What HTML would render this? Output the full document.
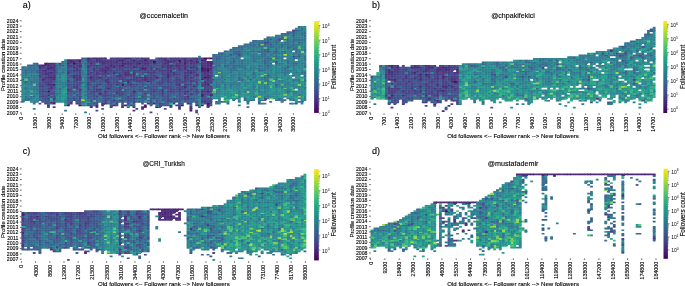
<!DOCTYPE html>
<html><head><meta charset="utf-8"><style>
html,body{margin:0;padding:0;background:#fff;}
svg{display:block;}
text{font-family:"Liberation Sans", sans-serif;fill:#000;stroke:#000;stroke-width:0.12px;filter:grayscale(1);}
</style></head><body>
<svg width="685" height="286" viewBox="0 0 685 286">
<rect width="685" height="286" fill="#fff"/><g>
<path fill="#450457" d="M206.6 69.7h3.42v2.32h-3.42z"/>
<path fill="#30698e" d="M286.4 31.3h3.62v2.72h-3.62zM280.7 33.1h3.32v1.92h-3.32zM280.7 34.8h3.32v2.22h-3.32zM283.5 38.3h3.52v2.72h-3.52zM294.9 40.0h3.12v2.02h-3.12zM237.9 45.3h3.12v2.72h-3.12zM240.8 47.0h3.22v2.02h-3.22zM260.7 48.8h3.32v2.22h-3.32zM252.2 50.5h3.82v2.52h-3.82zM280.7 50.5h3.32v2.52h-3.32zM218.0 54.0h3.02v2.02h-3.02zM235.1 54.0h2.92v2.02h-2.92zM252.2 54.0h3.82v2.02h-3.82zM212.3 55.7h3.72v2.32h-3.72zM215.1 55.7h2.92v2.32h-2.92zM237.9 55.7h3.12v2.32h-3.12zM272.1 55.7h2.92v2.32h-2.92zM229.4 57.5h3.62v2.52h-3.62zM252.2 57.5h3.82v2.52h-3.82zM257.9 57.5h3.12v2.52h-3.12zM215.1 59.2h2.92v1.82h-2.92zM303.5 59.2h2.80v1.82h-2.80zM212.3 61.0h3.72v2.02h-3.72zM55.6 64.4h3.42v2.62h-3.42zM27.1 67.9h2.92v2.12h-2.92zM215.1 67.9h2.92v2.12h-2.92zM292.1 67.9h2.92v2.12h-2.92zM55.6 69.7h3.42v2.32h-3.42zM229.4 69.7h3.62v2.32h-3.62zM235.1 69.7h2.92v2.32h-2.92zM269.3 69.7h3.72v2.32h-3.72zM27.1 71.4h2.92v2.62h-2.92zM280.7 71.4h3.32v2.62h-3.32zM294.9 71.4h3.12v2.62h-3.12zM237.9 73.2h3.12v1.82h-3.12zM257.9 73.2h3.12v1.82h-3.12zM283.5 74.9h3.52v2.12h-3.52zM275.0 78.4h3.02v2.62h-3.02zM55.6 80.1h3.42v1.92h-3.42zM29.9 81.9h3.12v2.12h-3.12zM32.8 81.9h3.22v2.12h-3.22zM215.1 83.6h2.92v2.42h-2.92zM266.4 83.6h3.62v2.42h-3.62zM135.4 85.4h3.62v2.62h-3.62zM158.2 85.4h3.82v2.62h-3.82zM292.1 87.1h2.92v1.92h-2.92zM35.6 88.8h3.42v2.22h-3.42zM126.8 90.6h3.22v2.42h-3.22zM180.9 92.3h3.12v2.72h-3.12zM215.1 92.3h2.92v2.72h-2.92zM69.8 95.8h3.22v2.22h-3.22zM98.3 97.6h3.72v2.42h-3.72zM169.5 97.6h3.52v2.42h-3.52zM175.2 97.6h3.82v2.42h-3.82zM189.5 99.3h3.52v2.72h-3.52zM29.9 101.0h3.12v1.79h-3.12zM67.0 101.0h3.02v2.02h-3.02zM89.8 101.0h3.22v2.02h-3.22zM118.3 101.0h3.72v1.79h-3.72zM297.8 101.0h3.22v1.79h-3.22zM89.8 102.8h3.22v2.22h-3.22zM195.2 102.8h3.82v2.22h-3.82zM64.1 104.5h2.92v1.78h-2.92z"/>
<path fill="#20a386" d="M289.2 54.0h3.82v2.02h-3.82zM243.6 76.6h3.42v2.42h-3.42zM209.4 83.6h3.62v2.42h-3.62zM272.1 83.6h2.92v2.42h-2.92zM300.6 87.1h3.42v1.92h-3.42zM277.8 90.6h3.22v2.42h-3.22zM240.8 92.3h3.22v2.72h-3.22z"/>
<path fill="#443a83" d="M292.1 55.7h2.92v2.32h-2.92zM115.4 57.5h3.62v2.52h-3.62zM121.1 57.5h2.92v2.52h-2.92zM129.7 57.5h3.32v2.52h-3.32zM135.4 57.5h3.62v2.52h-3.62zM143.9 57.5h3.12v2.52h-3.12zM172.4 57.5h3.62v2.52h-3.62zM86.9 59.2h3.12v1.82h-3.12zM115.4 59.2h3.62v1.82h-3.62zM175.2 59.2h3.82v1.82h-3.82zM186.6 59.2h3.42v1.82h-3.42zM89.8 61.0h3.22v2.02h-3.22zM112.6 61.0h3.42v2.02h-3.42zM104.0 62.7h3.02v2.32h-3.02zM109.7 62.7h3.32v2.32h-3.32zM112.6 62.7h3.42v2.32h-3.42zM115.4 62.7h3.62v2.32h-3.62zM161.0 62.7h3.02v2.32h-3.02zM195.2 62.7h3.82v2.32h-3.82zM203.7 62.7h3.32v2.32h-3.32zM44.2 64.4h3.82v2.62h-3.82zM112.6 64.4h3.42v2.62h-3.42zM135.4 64.4h3.62v2.62h-3.62zM146.8 64.4h3.22v2.62h-3.22zM183.8 64.4h3.22v2.62h-3.22zM186.6 64.4h3.42v2.62h-3.42zM192.3 64.4h3.72v2.62h-3.72zM135.4 66.2h3.62v1.82h-3.62zM175.2 66.2h3.82v1.82h-3.82zM195.2 66.2h3.82v1.82h-3.82zM121.1 67.9h2.92v2.12h-2.92zM67.0 69.7h3.02v2.32h-3.02zM189.5 69.7h3.52v2.32h-3.52zM78.4 71.4h3.62v2.62h-3.62zM143.9 71.4h3.12v2.62h-3.12zM149.6 71.4h3.42v2.62h-3.42zM169.5 71.4h3.52v2.62h-3.52zM200.9 71.4h3.12v2.62h-3.12zM41.3 73.2h3.72v1.82h-3.72zM92.6 73.2h3.42v1.82h-3.42zM175.2 73.2h3.82v1.82h-3.82zM200.9 73.2h3.12v1.82h-3.12zM47.0 74.9h3.02v2.12h-3.02zM192.3 74.9h3.72v2.12h-3.72zM203.7 74.9h3.32v2.12h-3.32zM86.9 76.6h3.12v2.42h-3.12zM118.3 76.6h3.72v2.42h-3.72zM121.1 76.6h2.92v2.42h-2.92zM132.5 76.6h3.52v2.42h-3.52zM146.8 76.6h3.22v2.42h-3.22zM200.9 76.6h3.12v2.42h-3.12zM209.4 76.6h3.62v2.42h-3.62zM104.0 78.4h3.02v2.62h-3.02zM126.8 78.4h3.22v2.62h-3.22zM161.0 80.1h3.02v1.92h-3.02zM209.4 80.1h3.62v1.92h-3.62zM44.2 81.9h3.82v2.12h-3.82zM178.1 81.9h2.92v2.12h-2.92zM67.0 83.6h3.02v2.42h-3.02zM86.9 83.6h3.12v2.42h-3.12zM141.1 83.6h2.92v2.42h-2.92zM186.6 83.6h3.42v2.42h-3.42zM189.5 83.6h3.52v2.42h-3.52zM200.9 83.6h3.12v2.42h-3.12zM38.5 85.4h3.52v2.62h-3.52zM49.9 85.4h3.12v2.62h-3.12zM72.7 85.4h3.32v2.62h-3.32zM75.5 85.4h3.52v2.62h-3.52zM95.5 85.4h3.52v2.62h-3.52zM200.9 85.4h3.12v2.62h-3.12zM203.7 85.4h3.32v2.62h-3.32zM72.7 87.1h3.32v1.92h-3.32zM104.0 87.1h3.02v1.92h-3.02zM180.9 87.1h3.12v1.92h-3.12zM203.7 87.1h3.32v1.92h-3.32zM86.9 88.8h3.12v2.22h-3.12zM152.5 88.8h3.52v2.22h-3.52zM195.2 88.8h3.82v2.22h-3.82zM41.3 90.6h3.72v2.42h-3.72zM115.4 90.6h3.62v2.42h-3.62zM166.7 90.6h3.32v2.42h-3.32zM183.8 90.6h3.22v2.42h-3.22zM203.7 90.6h3.32v2.42h-3.32zM209.4 90.6h3.62v2.42h-3.62zM72.7 92.3h3.32v2.72h-3.32zM121.1 92.3h2.92v2.72h-2.92zM98.3 94.1h3.72v1.92h-3.72zM129.7 94.1h3.32v1.92h-3.32zM132.5 94.1h3.52v1.92h-3.52zM41.3 95.8h3.72v2.22h-3.72zM95.5 95.8h3.52v2.22h-3.52zM126.8 95.8h3.22v2.22h-3.22zM78.4 97.6h3.62v2.42h-3.62zM72.7 99.3h3.32v1.75h-3.32zM203.7 99.3h3.32v2.72h-3.32zM149.6 101.0h3.42v2.02h-3.42zM38.5 102.8h2.84v1.74h-2.84zM158.2 102.8h3.82v2.22h-3.82zM95.5 106.3h2.82v1.72h-2.82z"/>
<path fill="#3c4f8a" d="M294.9 29.6h3.12v2.42h-3.12zM237.9 50.5h3.12v2.52h-3.12zM135.4 59.2h3.62v1.82h-3.62zM75.5 61.0h3.52v2.02h-3.52zM266.4 64.4h3.62v2.62h-3.62zM69.8 66.2h3.22v1.82h-3.22zM89.8 67.9h3.22v2.12h-3.22zM112.6 69.7h3.42v2.32h-3.42zM175.2 69.7h3.82v2.32h-3.82zM69.8 71.4h3.22v2.62h-3.22zM72.7 71.4h3.32v2.62h-3.32zM135.4 71.4h3.62v2.62h-3.62zM155.3 71.4h3.72v2.62h-3.72zM158.2 71.4h3.82v2.62h-3.82zM67.0 73.2h3.02v1.82h-3.02zM72.7 73.2h3.32v1.82h-3.32zM89.8 73.2h3.22v1.82h-3.22zM109.7 73.2h3.32v1.82h-3.32zM189.5 73.2h3.52v1.82h-3.52zM44.2 74.9h3.82v2.12h-3.82zM138.2 74.9h3.82v2.12h-3.82zM161.0 74.9h3.02v2.12h-3.02zM175.2 74.9h3.82v2.12h-3.82zM124.0 76.6h3.02v2.42h-3.02zM192.3 76.6h3.72v2.42h-3.72zM86.9 78.4h3.12v2.62h-3.12zM109.7 78.4h3.32v2.62h-3.32zM86.9 80.1h3.12v1.92h-3.12zM132.5 80.1h3.52v1.92h-3.52zM143.9 80.1h3.12v1.92h-3.12zM152.5 80.1h3.52v1.92h-3.52zM141.1 81.9h2.92v2.12h-2.92zM143.9 83.6h3.12v2.42h-3.12zM149.6 83.6h3.42v2.42h-3.42zM52.7 85.4h3.32v2.62h-3.32zM67.0 85.4h3.02v2.62h-3.02zM118.3 85.4h3.72v2.62h-3.72zM155.3 85.4h3.72v2.62h-3.72zM69.8 87.1h3.22v1.92h-3.22zM146.8 87.1h3.22v1.92h-3.22zM155.3 87.1h3.72v1.92h-3.72zM38.5 88.8h3.52v2.22h-3.52zM112.6 88.8h3.42v2.22h-3.42zM124.0 88.8h3.02v2.22h-3.02zM141.1 88.8h2.92v2.22h-2.92zM158.2 88.8h3.82v2.22h-3.82zM52.7 90.6h3.32v2.42h-3.32zM106.9 90.6h3.12v2.42h-3.12zM146.8 90.6h3.22v2.42h-3.22zM155.3 90.6h3.72v2.42h-3.72zM192.3 90.6h3.72v2.42h-3.72zM86.9 92.3h3.12v2.72h-3.12zM89.8 92.3h3.22v2.72h-3.22zM92.6 92.3h3.42v2.72h-3.42zM158.2 92.3h3.82v2.72h-3.82zM143.9 94.1h3.12v1.92h-3.12zM172.4 94.1h3.62v1.92h-3.62zM86.9 95.8h3.12v2.22h-3.12zM101.2 95.8h3.82v2.22h-3.82zM178.1 95.8h2.92v2.22h-2.92zM180.9 95.8h3.12v2.22h-3.12zM104.0 97.6h3.02v2.42h-3.02zM178.1 97.6h2.92v2.42h-2.92zM38.5 99.3h3.52v1.75h-3.52zM75.5 99.3h3.52v2.72h-3.52zM132.5 99.3h3.52v2.72h-3.52zM92.6 101.0h3.42v2.02h-3.42zM95.5 101.0h3.52v2.02h-3.52zM109.7 101.0h3.32v2.02h-3.32zM143.9 101.0h3.12v1.79h-3.12zM178.1 102.8h2.92v2.22h-2.92zM209.4 102.8h2.88v2.22h-2.88zM109.7 104.5h3.32v2.52h-3.32z"/>
<path fill="#38598c" d="M303.5 34.8h2.80v2.22h-2.80zM280.7 38.3h3.32v1.74h-3.32zM266.4 40.0h3.62v2.02h-3.62zM275.0 40.0h3.02v2.02h-3.02zM292.1 40.0h2.92v2.02h-2.92zM252.2 45.3h3.82v2.72h-3.82zM218.0 52.2h3.02v1.82h-3.02zM220.8 52.2h3.22v1.82h-3.22zM272.1 52.2h2.92v1.82h-2.92zM192.3 59.2h3.72v1.82h-3.72zM155.3 61.0h3.72v2.02h-3.72zM155.3 66.2h3.72v1.82h-3.72zM163.9 67.9h3.12v2.12h-3.12zM35.6 69.7h3.42v2.32h-3.42zM260.7 69.7h3.32v2.32h-3.32zM98.3 71.4h3.72v2.62h-3.72zM24.2 73.2h3.82v1.82h-3.82zM152.5 73.2h3.52v1.82h-3.52zM41.3 74.9h3.72v2.12h-3.72zM27.1 76.6h2.92v2.42h-2.92zM169.5 76.6h3.52v2.42h-3.52zM189.5 78.4h3.52v2.62h-3.52zM192.3 78.4h3.72v2.62h-3.72zM169.5 80.1h3.52v1.92h-3.52zM69.8 81.9h3.22v2.12h-3.22zM126.8 85.4h3.22v2.62h-3.22zM195.2 85.4h3.82v2.62h-3.82zM78.4 87.1h3.62v1.92h-3.62zM186.6 87.1h3.42v1.92h-3.42zM146.8 88.8h3.22v2.22h-3.22zM192.3 88.8h3.72v2.22h-3.72zM98.3 90.6h3.72v2.42h-3.72zM138.2 90.6h3.82v2.42h-3.82zM126.8 92.3h3.22v2.72h-3.22zM146.8 92.3h3.22v2.72h-3.22zM163.9 92.3h3.12v2.72h-3.12zM209.4 92.3h3.62v2.72h-3.62zM95.5 94.1h3.52v1.92h-3.52zM135.4 94.1h3.62v1.92h-3.62zM149.6 94.1h3.42v1.92h-3.42zM169.5 94.1h3.52v1.92h-3.52zM175.2 94.1h3.82v1.92h-3.82zM72.7 95.8h3.32v2.22h-3.32zM115.4 95.8h3.62v2.22h-3.62zM132.5 95.8h3.52v2.22h-3.52zM209.4 95.8h3.62v2.22h-3.62zM41.3 97.6h3.72v2.42h-3.72zM69.8 97.6h3.22v2.42h-3.22zM86.9 97.6h3.12v2.42h-3.12zM101.2 97.6h3.82v2.42h-3.82zM135.4 97.6h3.62v2.42h-3.62zM161.0 97.6h3.02v2.42h-3.02zM95.5 99.3h3.52v2.72h-3.52zM106.9 99.3h3.12v2.72h-3.12zM109.7 99.3h3.32v2.72h-3.32zM146.8 99.3h3.22v2.72h-3.22zM163.9 99.3h3.12v2.72h-3.12zM186.6 99.3h3.42v2.72h-3.42zM47.0 101.0h3.02v2.02h-3.02zM126.8 101.0h3.22v2.02h-3.22zM49.9 102.8h3.12v1.74h-3.12zM67.0 102.8h3.02v2.22h-3.02zM166.7 102.8h3.32v2.22h-3.32zM189.5 102.8h2.84v2.22h-2.84zM89.8 104.5h3.22v2.52h-3.22zM149.6 104.5h2.85v1.78h-2.85zM169.5 106.3h2.90v1.72h-2.90z"/>
<path fill="#355e8d" d="M292.1 38.3h2.92v2.72h-2.92zM257.9 43.5h3.12v2.52h-3.12zM280.7 43.5h3.32v2.52h-3.32zM257.9 45.3h3.12v2.72h-3.12zM232.2 47.0h3.82v2.02h-3.82zM294.9 48.8h3.12v2.22h-3.12zM232.2 50.5h3.82v2.52h-3.82zM249.3 50.5h3.72v2.52h-3.72zM232.2 52.2h3.82v1.82h-3.82zM292.1 52.2h2.92v1.82h-2.92zM218.0 55.7h3.02v2.32h-3.02zM81.2 57.5h3.82v2.52h-3.82zM84.1 57.5h2.92v2.52h-2.92zM269.3 57.5h3.72v2.52h-3.72zM292.1 57.5h2.92v2.52h-2.92zM155.3 59.2h3.72v1.82h-3.72zM263.6 59.2h3.42v1.82h-3.42zM98.3 62.7h3.72v2.32h-3.72zM158.2 62.7h3.82v2.32h-3.82zM124.0 64.4h3.02v2.62h-3.02zM235.1 64.4h2.92v2.62h-2.92zM158.2 66.2h3.82v1.82h-3.82zM69.8 67.9h3.22v2.12h-3.22zM112.6 67.9h3.42v2.12h-3.42zM161.0 67.9h3.02v2.12h-3.02zM35.6 71.4h3.42v2.62h-3.42zM55.6 71.4h3.42v2.62h-3.42zM158.2 76.6h3.82v2.42h-3.82zM172.4 76.6h3.62v2.42h-3.62zM237.9 76.6h3.12v2.42h-3.12zM21.4 78.4h3.62v2.62h-3.62zM72.7 78.4h3.32v2.62h-3.32zM29.9 80.1h3.12v1.92h-3.12zM143.9 81.9h3.12v2.12h-3.12zM146.8 83.6h3.22v2.42h-3.22zM155.3 83.6h3.72v2.42h-3.72zM149.6 85.4h3.42v2.62h-3.42zM58.4 87.1h3.62v1.92h-3.62zM95.5 87.1h3.52v1.92h-3.52zM98.3 87.1h3.72v1.92h-3.72zM112.6 87.1h3.42v1.92h-3.42zM129.7 87.1h3.32v1.92h-3.32zM195.2 87.1h3.82v1.92h-3.82zM52.7 88.8h3.32v2.22h-3.32zM89.8 88.8h3.22v2.22h-3.22zM101.2 88.8h3.82v2.22h-3.82zM135.4 88.8h3.62v2.22h-3.62zM129.7 90.6h3.32v2.42h-3.32zM135.4 90.6h3.62v2.42h-3.62zM192.3 92.3h3.72v2.72h-3.72zM38.5 94.1h3.52v1.92h-3.52zM67.0 94.1h3.02v1.92h-3.02zM78.4 94.1h3.62v1.92h-3.62zM192.3 94.1h3.72v1.92h-3.72zM67.0 95.8h3.02v2.22h-3.02zM75.5 95.8h3.52v2.22h-3.52zM106.9 95.8h3.12v2.22h-3.12zM124.0 95.8h3.02v2.22h-3.02zM75.5 97.6h3.52v2.42h-3.52zM109.7 97.6h3.32v2.42h-3.32zM141.1 97.6h2.92v2.42h-2.92zM235.1 97.6h2.92v1.71h-2.92zM115.4 99.3h3.62v2.72h-3.62zM172.4 99.3h3.62v2.72h-3.62zM180.9 99.3h3.12v2.72h-3.12zM163.9 101.0h3.12v2.02h-3.12zM220.8 101.0h3.22v1.79h-3.22zM141.1 102.8h2.81v1.74h-2.81zM161.0 104.5h3.02v1.78h-3.02z"/>
<path fill="#34618d" d="M249.3 43.5h3.72v2.52h-3.72zM240.8 45.3h3.22v2.72h-3.22zM237.9 47.0h3.12v2.02h-3.12zM275.0 47.0h3.02v2.02h-3.02zM283.5 50.5h3.52v2.52h-3.52zM263.6 54.0h3.42v2.02h-3.42zM297.8 54.0h3.22v2.02h-3.22zM84.1 59.2h2.92v1.82h-2.92zM252.2 61.0h3.82v2.02h-3.82zM286.4 61.0h3.62v2.02h-3.62zM263.6 62.7h3.42v2.32h-3.42zM275.0 62.7h3.02v2.32h-3.02zM286.4 62.7h3.62v2.32h-3.62zM294.9 62.7h3.12v2.32h-3.12zM58.4 64.4h3.62v2.62h-3.62zM89.8 66.2h3.22v1.82h-3.22zM132.5 67.9h3.52v2.12h-3.52zM186.6 67.9h3.42v2.12h-3.42zM257.9 67.9h3.12v2.12h-3.12zM29.9 69.7h3.12v2.32h-3.12zM252.2 71.4h3.82v2.62h-3.82zM180.9 73.2h3.12v1.82h-3.12zM178.1 74.9h2.92v2.12h-2.92zM69.8 76.6h3.22v2.42h-3.22zM263.6 76.6h3.42v2.42h-3.42zM67.0 78.4h3.02v2.62h-3.02zM172.4 78.4h3.62v2.62h-3.62zM223.7 78.4h3.32v2.62h-3.32zM155.3 80.1h3.72v1.92h-3.72zM92.6 81.9h3.42v2.12h-3.42zM220.8 81.9h3.22v2.12h-3.22zM161.0 83.6h3.02v2.42h-3.02zM172.4 83.6h3.62v2.42h-3.62zM192.3 83.6h3.72v2.42h-3.72zM175.2 85.4h3.82v2.62h-3.82zM161.0 87.1h3.02v1.92h-3.02zM49.9 90.6h3.12v2.42h-3.12zM101.2 90.6h3.82v2.42h-3.82zM163.9 90.6h3.12v2.42h-3.12zM101.2 92.3h3.82v2.72h-3.82zM141.1 92.3h2.92v2.72h-2.92zM186.6 94.1h3.42v1.92h-3.42zM24.2 95.8h3.82v2.22h-3.82zM32.8 95.8h3.22v2.22h-3.22zM47.0 95.8h3.02v2.22h-3.02zM95.5 97.6h3.52v2.42h-3.52zM209.4 97.6h3.62v2.42h-3.62zM98.3 99.3h3.72v2.72h-3.72zM292.1 99.3h2.92v1.75h-2.92zM257.9 101.0h2.82v2.02h-2.82zM121.1 102.8h2.86v2.22h-2.86zM163.9 102.8h3.12v2.22h-3.12zM226.5 102.8h2.88v1.74h-2.88zM289.2 102.8h3.82v1.74h-3.82zM189.5 104.5h2.84v2.52h-2.84zM101.2 108.0h2.82v1.76h-2.82z"/>
<path fill="#414487" d="M266.4 41.8h3.62v2.22h-3.62zM292.1 47.0h2.92v2.02h-2.92zM169.5 59.2h3.52v1.82h-3.52zM124.0 61.0h3.02v2.02h-3.02zM58.4 62.7h3.62v2.32h-3.62zM132.5 62.7h3.52v2.32h-3.52zM155.3 62.7h3.72v2.32h-3.72zM192.3 62.7h3.72v2.32h-3.72zM104.0 64.4h3.02v2.62h-3.02zM126.8 64.4h3.22v2.62h-3.22zM132.5 64.4h3.52v2.62h-3.52zM152.5 66.2h3.52v1.82h-3.52zM44.2 67.9h3.82v2.12h-3.82zM115.4 67.9h3.62v2.12h-3.62zM138.2 67.9h3.82v2.12h-3.82zM115.4 69.7h3.62v2.32h-3.62zM135.4 69.7h3.62v2.32h-3.62zM146.8 69.7h3.22v2.32h-3.22zM149.6 69.7h3.42v2.32h-3.42zM195.2 69.7h3.82v2.32h-3.82zM106.9 71.4h3.12v2.62h-3.12zM118.3 71.4h3.72v2.62h-3.72zM49.9 73.2h3.12v1.82h-3.12zM121.1 73.2h2.92v1.82h-2.92zM141.1 73.2h2.92v1.82h-2.92zM186.6 73.2h3.42v1.82h-3.42zM69.8 74.9h3.22v2.12h-3.22zM89.8 74.9h3.22v2.12h-3.22zM121.1 74.9h2.92v2.12h-2.92zM38.5 76.6h3.52v2.42h-3.52zM141.1 76.6h2.92v2.42h-2.92zM152.5 76.6h3.52v2.42h-3.52zM163.9 76.6h3.12v2.42h-3.12zM95.5 78.4h3.52v2.62h-3.52zM135.4 78.4h3.62v2.62h-3.62zM41.3 80.1h3.72v1.92h-3.72zM72.7 80.1h3.32v1.92h-3.32zM98.3 80.1h3.72v1.92h-3.72zM172.4 80.1h3.62v1.92h-3.62zM195.2 80.1h3.82v1.92h-3.82zM41.3 81.9h3.72v2.12h-3.72zM166.7 81.9h3.32v2.12h-3.32zM206.6 81.9h3.42v2.12h-3.42zM38.5 83.6h3.52v2.42h-3.52zM44.2 83.6h3.82v2.42h-3.82zM72.7 83.6h3.32v2.42h-3.32zM135.4 83.6h3.62v2.42h-3.62zM158.2 83.6h3.82v2.42h-3.82zM146.8 85.4h3.22v2.62h-3.22zM178.1 85.4h2.92v2.62h-2.92zM183.8 87.1h3.22v1.92h-3.22zM41.3 88.8h3.72v2.22h-3.72zM49.9 88.8h3.12v2.22h-3.12zM69.8 88.8h3.22v2.22h-3.22zM109.7 88.8h3.32v2.22h-3.32zM138.2 88.8h3.82v2.22h-3.82zM183.8 88.8h3.22v2.22h-3.22zM200.9 88.8h3.12v2.22h-3.12zM121.1 90.6h2.92v2.42h-2.92zM149.6 90.6h3.42v2.42h-3.42zM52.7 92.3h3.32v2.72h-3.32zM178.1 92.3h2.92v2.72h-2.92zM200.9 92.3h3.12v2.72h-3.12zM92.6 94.1h3.42v1.92h-3.42zM109.7 94.1h3.32v1.92h-3.32zM121.1 94.1h2.92v1.92h-2.92zM138.2 94.1h3.82v1.92h-3.82zM178.1 94.1h2.92v1.92h-2.92zM206.6 94.1h3.42v1.92h-3.42zM38.5 95.8h3.52v2.22h-3.52zM112.6 95.8h3.42v2.22h-3.42zM166.7 95.8h3.32v2.22h-3.32zM183.8 95.8h3.22v2.22h-3.22zM67.0 97.6h3.02v2.42h-3.02zM78.4 99.3h3.62v2.72h-3.62zM121.1 99.3h2.92v2.72h-2.92zM178.1 99.3h2.92v2.72h-2.92zM206.6 99.3h3.42v2.72h-3.42zM209.4 99.3h2.88v2.72h-2.88zM52.7 101.0h3.32v2.02h-3.32zM280.7 101.0h2.81v1.79h-2.81zM126.8 106.3h2.86v1.72h-2.86z"/>
<path fill="#5cc863" d="M257.9 52.2h3.12v1.82h-3.12zM280.7 83.6h3.32v2.42h-3.32zM223.7 99.3h3.32v2.72h-3.32z"/>
<path fill="#1f948c" d="M300.6 47.0h3.42v2.02h-3.42zM303.5 52.2h2.80v1.82h-2.80zM252.2 62.7h3.82v2.32h-3.82zM272.1 64.4h2.92v2.62h-2.92zM237.9 67.9h3.12v2.12h-3.12zM294.9 67.9h3.12v2.12h-3.12zM98.3 74.9h3.72v2.12h-3.72zM277.8 74.9h3.22v2.12h-3.22zM198.0 76.6h3.02v2.42h-3.02zM220.8 83.6h3.22v2.42h-3.22zM246.5 83.6h3.52v2.42h-3.52zM226.5 85.4h3.52v2.62h-3.52zM226.5 87.1h3.52v1.92h-3.52zM275.0 87.1h3.02v1.92h-3.02zM240.8 88.8h3.22v2.22h-3.22zM249.3 88.8h3.72v2.22h-3.72zM283.5 90.6h3.52v2.42h-3.52zM297.8 90.6h3.22v2.42h-3.22zM81.2 92.3h3.82v2.72h-3.82zM84.1 92.3h2.92v2.72h-2.92zM229.4 92.3h3.62v2.72h-3.62zM257.9 92.3h3.12v2.72h-3.12zM21.4 94.1h3.62v1.92h-3.62zM49.9 94.1h3.12v1.92h-3.12zM183.8 94.1h3.22v1.92h-3.22zM263.6 94.1h3.42v1.92h-3.42zM55.6 97.6h3.42v2.42h-3.42zM246.5 97.6h3.52v2.42h-3.52zM300.6 97.6h3.42v2.42h-3.42zM29.9 99.3h3.12v2.72h-3.12zM61.3 99.3h3.72v2.72h-3.72zM246.5 99.3h3.52v2.72h-3.52zM146.8 101.0h3.22v2.02h-3.22zM175.2 101.0h3.82v1.79h-3.82zM112.6 102.8h3.42v2.22h-3.42z"/>
<path fill="#471063" d="M44.2 62.7h3.82v2.32h-3.82zM200.9 66.2h3.12v1.82h-3.12zM141.1 67.9h2.92v2.12h-2.92zM206.6 67.9h3.42v2.12h-3.42zM146.8 80.1h3.22v1.92h-3.22zM180.9 104.5h2.89v1.78h-2.89zM200.9 104.5h2.84v1.78h-2.84z"/>
<path fill="#297b8e" d="M297.8 33.1h3.22v1.92h-3.22zM286.4 34.8h3.62v2.22h-3.62zM303.5 36.6h2.80v2.42h-2.80zM257.9 40.0h3.12v2.02h-3.12zM249.3 41.8h3.72v2.22h-3.72zM255.0 47.0h3.02v2.02h-3.02zM277.8 47.0h3.22v2.02h-3.22zM246.5 50.5h3.52v2.52h-3.52zM286.4 50.5h3.62v2.52h-3.62zM303.5 50.5h2.80v2.52h-2.80zM252.2 52.2h3.82v1.82h-3.82zM226.5 54.0h3.52v2.02h-3.52zM280.7 54.0h3.32v2.02h-3.32zM292.1 54.0h2.92v2.02h-2.92zM240.8 55.7h3.22v1.77h-3.22zM249.3 55.7h3.72v2.32h-3.72zM289.2 55.7h3.82v2.32h-3.82zM249.3 59.2h3.72v1.82h-3.72zM84.1 61.0h2.92v2.02h-2.92zM257.9 61.0h3.12v2.02h-3.12zM249.3 64.4h3.72v2.62h-3.72zM260.7 64.4h3.32v2.62h-3.32zM277.8 64.4h3.22v2.62h-3.22zM294.9 64.4h3.12v2.62h-3.12zM263.6 66.2h3.42v1.82h-3.42zM283.5 66.2h3.52v1.82h-3.52zM58.4 67.9h3.62v2.12h-3.62zM64.1 67.9h2.92v2.12h-2.92zM260.7 67.9h3.32v2.12h-3.32zM280.7 67.9h3.32v2.12h-3.32zM212.3 69.7h3.72v2.32h-3.72zM263.6 69.7h3.42v2.32h-3.42zM294.9 69.7h3.12v2.32h-3.12zM58.4 71.4h3.62v2.62h-3.62zM243.6 71.4h3.42v2.62h-3.42zM198.0 73.2h3.02v1.82h-3.02zM235.1 73.2h2.92v1.82h-2.92zM58.4 74.9h3.62v2.12h-3.62zM198.0 74.9h3.02v2.12h-3.02zM237.9 74.9h3.12v2.12h-3.12zM269.3 74.9h3.72v2.12h-3.72zM232.2 76.6h3.82v2.42h-3.82zM294.9 78.4h3.12v2.62h-3.12zM283.5 80.1h3.52v1.92h-3.52zM266.4 81.9h3.62v2.12h-3.62zM27.1 83.6h2.92v2.42h-2.92zM243.6 85.4h3.42v2.62h-3.42zM292.1 85.4h2.92v2.62h-2.92zM252.2 87.1h3.82v1.92h-3.82zM280.7 87.1h3.32v1.92h-3.32zM29.9 88.8h3.12v2.22h-3.12zM218.0 88.8h3.02v2.22h-3.02zM294.9 90.6h3.12v2.42h-3.12zM64.1 92.3h2.92v2.72h-2.92zM75.5 92.3h3.52v2.72h-3.52zM235.1 92.3h2.92v2.72h-2.92zM252.2 92.3h3.82v2.72h-3.82zM292.1 92.3h2.92v2.72h-2.92zM294.9 92.3h3.12v2.72h-3.12zM232.2 94.1h3.82v1.92h-3.82zM300.6 94.1h3.42v1.92h-3.42zM58.4 95.8h3.62v2.22h-3.62zM155.3 95.8h3.72v2.22h-3.72zM303.5 95.8h2.80v2.22h-2.80zM266.4 97.6h3.62v1.71h-3.62zM303.5 97.6h2.80v2.42h-2.80zM84.1 99.3h2.92v2.72h-2.92zM218.0 101.0h3.02v2.02h-3.02zM223.7 101.0h3.32v1.79h-3.32zM84.1 111.5h2.83v1.75h-2.83z"/>
<path fill="#472d7b" d="M161.0 57.5h3.02v2.52h-3.02zM180.9 57.5h3.12v2.52h-3.12zM183.8 57.5h3.22v2.52h-3.22zM195.2 57.5h3.82v2.52h-3.82zM75.5 59.2h3.52v1.82h-3.52zM138.2 59.2h3.82v1.82h-3.82zM195.2 59.2h3.82v1.82h-3.82zM86.9 61.0h3.12v2.02h-3.12zM98.3 61.0h3.72v2.02h-3.72zM126.8 61.0h3.22v2.02h-3.22zM189.5 61.0h3.52v2.02h-3.52zM52.7 62.7h3.32v2.32h-3.32zM135.4 62.7h3.62v2.32h-3.62zM152.5 62.7h3.52v2.32h-3.52zM163.9 62.7h3.12v2.32h-3.12zM166.7 62.7h3.32v2.32h-3.32zM189.5 62.7h3.52v2.32h-3.52zM206.6 62.7h3.42v2.32h-3.42zM118.3 64.4h3.72v2.62h-3.72zM166.7 64.4h3.32v2.62h-3.32zM118.3 66.2h3.72v1.82h-3.72zM38.5 67.9h3.52v2.12h-3.52zM49.9 67.9h3.12v2.12h-3.12zM52.7 67.9h3.32v2.12h-3.32zM75.5 67.9h3.52v2.12h-3.52zM41.3 69.7h3.72v2.32h-3.72zM161.0 69.7h3.02v2.32h-3.02zM186.6 69.7h3.42v2.32h-3.42zM67.0 71.4h3.02v2.62h-3.02zM183.8 71.4h3.22v2.62h-3.22zM203.7 71.4h3.32v2.62h-3.32zM206.6 71.4h3.42v2.62h-3.42zM47.0 73.2h3.02v1.82h-3.02zM203.7 73.2h3.32v1.82h-3.32zM126.8 74.9h3.22v2.12h-3.22zM72.7 76.6h3.32v2.42h-3.32zM166.7 76.6h3.32v2.42h-3.32zM189.5 76.6h3.52v2.42h-3.52zM92.6 80.1h3.42v1.92h-3.42zM166.7 80.1h3.32v1.92h-3.32zM41.3 85.4h3.72v2.62h-3.72zM75.5 87.1h3.52v1.92h-3.52zM161.0 90.6h3.02v2.42h-3.02zM186.6 95.8h3.42v2.22h-3.42zM203.7 101.0h3.32v2.02h-3.32zM178.1 106.3h2.84v2.72h-2.84zM178.1 108.0h2.84v1.76h-2.84z"/>
<path fill="#481b6d" d="M67.0 59.2h3.02v1.82h-3.02zM78.4 61.0h3.62v2.02h-3.62zM206.6 61.0h3.42v2.02h-3.42zM138.2 62.7h3.82v2.32h-3.82zM183.8 62.7h3.22v2.32h-3.22zM112.6 66.2h3.42v1.82h-3.42zM143.9 67.9h3.12v2.12h-3.12zM195.2 73.2h3.82v1.82h-3.82zM89.8 76.6h3.22v2.42h-3.22zM52.7 83.6h3.32v2.42h-3.32zM47.0 94.1h3.02v1.92h-3.02zM132.5 106.3h2.86v1.72h-2.86z"/>
<path fill="#1f9e89" d="M277.8 66.2h3.22v1.82h-3.22zM235.1 78.4h2.92v2.62h-2.92zM220.8 85.4h3.22v2.62h-3.22zM303.5 85.4h2.80v2.62h-2.80zM260.7 88.8h3.32v2.22h-3.32zM272.1 88.8h2.92v2.22h-2.92zM277.8 88.8h3.22v2.22h-3.22zM232.2 90.6h3.82v2.42h-3.82zM243.6 92.3h3.42v2.72h-3.42zM280.7 94.1h3.32v1.92h-3.32zM206.6 95.8h3.42v2.22h-3.42zM21.4 97.6h3.62v2.42h-3.62zM61.3 97.6h3.72v2.42h-3.72zM198.0 101.0h3.02v2.02h-3.02z"/>
<path fill="#3dbc74" d="M215.1 87.1h2.92v1.92h-2.92z"/>
<path fill="#31b57b" d="M29.9 90.6h3.12v2.42h-3.12zM146.8 97.6h3.22v2.42h-3.22zM294.9 97.6h3.12v2.42h-3.12z"/>
<path fill="#482576" d="M95.5 57.5h3.52v2.52h-3.52zM98.3 57.5h3.72v2.52h-3.72zM183.8 59.2h3.22v1.82h-3.22zM115.4 61.0h3.62v2.02h-3.62zM169.5 61.0h3.52v2.02h-3.52zM49.9 62.7h3.12v2.32h-3.12zM89.8 62.7h3.22v2.32h-3.22zM200.9 64.4h3.12v2.62h-3.12zM141.1 66.2h2.92v1.82h-2.92zM106.9 67.9h3.12v2.12h-3.12zM44.2 69.7h3.82v2.32h-3.82zM169.5 69.7h3.52v2.32h-3.52zM189.5 71.4h3.52v2.62h-3.52zM172.4 73.2h3.62v1.82h-3.62zM72.7 74.9h3.32v2.12h-3.32zM78.4 74.9h3.62v2.12h-3.62zM47.0 76.6h3.02v2.42h-3.02zM49.9 76.6h3.12v2.42h-3.12zM143.9 76.6h3.12v2.42h-3.12zM52.7 78.4h3.32v2.62h-3.32zM104.0 80.1h3.02v1.92h-3.02zM106.9 81.9h3.12v2.12h-3.12zM126.8 81.9h3.22v2.12h-3.22zM203.7 81.9h3.32v2.12h-3.32zM49.9 83.6h3.12v2.42h-3.12zM192.3 85.4h3.72v2.62h-3.72zM178.1 88.8h2.92v2.22h-2.92zM186.6 90.6h3.42v2.42h-3.42zM200.9 95.8h3.12v2.22h-3.12zM49.9 101.0h3.12v2.02h-3.12zM47.0 104.5h2.89v2.52h-2.89zM112.6 104.5h3.42v1.78h-3.42z"/>
<path fill="#48186a" d="M189.5 59.2h3.52v1.82h-3.52zM69.8 61.0h3.22v2.02h-3.22zM41.3 64.4h3.72v2.62h-3.72zM209.4 64.4h3.62v2.62h-3.62zM203.7 67.9h3.32v2.12h-3.32zM104.0 69.7h3.02v2.32h-3.02zM200.9 69.7h3.12v2.32h-3.12zM166.7 74.9h3.32v2.12h-3.32zM69.8 101.0h2.88v2.02h-2.88zM152.5 102.8h3.52v1.74h-3.52zM206.6 104.5h3.42v2.52h-3.42z"/>
<path fill="#20928c" d="M243.6 47.0h3.42v2.02h-3.42zM280.7 48.8h3.32v2.22h-3.32zM300.6 52.2h3.42v1.82h-3.42zM294.9 54.0h3.12v2.02h-3.12zM255.0 62.7h3.02v2.32h-3.02zM246.5 64.4h3.52v2.62h-3.52zM106.9 74.9h3.12v2.12h-3.12zM61.3 78.4h3.72v2.62h-3.72zM243.6 78.4h3.42v2.62h-3.42zM246.5 78.4h3.52v2.62h-3.52zM124.0 81.9h3.02v2.12h-3.02zM269.3 81.9h3.72v2.12h-3.72zM21.4 85.4h3.62v2.62h-3.62zM55.6 85.4h3.42v2.62h-3.42zM249.3 85.4h3.72v2.62h-3.72zM218.0 87.1h3.02v1.92h-3.02zM272.1 87.1h2.92v1.92h-2.92zM27.1 88.8h2.92v2.22h-2.92zM64.1 88.8h2.92v2.22h-2.92zM269.3 88.8h3.72v2.22h-3.72zM223.7 90.6h3.32v2.42h-3.32zM235.1 90.6h2.92v2.42h-2.92zM269.3 90.6h3.72v2.42h-3.72zM272.1 90.6h2.92v2.42h-2.92zM289.2 90.6h3.82v2.42h-3.82zM303.5 90.6h2.80v2.42h-2.80zM218.0 94.1h3.02v1.92h-3.02zM237.9 94.1h3.12v1.92h-3.12zM275.0 94.1h3.02v1.92h-3.02zM303.5 94.1h2.80v1.92h-2.80zM81.2 95.8h3.82v2.22h-3.82zM220.8 95.8h3.22v1.76h-3.22zM229.4 95.8h3.62v2.22h-3.62zM294.9 95.8h3.12v2.22h-3.12zM64.1 97.6h2.92v2.42h-2.92zM198.0 97.6h3.02v2.42h-3.02zM237.9 97.6h2.87v2.42h-2.87zM275.0 97.6h3.02v2.42h-3.02zM49.9 99.3h3.12v2.72h-3.12zM126.8 104.5h3.22v2.52h-3.22z"/>
<path fill="#1fa188" d="M297.8 69.7h3.22v2.32h-3.22zM289.2 71.4h3.82v1.76h-3.82zM115.4 73.2h3.62v1.82h-3.62zM289.2 76.6h2.86v2.42h-2.86zM240.8 83.6h3.22v2.42h-3.22zM64.1 90.6h2.92v2.42h-2.92zM112.6 92.3h3.42v2.72h-3.42zM220.8 94.1h3.22v1.92h-3.22z"/>
<path fill="#3b528b" d="M286.4 33.1h3.62v1.92h-3.62zM269.3 43.5h3.72v2.52h-3.72zM297.8 55.7h3.22v2.32h-3.22zM138.2 57.5h3.82v2.52h-3.82zM155.3 57.5h3.72v2.52h-3.72zM215.1 57.5h2.92v2.52h-2.92zM232.2 59.2h3.82v1.82h-3.82zM186.6 62.7h3.42v2.32h-3.42zM198.0 62.7h3.02v2.32h-3.02zM61.3 64.4h3.72v2.62h-3.72zM152.5 64.4h3.52v2.62h-3.52zM155.3 64.4h3.72v2.62h-3.72zM180.9 71.4h3.12v2.62h-3.12zM104.0 73.2h3.02v1.82h-3.02zM112.6 73.2h3.42v1.82h-3.42zM180.9 74.9h3.12v2.12h-3.12zM189.5 74.9h3.52v2.12h-3.52zM104.0 76.6h3.02v2.42h-3.02zM112.6 76.6h3.42v2.42h-3.42zM169.5 78.4h3.52v2.62h-3.52zM212.3 78.4h3.72v2.62h-3.72zM249.3 78.4h3.72v2.62h-3.72zM69.8 80.1h3.22v1.92h-3.22zM89.8 80.1h3.22v1.92h-3.22zM186.6 80.1h3.42v1.92h-3.42zM52.7 81.9h3.32v2.12h-3.32zM67.0 81.9h3.02v2.12h-3.02zM72.7 81.9h3.32v2.12h-3.32zM98.3 81.9h3.72v2.12h-3.72zM129.7 81.9h3.32v2.12h-3.32zM69.8 83.6h3.22v2.42h-3.22zM166.7 83.6h3.32v2.42h-3.32zM169.5 83.6h3.52v2.42h-3.52zM275.0 83.6h3.02v2.42h-3.02zM44.2 85.4h3.82v2.62h-3.82zM69.8 85.4h3.22v2.62h-3.22zM141.1 85.4h2.92v2.62h-2.92zM189.5 85.4h3.52v2.62h-3.52zM41.3 87.1h3.72v1.92h-3.72zM44.2 87.1h3.82v1.92h-3.82zM67.0 87.1h3.02v1.92h-3.02zM189.5 87.1h3.52v1.92h-3.52zM126.8 88.8h3.22v2.22h-3.22zM155.3 88.8h3.72v2.22h-3.72zM166.7 88.8h3.32v2.22h-3.32zM175.2 88.8h3.82v2.22h-3.82zM112.6 90.6h3.42v2.42h-3.42zM41.3 92.3h3.72v2.72h-3.72zM78.4 92.3h3.62v2.72h-3.62zM109.7 92.3h3.32v2.72h-3.32zM129.7 92.3h3.32v2.72h-3.32zM166.7 92.3h3.32v2.72h-3.32zM52.7 94.1h3.32v1.92h-3.32zM195.2 94.1h3.82v1.92h-3.82zM203.7 94.1h3.32v1.92h-3.32zM92.6 95.8h3.42v2.22h-3.42zM121.1 95.8h2.92v2.22h-2.92zM129.7 95.8h3.32v2.22h-3.32zM152.5 95.8h3.52v2.22h-3.52zM129.7 97.6h3.32v2.42h-3.32zM163.9 97.6h3.12v2.42h-3.12zM180.9 97.6h3.12v2.42h-3.12zM200.9 97.6h3.12v2.42h-3.12zM44.2 99.3h3.82v2.72h-3.82zM52.7 99.3h3.32v2.72h-3.32zM169.5 99.3h3.52v2.72h-3.52zM183.8 99.3h3.22v2.72h-3.22zM192.3 99.3h3.72v2.72h-3.72zM249.3 99.3h3.72v1.75h-3.72zM263.6 99.3h2.81v1.75h-2.81zM44.2 101.0h3.82v2.02h-3.82zM121.1 101.0h2.92v2.02h-2.92zM121.1 104.5h2.92v2.52h-2.92zM132.5 104.5h2.86v2.52h-2.86z"/>
<path fill="#8ed645" d="M260.7 43.5h3.32v2.52h-3.32zM300.6 50.5h3.42v2.52h-3.42zM260.7 74.9h3.32v2.12h-3.32zM29.9 94.1h3.12v1.92h-3.12z"/>
<path fill="#24878e" d="M303.5 26.1h2.80v1.92h-2.80zM297.8 27.8h3.22v2.22h-3.22zM286.4 36.6h3.62v2.42h-3.62zM272.1 40.0h2.92v2.02h-2.92zM297.8 40.0h3.22v2.02h-3.22zM289.2 41.8h3.82v2.22h-3.82zM289.2 47.0h3.82v2.02h-3.82zM297.8 52.2h3.22v1.82h-3.22zM303.5 54.0h2.80v2.02h-2.80zM286.4 55.7h3.62v2.32h-3.62zM300.6 57.5h3.42v2.52h-3.42zM220.8 59.2h3.22v1.82h-3.22zM283.5 61.0h3.52v2.02h-3.52zM81.2 64.4h3.82v2.62h-3.82zM81.2 66.2h3.82v1.82h-3.82zM152.5 67.9h3.52v2.12h-3.52zM223.7 67.9h3.32v2.12h-3.32zM240.8 67.9h3.22v2.12h-3.22zM297.8 67.9h3.22v2.12h-3.22zM212.3 71.4h3.72v2.62h-3.72zM240.8 71.4h3.22v2.62h-3.22zM255.0 71.4h3.02v2.62h-3.02zM266.4 71.4h3.62v2.62h-3.62zM249.3 74.9h3.72v2.12h-3.72zM81.2 76.6h3.82v2.42h-3.82zM235.1 76.6h2.92v2.42h-2.92zM300.6 76.6h3.42v2.42h-3.42zM283.5 78.4h3.52v2.62h-3.52zM223.7 80.1h3.32v1.92h-3.32zM269.3 80.1h3.72v1.92h-3.72zM235.1 81.9h2.92v2.12h-2.92zM198.0 83.6h3.02v2.42h-3.02zM263.6 83.6h3.42v2.42h-3.42zM143.9 85.4h3.12v2.62h-3.12zM61.3 87.1h3.72v1.92h-3.72zM237.9 87.1h3.12v1.92h-3.12zM81.2 88.8h3.82v2.22h-3.82zM215.1 88.8h2.92v2.22h-2.92zM255.0 88.8h3.02v2.22h-3.02zM263.6 88.8h3.42v2.22h-3.42zM275.0 88.8h3.02v2.22h-3.02zM32.8 90.6h3.22v2.42h-3.22zM266.4 90.6h3.62v2.42h-3.62zM21.4 92.3h3.62v2.72h-3.62zM212.3 92.3h3.72v2.72h-3.72zM263.6 92.3h3.42v2.72h-3.42zM300.6 92.3h3.42v2.72h-3.42zM81.2 94.1h3.82v1.92h-3.82zM249.3 94.1h3.72v1.92h-3.72zM255.0 94.1h3.02v1.92h-3.02zM286.4 94.1h3.62v1.92h-3.62zM64.1 95.8h2.92v2.22h-2.92zM84.1 95.8h2.92v2.22h-2.92zM218.0 95.8h3.02v2.22h-3.02zM32.8 97.6h3.22v2.42h-3.22zM35.6 97.6h3.42v2.42h-3.42zM58.4 97.6h3.62v2.42h-3.62zM212.3 97.6h3.72v1.71h-3.72zM280.7 97.6h2.81v2.42h-2.81zM27.1 99.3h2.92v1.75h-2.92zM289.2 99.3h3.82v1.75h-3.82zM263.6 102.8h2.81v1.74h-2.81z"/>
<path fill="#67cc5c" d="M263.6 81.9h3.42v2.12h-3.42z"/>
<path fill="#26ad81" d="M135.4 73.2h3.62v1.82h-3.62zM180.9 83.6h3.12v2.42h-3.12zM72.7 88.8h3.32v2.22h-3.32zM255.0 90.6h3.02v2.42h-3.02zM286.4 95.8h3.62v2.22h-3.62z"/>
<path fill="#26828e" d="M289.2 43.5h3.82v2.52h-3.82zM280.7 47.0h3.32v2.02h-3.32zM249.3 48.8h3.72v2.22h-3.72zM300.6 48.8h3.42v2.22h-3.42zM269.3 52.2h3.72v1.82h-3.72zM300.6 54.0h3.42v2.02h-3.42zM260.7 57.5h3.32v2.52h-3.32zM277.8 57.5h3.22v2.52h-3.22zM235.1 61.0h2.92v2.02h-2.92zM294.9 61.0h3.12v2.02h-3.12zM81.2 62.7h3.82v2.32h-3.82zM220.8 62.7h3.22v2.32h-3.22zM246.5 62.7h3.52v2.32h-3.52zM260.7 62.7h3.32v2.32h-3.32zM289.2 62.7h3.82v2.32h-3.82zM229.4 64.4h3.62v2.62h-3.62zM257.9 66.2h3.12v1.82h-3.12zM275.0 67.9h3.02v2.12h-3.02zM286.4 67.9h3.62v2.12h-3.62zM64.1 69.7h2.92v2.32h-2.92zM249.3 69.7h3.72v2.32h-3.72zM300.6 69.7h3.42v2.32h-3.42zM297.8 71.4h3.22v2.62h-3.22zM212.3 73.2h3.72v1.82h-3.72zM294.9 73.2h3.12v1.82h-3.12zM64.1 74.9h2.92v2.12h-2.92zM84.1 74.9h2.92v2.12h-2.92zM240.8 74.9h3.22v2.12h-3.22zM246.5 74.9h3.52v2.12h-3.52zM255.0 74.9h3.02v2.12h-3.02zM275.0 74.9h3.02v2.12h-3.02zM35.6 76.6h3.42v2.42h-3.42zM272.1 76.6h2.92v2.42h-2.92zM303.5 76.6h2.80v2.42h-2.80zM220.8 78.4h3.22v2.62h-3.22zM255.0 78.4h3.02v2.62h-3.02zM266.4 78.4h3.62v2.62h-3.62zM27.1 80.1h2.92v1.92h-2.92zM252.2 80.1h3.82v1.92h-3.82zM275.0 80.1h3.02v1.92h-3.02zM21.4 81.9h3.62v2.12h-3.62zM226.5 81.9h3.52v2.12h-3.52zM275.0 81.9h3.02v2.12h-3.02zM280.7 81.9h3.32v2.12h-3.32zM303.5 81.9h2.80v2.12h-2.80zM21.4 83.6h3.62v2.42h-3.62zM24.2 83.6h3.82v2.42h-3.82zM232.2 83.6h3.82v2.42h-3.82zM64.1 85.4h2.92v2.62h-2.92zM81.2 85.4h3.82v2.62h-3.82zM300.6 85.4h3.42v2.62h-3.42zM84.1 87.1h2.92v1.92h-2.92zM21.4 88.8h3.62v2.22h-3.62zM198.0 88.8h3.02v2.22h-3.02zM232.2 88.8h3.82v2.22h-3.82zM237.9 88.8h3.12v2.22h-3.12zM283.5 88.8h3.52v2.22h-3.52zM286.4 88.8h3.62v2.22h-3.62zM32.8 92.3h3.22v2.72h-3.22zM223.7 92.3h3.32v2.72h-3.32zM215.1 94.1h2.92v1.92h-2.92zM218.0 97.6h2.83v2.42h-2.83zM292.1 97.6h2.92v2.42h-2.92zM58.4 99.3h3.62v2.72h-3.62zM55.6 101.0h3.42v1.79h-3.42zM84.1 101.0h2.92v2.02h-2.92zM84.1 104.5h2.92v1.78h-2.92zM32.8 108.0h2.84v1.76h-2.84z"/>
<path fill="#2c738e" d="M300.6 29.6h3.42v2.42h-3.42zM300.6 31.3h3.42v2.72h-3.42zM275.0 34.8h3.02v2.22h-3.02zM283.5 34.8h3.52v2.22h-3.52zM263.6 38.3h3.42v2.72h-3.42zM277.8 40.0h2.86v2.02h-2.86zM252.2 41.8h3.82v2.22h-3.82zM235.1 48.8h2.92v2.22h-2.92zM243.6 50.5h3.42v2.52h-3.42zM255.0 50.5h3.02v2.52h-3.02zM283.5 52.2h3.52v1.82h-3.52zM215.1 54.0h2.92v2.02h-2.92zM223.7 54.0h3.32v2.02h-3.32zM286.4 54.0h3.62v2.02h-3.62zM226.5 55.7h3.52v2.32h-3.52zM263.6 55.7h3.42v2.32h-3.42zM220.8 57.5h3.22v2.52h-3.22zM223.7 57.5h3.32v2.52h-3.32zM237.9 57.5h2.87v2.52h-2.87zM263.6 57.5h3.42v2.52h-3.42zM280.7 59.2h3.32v1.82h-3.32zM283.5 59.2h3.52v1.82h-3.52zM240.8 61.0h3.22v2.02h-3.22zM246.5 61.0h3.52v2.02h-3.52zM297.8 61.0h3.22v2.02h-3.22zM32.8 62.7h3.22v2.32h-3.22zM55.6 62.7h3.42v2.32h-3.42zM218.0 62.7h3.02v2.32h-3.02zM277.8 62.7h3.22v2.32h-3.22zM300.6 62.7h3.42v2.32h-3.42zM240.8 64.4h3.22v2.62h-3.22zM303.5 64.4h2.80v2.62h-2.80zM55.6 66.2h3.42v1.82h-3.42zM223.7 66.2h3.32v1.82h-3.32zM275.0 66.2h3.02v1.82h-3.02zM280.7 66.2h3.32v1.82h-3.32zM24.2 67.9h3.82v2.12h-3.82zM61.3 67.9h3.72v2.12h-3.72zM198.0 67.9h3.02v2.12h-3.02zM27.1 69.7h2.92v2.32h-2.92zM61.3 69.7h3.72v2.32h-3.72zM232.2 69.7h3.82v2.32h-3.82zM21.4 71.4h3.62v2.62h-3.62zM81.2 71.4h3.82v2.62h-3.82zM286.4 71.4h3.62v2.62h-3.62zM21.4 74.9h3.62v2.12h-3.62zM32.8 76.6h3.22v2.42h-3.22zM226.5 76.6h3.52v2.42h-3.52zM27.1 78.4h2.92v2.62h-2.92zM32.8 78.4h3.22v2.62h-3.22zM158.2 78.4h3.82v2.62h-3.82zM297.8 78.4h3.22v2.62h-3.22zM212.3 80.1h3.72v1.92h-3.72zM220.8 80.1h3.22v1.92h-3.22zM297.8 80.1h3.22v1.92h-3.22zM64.1 81.9h2.92v2.12h-2.92zM64.1 83.6h2.92v2.42h-2.92zM84.1 83.6h2.92v2.42h-2.92zM218.0 83.6h3.02v2.42h-3.02zM283.5 83.6h3.52v2.42h-3.52zM229.4 85.4h3.62v2.62h-3.62zM32.8 87.1h3.22v1.92h-3.22zM235.1 87.1h2.92v1.92h-2.92zM297.8 87.1h3.22v1.92h-3.22zM24.2 88.8h3.82v2.22h-3.82zM58.4 88.8h3.62v2.22h-3.62zM215.1 90.6h2.92v2.42h-2.92zM44.2 92.3h3.82v2.72h-3.82zM55.6 94.1h3.42v1.92h-3.42zM257.9 94.1h3.12v1.92h-3.12zM292.1 94.1h2.92v1.92h-2.92zM135.4 95.8h3.62v2.22h-3.62zM192.3 95.8h3.72v2.22h-3.72zM112.6 97.6h3.42v2.42h-3.42zM158.2 97.6h3.82v2.42h-3.82zM195.2 97.6h3.82v2.42h-3.82zM195.2 99.3h3.82v2.72h-3.82zM277.8 99.3h3.22v1.75h-3.22zM192.3 101.0h3.72v1.79h-3.72zM32.8 102.8h2.84v1.74h-2.84zM218.0 102.8h2.83v1.74h-2.83zM64.1 109.8h2.88v1.71h-2.88z"/>
<path fill="#440154" d="M203.7 57.5h3.32v2.52h-3.32zM209.4 57.5h3.62v1.72h-3.62zM178.1 59.2h2.92v1.82h-2.92zM152.5 61.0h3.52v2.02h-3.52zM72.7 62.7h3.32v2.32h-3.32zM47.0 90.6h3.02v2.42h-3.02zM78.4 104.5h3.62v1.78h-3.62zM189.5 109.8h2.84v1.71h-2.84z"/>
<path fill="#46085c" d="M178.1 61.0h2.92v2.02h-2.92zM200.9 67.9h3.12v2.12h-3.12zM203.7 76.6h3.32v2.42h-3.32zM155.3 106.3h3.72v1.72h-3.72z"/>
<path fill="#1f998a" d="M283.5 62.7h3.52v2.32h-3.52zM246.5 66.2h3.52v1.82h-3.52zM81.2 67.9h3.82v2.12h-3.82zM272.1 71.4h2.92v2.62h-2.92zM300.6 73.2h3.42v1.70h-3.42zM141.1 74.9h2.92v2.12h-2.92zM218.0 74.9h3.02v2.12h-3.02zM289.2 74.9h3.82v2.12h-3.82zM226.5 78.4h3.52v2.62h-3.52zM300.6 81.9h3.42v2.12h-3.42zM255.0 83.6h3.02v2.42h-3.02zM229.4 88.8h3.62v2.22h-3.62zM229.4 90.6h3.62v2.42h-3.62zM280.7 92.3h3.32v2.72h-3.32zM283.5 92.3h3.52v2.72h-3.52zM260.7 95.8h3.32v2.22h-3.32zM81.2 97.6h3.82v2.42h-3.82zM229.4 97.6h3.62v1.71h-3.62zM272.1 97.6h2.92v1.71h-2.92zM64.1 102.8h2.92v2.22h-2.92zM300.6 102.8h2.85v1.74h-2.85zM198.0 104.5h3.02v2.52h-3.02z"/>
<path fill="#89d548" d="M272.1 57.5h2.92v2.52h-2.92zM257.9 80.1h3.12v1.92h-3.12z"/>
<path fill="#2db27d" d="M283.5 40.0h3.52v2.02h-3.52zM212.3 64.4h3.72v2.62h-3.72zM129.7 71.4h3.32v2.62h-3.32zM146.8 94.1h3.22v1.92h-3.22zM223.7 95.8h3.32v2.22h-3.32zM118.3 97.6h3.72v2.42h-3.72zM92.6 99.3h3.42v2.72h-3.42zM86.9 101.0h3.12v2.02h-3.12z"/>
<path fill="#404688" d="M269.3 38.3h3.72v2.72h-3.72zM235.1 52.2h2.92v1.82h-2.92zM229.4 54.0h3.62v2.02h-3.62zM89.8 57.5h3.22v2.52h-3.22zM178.1 57.5h2.92v2.52h-2.92zM146.8 59.2h3.22v1.82h-3.22zM180.9 59.2h3.12v1.82h-3.12zM129.7 61.0h3.32v2.02h-3.32zM200.9 61.0h3.12v2.02h-3.12zM275.0 61.0h3.02v2.02h-3.02zM78.4 62.7h3.62v2.32h-3.62zM98.3 64.4h3.72v2.62h-3.72zM101.2 64.4h3.82v2.62h-3.82zM106.9 64.4h3.12v2.62h-3.12zM143.9 64.4h3.12v2.62h-3.12zM44.2 66.2h3.82v1.82h-3.82zM75.5 66.2h3.52v1.82h-3.52zM98.3 66.2h3.72v1.82h-3.72zM129.7 66.2h3.32v1.82h-3.32zM146.8 66.2h3.22v1.82h-3.22zM109.7 67.9h3.32v2.12h-3.32zM158.2 67.9h3.82v2.12h-3.82zM180.9 67.9h3.12v2.12h-3.12zM38.5 69.7h3.52v2.32h-3.52zM95.5 69.7h3.52v2.32h-3.52zM180.9 69.7h3.12v2.32h-3.12zM183.8 69.7h3.22v2.32h-3.22zM115.4 71.4h3.62v2.62h-3.62zM121.1 71.4h2.92v2.62h-2.92zM75.5 73.2h3.52v1.82h-3.52zM78.4 73.2h3.62v1.82h-3.62zM129.7 73.2h3.32v1.82h-3.32zM92.6 74.9h3.42v2.12h-3.42zM115.4 76.6h3.62v2.42h-3.62zM44.2 78.4h3.82v2.62h-3.82zM112.6 78.4h3.42v2.62h-3.42zM152.5 78.4h3.52v2.62h-3.52zM75.5 80.1h3.52v1.92h-3.52zM178.1 80.1h2.92v1.92h-2.92zM49.9 81.9h3.12v2.12h-3.12zM155.3 81.9h3.72v2.12h-3.72zM189.5 81.9h3.52v2.12h-3.52zM78.4 83.6h3.62v2.42h-3.62zM106.9 83.6h3.12v2.42h-3.12zM126.8 83.6h3.22v2.42h-3.22zM86.9 85.4h3.12v2.62h-3.12zM86.9 87.1h3.12v1.92h-3.12zM175.2 87.1h3.82v1.92h-3.82zM206.6 87.1h3.42v1.92h-3.42zM172.4 88.8h3.62v2.22h-3.62zM67.0 90.6h3.02v2.42h-3.02zM78.4 90.6h3.62v2.42h-3.62zM89.8 90.6h3.22v2.42h-3.22zM124.0 90.6h3.02v2.42h-3.02zM47.0 92.3h3.02v2.72h-3.02zM118.3 92.3h3.72v2.72h-3.72zM149.6 92.3h3.42v2.72h-3.42zM203.7 92.3h3.32v2.72h-3.32zM44.2 94.1h3.82v1.92h-3.82zM101.2 94.1h3.82v1.92h-3.82zM166.7 94.1h3.32v1.92h-3.32zM189.5 94.1h3.52v1.92h-3.52zM44.2 95.8h3.82v2.22h-3.82zM78.4 95.8h3.62v2.22h-3.62zM44.2 97.6h3.82v2.42h-3.82zM106.9 97.6h3.12v2.42h-3.12zM126.8 97.6h3.22v2.42h-3.22zM166.7 97.6h3.32v2.42h-3.32zM118.3 99.3h3.72v2.72h-3.72zM126.8 99.3h3.22v2.72h-3.22zM161.0 99.3h3.02v2.72h-3.02zM195.2 101.0h3.82v2.02h-3.82zM206.6 101.0h3.42v2.02h-3.42zM294.9 102.8h2.85v1.74h-2.85zM86.9 104.5h3.12v1.78h-3.12zM178.1 104.5h2.92v2.52h-2.92zM158.2 106.3h2.80v1.72h-2.80zM149.6 111.5h2.85v1.75h-2.85z"/>
<path fill="#56c667" d="M297.8 47.0h3.22v2.02h-3.22zM237.9 80.1h3.12v1.92h-3.12zM283.5 87.1h3.52v1.92h-3.52z"/>
<path fill="#218f8d" d="M249.3 52.2h3.72v1.82h-3.72zM257.9 54.0h3.12v2.02h-3.12zM277.8 54.0h3.22v2.02h-3.22zM232.2 55.7h3.82v2.32h-3.82zM246.5 55.7h3.52v2.32h-3.52zM300.6 55.7h3.42v2.32h-3.42zM289.2 59.2h3.82v1.82h-3.82zM277.8 61.0h3.22v2.02h-3.22zM169.5 62.7h3.52v2.32h-3.52zM255.0 66.2h3.02v1.82h-3.02zM246.5 67.9h3.52v2.12h-3.52zM272.1 69.7h2.92v2.32h-2.92zM303.5 69.7h2.80v2.32h-2.80zM257.9 71.4h3.12v2.62h-3.12zM27.1 73.2h2.92v1.82h-2.92zM277.8 73.2h3.22v1.82h-3.22zM280.7 73.2h3.32v1.82h-3.32zM55.6 74.9h3.42v2.12h-3.42zM61.3 74.9h3.72v2.12h-3.72zM235.1 74.9h2.92v2.12h-2.92zM286.4 74.9h3.62v2.12h-3.62zM294.9 74.9h3.12v2.12h-3.12zM294.9 76.6h3.12v2.42h-3.12zM257.9 78.4h3.12v2.62h-3.12zM272.1 78.4h2.92v2.62h-2.92zM212.3 81.9h3.72v2.12h-3.72zM240.8 81.9h3.22v2.12h-3.22zM226.5 83.6h3.52v2.42h-3.52zM249.3 83.6h3.72v2.42h-3.72zM260.7 83.6h3.32v2.42h-3.32zM198.0 85.4h3.02v2.62h-3.02zM240.8 85.4h3.22v2.62h-3.22zM246.5 85.4h3.52v2.62h-3.52zM220.8 90.6h3.22v2.42h-3.22zM240.8 90.6h3.22v2.42h-3.22zM260.7 90.6h3.32v2.42h-3.32zM27.1 92.3h2.92v2.72h-2.92zM220.8 92.3h3.22v2.72h-3.22zM266.4 92.3h3.62v2.72h-3.62zM61.3 94.1h3.72v1.92h-3.72zM243.6 94.1h3.42v1.92h-3.42zM35.6 95.8h3.42v2.22h-3.42zM55.6 95.8h3.42v2.22h-3.42zM61.3 95.8h3.72v2.22h-3.72zM255.0 95.8h3.02v1.76h-3.02zM292.1 95.8h2.92v2.22h-2.92zM232.2 97.6h3.82v2.42h-3.82zM249.3 97.6h3.72v2.42h-3.72zM252.2 97.6h2.82v2.42h-2.82zM237.9 99.3h2.87v2.72h-2.87zM294.9 99.3h2.85v2.72h-2.85zM61.3 101.0h3.72v1.79h-3.72z"/>
<path fill="#287d8e" d="M294.9 31.3h3.12v2.72h-3.12zM297.8 31.3h3.22v2.72h-3.22zM289.2 33.1h3.82v1.92h-3.82zM303.5 33.1h2.80v1.92h-2.80zM300.6 34.8h3.42v2.22h-3.42zM272.1 41.8h2.92v2.22h-2.92zM277.8 41.8h3.22v2.22h-3.22zM280.7 41.8h3.32v2.22h-3.32zM272.1 43.5h2.92v2.52h-2.92zM277.8 43.5h3.22v2.52h-3.22zM289.2 48.8h3.82v2.22h-3.82zM226.5 50.5h3.52v2.52h-3.52zM229.4 50.5h3.62v2.52h-3.62zM243.6 52.2h3.42v1.82h-3.42zM229.4 55.7h3.62v2.32h-3.62zM243.6 57.5h3.42v2.52h-3.42zM249.3 57.5h3.72v2.52h-3.72zM289.2 57.5h3.82v2.52h-3.82zM297.8 57.5h3.22v2.52h-3.22zM260.7 59.2h3.32v1.82h-3.32zM292.1 59.2h2.80v1.82h-2.80zM237.9 62.7h3.12v2.32h-3.12zM297.8 62.7h3.22v2.32h-3.22zM252.2 64.4h3.82v2.62h-3.82zM275.0 64.4h3.02v2.62h-3.02zM286.4 64.4h3.62v2.62h-3.62zM35.6 66.2h3.42v1.82h-3.42zM215.1 66.2h2.92v1.82h-2.92zM220.8 66.2h3.22v1.82h-3.22zM226.5 66.2h3.52v1.82h-3.52zM229.4 66.2h3.62v1.82h-3.62zM235.1 66.2h2.92v1.82h-2.92zM260.7 66.2h3.32v1.82h-3.32zM269.3 66.2h3.72v1.82h-3.72zM292.1 66.2h2.92v1.82h-2.92zM220.8 67.9h3.22v2.12h-3.22zM235.1 67.9h2.92v2.12h-2.92zM255.0 67.9h3.02v2.12h-3.02zM277.8 67.9h3.22v2.12h-3.22zM300.6 67.9h3.42v2.12h-3.42zM21.4 69.7h3.62v2.32h-3.62zM220.8 69.7h3.22v2.32h-3.22zM237.9 69.7h3.12v2.32h-3.12zM240.8 69.7h3.22v2.32h-3.22zM246.5 69.7h3.52v2.32h-3.52zM252.2 69.7h3.82v2.32h-3.82zM275.0 69.7h3.02v2.32h-3.02zM292.1 69.7h2.92v2.32h-2.92zM240.8 73.2h3.22v1.82h-3.22zM249.3 73.2h3.72v1.82h-3.72zM272.1 73.2h2.92v1.82h-2.92zM292.1 73.2h2.92v1.82h-2.92zM297.8 73.2h3.22v1.82h-3.22zM212.3 74.9h2.83v2.12h-2.83zM232.2 74.9h3.82v2.12h-3.82zM297.8 74.9h2.80v2.12h-2.80zM21.4 76.6h3.62v2.42h-3.62zM29.9 76.6h3.12v2.42h-3.12zM257.9 76.6h3.12v2.42h-3.12zM269.3 76.6h3.72v2.42h-3.72zM286.4 76.6h3.62v2.42h-3.62zM29.9 78.4h3.12v2.62h-3.12zM286.4 78.4h3.62v2.62h-3.62zM21.4 80.1h3.62v1.92h-3.62zM81.2 80.1h3.82v1.92h-3.82zM215.1 80.1h2.92v1.92h-2.92zM232.2 80.1h3.82v1.92h-3.82zM294.9 80.1h3.12v1.92h-3.12zM27.1 81.9h2.92v2.12h-2.92zM132.5 81.9h3.52v2.12h-3.52zM218.0 81.9h3.02v2.12h-3.02zM223.7 81.9h3.32v2.12h-3.32zM243.6 81.9h3.42v2.12h-3.42zM272.1 81.9h2.92v2.12h-2.92zM61.3 83.6h3.72v2.42h-3.72zM243.6 83.6h3.42v2.42h-3.42zM252.2 83.6h3.82v2.42h-3.82zM223.7 85.4h3.32v2.62h-3.32zM289.2 85.4h3.82v2.62h-3.82zM294.9 85.4h3.12v2.62h-3.12zM297.8 85.4h3.22v2.62h-3.22zM55.6 87.1h3.42v1.92h-3.42zM294.9 87.1h3.12v1.75h-3.12zM289.2 88.8h3.82v2.22h-3.82zM218.0 90.6h3.02v2.42h-3.02zM226.5 90.6h3.52v2.42h-3.52zM275.0 90.6h3.02v2.42h-3.02zM29.9 92.3h3.12v2.72h-3.12zM198.0 92.3h3.02v2.72h-3.02zM260.7 92.3h3.32v2.72h-3.32zM32.8 94.1h3.22v1.92h-3.22zM72.7 94.1h3.32v1.92h-3.32zM229.4 94.1h3.62v1.92h-3.62zM266.4 94.1h3.62v1.92h-3.62zM289.2 97.6h3.82v2.42h-3.82zM64.1 99.3h2.92v2.72h-2.92zM138.2 99.3h3.82v2.72h-3.82zM106.9 101.0h3.12v2.02h-3.12z"/>
<path fill="#22a884" d="M243.6 87.1h3.42v1.92h-3.42zM255.0 87.1h3.02v1.92h-3.02zM121.1 88.8h2.92v2.22h-2.92zM143.9 88.8h3.12v2.22h-3.12zM289.2 92.3h3.82v2.72h-3.82zM289.2 94.1h3.82v1.92h-3.82zM138.2 95.8h3.82v2.22h-3.82zM246.5 95.8h3.52v2.22h-3.52z"/>
<path fill="#46337f" d="M146.8 57.5h2.81v2.52h-2.81zM192.3 57.5h3.72v2.52h-3.72zM106.9 59.2h3.12v1.82h-3.12zM129.7 59.2h3.32v1.82h-3.32zM166.7 59.2h3.32v1.82h-3.32zM172.4 59.2h3.62v1.82h-3.62zM67.0 61.0h3.02v2.02h-3.02zM95.5 61.0h3.52v2.02h-3.52zM146.8 61.0h3.22v2.02h-3.22zM203.7 61.0h3.32v2.02h-3.32zM69.8 64.4h3.22v2.62h-3.22zM86.9 64.4h3.12v2.62h-3.12zM95.5 64.4h3.52v2.62h-3.52zM141.1 64.4h2.92v2.62h-2.92zM203.7 64.4h3.32v2.62h-3.32zM67.0 66.2h3.02v1.82h-3.02zM98.3 67.9h3.72v2.12h-3.72zM149.6 67.9h3.42v2.12h-3.42zM155.3 67.9h3.72v2.12h-3.72zM172.4 67.9h3.62v2.12h-3.62zM195.2 67.9h3.82v2.12h-3.82zM72.7 69.7h3.32v2.32h-3.32zM75.5 69.7h3.52v2.32h-3.52zM78.4 69.7h3.62v2.32h-3.62zM86.9 69.7h3.12v2.32h-3.12zM92.6 69.7h3.42v2.32h-3.42zM121.1 69.7h2.92v2.32h-2.92zM138.2 69.7h3.82v2.32h-3.82zM166.7 69.7h3.32v2.32h-3.32zM44.2 71.4h3.82v2.62h-3.82zM89.8 71.4h3.22v2.62h-3.22zM95.5 71.4h3.52v2.62h-3.52zM146.8 71.4h3.22v2.62h-3.22zM166.7 71.4h3.32v2.62h-3.32zM98.3 73.2h3.72v1.82h-3.72zM178.1 73.2h2.92v1.82h-2.92zM49.9 74.9h3.12v2.12h-3.12zM75.5 74.9h3.52v2.12h-3.52zM104.0 74.9h3.02v2.12h-3.02zM115.4 74.9h3.62v2.12h-3.62zM132.5 74.9h3.52v2.12h-3.52zM143.9 74.9h3.12v2.12h-3.12zM186.6 74.9h3.42v2.12h-3.42zM209.4 74.9h3.62v2.12h-3.62zM75.5 76.6h3.52v2.42h-3.52zM78.4 76.6h3.62v2.42h-3.62zM135.4 76.6h3.62v2.42h-3.62zM138.2 76.6h3.82v2.42h-3.82zM121.1 78.4h2.92v2.62h-2.92zM149.6 78.4h3.42v2.62h-3.42zM175.2 78.4h3.82v2.62h-3.82zM178.1 78.4h2.92v2.62h-2.92zM49.9 80.1h3.12v1.92h-3.12zM67.0 80.1h3.02v1.92h-3.02zM121.1 80.1h2.92v1.92h-2.92zM203.7 80.1h3.32v1.92h-3.32zM47.0 81.9h3.02v2.12h-3.02zM129.7 83.6h3.32v2.42h-3.32zM175.2 83.6h3.82v2.42h-3.82zM209.4 85.4h3.62v2.62h-3.62zM47.0 87.1h3.02v1.92h-3.02zM98.3 88.8h3.72v2.22h-3.72zM189.5 88.8h3.52v2.22h-3.52zM189.5 92.3h3.52v2.72h-3.52zM106.9 94.1h3.12v1.92h-3.12zM209.4 101.0h2.88v2.02h-2.88zM101.2 102.8h3.82v2.22h-3.82zM104.0 102.8h3.02v1.74h-3.02zM143.9 106.3h2.86v1.72h-2.86z"/>
<path fill="#21a585" d="M255.0 69.7h3.02v2.32h-3.02zM81.2 78.4h3.82v2.62h-3.82zM280.7 78.4h3.32v2.62h-3.32zM246.5 80.1h3.52v1.92h-3.52zM61.3 90.6h3.72v2.42h-3.72zM277.8 94.1h3.22v1.92h-3.22zM84.1 102.8h2.92v2.22h-2.92zM129.7 102.8h3.32v2.22h-3.32z"/>
<path fill="#3d4d8a" d="M292.1 31.3h2.92v2.72h-2.92zM158.2 59.2h3.82v1.82h-3.82zM175.2 61.0h3.82v2.02h-3.82zM69.8 62.7h3.22v2.32h-3.22zM86.9 62.7h3.12v2.32h-3.12zM149.6 64.4h3.42v2.62h-3.42zM158.2 64.4h3.82v2.62h-3.82zM195.2 64.4h3.82v2.62h-3.82zM115.4 66.2h3.62v1.82h-3.62zM180.9 66.2h3.12v1.82h-3.12zM286.4 66.2h3.62v1.82h-3.62zM78.4 67.9h3.62v2.12h-3.62zM146.8 67.9h3.22v2.12h-3.22zM175.2 67.9h3.82v2.12h-3.82zM189.5 67.9h3.52v2.12h-3.52zM192.3 67.9h3.72v2.12h-3.72zM47.0 69.7h3.02v2.32h-3.02zM141.1 69.7h2.92v2.32h-2.92zM155.3 69.7h3.72v2.32h-3.72zM75.5 71.4h3.52v2.62h-3.52zM109.7 71.4h3.32v2.62h-3.32zM163.9 71.4h3.12v2.62h-3.12zM178.1 71.4h2.92v2.62h-2.92zM195.2 71.4h3.82v2.62h-3.82zM38.5 73.2h3.52v1.82h-3.52zM138.2 73.2h3.82v1.82h-3.82zM209.4 73.2h3.62v1.82h-3.62zM67.0 74.9h3.02v2.12h-3.02zM101.2 74.9h3.82v2.12h-3.82zM112.6 74.9h3.42v2.12h-3.42zM172.4 74.9h3.62v2.12h-3.62zM41.3 76.6h3.72v2.42h-3.72zM67.0 76.6h3.02v2.42h-3.02zM101.2 76.6h3.82v2.42h-3.82zM186.6 76.6h3.42v2.42h-3.42zM138.2 78.4h3.82v2.62h-3.82zM163.9 78.4h3.12v2.62h-3.12zM203.7 78.4h3.32v2.62h-3.32zM141.1 80.1h2.92v1.92h-2.92zM158.2 80.1h3.82v1.92h-3.82zM104.0 81.9h3.02v2.12h-3.02zM109.7 81.9h3.32v2.12h-3.32zM112.6 81.9h3.42v2.12h-3.42zM138.2 81.9h3.82v2.12h-3.82zM180.9 81.9h3.12v2.12h-3.12zM41.3 83.6h3.72v2.42h-3.72zM89.8 83.6h3.22v2.42h-3.22zM104.0 83.6h3.02v2.42h-3.02zM47.0 85.4h3.02v2.62h-3.02zM104.0 85.4h3.02v2.62h-3.02zM129.7 85.4h3.32v2.62h-3.32zM138.2 85.4h3.82v2.62h-3.82zM169.5 85.4h3.52v2.62h-3.52zM38.5 87.1h3.52v1.92h-3.52zM109.7 87.1h3.32v1.92h-3.32zM149.6 87.1h3.42v1.92h-3.42zM192.3 87.1h3.72v1.92h-3.72zM115.4 88.8h3.62v2.22h-3.62zM180.9 88.8h3.12v2.22h-3.12zM141.1 90.6h2.92v2.42h-2.92zM158.2 90.6h3.82v2.42h-3.82zM175.2 90.6h3.82v2.42h-3.82zM180.9 90.6h3.12v2.42h-3.12zM67.0 92.3h3.02v2.72h-3.02zM104.0 92.3h3.02v2.72h-3.02zM195.2 92.3h3.82v2.72h-3.82zM75.5 94.1h3.52v1.92h-3.52zM124.0 94.1h3.02v1.92h-3.02zM141.1 94.1h2.92v1.92h-2.92zM52.7 95.8h3.32v2.22h-3.32zM143.9 95.8h3.12v2.22h-3.12zM161.0 95.8h3.02v2.22h-3.02zM203.7 95.8h3.32v2.22h-3.32zM203.7 97.6h3.32v2.42h-3.32zM263.6 97.6h3.42v2.42h-3.42zM41.3 99.3h3.72v2.72h-3.72zM47.0 99.3h3.02v2.72h-3.02zM89.8 99.3h3.22v2.72h-3.22zM149.6 99.3h3.42v2.72h-3.42zM155.3 99.3h3.72v2.72h-3.72zM78.4 101.0h3.62v2.02h-3.62zM124.0 101.0h3.02v1.79h-3.02zM155.3 101.0h3.72v2.02h-3.72zM169.5 101.0h3.52v2.02h-3.52zM178.1 101.0h2.92v2.02h-2.92zM183.8 101.0h3.22v1.79h-3.22zM78.4 102.8h3.62v2.22h-3.62zM126.8 102.8h3.22v2.22h-3.22zM161.0 102.8h3.02v2.22h-3.02zM180.9 102.8h2.89v2.22h-2.89zM203.7 102.8h3.32v1.74h-3.32zM209.4 104.5h2.88v1.78h-2.88zM195.2 109.8h2.84v2.22h-2.84zM195.2 111.5h2.84v1.75h-2.84z"/>
<path fill="#1f968b" d="M294.9 41.8h3.12v2.22h-3.12zM243.6 55.7h3.42v2.32h-3.42zM255.0 59.2h3.02v1.82h-3.02zM272.1 67.9h2.92v2.12h-2.92zM235.1 71.4h2.92v2.62h-2.92zM255.0 73.2h3.02v1.82h-3.02zM257.9 74.9h3.12v2.12h-3.12zM61.3 76.6h3.72v2.42h-3.72zM249.3 76.6h3.72v2.42h-3.72zM255.0 76.6h3.02v2.42h-3.02zM283.5 76.6h3.52v2.42h-3.52zM297.8 76.6h3.22v2.42h-3.22zM58.4 78.4h3.62v2.62h-3.62zM252.2 78.4h3.82v2.62h-3.82zM289.2 78.4h3.82v2.62h-3.82zM61.3 80.1h3.72v1.92h-3.72zM226.5 80.1h3.52v1.92h-3.52zM229.4 80.1h3.62v1.92h-3.62zM289.2 80.1h3.82v1.92h-3.82zM289.2 81.9h3.82v2.12h-3.82zM81.2 83.6h3.82v2.42h-3.82zM269.3 83.6h3.72v2.42h-3.72zM64.1 87.1h2.92v1.92h-2.92zM269.3 87.1h3.72v1.92h-3.72zM277.8 87.1h3.22v1.92h-3.22zM220.8 88.8h3.22v2.22h-3.22zM280.7 88.8h3.32v2.22h-3.32zM232.2 92.3h3.82v2.72h-3.82zM246.5 92.3h3.52v2.72h-3.52zM269.3 92.3h3.72v2.72h-3.72zM240.8 94.1h3.22v1.92h-3.22zM280.7 95.8h3.32v2.22h-3.32zM223.7 97.6h3.32v2.42h-3.32zM226.5 97.6h3.52v2.42h-3.52zM292.1 102.8h2.92v1.74h-2.92z"/>
<path fill="#81d34d" d="M218.0 71.4h3.02v2.62h-3.02zM263.6 73.2h3.42v1.82h-3.42zM272.1 80.1h2.92v1.92h-2.92zM235.1 94.1h2.92v1.92h-2.92z"/>
<path fill="#9dd93b" d="M283.5 54.0h3.52v2.02h-3.52zM246.5 90.6h3.52v2.42h-3.52zM257.9 95.8h3.12v2.22h-3.12z"/>
<path fill="#4cc26c" d="M269.3 85.4h3.72v2.62h-3.72z"/>
<path fill="#375b8d" d="M297.8 41.8h3.22v2.22h-3.22zM263.6 48.8h3.42v2.22h-3.42zM223.7 50.5h3.32v2.52h-3.32zM263.6 50.5h3.42v2.52h-3.42zM218.0 57.5h3.02v2.52h-3.02zM266.4 57.5h3.62v2.52h-3.62zM275.0 57.5h3.02v2.52h-3.02zM232.2 61.0h3.82v2.02h-3.82zM263.6 61.0h3.42v2.02h-3.42zM27.1 64.4h2.92v2.62h-2.92zM29.9 64.4h3.12v2.62h-3.12zM218.0 64.4h3.02v2.62h-3.02zM223.7 64.4h3.32v2.62h-3.32zM232.2 64.4h3.82v2.62h-3.82zM212.3 66.2h3.72v1.82h-3.72zM135.4 67.9h3.62v2.12h-3.62zM89.8 69.7h3.22v2.32h-3.22zM146.8 73.2h3.22v1.82h-3.22zM109.7 74.9h3.32v2.12h-3.32zM135.4 74.9h3.62v2.12h-3.62zM155.3 74.9h3.72v2.12h-3.72zM266.4 74.9h3.62v2.12h-3.62zM129.7 76.6h3.32v2.42h-3.32zM98.3 78.4h3.72v2.62h-3.72zM38.5 80.1h3.52v1.92h-3.52zM95.5 80.1h3.52v1.92h-3.52zM89.8 81.9h3.22v2.12h-3.22zM101.2 81.9h3.82v2.12h-3.82zM121.1 81.9h2.92v2.12h-2.92zM135.4 81.9h3.62v2.12h-3.62zM163.9 81.9h3.12v2.12h-3.12zM172.4 81.9h3.62v2.12h-3.62zM186.6 81.9h3.42v2.12h-3.42zM101.2 83.6h3.82v2.42h-3.82zM138.2 83.6h3.82v2.42h-3.82zM78.4 85.4h3.62v2.62h-3.62zM89.8 85.4h3.22v2.62h-3.22zM101.2 85.4h3.82v2.62h-3.82zM121.1 85.4h2.92v2.62h-2.92zM186.6 85.4h3.42v2.62h-3.42zM126.8 87.1h3.22v1.92h-3.22zM129.7 88.8h3.32v2.22h-3.32zM86.9 90.6h3.12v2.42h-3.12zM69.8 92.3h3.22v2.72h-3.22zM106.9 92.3h3.12v2.72h-3.12zM155.3 92.3h3.72v2.72h-3.72zM169.5 92.3h3.52v2.72h-3.52zM172.4 92.3h3.62v2.72h-3.62zM155.3 94.1h3.72v1.92h-3.72zM109.7 95.8h3.32v2.22h-3.32zM118.3 95.8h3.72v2.22h-3.72zM158.2 95.8h3.82v2.22h-3.82zM175.2 95.8h3.82v2.22h-3.82zM69.8 99.3h3.22v2.72h-3.22zM101.2 99.3h3.82v2.72h-3.82zM141.1 99.3h2.92v2.72h-2.92zM260.7 99.3h3.32v1.75h-3.32zM115.4 101.0h3.62v2.02h-3.62zM158.2 101.0h3.82v2.02h-3.82zM166.7 101.0h3.32v2.02h-3.32zM172.4 101.0h3.62v2.02h-3.62zM186.6 101.0h3.42v2.02h-3.42zM189.5 101.0h3.52v2.02h-3.52zM47.0 102.8h3.02v2.22h-3.02zM109.7 102.8h3.32v2.22h-3.32zM132.5 102.8h2.86v2.22h-2.86zM155.3 102.8h3.72v2.22h-3.72zM166.7 104.5h3.32v1.78h-3.32z"/>
<path fill="#238a8d" d="M300.6 40.0h3.42v2.02h-3.42zM283.5 48.8h3.52v2.22h-3.52zM297.8 48.8h3.22v2.22h-3.22zM266.4 52.2h3.62v1.82h-3.62zM286.4 52.2h3.62v1.82h-3.62zM289.2 52.2h3.82v1.82h-3.82zM246.5 57.5h3.52v2.52h-3.52zM64.1 59.2h2.92v1.82h-2.92zM257.9 59.2h3.12v1.82h-3.12zM297.8 59.2h3.22v1.82h-3.22zM269.3 61.0h3.72v2.02h-3.72zM95.5 62.7h3.52v2.32h-3.52zM226.5 62.7h3.52v2.32h-3.52zM64.1 66.2h2.92v1.82h-2.92zM272.1 66.2h2.92v1.82h-2.92zM294.9 66.2h3.12v1.82h-3.12zM172.4 69.7h3.62v2.32h-3.62zM277.8 69.7h3.22v2.32h-3.22zM246.5 71.4h3.52v2.62h-3.52zM249.3 71.4h3.72v2.62h-3.72zM27.1 74.9h2.92v2.12h-2.92zM280.7 74.9h3.32v2.12h-3.32zM64.1 76.6h2.92v2.42h-2.92zM64.1 78.4h2.92v2.62h-2.92zM232.2 78.4h3.82v2.62h-3.82zM292.1 81.9h2.92v2.12h-2.92zM24.2 85.4h3.82v2.62h-3.82zM58.4 85.4h3.62v2.62h-3.62zM115.4 85.4h3.62v2.62h-3.62zM266.4 85.4h3.62v2.62h-3.62zM272.1 85.4h2.92v2.62h-2.92zM81.2 87.1h3.82v1.92h-3.82zM220.8 87.1h3.22v1.92h-3.22zM240.8 87.1h3.22v1.92h-3.22zM61.3 88.8h3.72v2.22h-3.72zM235.1 88.8h2.92v2.22h-2.92zM257.9 88.8h3.12v2.22h-3.12zM297.8 88.8h3.22v2.22h-3.22zM303.5 88.8h2.80v2.22h-2.80zM24.2 90.6h3.82v2.42h-3.82zM286.4 92.3h3.62v2.72h-3.62zM297.8 92.3h3.22v2.72h-3.22zM24.2 94.1h3.82v1.92h-3.82zM212.3 94.1h3.72v1.92h-3.72zM246.5 94.1h3.52v1.92h-3.52zM260.7 94.1h3.32v1.92h-3.32zM21.4 95.8h3.62v2.22h-3.62zM215.1 95.8h2.92v2.22h-2.92zM289.2 95.8h3.82v2.22h-3.82zM143.9 99.3h3.12v2.72h-3.12zM300.6 99.3h3.42v2.72h-3.42zM198.0 102.8h3.02v2.22h-3.02z"/>
<path fill="#2b758e" d="M277.8 34.8h3.22v2.22h-3.22zM300.6 41.8h3.42v2.22h-3.42zM243.6 43.5h3.42v2.52h-3.42zM255.0 45.3h3.02v2.72h-3.02zM263.6 45.3h3.42v2.72h-3.42zM277.8 45.3h3.22v2.72h-3.22zM249.3 47.0h3.72v2.02h-3.72zM252.2 48.8h3.82v2.22h-3.82zM289.2 50.5h2.86v2.52h-2.86zM240.8 52.2h3.22v1.82h-3.22zM263.6 52.2h3.42v1.82h-3.42zM294.9 52.2h3.12v1.82h-3.12zM249.3 54.0h3.72v2.02h-3.72zM275.0 54.0h3.02v2.02h-3.02zM257.9 55.7h3.12v2.32h-3.12zM280.7 57.5h2.81v2.52h-2.81zM237.9 59.2h3.12v1.82h-3.12zM243.6 59.2h3.42v1.82h-3.42zM269.3 59.2h3.72v1.82h-3.72zM198.0 61.0h3.02v2.02h-3.02zM255.0 61.0h3.02v2.02h-3.02zM61.3 62.7h3.72v2.32h-3.72zM64.1 62.7h2.92v2.32h-2.92zM223.7 62.7h3.32v2.32h-3.32zM84.1 64.4h2.92v2.62h-2.92zM243.6 64.4h3.42v2.62h-3.42zM35.6 67.9h3.42v2.12h-3.42zM263.6 67.9h3.42v2.12h-3.42zM266.4 67.9h3.62v2.12h-3.62zM81.2 69.7h3.82v2.32h-3.82zM215.1 69.7h2.92v2.32h-2.92zM283.5 69.7h3.52v2.32h-3.52zM289.2 69.7h3.82v2.32h-3.82zM220.8 71.4h3.22v2.62h-3.22zM237.9 71.4h3.12v2.62h-3.12zM55.6 73.2h3.42v1.82h-3.42zM220.8 73.2h3.22v1.82h-3.22zM266.4 73.2h3.62v1.82h-3.62zM303.5 73.2h2.80v1.82h-2.80zM35.6 74.9h3.42v2.12h-3.42zM252.2 74.9h3.82v2.12h-3.82zM58.4 76.6h3.62v2.42h-3.62zM246.5 76.6h3.52v2.42h-3.52zM35.6 78.4h3.42v2.62h-3.42zM215.1 78.4h2.92v2.62h-2.92zM260.7 78.4h3.32v2.62h-3.32zM263.6 78.4h3.42v2.62h-3.42zM240.8 80.1h3.22v1.92h-3.22zM255.0 80.1h3.02v1.92h-3.02zM263.6 80.1h3.42v1.92h-3.42zM280.7 80.1h3.32v1.92h-3.32zM61.3 81.9h3.72v2.12h-3.72zM229.4 81.9h3.62v2.12h-3.62zM237.9 81.9h3.12v2.12h-3.12zM246.5 81.9h3.52v2.12h-3.52zM252.2 81.9h3.82v2.12h-3.82zM260.7 81.9h3.32v2.12h-3.32zM277.8 83.6h3.22v2.42h-3.22zM32.8 85.4h3.22v2.62h-3.22zM212.3 85.4h3.72v2.62h-3.72zM27.1 87.1h2.92v1.92h-2.92zM35.6 87.1h3.42v1.92h-3.42zM252.2 88.8h3.82v2.22h-3.82zM27.1 90.6h2.92v2.42h-2.92zM24.2 92.3h3.82v2.72h-3.82zM198.0 95.8h3.02v2.22h-3.02zM266.4 95.8h3.62v2.22h-3.62zM24.2 97.6h3.82v2.42h-3.82zM29.9 97.6h3.12v2.42h-3.12zM275.0 99.3h3.02v1.75h-3.02zM64.1 101.0h2.92v2.02h-2.92zM200.9 102.8h3.12v2.22h-3.12zM215.1 102.8h2.92v1.74h-2.92zM260.7 102.8h3.32v1.74h-3.32z"/>
<path fill="#25ab82" d="M255.0 85.4h3.02v2.62h-3.02zM289.2 87.1h3.82v1.92h-3.82zM272.1 94.1h2.92v1.92h-2.92zM232.2 95.8h3.82v2.22h-3.82zM235.1 95.8h2.92v2.22h-2.92zM49.9 97.6h3.12v2.42h-3.12zM260.7 97.6h3.32v2.42h-3.32z"/>
<path fill="#482374" d="M92.6 57.5h3.42v2.52h-3.42zM104.0 57.5h2.87v2.52h-2.87zM124.0 57.5h3.02v2.52h-3.02zM206.6 57.5h3.42v1.72h-3.42zM95.5 59.2h3.52v1.82h-3.52zM203.7 59.2h2.89v1.82h-2.89zM72.7 61.0h3.32v2.02h-3.32zM209.4 61.0h3.62v2.02h-3.62zM47.0 62.7h3.02v2.32h-3.02zM67.0 62.7h3.02v2.32h-3.02zM124.0 62.7h3.02v2.32h-3.02zM47.0 64.4h3.02v2.62h-3.02zM38.5 66.2h3.52v1.82h-3.52zM72.7 66.2h3.32v1.82h-3.32zM161.0 66.2h3.02v1.82h-3.02zM183.8 66.2h3.22v1.82h-3.22zM49.9 71.4h3.12v2.62h-3.12zM44.2 73.2h3.82v1.82h-3.82zM86.9 73.2h3.12v1.82h-3.12zM124.0 73.2h3.02v1.82h-3.02zM126.8 73.2h3.22v1.82h-3.22zM161.0 73.2h3.02v1.82h-3.02zM206.6 74.9h3.42v2.12h-3.42zM143.9 78.4h3.12v2.62h-3.12zM183.8 85.4h3.22v2.62h-3.22zM172.4 102.8h2.85v1.74h-2.85zM141.1 106.3h2.92v2.72h-2.92zM141.1 108.0h2.81v1.76h-2.81z"/>
<path fill="#95d840" d="M283.5 36.6h3.52v2.42h-3.52zM257.9 81.9h3.12v2.12h-3.12zM212.3 88.8h3.72v2.22h-3.72zM297.8 95.8h3.22v2.22h-3.22zM81.2 99.3h3.82v2.72h-3.82z"/>
<path fill="#470d60" d="M118.3 59.2h3.72v1.82h-3.72zM200.9 59.2h3.12v1.82h-3.12zM121.1 64.4h2.92v2.62h-2.92zM121.1 83.6h2.92v2.42h-2.92zM106.9 87.1h3.12v1.92h-3.12zM67.0 104.5h2.83v1.78h-2.83zM143.9 104.5h2.86v2.52h-2.86z"/>
<path fill="#228c8d" d="M289.2 34.8h3.82v2.22h-3.82zM255.0 43.5h3.02v2.52h-3.02zM269.3 47.0h3.72v2.02h-3.72zM272.1 47.0h2.92v2.02h-2.92zM246.5 48.8h3.52v2.22h-3.52zM257.9 48.8h3.12v2.22h-3.12zM272.1 48.8h2.92v2.22h-2.92zM277.8 50.5h3.22v2.52h-3.22zM226.5 52.2h3.52v1.82h-3.52zM255.0 52.2h3.02v1.82h-3.02zM272.1 54.0h2.92v2.02h-2.92zM269.3 55.7h3.72v2.32h-3.72zM226.5 61.0h3.52v2.02h-3.52zM280.7 61.0h3.32v2.02h-3.32zM300.6 61.0h3.42v2.02h-3.42zM220.8 64.4h3.22v2.62h-3.22zM255.0 64.4h3.02v2.62h-3.02zM289.2 66.2h3.82v1.82h-3.82zM300.6 66.2h3.42v1.82h-3.42zM218.0 67.9h3.02v2.12h-3.02zM64.1 71.4h2.92v2.62h-2.92zM143.9 73.2h3.12v1.82h-3.12zM272.1 74.9h2.92v2.12h-2.92zM277.8 76.6h3.22v2.42h-3.22zM260.7 80.1h3.32v1.92h-3.32zM286.4 80.1h3.62v1.92h-3.62zM300.6 80.1h3.42v1.92h-3.42zM249.3 81.9h3.72v2.12h-3.72zM255.0 81.9h3.02v2.12h-3.02zM283.5 81.9h3.52v2.12h-3.52zM289.2 83.6h3.82v2.42h-3.82zM294.9 83.6h3.12v2.42h-3.12zM300.6 83.6h3.42v2.42h-3.42zM286.4 85.4h3.62v2.62h-3.62zM21.4 87.1h3.62v1.92h-3.62zM198.0 87.1h3.02v1.92h-3.02zM212.3 87.1h3.72v1.92h-3.72zM232.2 87.1h3.82v1.92h-3.82zM246.5 87.1h3.52v1.92h-3.52zM21.4 90.6h3.62v2.42h-3.62zM252.2 90.6h3.82v2.42h-3.82zM280.7 90.6h3.32v2.42h-3.32zM226.5 92.3h3.52v2.72h-3.52zM303.5 92.3h2.80v2.72h-2.80zM64.1 94.1h2.92v1.92h-2.92zM198.0 94.1h3.02v1.92h-3.02zM226.5 94.1h3.52v1.92h-3.52zM269.3 94.1h3.72v1.92h-3.72zM172.4 95.8h3.62v2.22h-3.62zM212.3 95.8h3.72v2.22h-3.72zM226.5 95.8h3.52v2.22h-3.52zM243.6 95.8h3.42v2.22h-3.42zM272.1 95.8h2.92v2.22h-2.92zM161.0 101.0h3.02v2.02h-3.02z"/>
<path fill="#34b679" d="M303.5 67.9h2.80v2.12h-2.80zM226.5 99.3h2.88v2.72h-2.88z"/>
<path fill="#2d718e" d="M275.0 36.6h3.02v2.42h-3.02zM292.1 36.6h2.92v2.42h-2.92zM272.1 38.3h2.92v2.72h-2.92zM275.0 38.3h3.02v2.72h-3.02zM260.7 40.0h3.32v2.02h-3.32zM286.4 40.0h3.62v2.02h-3.62zM275.0 43.5h3.02v2.52h-3.02zM243.6 45.3h3.42v2.72h-3.42zM249.3 45.3h3.72v2.72h-3.72zM272.1 45.3h2.92v2.72h-2.92zM292.1 45.3h2.92v2.72h-2.92zM294.9 47.0h3.12v2.02h-3.12zM237.9 48.8h3.12v2.22h-3.12zM297.8 50.5h3.22v2.52h-3.22zM246.5 52.2h3.52v1.82h-3.52zM275.0 52.2h3.02v1.82h-3.02zM277.8 52.2h3.22v1.82h-3.22zM220.8 55.7h3.22v2.32h-3.22zM283.5 55.7h3.52v1.77h-3.52zM255.0 57.5h3.02v2.52h-3.02zM294.9 57.5h3.12v1.72h-3.12zM303.5 57.5h2.80v2.52h-2.80zM81.2 61.0h3.82v2.02h-3.82zM220.8 61.0h3.22v2.02h-3.22zM237.9 61.0h3.12v2.02h-3.12zM260.7 61.0h3.32v2.02h-3.32zM272.1 61.0h2.92v1.70h-2.92zM212.3 62.7h3.72v2.32h-3.72zM215.1 62.7h2.92v2.32h-2.92zM240.8 62.7h3.22v2.32h-3.22zM263.6 64.4h3.42v2.62h-3.42zM84.1 66.2h2.92v1.82h-2.92zM218.0 66.2h3.02v1.82h-3.02zM243.6 66.2h3.42v1.82h-3.42zM266.4 66.2h3.62v1.82h-3.62zM21.4 67.9h3.62v2.12h-3.62zM249.3 67.9h3.72v2.12h-3.72zM286.4 69.7h3.62v2.32h-3.62zM32.8 71.4h3.22v2.62h-3.22zM218.0 73.2h3.02v1.82h-3.02zM232.2 73.2h3.82v1.82h-3.82zM283.5 73.2h3.52v1.82h-3.52zM220.8 74.9h3.22v2.12h-3.22zM243.6 74.9h3.42v2.12h-3.42zM252.2 76.6h3.82v2.42h-3.82zM303.5 78.4h2.80v2.62h-2.80zM32.8 80.1h3.22v1.92h-3.22zM292.1 80.1h2.92v1.92h-2.92zM81.2 81.9h3.82v2.12h-3.82zM232.2 81.9h3.82v2.12h-3.82zM235.1 83.6h2.92v2.42h-2.92zM237.9 83.6h3.12v2.42h-3.12zM35.6 85.4h3.42v2.62h-3.42zM263.6 85.4h3.42v2.62h-3.42zM275.0 85.4h3.02v2.62h-3.02zM280.7 85.4h3.32v2.62h-3.32zM263.6 87.1h3.42v1.92h-3.42zM246.5 88.8h3.52v2.22h-3.52zM198.0 90.6h3.02v2.42h-3.02zM292.1 90.6h2.92v2.42h-2.92zM98.3 95.8h3.72v2.22h-3.72zM146.8 95.8h3.22v2.22h-3.22zM252.2 95.8h3.82v2.22h-3.82zM86.9 99.3h3.12v2.72h-3.12zM252.2 99.3h2.82v1.75h-2.82zM81.2 101.0h3.82v2.02h-3.82zM180.9 101.0h3.12v2.02h-3.12z"/>
<path fill="#481f70" d="M86.9 57.5h3.12v2.52h-3.12zM126.8 57.5h3.22v2.52h-3.22zM121.1 59.2h2.92v1.82h-2.92zM132.5 59.2h3.52v1.82h-3.52zM163.9 59.2h3.12v1.82h-3.12zM166.7 61.0h3.32v2.02h-3.32zM183.8 61.0h3.22v2.02h-3.22zM195.2 61.0h3.82v2.02h-3.82zM121.1 62.7h2.92v2.32h-2.92zM209.4 62.7h3.62v2.32h-3.62zM109.7 64.4h3.32v2.62h-3.32zM104.0 66.2h3.02v1.82h-3.02zM132.5 66.2h3.52v1.82h-3.52zM47.0 67.9h3.02v2.12h-3.02zM209.4 67.9h3.62v2.12h-3.62zM203.7 69.7h3.32v2.32h-3.32zM206.6 76.6h3.42v2.42h-3.42zM41.3 78.4h3.72v2.62h-3.72zM200.9 78.4h3.12v2.62h-3.12zM206.6 83.6h3.42v2.42h-3.42zM206.6 90.6h3.42v2.42h-3.42zM209.4 94.1h3.62v1.92h-3.62z"/>
<path fill="#75d054" d="M297.8 83.6h3.22v2.42h-3.22zM283.5 94.1h3.52v1.92h-3.52zM269.3 97.6h3.72v1.71h-3.72z"/>
<path fill="#46c06f" d="M297.8 45.3h3.22v2.72h-3.22zM277.8 78.4h3.22v2.62h-3.22z"/>
<path fill="#46307e" d="M101.2 57.5h3.82v2.52h-3.82zM141.1 57.5h2.92v2.52h-2.92zM200.9 57.5h3.12v2.52h-3.12zM89.8 59.2h3.22v1.82h-3.22zM98.3 59.2h3.72v1.82h-3.72zM132.5 61.0h3.52v2.02h-3.52zM135.4 61.0h3.62v2.02h-3.62zM138.2 61.0h3.82v2.02h-3.82zM141.1 61.0h2.92v2.02h-2.92zM143.9 61.0h3.12v2.02h-3.12zM172.4 61.0h3.62v2.02h-3.62zM192.3 61.0h3.72v2.02h-3.72zM101.2 62.7h3.82v2.32h-3.82zM126.8 62.7h3.22v2.32h-3.22zM146.8 62.7h3.22v2.32h-3.22zM52.7 64.4h3.32v2.62h-3.32zM178.1 64.4h2.92v2.62h-2.92zM41.3 66.2h3.72v1.82h-3.72zM52.7 66.2h3.32v1.82h-3.32zM86.9 66.2h3.12v1.82h-3.12zM138.2 66.2h3.82v1.82h-3.82zM169.5 66.2h3.52v1.82h-3.52zM192.3 66.2h3.72v1.82h-3.72zM203.7 66.2h3.32v1.82h-3.32zM92.6 67.9h3.42v2.12h-3.42zM101.2 67.9h3.82v2.12h-3.82zM104.0 67.9h3.02v2.12h-3.02zM166.7 67.9h3.32v2.12h-3.32zM52.7 69.7h3.32v2.32h-3.32zM126.8 69.7h3.22v2.32h-3.22zM47.0 71.4h3.02v2.62h-3.02zM112.6 71.4h3.42v2.62h-3.42zM126.8 71.4h3.22v2.62h-3.22zM132.5 71.4h3.52v2.62h-3.52zM172.4 71.4h3.62v2.62h-3.62zM95.5 73.2h3.52v1.82h-3.52zM132.5 73.2h3.52v1.82h-3.52zM52.7 74.9h3.32v2.12h-3.32zM183.8 74.9h3.22v2.12h-3.22zM44.2 76.6h3.82v2.42h-3.82zM75.5 78.4h3.52v2.62h-3.52zM106.9 78.4h3.12v2.62h-3.12zM129.7 78.4h3.32v2.62h-3.32zM206.6 78.4h3.42v2.62h-3.42zM189.5 80.1h3.52v1.92h-3.52zM206.6 80.1h3.42v1.92h-3.42zM195.2 81.9h3.82v2.12h-3.82zM115.4 83.6h3.62v2.42h-3.62zM178.1 83.6h2.92v2.42h-2.92zM203.7 83.6h3.32v2.42h-3.32zM67.0 88.8h3.02v2.22h-3.02zM78.4 88.8h3.62v2.22h-3.62zM95.5 88.8h3.52v2.22h-3.52zM161.0 88.8h3.02v2.22h-3.02zM104.0 90.6h3.02v2.42h-3.02zM200.9 90.6h3.12v2.42h-3.12zM115.4 92.3h3.62v2.72h-3.62zM169.5 104.5h2.90v2.52h-2.90zM195.2 104.5h3.82v1.78h-3.82zM52.7 106.3h2.89v1.72h-2.89zM121.1 106.3h2.86v1.72h-2.86z"/>
<path fill="#38b977" d="M292.1 88.8h2.80v2.22h-2.80z"/>
<path fill="#33638d" d="M300.6 27.8h3.42v2.22h-3.42zM292.1 33.1h2.92v1.92h-2.92zM266.4 36.6h3.62v2.42h-3.62zM266.4 38.3h3.62v2.72h-3.62zM286.4 38.3h3.62v2.72h-3.62zM252.2 40.0h3.82v2.02h-3.82zM257.9 41.8h3.12v2.22h-3.12zM275.0 41.8h3.02v2.22h-3.02zM263.6 43.5h3.42v2.52h-3.42zM266.4 47.0h3.62v2.02h-3.62zM229.4 48.8h3.62v2.22h-3.62zM303.5 48.8h2.80v2.22h-2.80zM235.1 50.5h2.92v2.52h-2.92zM260.7 50.5h3.32v2.52h-3.32zM237.9 52.2h3.12v1.82h-3.12zM212.3 54.0h3.72v2.02h-3.72zM232.2 57.5h3.82v2.52h-3.82zM223.7 59.2h3.32v1.82h-3.32zM35.6 62.7h2.89v2.32h-2.89zM84.1 62.7h2.92v2.32h-2.92zM269.3 62.7h2.81v2.32h-2.81zM35.6 64.4h3.42v2.62h-3.42zM215.1 64.4h2.92v2.62h-2.92zM232.2 66.2h3.82v1.82h-3.82zM303.5 66.2h2.80v1.82h-2.80zM55.6 67.9h3.42v2.12h-3.42zM243.6 67.9h3.42v2.12h-3.42zM61.3 71.4h3.72v2.62h-3.72zM229.4 71.4h3.62v2.62h-3.62zM69.8 73.2h3.22v1.82h-3.22zM303.5 74.9h2.80v2.12h-2.80zM126.8 76.6h3.22v2.42h-3.22zM195.2 76.6h3.82v2.42h-3.82zM237.9 78.4h3.12v2.62h-3.12zM24.2 81.9h3.82v2.12h-3.82zM35.6 83.6h3.42v2.42h-3.42zM92.6 83.6h3.42v2.42h-3.42zM89.8 87.1h3.22v1.92h-3.22zM101.2 87.1h3.82v1.92h-3.82zM135.4 87.1h3.62v1.92h-3.62zM141.1 87.1h2.92v1.92h-2.92zM84.1 90.6h2.92v2.42h-2.92zM189.5 90.6h3.52v2.42h-3.52zM286.4 90.6h3.62v2.42h-3.62zM35.6 92.3h3.42v2.72h-3.42zM175.2 92.3h3.82v2.72h-3.82zM163.9 94.1h3.12v1.92h-3.12zM149.6 95.8h3.42v2.22h-3.42zM195.2 95.8h3.82v2.22h-3.82zM27.1 97.6h2.92v2.42h-2.92zM38.5 97.6h3.52v2.42h-3.52zM89.8 97.6h3.22v2.42h-3.22zM277.8 97.6h3.22v2.42h-3.22zM24.2 99.3h3.82v1.75h-3.82zM124.0 99.3h3.02v2.72h-3.02zM141.1 101.0h2.92v2.02h-2.92z"/>
<path fill="#433d84" d="M118.3 57.5h3.72v2.52h-3.72zM189.5 57.5h3.52v2.52h-3.52zM104.0 59.2h3.02v1.82h-3.02zM109.7 59.2h3.32v1.82h-3.32zM158.2 61.0h3.82v2.02h-3.82zM161.0 61.0h3.02v2.02h-3.02zM186.6 61.0h3.42v2.02h-3.42zM75.5 62.7h3.52v2.32h-3.52zM75.5 64.4h3.52v2.62h-3.52zM89.8 64.4h3.22v2.62h-3.22zM129.7 64.4h3.32v2.62h-3.32zM163.9 64.4h3.12v2.62h-3.12zM172.4 64.4h3.62v2.62h-3.62zM180.9 64.4h3.12v2.62h-3.12zM121.1 66.2h2.92v1.82h-2.92zM126.8 66.2h3.22v1.82h-3.22zM149.6 66.2h3.42v1.82h-3.42zM163.9 66.2h3.12v1.82h-3.12zM118.3 67.9h3.72v2.12h-3.72zM106.9 69.7h3.12v2.32h-3.12zM124.0 69.7h3.02v2.32h-3.02zM143.9 69.7h3.12v2.32h-3.12zM152.5 69.7h3.52v2.32h-3.52zM158.2 69.7h3.82v2.32h-3.82zM163.9 69.7h3.12v2.32h-3.12zM192.3 69.7h3.72v2.32h-3.72zM38.5 71.4h3.52v2.62h-3.52zM41.3 71.4h3.72v2.62h-3.72zM52.7 73.2h3.32v1.82h-3.32zM149.6 73.2h3.42v1.82h-3.42zM183.8 73.2h3.22v1.82h-3.22zM129.7 74.9h3.32v2.12h-3.32zM169.5 74.9h3.52v2.12h-3.52zM195.2 74.9h3.82v2.12h-3.82zM92.6 76.6h3.42v2.42h-3.42zM95.5 76.6h3.52v2.42h-3.52zM149.6 76.6h3.42v2.42h-3.42zM161.0 76.6h3.02v2.42h-3.02zM175.2 76.6h3.82v2.42h-3.82zM118.3 78.4h3.72v2.62h-3.72zM146.8 78.4h3.22v2.62h-3.22zM161.0 78.4h3.02v2.62h-3.02zM166.7 78.4h3.32v2.62h-3.32zM183.8 78.4h3.22v2.62h-3.22zM209.4 78.4h3.62v2.62h-3.62zM47.0 80.1h3.02v1.92h-3.02zM149.6 80.1h3.42v1.92h-3.42zM175.2 80.1h3.82v1.92h-3.82zM192.3 80.1h3.72v1.92h-3.72zM78.4 81.9h3.62v2.12h-3.62zM86.9 81.9h3.12v2.12h-3.12zM158.2 81.9h3.82v2.12h-3.82zM95.5 83.6h3.52v2.42h-3.52zM98.3 83.6h3.72v2.42h-3.72zM109.7 83.6h3.32v2.42h-3.32zM106.9 85.4h3.12v2.62h-3.12zM124.0 85.4h3.02v2.62h-3.02zM132.5 85.4h3.52v2.62h-3.52zM152.5 85.4h3.52v2.62h-3.52zM163.9 87.1h3.12v1.92h-3.12zM178.1 87.1h2.92v1.92h-2.92zM203.7 88.8h3.32v2.22h-3.32zM44.2 90.6h3.82v2.42h-3.82zM92.6 90.6h3.42v2.42h-3.42zM169.5 90.6h3.52v2.42h-3.52zM195.2 90.6h3.82v2.42h-3.82zM143.9 92.3h3.12v2.72h-3.12zM161.0 94.1h3.02v1.92h-3.02zM47.0 97.6h3.02v2.42h-3.02zM183.8 97.6h3.22v2.42h-3.22zM186.6 97.6h3.42v2.42h-3.42zM104.0 99.3h3.02v2.72h-3.02zM166.7 99.3h3.32v2.72h-3.32zM200.9 99.3h3.12v2.72h-3.12zM132.5 101.0h3.52v2.02h-3.52zM44.2 102.8h3.82v1.74h-3.82zM158.2 104.5h3.82v2.52h-3.82zM135.4 108.0h2.81v1.76h-2.81z"/>
<path fill="#424086" d="M292.1 29.6h2.92v2.42h-2.92zM263.6 41.8h3.42v2.22h-3.42zM237.9 54.0h3.12v2.02h-3.12zM112.6 57.5h3.42v2.52h-3.42zM101.2 59.2h3.82v1.82h-3.82zM112.6 59.2h3.42v1.82h-3.42zM152.5 59.2h3.52v1.82h-3.52zM161.0 59.2h3.02v1.82h-3.02zM141.1 62.7h2.92v2.32h-2.92zM180.9 62.7h3.12v2.32h-3.12zM72.7 64.4h3.32v2.62h-3.32zM95.5 66.2h3.52v1.82h-3.52zM101.2 66.2h3.82v1.82h-3.82zM129.7 67.9h3.32v2.12h-3.32zM169.5 67.9h3.52v2.12h-3.52zM49.9 69.7h3.12v2.32h-3.12zM178.1 69.7h2.92v2.32h-2.92zM209.4 69.7h3.62v2.32h-3.62zM101.2 71.4h3.82v2.62h-3.82zM141.1 71.4h2.92v2.62h-2.92zM161.0 71.4h3.02v2.62h-3.02zM209.4 71.4h3.62v2.62h-3.62zM163.9 73.2h3.12v1.82h-3.12zM149.6 74.9h3.42v2.12h-3.42zM106.9 76.6h3.12v2.42h-3.12zM109.7 76.6h3.32v2.42h-3.32zM47.0 78.4h3.02v2.62h-3.02zM92.6 78.4h3.42v2.62h-3.42zM101.2 78.4h3.82v2.62h-3.82zM124.0 78.4h3.02v2.62h-3.02zM186.6 78.4h3.42v2.62h-3.42zM44.2 80.1h3.82v1.92h-3.82zM124.0 80.1h3.02v1.92h-3.02zM115.4 81.9h3.62v2.12h-3.62zM118.3 81.9h3.72v2.12h-3.72zM149.6 81.9h3.42v2.12h-3.42zM169.5 81.9h3.52v2.12h-3.52zM175.2 81.9h3.82v2.12h-3.82zM200.9 81.9h3.12v2.12h-3.12zM209.4 81.9h3.62v2.12h-3.62zM75.5 83.6h3.52v2.42h-3.52zM92.6 85.4h3.42v2.62h-3.42zM161.0 85.4h3.02v2.62h-3.02zM163.9 85.4h3.12v2.62h-3.12zM166.7 85.4h3.32v2.62h-3.32zM180.9 85.4h3.12v2.62h-3.12zM206.6 85.4h3.42v2.62h-3.42zM143.9 87.1h3.12v1.92h-3.12zM166.7 87.1h3.32v1.92h-3.32zM209.4 87.1h3.62v1.92h-3.62zM118.3 88.8h3.72v2.22h-3.72zM169.5 88.8h3.52v2.22h-3.52zM95.5 90.6h3.52v2.42h-3.52zM118.3 90.6h3.72v2.42h-3.72zM178.1 90.6h2.92v2.42h-2.92zM49.9 92.3h3.12v2.72h-3.12zM206.6 92.3h3.42v2.72h-3.42zM152.5 94.1h3.52v1.92h-3.52zM141.1 95.8h2.92v2.22h-2.92zM132.5 97.6h3.52v2.42h-3.52zM206.6 97.6h3.42v2.42h-3.42zM69.8 102.8h2.88v1.74h-2.88zM129.7 104.5h3.32v1.78h-3.32zM95.5 109.8h2.82v1.71h-2.82z"/>
<path fill="#31668e" d="M300.6 33.1h3.42v1.92h-3.42zM280.7 36.6h3.32v2.42h-3.32zM297.8 38.3h3.22v2.72h-3.22zM260.7 41.8h3.32v2.22h-3.32zM252.2 43.5h3.82v2.52h-3.82zM266.4 43.5h3.62v2.52h-3.62zM269.3 45.3h3.72v2.72h-3.72zM280.7 45.3h3.32v2.72h-3.32zM286.4 45.3h3.62v2.72h-3.62zM240.8 48.8h3.22v2.22h-3.22zM257.9 50.5h3.12v2.52h-3.12zM260.7 54.0h3.32v2.02h-3.32zM240.8 59.2h3.22v1.82h-3.22zM61.3 61.0h3.72v2.02h-3.72zM229.4 61.0h3.62v2.02h-3.62zM229.4 62.7h3.62v2.32h-3.62zM226.5 64.4h3.52v2.62h-3.52zM237.9 64.4h3.12v2.62h-3.12zM257.9 64.4h3.12v2.62h-3.12zM292.1 64.4h2.92v2.62h-2.92zM21.4 66.2h3.62v1.82h-3.62zM32.8 67.9h3.22v2.12h-3.22zM232.2 67.9h3.82v2.12h-3.82zM283.5 67.9h3.52v2.12h-3.52zM24.2 69.7h3.82v2.32h-3.82zM198.0 69.7h3.02v2.32h-3.02zM257.9 69.7h3.12v2.32h-3.12zM24.2 71.4h3.82v2.62h-3.82zM198.0 71.4h3.02v2.62h-3.02zM303.5 71.4h2.80v2.62h-2.80zM252.2 73.2h3.82v1.82h-3.82zM158.2 74.9h3.82v2.12h-3.82zM292.1 74.9h2.92v1.75h-2.92zM180.9 76.6h3.12v2.42h-3.12zM155.3 78.4h3.72v2.62h-3.72zM240.8 78.4h3.22v2.62h-3.22zM292.1 78.4h2.92v2.62h-2.92zM266.4 80.1h3.62v1.92h-3.62zM152.5 81.9h3.52v2.12h-3.52zM215.1 85.4h2.92v2.62h-2.92zM24.2 87.1h3.82v1.92h-3.82zM135.4 92.3h3.62v2.72h-3.62zM169.5 95.8h3.52v2.22h-3.52zM158.2 99.3h3.82v2.72h-3.82zM129.7 101.0h3.32v2.02h-3.32zM135.4 101.0h3.62v1.79h-3.62zM106.9 102.8h3.12v1.74h-3.12zM246.5 102.8h2.82v1.74h-2.82zM92.6 104.5h3.42v1.78h-3.42zM246.5 106.3h2.82v1.72h-2.82z"/>
<path fill="#2e6e8e" d="M297.8 26.1h3.22v1.92h-3.22zM297.8 29.6h3.22v2.42h-3.22zM289.2 31.3h3.82v2.72h-3.82zM294.9 33.1h3.12v1.92h-3.12zM294.9 38.3h3.12v2.72h-3.12zM300.6 38.3h3.42v2.72h-3.42zM303.5 38.3h2.80v2.72h-2.80zM303.5 40.0h2.80v2.02h-2.80zM283.5 41.8h3.52v2.22h-3.52zM286.4 41.8h3.62v2.22h-3.62zM292.1 41.8h2.92v2.22h-2.92zM283.5 43.5h3.52v2.52h-3.52zM289.2 45.3h3.82v2.72h-3.82zM275.0 48.8h3.02v2.22h-3.02zM272.1 50.5h2.92v2.52h-2.92zM280.7 52.2h3.32v1.82h-3.32zM232.2 54.0h3.82v2.02h-3.82zM240.8 54.0h3.22v2.02h-3.22zM269.3 54.0h3.72v2.02h-3.72zM223.7 55.7h3.32v2.32h-3.32zM235.1 55.7h2.92v2.32h-2.92zM260.7 55.7h3.32v2.32h-3.32zM266.4 55.7h3.62v2.32h-3.62zM212.3 57.5h3.72v2.52h-3.72zM226.5 59.2h3.52v1.82h-3.52zM266.4 59.2h3.62v1.82h-3.62zM286.4 59.2h3.62v1.82h-3.62zM223.7 61.0h3.32v2.02h-3.32zM266.4 61.0h3.62v2.02h-3.62zM292.1 62.7h2.92v2.32h-2.92zM32.8 64.4h3.22v2.62h-3.22zM27.1 66.2h2.92v1.82h-2.92zM58.4 66.2h3.62v1.82h-3.62zM237.9 66.2h3.12v1.82h-3.12zM29.9 67.9h3.12v2.12h-3.12zM226.5 67.9h3.52v2.12h-3.52zM32.8 69.7h3.22v2.32h-3.22zM29.9 71.4h3.12v2.62h-3.12zM275.0 71.4h3.02v2.62h-3.02zM81.2 73.2h3.82v1.82h-3.82zM84.1 73.2h2.92v1.82h-2.92zM29.9 74.9h3.12v2.12h-3.12zM32.8 74.9h3.22v2.12h-3.22zM229.4 74.9h3.62v2.12h-3.62zM266.4 76.6h3.62v2.42h-3.62zM69.8 78.4h3.22v2.62h-3.22zM198.0 78.4h3.02v2.62h-3.02zM218.0 78.4h3.02v2.62h-3.02zM35.6 80.1h3.42v1.92h-3.42zM84.1 80.1h2.92v1.92h-2.92zM198.0 80.1h3.02v1.92h-3.02zM192.3 81.9h3.72v2.12h-3.72zM286.4 81.9h3.62v2.12h-3.62zM29.9 83.6h3.12v2.42h-3.12zM84.1 85.4h2.92v2.62h-2.92zM218.0 85.4h3.02v2.62h-3.02zM252.2 85.4h3.82v2.62h-3.82zM124.0 87.1h3.02v1.92h-3.02zM223.7 87.1h3.32v1.92h-3.32zM303.5 87.1h2.80v1.92h-2.80zM32.8 88.8h3.22v2.22h-3.22zM257.9 90.6h3.12v2.42h-3.12zM55.6 92.3h3.42v2.72h-3.42zM29.9 95.8h3.12v2.22h-3.12zM189.5 95.8h3.52v2.22h-3.52zM286.4 97.6h3.62v1.71h-3.62zM297.8 97.6h3.22v1.71h-3.22zM21.4 99.3h3.62v2.72h-3.62zM35.6 101.0h2.89v1.79h-2.89zM152.5 101.0h3.52v2.02h-3.52zM269.3 101.0h2.81v1.79h-2.81zM81.2 104.5h3.82v1.78h-3.82z"/>
<path fill="#481467" d="M78.4 59.2h3.62v1.82h-3.62zM143.9 59.2h3.12v1.82h-3.12zM49.9 66.2h3.12v1.82h-3.12zM189.5 66.2h3.52v1.82h-3.52zM200.9 94.1h3.12v1.92h-3.12zM52.7 102.8h2.89v1.74h-2.89zM206.6 102.8h3.42v2.22h-3.42zM124.0 104.5h3.02v1.78h-3.02z"/>
<path fill="#2f6b8e" d="M303.5 31.3h2.80v2.72h-2.80zM283.5 33.1h3.52v1.92h-3.52zM255.0 40.0h3.02v2.02h-3.02zM263.6 40.0h3.42v2.02h-3.42zM289.2 40.0h3.82v2.02h-3.82zM269.3 41.8h3.72v2.22h-3.72zM246.5 43.5h3.52v2.52h-3.52zM286.4 43.5h3.62v2.52h-3.62zM292.1 43.5h2.92v2.52h-2.92zM260.7 45.3h3.32v2.72h-3.32zM266.4 45.3h3.62v2.72h-3.62zM294.9 45.3h3.12v2.72h-3.12zM235.1 47.0h2.92v2.02h-2.92zM246.5 47.0h3.52v2.02h-3.52zM260.7 47.0h3.32v2.02h-3.32zM232.2 48.8h3.82v2.22h-3.82zM292.1 48.8h2.92v1.70h-2.92zM294.9 50.5h3.12v2.52h-3.12zM260.7 52.2h3.32v1.82h-3.32zM220.8 54.0h3.22v2.02h-3.22zM252.2 55.7h3.82v2.32h-3.82zM275.0 55.7h3.02v2.32h-3.02zM294.9 55.7h3.12v2.32h-3.12zM303.5 55.7h2.80v2.32h-2.80zM235.1 57.5h2.92v2.52h-2.92zM81.2 59.2h3.82v1.82h-3.82zM198.0 59.2h3.02v1.82h-3.02zM218.0 59.2h3.02v1.82h-3.02zM252.2 59.2h3.82v1.82h-3.82zM215.1 61.0h2.92v2.02h-2.92zM218.0 61.0h3.02v2.02h-3.02zM292.1 61.0h2.92v2.02h-2.92zM232.2 62.7h3.82v2.32h-3.82zM198.0 64.4h3.02v2.62h-3.02zM29.9 66.2h3.12v1.82h-3.12zM32.8 66.2h3.22v1.82h-3.22zM240.8 66.2h3.22v1.82h-3.22zM212.3 67.9h3.72v2.12h-3.72zM229.4 67.9h3.62v2.12h-3.62zM218.0 69.7h3.02v2.32h-3.02zM283.5 71.4h3.52v2.62h-3.52zM300.6 71.4h3.42v2.62h-3.42zM58.4 73.2h3.62v1.82h-3.62zM84.1 76.6h2.92v2.42h-2.92zM220.8 76.6h3.22v2.42h-3.22zM275.0 76.6h3.02v2.42h-3.02zM78.4 80.1h3.62v1.92h-3.62zM303.5 80.1h2.80v1.92h-2.80zM84.1 81.9h2.92v2.12h-2.92zM146.8 81.9h3.22v2.12h-3.22zM215.1 81.9h2.92v2.12h-2.92zM223.7 83.6h3.32v2.42h-3.32zM229.4 83.6h3.62v2.42h-3.62zM98.3 85.4h3.72v2.62h-3.72zM163.9 88.8h3.12v2.22h-3.12zM58.4 92.3h3.62v2.72h-3.62zM95.5 92.3h3.52v2.72h-3.52zM84.1 94.1h2.92v1.92h-2.92zM126.8 94.1h3.22v1.92h-3.22zM297.8 94.1h3.22v1.92h-3.22zM243.6 97.6h3.42v2.42h-3.42zM135.4 99.3h3.62v2.72h-3.62zM218.0 99.3h2.83v2.72h-2.83zM232.2 99.3h2.88v1.75h-2.88zM243.6 99.3h3.42v1.75h-3.42zM98.3 101.0h3.72v1.79h-3.72zM215.1 101.0h2.92v2.02h-2.92zM246.5 101.0h2.82v2.02h-2.82zM300.6 101.0h2.85v2.02h-2.85zM257.9 102.8h3.12v1.74h-3.12zM155.3 104.5h3.72v2.52h-3.72zM198.0 106.3h2.89v1.72h-2.89z"/>
<path fill="#453781" d="M109.7 57.5h3.32v2.52h-3.32zM158.2 57.5h3.82v2.52h-3.82zM169.5 57.5h3.52v2.52h-3.52zM175.2 57.5h3.82v2.52h-3.82zM72.7 59.2h3.32v1.82h-3.32zM124.0 59.2h3.02v1.82h-3.02zM141.1 59.2h2.92v1.82h-2.92zM149.6 59.2h3.42v1.82h-3.42zM92.6 61.0h3.42v2.02h-3.42zM106.9 61.0h3.12v2.02h-3.12zM149.6 61.0h3.42v2.02h-3.42zM163.9 61.0h3.12v2.02h-3.12zM106.9 62.7h3.12v2.32h-3.12zM118.3 62.7h3.72v2.32h-3.72zM175.2 62.7h3.82v2.32h-3.82zM178.1 62.7h2.92v2.32h-2.92zM49.9 64.4h3.12v2.62h-3.12zM67.0 64.4h3.02v2.62h-3.02zM92.6 64.4h3.42v2.62h-3.42zM115.4 64.4h3.62v2.62h-3.62zM161.0 64.4h3.02v2.62h-3.02zM78.4 66.2h3.62v1.82h-3.62zM109.7 66.2h3.32v1.82h-3.32zM124.0 66.2h3.02v1.82h-3.02zM143.9 66.2h3.12v1.82h-3.12zM178.1 66.2h2.92v1.82h-2.92zM206.6 66.2h3.42v1.82h-3.42zM209.4 66.2h3.62v1.82h-3.62zM98.3 69.7h3.72v2.32h-3.72zM109.7 69.7h3.32v2.32h-3.32zM132.5 69.7h3.52v2.32h-3.52zM52.7 71.4h3.32v2.62h-3.32zM152.5 71.4h3.52v2.62h-3.52zM186.6 71.4h3.42v2.62h-3.42zM192.3 71.4h3.72v2.62h-3.72zM101.2 73.2h3.82v1.82h-3.82zM106.9 73.2h3.12v1.82h-3.12zM118.3 73.2h3.72v1.82h-3.72zM206.6 73.2h3.42v1.82h-3.42zM38.5 74.9h3.52v2.12h-3.52zM124.0 74.9h3.02v2.12h-3.02zM152.5 74.9h3.52v2.12h-3.52zM200.9 74.9h3.12v2.12h-3.12zM49.9 78.4h3.12v2.62h-3.12zM78.4 78.4h3.62v2.62h-3.62zM89.8 78.4h3.22v2.62h-3.22zM132.5 78.4h3.52v2.62h-3.52zM141.1 78.4h2.92v2.62h-2.92zM106.9 80.1h3.12v1.92h-3.12zM135.4 80.1h3.62v1.92h-3.62zM138.2 80.1h3.82v1.92h-3.82zM180.9 80.1h3.12v1.92h-3.12zM183.8 80.1h3.22v1.92h-3.22zM161.0 81.9h3.02v2.12h-3.02zM183.8 83.6h3.22v2.42h-3.22zM118.3 87.1h3.72v1.92h-3.72zM47.0 88.8h3.02v2.22h-3.02zM206.6 88.8h3.42v2.22h-3.42zM152.5 90.6h3.52v2.42h-3.52zM161.0 92.3h3.02v2.72h-3.02zM183.8 92.3h3.22v2.72h-3.22zM104.0 94.1h3.02v1.92h-3.02zM118.3 94.1h3.72v1.92h-3.72zM52.7 97.6h3.32v2.42h-3.32zM112.6 99.3h3.42v2.72h-3.42zM104.0 101.0h3.02v2.02h-3.02zM200.9 101.0h3.12v2.02h-3.12zM75.5 102.8h3.52v1.74h-3.52zM115.4 102.8h2.87v2.22h-2.87zM109.7 106.3h2.87v1.72h-2.87zM206.6 106.3h2.83v1.72h-2.83zM189.5 108.0h2.84v2.02h-2.84zM132.5 109.8h2.86v1.71h-2.86z"/>
<path fill="#2a788e" d="M269.3 36.6h3.72v2.42h-3.72zM294.9 36.6h3.12v2.42h-3.12zM269.3 40.0h3.72v2.02h-3.72zM255.0 41.8h3.02v2.22h-3.02zM294.9 43.5h3.12v2.52h-3.12zM297.8 43.5h3.22v2.52h-3.22zM246.5 45.3h3.52v2.72h-3.52zM275.0 45.3h3.02v2.72h-3.02zM303.5 45.3h2.80v2.72h-2.80zM252.2 47.0h3.82v2.02h-3.82zM303.5 47.0h2.80v2.02h-2.80zM240.8 50.5h3.22v2.52h-3.22zM269.3 50.5h3.72v2.52h-3.72zM246.5 54.0h3.52v2.02h-3.52zM255.0 54.0h3.02v2.02h-3.02zM255.0 55.7h3.02v2.32h-3.02zM277.8 55.7h3.22v2.32h-3.22zM280.7 55.7h3.32v2.32h-3.32zM286.4 57.5h3.62v2.52h-3.62zM212.3 59.2h3.72v1.82h-3.72zM229.4 59.2h3.62v1.82h-3.62zM289.2 61.0h3.82v2.02h-3.82zM243.6 62.7h3.42v2.32h-3.42zM266.4 62.7h3.62v2.32h-3.62zM280.7 62.7h3.32v2.32h-3.32zM303.5 62.7h2.80v2.32h-2.80zM269.3 64.4h3.72v2.62h-3.72zM289.2 64.4h3.82v2.62h-3.82zM24.2 66.2h3.82v1.82h-3.82zM249.3 66.2h3.72v1.82h-3.72zM252.2 66.2h3.82v1.82h-3.82zM297.8 66.2h3.22v1.82h-3.22zM84.1 67.9h2.92v2.12h-2.92zM252.2 67.9h3.82v2.12h-3.82zM280.7 69.7h3.32v2.32h-3.32zM215.1 71.4h2.92v2.62h-2.92zM226.5 73.2h3.52v1.82h-3.52zM243.6 73.2h3.42v1.82h-3.42zM275.0 73.2h3.02v1.82h-3.02zM24.2 74.9h3.82v2.12h-3.82zM24.2 76.6h3.82v2.42h-3.82zM55.6 76.6h3.42v2.42h-3.42zM218.0 76.6h3.02v2.42h-3.02zM229.4 76.6h3.62v2.42h-3.62zM260.7 76.6h3.32v2.42h-3.32zM84.1 78.4h2.92v2.62h-2.92zM229.4 78.4h3.62v2.62h-3.62zM58.4 80.1h3.62v1.92h-3.62zM277.8 80.1h3.22v1.92h-3.22zM35.6 81.9h3.42v2.12h-3.42zM55.6 81.9h3.42v2.12h-3.42zM58.4 81.9h3.62v2.12h-3.62zM198.0 81.9h3.02v2.12h-3.02zM55.6 83.6h3.42v2.42h-3.42zM58.4 83.6h3.62v2.42h-3.62zM212.3 83.6h3.72v2.42h-3.72zM286.4 83.6h3.62v2.42h-3.62zM61.3 85.4h3.72v2.62h-3.72zM257.9 85.4h3.12v2.62h-3.12zM29.9 87.1h3.12v1.92h-3.12zM229.4 87.1h3.62v1.92h-3.62zM257.9 87.1h3.12v1.92h-3.12zM266.4 87.1h3.62v1.92h-3.62zM55.6 88.8h3.42v2.22h-3.42zM58.4 90.6h3.62v2.42h-3.62zM237.9 90.6h3.12v2.42h-3.12zM243.6 90.6h3.42v2.42h-3.42zM263.6 90.6h3.42v2.42h-3.42zM138.2 92.3h3.82v2.72h-3.82zM237.9 92.3h3.12v2.72h-3.12zM237.9 95.8h3.12v2.22h-3.12zM263.6 95.8h3.42v2.22h-3.42zM283.5 95.8h3.52v1.76h-3.52zM257.9 97.6h3.12v2.42h-3.12zM21.4 101.0h2.85v1.79h-2.85zM32.8 101.0h3.22v2.02h-3.22z"/>
<path fill="#1e9c89" d="M289.2 67.9h3.82v2.12h-3.82zM260.7 71.4h3.32v2.62h-3.32zM246.5 73.2h3.52v1.82h-3.52zM226.5 74.9h3.52v2.12h-3.52zM118.3 80.1h3.72v1.92h-3.72zM294.9 81.9h3.12v2.12h-3.12zM200.9 87.1h3.12v1.92h-3.12zM226.5 88.8h3.52v2.22h-3.52zM61.3 92.3h3.72v2.72h-3.72zM240.8 95.8h3.22v1.76h-3.22zM277.8 95.8h3.22v2.22h-3.22zM300.6 95.8h3.42v2.22h-3.42z"/>
<path fill="#39558c" d="M292.1 34.8h2.92v2.22h-2.92zM286.4 47.0h3.62v2.02h-3.62zM266.4 48.8h3.62v2.22h-3.62zM266.4 50.5h3.62v2.52h-3.62zM275.0 50.5h3.02v2.52h-3.02zM166.7 57.5h3.32v2.52h-3.32zM126.8 59.2h3.22v1.82h-3.22zM172.4 62.7h3.62v2.32h-3.62zM124.0 67.9h3.02v2.12h-3.02zM129.7 69.7h3.32v2.32h-3.32zM138.2 71.4h3.82v2.62h-3.82zM155.3 73.2h3.72v1.82h-3.72zM158.2 73.2h3.82v1.82h-3.82zM86.9 74.9h3.12v2.12h-3.12zM38.5 78.4h3.52v2.62h-3.52zM180.9 78.4h3.12v2.62h-3.12zM24.2 80.1h3.82v1.92h-3.82zM109.7 80.1h3.32v1.92h-3.32zM95.5 81.9h3.52v2.12h-3.52zM112.6 83.6h3.42v2.42h-3.42zM124.0 83.6h3.02v2.42h-3.02zM152.5 83.6h3.52v2.42h-3.52zM163.9 83.6h3.12v2.42h-3.12zM112.6 85.4h3.42v2.62h-3.42zM172.4 85.4h3.62v2.62h-3.62zM132.5 87.1h3.52v1.92h-3.52zM138.2 87.1h3.82v1.92h-3.82zM152.5 87.1h3.52v1.92h-3.52zM172.4 87.1h3.62v1.92h-3.62zM44.2 88.8h3.82v2.22h-3.82zM75.5 88.8h3.52v2.22h-3.52zM132.5 88.8h3.52v2.22h-3.52zM186.6 88.8h3.42v2.22h-3.42zM72.7 90.6h3.32v2.42h-3.32zM75.5 90.6h3.52v2.42h-3.52zM109.7 90.6h3.32v2.42h-3.32zM38.5 92.3h3.52v2.72h-3.52zM124.0 92.3h3.02v2.72h-3.02zM152.5 92.3h3.52v2.72h-3.52zM186.6 92.3h3.42v2.72h-3.42zM69.8 94.1h3.22v1.92h-3.22zM86.9 94.1h3.12v1.92h-3.12zM89.8 94.1h3.22v1.92h-3.22zM115.4 94.1h3.62v1.92h-3.62zM158.2 94.1h3.82v1.92h-3.82zM180.9 94.1h3.12v1.92h-3.12zM89.8 95.8h3.22v2.22h-3.22zM163.9 95.8h3.12v2.22h-3.12zM121.1 97.6h2.92v2.42h-2.92zM124.0 97.6h3.02v2.42h-3.02zM138.2 97.6h3.82v2.42h-3.82zM143.9 97.6h3.12v2.42h-3.12zM149.6 97.6h3.42v2.42h-3.42zM155.3 97.6h3.72v2.42h-3.72zM192.3 97.6h3.72v2.42h-3.72zM67.0 99.3h3.02v2.72h-3.02zM129.7 99.3h3.32v2.72h-3.32zM283.5 99.3h2.86v1.75h-2.86zM75.5 101.0h3.52v2.02h-3.52zM101.2 101.0h3.82v2.02h-3.82zM112.6 101.0h3.42v2.02h-3.42zM86.9 102.8h3.12v2.22h-3.12zM92.6 102.8h3.42v2.22h-3.42zM95.5 102.8h2.82v2.22h-2.82zM149.6 102.8h3.42v2.22h-3.42z"/>
<path fill="#50c46a" d="M32.8 83.6h3.22v2.42h-3.22z"/>
<path fill="#25848e" d="M300.6 26.1h3.42v1.92h-3.42zM294.9 27.8h3.12v2.22h-3.12zM303.5 27.8h2.80v2.22h-2.80zM294.9 34.8h3.12v2.22h-3.12zM297.8 34.8h3.22v2.22h-3.22zM272.1 36.6h2.92v2.42h-2.92zM277.8 36.6h3.22v2.42h-3.22zM303.5 43.5h2.80v2.52h-2.80zM255.0 48.8h3.02v2.22h-3.02zM277.8 48.8h3.22v2.22h-3.22zM223.7 52.2h3.32v1.82h-3.32zM243.6 54.0h3.42v2.02h-3.42zM226.5 57.5h3.52v2.52h-3.52zM272.1 59.2h2.92v1.82h-2.92zM275.0 59.2h3.02v1.82h-3.02zM277.8 59.2h3.22v1.82h-3.22zM249.3 61.0h3.72v2.02h-3.72zM303.5 61.0h2.80v2.02h-2.80zM249.3 62.7h3.72v2.32h-3.72zM257.9 62.7h3.12v2.32h-3.12zM280.7 64.4h3.32v2.62h-3.32zM297.8 64.4h3.22v2.62h-3.22zM300.6 64.4h3.42v2.62h-3.42zM61.3 66.2h3.72v1.82h-3.72zM198.0 66.2h3.02v1.82h-3.02zM223.7 69.7h3.32v2.32h-3.32zM243.6 69.7h3.42v2.32h-3.42zM84.1 71.4h2.92v2.62h-2.92zM232.2 71.4h3.82v2.62h-3.82zM263.6 71.4h3.42v2.62h-3.42zM269.3 71.4h3.72v2.62h-3.72zM21.4 73.2h3.62v1.82h-3.62zM32.8 73.2h3.22v1.82h-3.22zM61.3 73.2h3.72v1.82h-3.72zM215.1 73.2h2.92v1.70h-2.92zM260.7 73.2h3.32v1.82h-3.32zM286.4 73.2h2.81v1.82h-2.81zM212.3 76.6h3.72v2.42h-3.72zM215.1 76.6h2.92v2.42h-2.92zM55.6 78.4h3.42v2.62h-3.42zM200.9 80.1h3.12v1.92h-3.12zM235.1 80.1h2.92v1.92h-2.92zM243.6 80.1h3.42v1.92h-3.42zM297.8 81.9h3.22v2.12h-3.22zM303.5 83.6h2.80v2.42h-2.80zM232.2 85.4h3.82v2.62h-3.82zM277.8 85.4h3.22v2.62h-3.22zM283.5 85.4h3.52v2.62h-3.52zM243.6 88.8h3.42v2.22h-3.42zM266.4 88.8h3.62v2.22h-3.62zM300.6 88.8h3.42v2.22h-3.42zM35.6 90.6h3.42v2.42h-3.42zM55.6 90.6h3.42v2.42h-3.42zM300.6 90.6h3.42v2.42h-3.42zM249.3 92.3h3.72v2.72h-3.72zM272.1 92.3h2.92v2.72h-2.92zM275.0 92.3h3.02v2.72h-3.02zM277.8 92.3h3.22v2.72h-3.22zM27.1 94.1h2.92v1.92h-2.92zM58.4 94.1h3.62v1.92h-3.62zM223.7 94.1h3.32v1.92h-3.32zM252.2 94.1h3.82v1.92h-3.82zM294.9 94.1h3.12v1.92h-3.12zM249.3 95.8h3.72v2.22h-3.72zM269.3 95.8h3.72v2.22h-3.72zM32.8 99.3h3.22v2.72h-3.22zM35.6 99.3h3.42v2.72h-3.42zM198.0 99.3h3.02v2.72h-3.02zM58.4 101.0h3.62v1.79h-3.62zM226.5 101.0h2.88v2.02h-2.88zM237.9 101.0h2.87v1.79h-2.87zM294.9 101.0h3.12v2.02h-3.12zM81.2 102.8h3.82v2.22h-3.82z"/>
<path fill="#40bd72" d="M263.6 47.0h3.42v2.02h-3.42zM24.2 78.4h3.82v2.62h-3.82zM269.3 78.4h3.72v2.62h-3.72zM300.6 78.4h3.42v2.62h-3.42zM212.3 90.6h3.72v2.42h-3.72z"/>
<path fill="#29af7f" d="M255.0 92.3h3.02v2.72h-3.02zM169.5 102.8h3.52v2.22h-3.52z"/>
<path fill="#3e4989" d="M277.8 38.3h3.22v2.72h-3.22zM132.5 57.5h3.52v2.52h-3.52zM186.6 57.5h3.42v2.52h-3.42zM198.0 57.5h3.02v2.52h-3.02zM92.6 59.2h3.42v1.82h-3.42zM118.3 61.0h3.72v2.02h-3.72zM180.9 61.0h3.12v2.02h-3.12zM92.6 62.7h3.42v2.32h-3.42zM149.6 62.7h3.42v2.32h-3.42zM138.2 64.4h3.82v2.62h-3.82zM189.5 64.4h3.52v2.62h-3.52zM92.6 66.2h3.42v1.82h-3.42zM172.4 66.2h3.62v1.82h-3.62zM186.6 66.2h3.42v1.82h-3.42zM41.3 67.9h3.72v2.12h-3.72zM67.0 67.9h3.02v2.12h-3.02zM72.7 67.9h3.32v2.12h-3.32zM86.9 67.9h3.12v2.12h-3.12zM95.5 67.9h3.52v2.12h-3.52zM126.8 67.9h3.22v2.12h-3.22zM69.8 69.7h3.22v2.32h-3.22zM118.3 69.7h3.72v2.32h-3.72zM86.9 71.4h3.12v2.62h-3.12zM92.6 71.4h3.42v2.62h-3.42zM175.2 71.4h3.82v2.62h-3.82zM169.5 73.2h3.52v1.82h-3.52zM192.3 73.2h3.72v1.82h-3.72zM95.5 74.9h3.52v2.12h-3.52zM146.8 74.9h3.22v2.12h-3.22zM163.9 74.9h3.12v2.12h-3.12zM178.1 76.6h2.92v2.42h-2.92zM115.4 78.4h3.62v2.62h-3.62zM195.2 78.4h3.82v2.62h-3.82zM52.7 80.1h3.32v1.92h-3.32zM101.2 80.1h3.82v1.92h-3.82zM112.6 80.1h3.42v1.92h-3.42zM115.4 80.1h3.62v1.92h-3.62zM129.7 80.1h3.32v1.92h-3.32zM163.9 80.1h3.12v1.92h-3.12zM38.5 81.9h3.52v2.12h-3.52zM75.5 81.9h3.52v2.12h-3.52zM183.8 81.9h3.22v2.12h-3.22zM118.3 83.6h3.72v2.42h-3.72zM132.5 83.6h3.52v2.42h-3.52zM195.2 83.6h3.82v2.42h-3.82zM109.7 85.4h3.32v2.62h-3.32zM52.7 87.1h3.32v1.92h-3.32zM92.6 87.1h3.42v1.92h-3.42zM115.4 87.1h3.62v1.92h-3.62zM121.1 87.1h2.92v1.92h-2.92zM169.5 87.1h3.52v1.92h-3.52zM92.6 88.8h3.42v2.22h-3.42zM104.0 88.8h3.02v2.22h-3.02zM106.9 88.8h3.12v2.22h-3.12zM149.6 88.8h3.42v2.22h-3.42zM209.4 88.8h3.62v2.22h-3.62zM38.5 90.6h3.52v2.42h-3.52zM69.8 90.6h3.22v2.42h-3.22zM143.9 90.6h3.12v2.42h-3.12zM172.4 90.6h3.62v2.42h-3.62zM132.5 92.3h3.52v2.72h-3.52zM41.3 94.1h3.72v1.92h-3.72zM112.6 94.1h3.42v1.92h-3.42zM49.9 95.8h3.12v2.22h-3.12zM104.0 95.8h3.02v2.22h-3.02zM72.7 97.6h3.32v2.42h-3.32zM92.6 97.6h3.42v2.42h-3.42zM152.5 97.6h3.52v2.42h-3.52zM172.4 97.6h3.62v2.42h-3.62zM189.5 97.6h3.52v2.42h-3.52zM175.2 99.3h3.82v2.72h-3.82zM41.3 101.0h3.72v1.79h-3.72zM138.2 101.0h3.82v1.79h-3.82zM115.4 104.5h2.87v1.78h-2.87zM163.9 104.5h3.12v1.78h-3.12zM47.0 106.3h2.89v1.72h-2.89zM163.9 108.0h2.80v1.76h-2.80z"/>
<path fill="#27808e" d="M303.5 29.6h2.80v2.42h-2.80zM289.2 36.6h3.82v2.42h-3.82zM297.8 36.6h3.22v2.42h-3.22zM300.6 36.6h3.42v2.42h-3.42zM289.2 38.3h3.82v2.72h-3.82zM303.5 41.8h2.80v2.22h-2.80zM300.6 43.5h3.42v2.52h-3.42zM283.5 45.3h3.52v2.72h-3.52zM300.6 45.3h3.42v2.72h-3.42zM257.9 47.0h3.12v2.02h-3.12zM283.5 47.0h3.52v2.02h-3.52zM243.6 48.8h3.42v2.22h-3.42zM269.3 48.8h3.72v2.22h-3.72zM286.4 48.8h3.62v2.22h-3.62zM229.4 52.2h3.62v1.82h-3.62zM266.4 54.0h3.62v2.02h-3.62zM198.0 55.7h2.89v2.32h-2.89zM235.1 59.2h2.92v1.82h-2.92zM246.5 59.2h3.52v1.82h-3.52zM300.6 59.2h3.42v1.82h-3.42zM64.1 61.0h2.92v2.02h-2.92zM243.6 61.0h3.42v2.02h-3.42zM235.1 62.7h2.92v2.32h-2.92zM64.1 64.4h2.92v2.62h-2.92zM283.5 64.4h3.52v2.62h-3.52zM269.3 67.9h3.72v2.12h-3.72zM58.4 69.7h3.62v2.32h-3.62zM84.1 69.7h2.92v2.32h-2.92zM226.5 69.7h3.52v2.32h-3.52zM266.4 69.7h3.62v2.32h-3.62zM223.7 71.4h3.32v2.62h-3.32zM226.5 71.4h3.52v2.62h-3.52zM277.8 71.4h3.22v2.62h-3.22zM292.1 71.4h2.92v2.62h-2.92zM29.9 73.2h3.12v1.82h-3.12zM35.6 73.2h3.42v1.82h-3.42zM64.1 73.2h2.92v1.82h-2.92zM223.7 73.2h3.32v1.82h-3.32zM229.4 73.2h3.62v1.82h-3.62zM269.3 73.2h3.72v1.82h-3.72zM81.2 74.9h3.82v2.12h-3.82zM223.7 74.9h3.32v2.12h-3.32zM263.6 74.9h3.42v2.12h-3.42zM223.7 76.6h3.32v2.42h-3.32zM240.8 76.6h3.22v2.42h-3.22zM280.7 76.6h3.32v2.42h-3.32zM64.1 80.1h2.92v1.92h-2.92zM218.0 80.1h3.02v1.92h-3.02zM249.3 80.1h3.72v1.92h-3.72zM277.8 81.9h3.22v2.12h-3.22zM257.9 83.6h3.12v2.42h-3.12zM292.1 83.6h2.92v2.42h-2.92zM27.1 85.4h2.92v2.62h-2.92zM29.9 85.4h3.12v2.62h-3.12zM235.1 85.4h2.92v2.62h-2.92zM237.9 85.4h3.12v2.62h-3.12zM260.7 85.4h3.32v2.62h-3.32zM158.2 87.1h3.82v1.92h-3.82zM249.3 87.1h3.72v1.92h-3.72zM260.7 87.1h3.32v1.92h-3.32zM286.4 87.1h3.62v1.92h-3.62zM84.1 88.8h2.92v2.22h-2.92zM223.7 88.8h3.32v2.22h-3.32zM81.2 90.6h3.82v2.42h-3.82zM249.3 90.6h3.72v2.42h-3.72zM218.0 92.3h3.02v2.72h-3.02zM35.6 94.1h3.42v1.92h-3.42zM27.1 95.8h2.92v2.22h-2.92zM275.0 95.8h3.02v2.22h-3.02zM84.1 97.6h2.92v2.42h-2.92zM115.4 97.6h3.62v2.42h-3.62zM215.1 97.6h2.92v1.71h-2.92zM55.6 99.3h3.42v2.72h-3.42zM152.5 99.3h3.52v2.72h-3.52zM257.9 99.3h3.12v2.72h-3.12zM280.7 99.3h3.32v2.72h-3.32zM303.5 99.3h2.80v1.75h-2.80zM237.9 104.5h2.87v1.78h-2.87z"/>
<path fill="#482979" d="M163.9 57.5h3.12v2.52h-3.12zM69.8 59.2h3.22v1.82h-3.22zM101.2 61.0h3.82v2.02h-3.82zM104.0 61.0h3.02v2.02h-3.02zM109.7 61.0h3.32v2.02h-3.32zM121.1 61.0h2.92v2.02h-2.92zM129.7 62.7h3.32v2.32h-3.32zM143.9 62.7h3.12v2.32h-3.12zM200.9 62.7h3.12v2.32h-3.12zM38.5 64.4h3.52v2.62h-3.52zM78.4 64.4h3.62v2.62h-3.62zM169.5 64.4h3.52v2.62h-3.52zM175.2 64.4h3.82v2.62h-3.82zM206.6 64.4h3.42v2.62h-3.42zM47.0 66.2h3.02v1.82h-3.02zM106.9 66.2h3.12v1.82h-3.12zM166.7 66.2h3.32v1.82h-3.32zM178.1 67.9h2.92v2.12h-2.92zM183.8 67.9h3.22v2.12h-3.22zM101.2 69.7h3.82v2.32h-3.82zM104.0 71.4h3.02v2.62h-3.02zM124.0 71.4h3.02v2.62h-3.02zM166.7 73.2h3.32v1.82h-3.32zM118.3 74.9h3.72v2.12h-3.72zM52.7 76.6h3.32v2.42h-3.32zM98.3 76.6h3.72v2.42h-3.72zM155.3 76.6h3.72v2.42h-3.72zM183.8 76.6h3.22v2.42h-3.22zM126.8 80.1h3.22v1.92h-3.22zM47.0 83.6h3.02v2.42h-3.02zM49.9 87.1h3.12v1.92h-3.12zM132.5 90.6h3.52v2.42h-3.52zM98.3 92.3h3.72v2.72h-3.72zM146.8 102.8h3.22v1.74h-3.22zM186.6 102.8h3.42v1.74h-3.42zM95.5 104.5h2.82v2.52h-2.82zM101.2 104.5h2.82v1.78h-2.82zM175.2 104.5h3.82v1.78h-3.82zM89.8 106.3h2.83v1.72h-2.83zM189.5 106.3h2.84v2.72h-2.84z"/>
<path fill="none" stroke="#fff" stroke-opacity="0.12" stroke-width="0.6" d="M24.25 19.1V113.2M27.10 19.1V113.2M29.95 19.1V113.2M32.80 19.1V113.2M35.64 19.1V113.2M38.49 19.1V113.2M41.34 19.1V113.2M44.19 19.1V113.2M47.04 19.1V113.2M49.89 19.1V113.2M52.74 19.1V113.2M55.59 19.1V113.2M58.44 19.1V113.2M61.29 19.1V113.2M64.13 19.1V113.2M66.98 19.1V113.2M69.83 19.1V113.2M72.68 19.1V113.2M75.53 19.1V113.2M78.38 19.1V113.2M81.23 19.1V113.2M84.08 19.1V113.2M86.93 19.1V113.2M89.78 19.1V113.2M92.62 19.1V113.2M95.47 19.1V113.2M98.32 19.1V113.2M101.17 19.1V113.2M104.02 19.1V113.2M106.87 19.1V113.2M109.72 19.1V113.2M112.57 19.1V113.2M115.42 19.1V113.2M118.27 19.1V113.2M121.12 19.1V113.2M123.96 19.1V113.2M126.81 19.1V113.2M129.66 19.1V113.2M132.51 19.1V113.2M135.36 19.1V113.2M138.21 19.1V113.2M141.06 19.1V113.2M143.91 19.1V113.2M146.76 19.1V113.2M149.61 19.1V113.2M152.45 19.1V113.2M155.30 19.1V113.2M158.15 19.1V113.2M161.00 19.1V113.2M163.85 19.1V113.2M166.70 19.1V113.2M169.55 19.1V113.2M172.40 19.1V113.2M175.25 19.1V113.2M178.10 19.1V113.2M180.94 19.1V113.2M183.79 19.1V113.2M186.64 19.1V113.2M189.49 19.1V113.2M192.34 19.1V113.2M195.19 19.1V113.2M198.04 19.1V113.2M200.89 19.1V113.2M203.74 19.1V113.2M206.59 19.1V113.2M209.43 19.1V113.2M212.28 19.1V113.2M215.13 19.1V113.2M217.98 19.1V113.2M220.83 19.1V113.2M223.68 19.1V113.2M226.53 19.1V113.2M229.38 19.1V113.2M232.23 19.1V113.2M235.08 19.1V113.2M237.92 19.1V113.2M240.77 19.1V113.2M243.62 19.1V113.2M246.47 19.1V113.2M249.32 19.1V113.2M252.17 19.1V113.2M255.02 19.1V113.2M257.87 19.1V113.2M260.72 19.1V113.2M263.56 19.1V113.2M266.41 19.1V113.2M269.26 19.1V113.2M272.11 19.1V113.2M274.96 19.1V113.2M277.81 19.1V113.2M280.66 19.1V113.2M283.51 19.1V113.2M286.36 19.1V113.2M289.21 19.1V113.2M292.06 19.1V113.2M294.90 19.1V113.2M297.75 19.1V113.2M300.60 19.1V113.2M303.45 19.1V113.2M21.4 20.87H306.3M21.4 22.61H306.3M21.4 24.36H306.3M21.4 26.10H306.3M21.4 27.84H306.3M21.4 29.59H306.3M21.4 31.33H306.3M21.4 33.07H306.3M21.4 34.81H306.3M21.4 36.56H306.3M21.4 38.30H306.3M21.4 40.04H306.3M21.4 41.79H306.3M21.4 43.53H306.3M21.4 45.27H306.3M21.4 47.02H306.3M21.4 48.76H306.3M21.4 50.50H306.3M21.4 52.25H306.3M21.4 53.99H306.3M21.4 55.73H306.3M21.4 57.47H306.3M21.4 59.22H306.3M21.4 60.96H306.3M21.4 62.70H306.3M21.4 64.45H306.3M21.4 66.19H306.3M21.4 67.93H306.3M21.4 69.68H306.3M21.4 71.42H306.3M21.4 73.16H306.3M21.4 74.90H306.3M21.4 76.65H306.3M21.4 78.39H306.3M21.4 80.13H306.3M21.4 81.88H306.3M21.4 83.62H306.3M21.4 85.36H306.3M21.4 87.11H306.3M21.4 88.85H306.3M21.4 90.59H306.3M21.4 92.33H306.3M21.4 94.08H306.3M21.4 95.82H306.3M21.4 97.56H306.3M21.4 99.31H306.3M21.4 101.05H306.3M21.4 102.79H306.3M21.4 104.54H306.3M21.4 106.28H306.3M21.4 108.02H306.3M21.4 109.76H306.3M21.4 111.51H306.3"/>
<path fill="#1e9c89" d="M644.1 47.6h2.92v2.42h-2.92zM641.3 49.3h3.72v2.72h-3.72zM604.2 51.1h3.82v1.92h-3.82zM652.7 54.5h2.80v2.52h-2.80zM572.9 58.0h3.12v2.02h-3.12zM615.6 58.0h3.42v2.02h-3.42zM507.4 61.5h3.62v2.52h-3.62zM561.5 61.5h3.52v2.52h-3.52zM550.1 63.3h2.92v1.72h-2.92zM604.2 65.0h3.82v2.02h-3.82zM621.3 66.7h3.72v2.32h-3.72zM641.3 66.7h3.72v2.32h-3.72zM607.1 68.5h2.92v2.52h-2.92zM621.3 68.5h2.86v2.52h-2.86zM584.3 70.2h3.72v1.82h-3.72zM607.1 72.0h2.92v2.02h-2.92zM644.1 72.0h2.92v2.02h-2.92zM464.6 73.7h3.42v2.32h-3.42zM496.0 73.7h3.02v2.32h-3.02zM615.6 73.7h3.42v2.32h-3.42zM641.3 73.7h3.72v2.32h-3.72zM484.6 75.5h3.42v2.52h-3.42zM515.9 77.2h3.12v1.82h-3.12zM590.0 77.2h3.02v1.82h-3.02zM601.4 77.2h3.62v1.82h-3.62zM652.7 77.2h2.80v1.82h-2.80zM513.0 78.9h3.02v2.12h-3.02zM533.0 78.9h3.02v2.12h-3.02zM649.8 78.9h3.22v2.12h-3.22zM382.0 80.7h3.02v2.32h-3.02zM496.0 80.7h3.02v2.32h-3.02zM564.3 80.7h3.72v2.32h-3.72zM376.3 82.4h3.72v2.62h-3.72zM498.8 82.4h3.22v2.62h-3.22zM530.1 82.4h2.92v2.62h-2.92zM621.3 82.4h3.72v2.62h-3.72zM390.5 84.2h3.52v1.82h-3.52zM496.0 84.2h3.02v1.82h-3.02zM498.8 84.2h3.22v1.82h-3.22zM507.4 85.9h3.62v2.12h-3.62zM533.0 85.9h3.02v2.12h-3.02zM561.5 85.9h3.52v2.12h-3.52zM601.4 85.9h3.62v2.12h-3.62zM641.3 85.9h3.72v2.12h-3.72zM552.9 87.7h2.88v2.32h-2.88zM572.9 87.7h3.12v2.32h-3.12zM641.3 87.7h3.72v2.32h-3.72zM647.0 87.7h3.02v2.32h-3.02zM467.5 89.4h3.52v2.62h-3.52zM498.8 89.4h3.22v2.62h-3.22zM555.8 89.4h3.22v2.62h-3.22zM624.2 89.4h3.82v2.62h-3.82zM421.9 91.1h3.12v1.92h-3.12zM524.4 91.1h3.62v1.92h-3.62zM527.3 91.1h3.72v1.92h-3.72zM558.6 91.1h3.42v1.92h-3.42zM370.6 92.9h3.42v2.12h-3.42zM376.3 92.9h3.72v2.12h-3.72zM524.4 92.9h3.62v2.12h-3.62zM570.0 92.9h3.02v2.12h-3.02zM598.5 92.9h3.52v1.73h-3.52zM533.0 94.6h3.02v2.42h-3.02zM567.2 94.6h3.82v2.42h-3.82zM581.4 94.6h3.62v2.42h-3.62zM604.2 94.6h2.87v2.42h-2.87zM439.0 96.4h3.02v2.62h-3.02zM638.4 96.4h3.62v2.62h-3.62zM641.3 98.1h3.72v1.92h-3.72zM592.8 99.9h2.87v1.70h-2.87zM621.3 99.9h3.72v1.70h-3.72zM638.4 103.3h2.86v1.79h-2.86z"/>
<path fill="#21a585" d="M652.7 40.6h2.80v2.42h-2.80zM598.5 52.8h3.52v2.22h-3.52zM609.9 52.8h3.12v2.22h-3.12zM567.2 58.0h3.82v2.02h-3.82zM644.1 58.0h2.92v1.77h-2.92zM552.9 59.8h3.12v2.22h-3.12zM507.4 65.0h3.62v2.02h-3.62zM458.9 66.7h3.12v2.32h-3.12zM498.8 70.2h3.22v1.82h-3.22zM595.7 70.2h3.32v1.82h-3.32zM467.5 72.0h3.52v2.02h-3.52zM581.4 73.7h3.62v2.32h-3.62zM638.4 73.7h3.62v2.32h-3.62zM478.9 77.2h3.12v1.82h-3.12zM550.1 80.7h2.92v2.32h-2.92zM621.3 80.7h2.86v2.32h-2.86zM638.4 80.7h3.62v1.73h-3.62zM538.7 82.4h3.32v2.62h-3.32zM564.3 82.4h3.72v2.62h-3.72zM629.9 84.2h3.12v1.82h-3.12zM544.4 85.9h3.62v1.76h-3.62zM413.3 87.7h3.72v2.32h-3.72zM547.2 89.4h3.82v2.62h-3.82zM498.8 91.1h3.22v1.92h-3.22zM635.6 91.1h3.42v1.92h-3.42zM484.6 92.9h3.42v2.12h-3.42zM572.9 92.9h3.12v2.12h-3.12zM652.7 92.9h2.80v2.12h-2.80zM413.3 94.6h3.72v2.42h-3.72zM504.5 94.6h3.52v2.42h-3.52zM572.9 94.6h3.12v2.42h-3.12zM595.7 94.6h2.82v2.42h-2.82zM521.6 96.4h3.42v2.62h-3.42zM555.8 96.4h3.22v2.62h-3.22zM652.7 96.4h2.80v1.72h-2.80zM484.6 98.1h3.42v1.76h-3.42zM550.1 98.1h2.84v1.76h-2.84zM584.3 98.1h3.72v1.92h-3.72zM618.5 98.1h3.52v1.92h-3.52zM570.0 99.9h2.88v1.70h-2.88zM649.8 99.9h2.85v1.70h-2.85z"/>
<path fill="#2b758e" d="M649.8 35.4h3.22v2.62h-3.22zM649.8 42.3h3.22v2.72h-3.22zM627.0 44.1h3.02v1.92h-3.02zM632.7 44.1h3.32v1.92h-3.32zM627.0 47.6h3.02v2.42h-3.02zM618.5 49.3h3.52v1.76h-3.52zM629.9 51.1h3.12v1.92h-3.12zM629.9 52.8h2.81v2.22h-2.81zM644.1 54.5h2.92v2.52h-2.92zM615.6 56.3h3.42v2.72h-3.42zM618.5 56.3h3.52v2.72h-3.52zM550.1 58.0h2.92v2.02h-2.92zM581.4 59.8h3.62v2.22h-3.62zM641.3 59.8h2.80v2.22h-2.80zM618.5 61.5h3.52v2.52h-3.52zM419.0 65.0h3.02v2.02h-3.02zM564.3 65.0h3.72v2.02h-3.72zM379.1 66.7h2.92v2.32h-2.92zM558.6 66.7h3.42v2.32h-3.42zM533.0 68.5h3.02v2.52h-3.02zM550.1 68.5h2.92v2.52h-2.92zM587.1 68.5h2.92v2.52h-2.92zM461.8 70.2h3.22v1.82h-3.22zM493.1 70.2h2.92v1.82h-2.92zM564.3 72.0h3.72v2.02h-3.72zM572.9 72.0h3.12v2.02h-3.12zM575.7 72.0h3.32v2.02h-3.32zM638.4 72.0h3.62v2.02h-3.62zM476.0 73.7h3.02v2.32h-3.02zM570.0 75.5h3.02v2.52h-3.02zM578.6 75.5h3.42v2.52h-3.42zM632.7 75.5h3.32v2.52h-3.32zM370.6 77.2h3.42v1.82h-3.42zM533.0 77.2h3.02v1.82h-3.02zM493.1 78.9h2.92v2.12h-2.92zM524.4 80.7h3.62v2.32h-3.62zM649.8 80.7h2.85v2.32h-2.85zM473.2 82.4h3.82v2.62h-3.82zM487.4 82.4h3.62v2.62h-3.62zM575.7 82.4h3.32v2.62h-3.32zM592.8 84.2h3.22v1.72h-3.22zM612.8 84.2h3.22v1.82h-3.22zM370.6 87.7h3.42v2.32h-3.42zM524.4 87.7h3.62v2.32h-3.62zM538.7 89.4h3.32v2.62h-3.32zM433.3 91.1h3.72v1.92h-3.72zM541.5 91.1h3.52v1.92h-3.52zM518.7 94.6h3.32v2.42h-3.32zM584.3 96.4h3.72v2.62h-3.72zM501.7 98.1h3.32v1.76h-3.32zM473.2 99.9h2.81v2.12h-2.81zM598.5 99.9h2.87v1.70h-2.87zM632.7 101.6h2.86v1.75h-2.86zM373.4 103.3h2.90v1.79h-2.90zM581.4 103.3h2.88v1.79h-2.88z"/>
<path fill="#31668e" d="M612.8 54.5h3.22v1.78h-3.22zM632.7 54.5h3.32v2.52h-3.32zM635.6 54.5h3.42v2.52h-3.42zM609.9 58.0h3.12v2.02h-3.12zM584.3 63.3h2.82v1.72h-2.82zM496.0 65.0h3.02v2.02h-3.02zM473.2 66.7h3.82v2.32h-3.82zM527.3 66.7h3.72v2.32h-3.72zM518.7 70.2h3.32v1.82h-3.32zM544.4 70.2h3.62v1.82h-3.62zM547.2 70.2h3.82v1.82h-3.82zM590.0 70.2h3.02v1.82h-3.02zM621.3 72.0h3.72v2.02h-3.72zM379.1 73.7h2.92v2.32h-2.92zM493.1 75.5h2.92v2.52h-2.92zM421.9 80.7h3.12v2.32h-3.12zM547.2 80.7h3.82v2.32h-3.82zM567.2 80.7h3.82v2.32h-3.82zM515.9 84.2h3.12v1.82h-3.12zM379.1 85.9h2.92v2.12h-2.92zM399.1 85.9h2.92v2.12h-2.92zM638.4 85.9h3.62v2.12h-3.62zM535.8 87.7h3.22v2.32h-3.22zM384.8 89.4h3.22v2.62h-3.22zM515.9 92.9h3.12v2.12h-3.12zM430.4 99.9h3.62v2.12h-3.62zM547.2 99.9h2.89v1.70h-2.89z"/>
<path fill="#1f948c" d="M652.7 31.9h2.80v2.12h-2.80zM635.6 45.8h3.42v2.22h-3.42zM635.6 47.6h3.42v2.42h-3.42zM647.0 47.6h3.02v2.42h-3.02zM609.9 51.1h3.12v1.92h-3.12zM607.1 54.5h2.92v2.52h-2.92zM632.7 59.8h2.86v2.22h-2.86zM538.7 61.5h3.32v2.52h-3.32zM644.1 61.5h2.92v2.52h-2.92zM461.8 63.3h3.22v1.72h-3.22zM572.9 63.3h3.12v1.72h-3.12zM649.8 65.0h3.22v2.02h-3.22zM484.6 66.7h3.42v2.32h-3.42zM627.0 66.7h3.02v1.79h-3.02zM590.0 68.5h3.02v2.52h-3.02zM649.8 68.5h3.22v2.52h-3.22zM382.0 70.2h3.02v1.82h-3.02zM507.4 70.2h3.62v1.82h-3.62zM550.1 70.2h2.92v1.82h-2.92zM561.5 70.2h3.52v1.82h-3.52zM638.4 70.2h3.62v1.82h-3.62zM430.4 72.0h3.62v2.02h-3.62zM470.3 72.0h3.72v2.02h-3.72zM541.5 72.0h3.52v2.02h-3.52zM612.8 72.0h3.22v2.02h-3.22zM535.8 73.7h3.22v2.32h-3.22zM629.9 73.7h3.12v2.32h-3.12zM458.9 75.5h3.12v2.52h-3.12zM530.1 77.2h2.92v1.74h-2.92zM555.8 77.2h3.22v1.82h-3.22zM581.4 77.2h3.62v1.82h-3.62zM467.5 78.9h3.52v2.12h-3.52zM510.2 78.9h3.82v2.12h-3.82zM552.9 78.9h3.12v2.12h-3.12zM629.9 78.9h3.12v2.12h-3.12zM510.2 80.7h3.82v2.32h-3.82zM518.7 80.7h3.32v2.32h-3.32zM584.3 80.7h3.72v2.32h-3.72zM632.7 80.7h3.32v2.32h-3.32zM647.0 80.7h3.02v2.32h-3.02zM476.0 82.4h3.02v2.62h-3.02zM581.4 82.4h3.62v2.62h-3.62zM484.6 84.2h3.42v1.82h-3.42zM558.6 84.2h3.42v1.82h-3.42zM581.4 84.2h3.62v1.82h-3.62zM598.5 84.2h3.52v1.82h-3.52zM382.0 85.9h3.02v2.12h-3.02zM501.7 85.9h3.32v2.12h-3.32zM538.7 85.9h3.32v2.12h-3.32zM541.5 85.9h3.52v1.76h-3.52zM547.2 85.9h3.82v2.12h-3.82zM590.0 85.9h2.82v2.12h-2.82zM458.9 87.7h3.12v2.32h-3.12zM464.6 87.7h3.42v2.32h-3.42zM481.7 87.7h3.32v2.32h-3.32zM484.6 87.7h3.42v2.32h-3.42zM584.3 87.7h3.72v2.32h-3.72zM604.2 87.7h3.82v2.32h-3.82zM561.5 89.4h3.52v2.62h-3.52zM641.3 89.4h3.72v2.62h-3.72zM458.9 91.1h3.12v1.92h-3.12zM504.5 91.1h3.52v1.92h-3.52zM533.0 91.1h3.02v1.92h-3.02zM447.5 92.9h3.52v2.12h-3.52zM458.9 92.9h3.12v2.12h-3.12zM467.5 92.9h3.52v2.12h-3.52zM581.4 92.9h3.62v2.12h-3.62zM493.1 94.6h2.92v2.42h-2.92zM547.2 94.6h3.82v2.42h-3.82zM484.6 96.4h3.42v2.62h-3.42zM564.3 96.4h3.72v2.62h-3.72zM493.1 98.1h2.92v1.92h-2.92zM507.4 98.1h3.62v1.92h-3.62zM513.0 98.1h3.02v1.76h-3.02zM533.0 98.1h3.02v1.76h-3.02zM624.2 98.1h3.82v1.92h-3.82zM567.2 101.6h2.83v1.75h-2.83z"/>
<path fill="#355e8d" d="M632.7 40.6h3.32v2.42h-3.32zM621.3 54.5h3.72v2.52h-3.72zM649.8 54.5h3.22v2.52h-3.22zM652.7 58.0h2.80v2.02h-2.80zM538.7 59.8h3.32v2.22h-3.32zM547.2 59.8h3.82v2.22h-3.82zM527.3 61.5h3.72v2.52h-3.72zM521.6 63.3h3.42v1.72h-3.42zM476.0 65.0h3.02v2.02h-3.02zM481.7 66.7h3.32v2.32h-3.32zM513.0 66.7h3.02v2.32h-3.02zM530.1 68.5h2.92v2.52h-2.92zM558.6 68.5h3.42v2.52h-3.42zM524.4 72.0h3.62v2.02h-3.62zM632.7 72.0h3.32v2.02h-3.32zM424.7 77.2h3.32v1.82h-3.32zM490.3 78.9h3.72v2.12h-3.72zM427.6 84.2h3.42v1.82h-3.42zM453.2 84.2h3.82v1.82h-3.82zM384.8 85.9h3.22v2.12h-3.22zM396.2 85.9h3.82v2.12h-3.82zM421.9 85.9h3.12v2.12h-3.12zM399.1 89.4h2.92v2.62h-2.92zM384.8 91.1h3.22v1.92h-3.22zM399.1 92.9h2.92v2.12h-2.92zM410.5 94.6h3.52v2.42h-3.52zM384.8 98.1h3.22v1.76h-3.22zM410.5 98.1h3.52v1.92h-3.52z"/>
<path fill="#34b679" d="M609.9 63.3h3.12v1.72h-3.12zM652.7 63.3h2.80v1.72h-2.80zM464.6 65.0h3.42v2.02h-3.42zM504.5 66.7h3.52v2.32h-3.52zM604.2 68.5h3.82v2.52h-3.82zM552.9 77.2h3.12v1.82h-3.12zM638.4 77.2h2.86v1.82h-2.86zM644.1 77.2h2.92v1.82h-2.92zM382.0 92.9h3.02v2.12h-3.02zM641.3 92.9h3.72v1.73h-3.72zM470.3 96.4h3.72v2.62h-3.72z"/>
<path fill="#433d84" d="M441.8 65.0h3.22v2.02h-3.22zM453.2 65.0h3.82v2.02h-3.82zM424.7 66.7h3.32v2.32h-3.32zM427.6 68.5h3.42v2.52h-3.42zM444.7 70.2h3.32v1.82h-3.32zM433.3 73.7h3.72v2.32h-3.72zM439.0 73.7h3.02v2.32h-3.02zM416.2 75.5h3.82v2.52h-3.82zM424.7 75.5h3.32v2.52h-3.32zM453.2 75.5h3.82v2.52h-3.82zM456.1 75.5h2.92v2.52h-2.92zM393.4 77.2h3.62v1.82h-3.62zM447.5 77.2h3.52v1.82h-3.52zM456.1 77.2h2.92v1.82h-2.92zM401.9 78.9h3.12v2.12h-3.12zM436.1 78.9h2.92v2.12h-2.92zM441.8 78.9h3.22v2.12h-3.22zM447.5 78.9h3.52v2.12h-3.52zM456.1 80.7h2.92v2.32h-2.92zM436.1 82.4h2.92v2.62h-2.92zM453.2 82.4h3.82v2.62h-3.82zM424.7 85.9h3.32v2.12h-3.32zM390.5 87.7h3.52v2.32h-3.52zM444.7 87.7h3.32v2.32h-3.32zM453.2 87.7h3.82v2.32h-3.82zM387.7 91.1h3.32v1.92h-3.32zM424.7 92.9h3.32v2.12h-3.32zM436.1 92.9h2.92v2.12h-2.92zM447.5 96.4h3.52v2.62h-3.52zM393.4 98.1h3.62v1.92h-3.62zM433.3 98.1h3.72v1.92h-3.72zM450.4 99.9h3.62v1.70h-3.62z"/>
<path fill="#34618d" d="M587.1 54.5h2.92v2.52h-2.92zM572.9 56.3h3.12v2.72h-3.12zM496.0 63.3h3.02v1.72h-3.02zM513.0 63.3h3.02v1.72h-3.02zM541.5 63.3h3.52v1.72h-3.52zM407.6 66.7h3.42v2.32h-3.42zM410.5 68.5h3.52v2.52h-3.52zM504.5 68.5h3.52v2.52h-3.52zM555.8 68.5h3.22v2.52h-3.22zM490.3 72.0h3.72v2.02h-3.72zM652.7 72.0h2.80v2.02h-2.80zM473.2 73.7h3.82v2.32h-3.82zM570.0 77.2h3.02v1.82h-3.02zM384.8 78.9h3.22v2.12h-3.22zM439.0 80.7h3.02v2.32h-3.02zM493.1 80.7h2.92v2.32h-2.92zM421.9 87.7h3.12v2.32h-3.12zM590.0 87.7h3.02v2.32h-3.02zM615.6 87.7h3.42v2.32h-3.42zM413.3 96.4h3.72v2.62h-3.72zM453.2 96.4h3.82v2.62h-3.82zM399.1 98.1h2.92v1.76h-2.92zM609.9 101.6h3.12v2.42h-3.12z"/>
<path fill="#3e4989" d="M615.6 52.8h3.42v2.22h-3.42zM393.4 66.7h3.62v2.32h-3.62zM404.8 66.7h3.22v2.32h-3.22zM413.3 68.5h3.72v2.52h-3.72zM384.8 70.2h3.22v1.82h-3.22zM401.9 70.2h3.12v1.82h-3.12zM410.5 70.2h3.52v1.82h-3.52zM413.3 70.2h3.72v1.82h-3.72zM433.3 70.2h3.72v1.82h-3.72zM419.0 72.0h3.02v2.02h-3.02zM421.9 72.0h3.12v2.02h-3.12zM433.3 72.0h3.72v2.02h-3.72zM450.4 72.0h3.62v2.02h-3.62zM399.1 73.7h2.92v2.32h-2.92zM404.8 73.7h3.22v2.32h-3.22zM416.2 73.7h3.82v2.32h-3.82zM447.5 73.7h3.52v2.32h-3.52zM490.3 73.7h3.72v2.32h-3.72zM493.1 73.7h2.92v2.32h-2.92zM370.6 75.5h3.42v2.52h-3.42zM393.4 75.5h3.62v2.52h-3.62zM399.1 75.5h2.92v2.52h-2.92zM421.9 77.2h3.12v1.82h-3.12zM384.8 82.4h3.22v2.62h-3.22zM387.7 82.4h3.32v2.62h-3.32zM427.6 82.4h3.42v2.62h-3.42zM433.3 82.4h3.72v2.62h-3.72zM453.2 85.9h3.82v2.12h-3.82zM404.8 87.7h3.22v2.32h-3.22zM396.2 89.4h3.82v2.62h-3.82zM447.5 89.4h3.52v2.62h-3.52zM416.2 92.9h3.82v2.12h-3.82zM433.3 92.9h3.72v2.12h-3.72zM447.5 94.6h3.52v2.42h-3.52zM393.4 96.4h3.62v2.62h-3.62zM410.5 96.4h3.52v2.62h-3.52zM456.1 99.9h2.92v2.12h-2.92zM444.7 106.8h2.82v2.22h-2.82zM490.3 106.8h2.81v1.77h-2.81z"/>
<path fill="#472d7b" d="M609.9 49.3h3.12v2.72h-3.12zM387.7 65.0h3.32v2.02h-3.32zM413.3 66.7h3.72v2.32h-3.72zM436.1 66.7h2.92v2.32h-2.92zM396.2 70.2h3.82v1.82h-3.82zM416.2 70.2h3.82v1.82h-3.82zM450.4 70.2h2.82v1.82h-2.82zM456.1 70.2h2.92v1.82h-2.92zM453.2 72.0h3.82v2.02h-3.82zM427.6 73.7h3.42v2.32h-3.42zM436.1 73.7h2.92v2.32h-2.92zM444.7 75.5h3.32v2.52h-3.32zM450.4 77.2h3.62v1.82h-3.62zM441.8 84.2h3.22v1.82h-3.22zM413.3 89.4h3.72v2.62h-3.72zM436.1 94.6h2.92v2.42h-2.92zM453.2 99.9h3.82v1.70h-3.82zM421.9 101.6h3.12v1.75h-3.12zM390.5 106.8h2.89v1.77h-2.89z"/>
<path fill="#75d054" d="M584.3 58.0h3.72v2.02h-3.72zM578.6 98.1h3.42v1.92h-3.42zM632.7 98.1h2.86v1.76h-2.86z"/>
<path fill="#3b528b" d="M555.8 59.8h3.22v2.22h-3.22zM430.4 65.0h3.62v2.02h-3.62zM421.9 66.7h3.12v2.32h-3.12zM430.4 68.5h3.62v2.52h-3.62zM427.6 72.0h3.42v2.02h-3.42zM413.3 75.5h3.72v2.52h-3.72zM439.0 77.2h3.02v1.82h-3.02zM490.3 77.2h3.72v1.82h-3.72zM404.8 78.9h3.22v2.12h-3.22zM439.0 78.9h3.02v2.12h-3.02zM404.8 80.7h3.22v2.32h-3.22zM433.3 80.7h3.72v2.32h-3.72zM416.2 82.4h3.82v2.62h-3.82zM399.1 84.2h2.92v1.82h-2.92zM416.2 84.2h3.82v1.82h-3.82zM407.6 85.9h3.42v2.12h-3.42zM447.5 85.9h3.52v2.12h-3.52zM384.8 87.7h3.22v2.32h-3.22zM416.2 89.4h3.82v2.62h-3.82zM396.2 91.1h3.82v1.92h-3.82zM447.5 91.1h3.52v1.92h-3.52zM384.8 92.9h3.22v2.12h-3.22zM419.0 92.9h3.02v2.12h-3.02zM453.2 92.9h3.82v2.12h-3.82zM430.4 94.6h3.62v2.42h-3.62zM399.1 96.4h2.92v2.62h-2.92zM421.9 96.4h3.12v2.62h-3.12zM450.4 96.4h3.62v2.62h-3.62zM390.5 99.9h3.52v2.12h-3.52zM439.0 99.9h2.83v2.12h-2.83zM387.7 101.6h3.32v2.42h-3.32zM401.9 101.6h3.12v2.42h-3.12zM456.1 103.3h2.92v1.79h-2.92z"/>
<path fill="#482374" d="M413.3 65.0h3.72v2.02h-3.72zM390.5 66.7h3.52v2.32h-3.52zM410.5 66.7h3.52v2.32h-3.52zM416.2 66.7h3.82v2.32h-3.82zM427.6 66.7h3.42v2.32h-3.42zM441.8 66.7h3.22v2.32h-3.22zM424.7 68.5h3.32v2.52h-3.32zM436.1 70.2h2.92v1.82h-2.92zM387.7 72.0h3.32v2.02h-3.32zM456.1 72.0h2.92v2.02h-2.92zM404.8 77.2h3.22v1.82h-3.22zM413.3 77.2h3.72v1.82h-3.72zM387.7 78.9h3.32v1.79h-3.32zM450.4 80.7h3.62v2.32h-3.62zM441.8 110.3h2.87v1.76h-2.87z"/>
<path fill="#8ed645" d="M621.3 51.1h3.72v1.92h-3.72zM515.9 70.2h3.12v1.82h-3.12zM533.0 96.4h3.02v2.62h-3.02zM624.2 96.4h3.82v2.62h-3.82z"/>
<path fill="#48186a" d="M419.0 73.7h3.02v2.32h-3.02zM436.1 77.2h2.92v1.82h-2.92zM433.3 103.3h2.83v2.72h-2.83z"/>
<path fill="#453781" d="M401.9 65.0h2.89v2.02h-2.89zM416.2 65.0h3.82v2.02h-3.82zM447.5 65.0h3.52v2.02h-3.52zM450.4 66.7h3.62v2.32h-3.62zM387.7 68.5h3.32v2.52h-3.32zM393.4 70.2h3.62v1.82h-3.62zM410.5 72.0h3.52v2.02h-3.52zM444.7 72.0h3.32v2.02h-3.32zM387.7 73.7h3.32v2.32h-3.32zM390.5 75.5h3.52v2.52h-3.52zM436.1 75.5h2.92v2.52h-2.92zM450.4 75.5h3.62v2.52h-3.62zM401.9 77.2h3.12v1.82h-3.12zM410.5 77.2h3.52v1.82h-3.52zM433.3 77.2h3.72v1.82h-3.72zM424.7 78.9h3.32v2.12h-3.32zM393.4 80.7h3.62v2.32h-3.62zM390.5 82.4h3.52v2.62h-3.52zM424.7 82.4h3.32v2.62h-3.32zM456.1 82.4h2.92v2.62h-2.92zM387.7 85.9h3.32v2.12h-3.32zM393.4 85.9h3.62v2.12h-3.62zM410.5 85.9h3.52v2.12h-3.52zM401.9 89.4h3.12v2.62h-3.12zM419.0 91.1h3.02v1.92h-3.02zM456.1 91.1h2.92v1.92h-2.92zM387.7 92.9h3.32v2.12h-3.32zM404.8 92.9h3.22v2.12h-3.22zM430.4 92.9h3.62v2.12h-3.62zM450.4 98.1h3.62v1.92h-3.62zM424.7 101.6h2.88v1.75h-2.88z"/>
<path fill="#482979" d="M396.2 65.0h2.89v2.02h-2.89zM447.5 68.5h3.52v2.52h-3.52zM390.5 70.2h3.52v1.82h-3.52zM421.9 70.2h3.12v1.82h-3.12zM424.7 70.2h3.32v1.82h-3.32zM441.8 70.2h3.22v1.82h-3.22zM390.5 72.0h3.52v2.02h-3.52zM404.8 75.5h3.22v2.52h-3.22zM390.5 78.9h3.52v2.12h-3.52zM450.4 78.9h3.62v2.12h-3.62zM407.6 80.7h3.42v2.32h-3.42zM450.4 85.9h3.62v2.12h-3.62zM401.9 94.6h3.12v2.42h-3.12zM447.5 105.1h2.87v1.73h-2.87z"/>
<path fill="#25ab82" d="M629.9 54.5h3.12v2.52h-3.12zM618.5 68.5h3.52v2.52h-3.52zM567.2 70.2h3.82v1.82h-3.82zM652.7 70.2h2.80v1.82h-2.80zM558.6 73.7h3.42v2.32h-3.42zM476.0 75.5h3.02v2.52h-3.02zM376.3 78.9h3.72v2.12h-3.72zM382.0 78.9h3.02v2.12h-3.02zM638.4 78.9h3.62v2.12h-3.62zM464.6 80.7h3.42v2.32h-3.42zM612.8 80.7h3.22v2.32h-3.22zM513.0 85.9h3.02v2.12h-3.02zM652.7 85.9h2.80v2.12h-2.80zM652.7 87.7h2.80v2.32h-2.80zM461.8 91.1h3.22v1.92h-3.22zM496.0 91.1h3.02v1.92h-3.02zM498.8 92.9h3.22v2.12h-3.22zM518.7 96.4h3.32v2.62h-3.32zM641.3 96.4h3.72v2.62h-3.72zM535.8 98.1h2.89v1.76h-2.89zM478.9 99.9h3.12v1.70h-3.12zM558.6 99.9h2.88v1.70h-2.88zM581.4 99.9h3.62v1.70h-3.62z"/>
<path fill="#7ad151" d="M652.7 65.0h2.80v2.02h-2.80z"/>
<path fill="#2e6e8e" d="M652.7 30.1h2.80v1.92h-2.80zM647.0 31.9h2.80v2.12h-2.80zM638.4 44.1h2.86v1.92h-2.86zM629.9 45.8h3.12v2.22h-3.12zM607.1 52.8h2.92v2.22h-2.92zM578.6 54.5h3.42v2.52h-3.42zM592.8 56.3h3.22v2.72h-3.22zM544.4 58.0h3.62v2.02h-3.62zM624.2 59.8h3.82v2.22h-3.82zM530.1 61.5h2.92v2.52h-2.92zM541.5 61.5h3.52v2.52h-3.52zM544.4 61.5h3.62v2.52h-3.62zM609.9 61.5h3.12v2.52h-3.12zM615.6 61.5h3.42v2.52h-3.42zM473.2 63.3h3.82v1.72h-3.82zM518.7 63.3h3.32v1.72h-3.32zM629.9 63.3h3.12v1.72h-3.12zM515.9 65.0h3.12v2.02h-3.12zM578.6 65.0h3.42v2.02h-3.42zM590.0 66.7h3.02v2.32h-3.02zM604.2 66.7h3.82v2.32h-3.82zM481.7 70.2h3.32v1.82h-3.32zM490.3 70.2h3.72v1.82h-3.72zM513.0 72.0h3.02v2.02h-3.02zM544.4 72.0h3.62v2.02h-3.62zM550.1 72.0h2.92v2.02h-2.92zM498.8 73.7h3.22v2.32h-3.22zM598.5 73.7h3.52v2.32h-3.52zM470.3 75.5h3.72v2.52h-3.72zM481.7 77.2h3.32v1.82h-3.32zM587.1 77.2h2.92v1.82h-2.92zM527.3 78.9h2.84v2.12h-2.84zM587.1 84.2h2.92v1.82h-2.92zM615.6 84.2h3.42v1.82h-3.42zM635.6 84.2h3.42v1.82h-3.42zM473.2 89.4h3.82v2.62h-3.82zM561.5 92.9h3.52v1.73h-3.52zM521.6 94.6h3.42v2.42h-3.42zM373.4 96.4h3.62v1.72h-3.62zM478.9 98.1h3.12v1.92h-3.12zM598.5 98.1h2.87v1.92h-2.87zM527.3 99.9h3.72v2.12h-3.72zM555.8 99.9h3.22v1.70h-3.22z"/>
<path fill="#95d840" d="M521.6 65.0h3.42v2.02h-3.42zM373.4 80.7h3.62v2.32h-3.62zM533.0 82.4h3.02v2.62h-3.02z"/>
<path fill="#218f8d" d="M641.3 40.6h3.72v2.42h-3.72zM649.8 40.6h3.22v2.42h-3.22zM632.7 47.6h3.32v2.42h-3.32zM587.1 52.8h2.92v2.22h-2.92zM641.3 54.5h3.72v2.52h-3.72zM595.7 56.3h3.32v2.72h-3.32zM632.7 58.0h3.32v2.02h-3.32zM521.6 59.8h3.42v2.22h-3.42zM572.9 61.5h3.12v2.52h-3.12zM638.4 61.5h3.62v2.52h-3.62zM570.0 63.3h3.02v1.72h-3.02zM541.5 65.0h3.52v2.02h-3.52zM572.9 65.0h2.83v2.02h-2.83zM632.7 65.0h3.32v2.02h-3.32zM635.6 65.0h3.42v2.02h-3.42zM538.7 66.7h3.32v2.32h-3.32zM561.5 66.7h3.52v2.32h-3.52zM587.1 66.7h2.92v2.32h-2.92zM498.8 68.5h3.22v2.52h-3.22zM570.0 68.5h3.02v2.52h-3.02zM558.6 70.2h3.42v1.82h-3.42zM601.4 70.2h3.62v1.77h-3.62zM464.6 72.0h3.42v2.02h-3.42zM498.8 72.0h3.22v2.02h-3.22zM530.1 72.0h2.92v2.02h-2.92zM629.9 72.0h3.12v2.02h-3.12zM382.0 73.7h3.02v2.32h-3.02zM604.2 73.7h3.82v2.32h-3.82zM632.7 73.7h3.32v2.32h-3.32zM578.6 77.2h3.42v1.82h-3.42zM595.7 77.2h3.32v1.74h-3.32zM507.4 78.9h3.62v2.12h-3.62zM476.0 80.7h3.02v2.32h-3.02zM592.8 80.7h3.22v2.32h-3.22zM627.0 80.7h3.02v2.32h-3.02zM458.9 82.4h3.12v2.62h-3.12zM552.9 82.4h3.12v2.62h-3.12zM584.3 82.4h3.72v2.62h-3.72zM587.1 82.4h2.92v2.62h-2.92zM470.3 84.2h3.72v1.82h-3.72zM570.0 84.2h3.02v1.72h-3.02zM624.2 84.2h2.81v1.82h-2.81zM638.4 84.2h3.62v1.82h-3.62zM498.8 85.9h3.22v2.12h-3.22zM518.7 87.7h3.32v2.32h-3.32zM487.4 89.4h3.62v2.62h-3.62zM478.9 91.1h3.12v1.92h-3.12zM513.0 91.1h3.02v1.92h-3.02zM612.8 91.1h3.22v1.92h-3.22zM612.8 92.9h3.22v2.12h-3.22zM618.5 92.9h3.52v2.12h-3.52zM507.4 94.6h3.62v2.42h-3.62zM490.3 96.4h3.72v2.62h-3.72zM578.6 96.4h3.42v2.62h-3.42zM621.3 96.4h3.72v2.62h-3.72zM436.1 98.1h2.92v1.92h-2.92zM493.1 99.9h2.86v2.12h-2.86zM504.5 99.9h3.52v1.70h-3.52zM612.8 99.9h2.81v2.12h-2.81zM493.1 101.6h2.86v1.75h-2.86zM624.2 101.6h2.81v1.75h-2.81z"/>
<path fill="#27808e" d="M652.7 37.1h2.80v1.92h-2.80zM644.1 38.9h2.92v2.12h-2.92zM649.8 38.9h3.22v2.12h-3.22zM652.7 38.9h2.80v2.12h-2.80zM618.5 45.8h3.52v2.22h-3.52zM649.8 45.8h3.22v2.22h-3.22zM624.2 49.3h3.82v2.72h-3.82zM595.7 51.1h3.32v1.92h-3.32zM649.8 51.1h3.22v1.92h-3.22zM581.4 54.5h3.62v2.52h-3.62zM590.0 54.5h3.02v2.52h-3.02zM632.7 56.3h3.32v2.72h-3.32zM638.4 56.3h3.62v2.72h-3.62zM592.8 58.0h3.22v2.02h-3.22zM578.6 59.8h3.42v2.22h-3.42zM590.0 59.8h3.02v2.22h-3.02zM535.8 61.5h3.22v2.52h-3.22zM550.1 61.5h2.92v2.52h-2.92zM470.3 63.3h3.72v1.72h-3.72zM535.8 63.3h3.22v1.72h-3.22zM598.5 63.3h2.87v1.72h-2.87zM624.2 63.3h3.82v1.72h-3.82zM484.6 65.0h3.42v2.02h-3.42zM501.7 65.0h3.32v2.02h-3.32zM535.8 65.0h3.22v2.02h-3.22zM552.9 65.0h3.12v2.02h-3.12zM598.5 65.0h3.52v2.02h-3.52zM647.0 66.7h3.02v1.79h-3.02zM379.1 68.5h2.92v2.52h-2.92zM470.3 68.5h3.72v2.52h-3.72zM541.5 68.5h3.52v2.52h-3.52zM473.2 70.2h3.82v1.82h-3.82zM501.7 70.2h3.32v1.82h-3.32zM513.0 70.2h3.02v1.82h-3.02zM578.6 70.2h3.42v1.82h-3.42zM510.2 72.0h3.82v2.02h-3.82zM515.9 72.0h3.12v2.02h-3.12zM590.0 72.0h3.02v2.02h-3.02zM461.8 73.7h3.22v2.32h-3.22zM467.5 73.7h3.52v2.32h-3.52zM481.7 73.7h3.32v2.32h-3.32zM510.2 73.7h3.82v2.32h-3.82zM373.4 75.5h3.62v2.52h-3.62zM555.8 75.5h3.22v2.52h-3.22zM624.2 75.5h3.82v2.52h-3.82zM641.3 75.5h3.72v1.70h-3.72zM484.6 77.2h3.42v1.82h-3.42zM521.6 77.2h3.42v1.82h-3.42zM527.3 77.2h3.72v1.82h-3.72zM615.6 77.2h3.42v1.82h-3.42zM379.1 78.9h2.92v2.12h-2.92zM473.2 78.9h3.82v2.12h-3.82zM518.7 78.9h3.32v2.12h-3.32zM544.4 78.9h3.62v2.12h-3.62zM584.3 78.9h3.72v2.12h-3.72zM615.6 78.9h2.86v2.12h-2.86zM470.3 80.7h3.72v2.32h-3.72zM478.9 80.7h3.12v2.32h-3.12zM558.6 80.7h3.42v2.32h-3.42zM609.9 80.7h3.12v2.32h-3.12zM644.1 80.7h2.92v2.32h-2.92zM370.6 82.4h3.42v2.62h-3.42zM524.4 82.4h3.62v2.62h-3.62zM547.2 82.4h3.82v2.62h-3.82zM595.7 82.4h3.32v2.62h-3.32zM478.9 84.2h3.12v1.82h-3.12zM373.4 85.9h3.62v2.12h-3.62zM587.1 85.9h2.92v2.12h-2.92zM513.0 87.7h3.02v2.32h-3.02zM555.8 91.1h3.22v1.92h-3.22zM567.2 91.1h3.82v1.79h-3.82zM481.7 92.9h3.32v2.12h-3.32zM507.4 92.9h3.62v2.12h-3.62zM615.6 92.9h3.42v1.73h-3.42zM644.1 92.9h2.92v2.12h-2.92zM530.1 94.6h2.92v2.42h-2.92zM473.2 96.4h3.82v2.62h-3.82zM530.1 98.1h2.92v1.92h-2.92zM590.0 98.1h3.02v1.92h-3.02zM638.4 106.8h2.86v1.77h-2.86z"/>
<path fill="#31b57b" d="M649.8 49.3h3.22v2.72h-3.22zM535.8 75.5h3.22v2.52h-3.22zM558.6 77.2h3.42v1.82h-3.42zM601.4 82.4h3.62v2.62h-3.62zM458.9 85.9h3.12v2.12h-3.12zM618.5 85.9h3.52v2.12h-3.52zM490.3 89.4h3.72v2.62h-3.72zM570.0 89.4h3.02v2.62h-3.02zM572.9 89.4h3.12v2.62h-3.12zM458.9 94.6h3.12v2.42h-3.12zM552.9 96.4h3.12v1.72h-3.12zM564.3 98.1h2.88v1.76h-2.88zM618.5 99.9h3.52v2.12h-3.52zM612.8 101.6h2.81v1.75h-2.81z"/>
<path fill="#238a8d" d="M649.8 37.1h3.22v1.92h-3.22zM647.0 44.1h3.02v1.92h-3.02zM647.0 45.8h3.02v2.22h-3.02zM621.3 49.3h3.72v2.72h-3.72zM644.1 49.3h2.92v2.72h-2.92zM598.5 58.0h3.52v2.02h-3.52zM544.4 59.8h3.62v2.22h-3.62zM609.9 59.8h3.12v2.22h-3.12zM629.9 59.8h3.12v2.22h-3.12zM487.4 61.5h3.62v2.52h-3.62zM592.8 61.5h3.22v2.52h-3.22zM627.0 61.5h3.02v2.52h-3.02zM501.7 63.3h3.32v1.72h-3.32zM604.2 63.3h3.82v1.72h-3.82zM635.6 63.3h3.42v1.72h-3.42zM478.9 65.0h3.12v2.02h-3.12zM487.4 65.0h3.62v2.02h-3.62zM513.0 65.0h3.02v2.02h-3.02zM518.7 65.0h3.32v2.02h-3.32zM547.2 65.0h3.82v2.02h-3.82zM567.2 65.0h3.82v2.02h-3.82zM478.9 66.7h3.12v2.32h-3.12zM490.3 66.7h3.72v2.32h-3.72zM570.0 66.7h3.02v2.32h-3.02zM527.3 68.5h3.72v2.52h-3.72zM552.9 68.5h3.12v2.52h-3.12zM467.5 70.2h3.52v1.82h-3.52zM533.0 70.2h3.02v1.82h-3.02zM598.5 70.2h3.52v1.82h-3.52zM604.2 70.2h3.82v1.82h-3.82zM629.9 70.2h3.12v1.82h-3.12zM609.9 72.0h3.12v2.02h-3.12zM530.1 73.7h2.92v2.32h-2.92zM647.0 73.7h3.02v2.32h-3.02zM501.7 75.5h3.32v2.52h-3.32zM538.7 75.5h3.32v2.52h-3.32zM612.8 75.5h3.22v2.52h-3.22zM644.1 75.5h2.92v2.52h-2.92zM382.0 77.2h3.02v1.82h-3.02zM461.8 77.2h3.22v1.82h-3.22zM544.4 77.2h3.62v1.82h-3.62zM496.0 78.9h3.02v2.12h-3.02zM501.7 78.9h3.32v2.12h-3.32zM567.2 78.9h3.82v2.12h-3.82zM572.9 78.9h3.12v2.12h-3.12zM498.8 80.7h3.22v2.32h-3.22zM515.9 80.7h3.12v2.32h-3.12zM521.6 80.7h3.42v2.32h-3.42zM570.0 80.7h3.02v2.32h-3.02zM641.3 80.7h3.72v2.32h-3.72zM370.6 85.9h3.42v2.12h-3.42zM484.6 85.9h3.42v2.12h-3.42zM581.4 85.9h2.88v2.12h-2.88zM598.5 85.9h3.52v2.12h-3.52zM612.8 87.7h3.22v2.32h-3.22zM638.4 87.7h3.62v1.70h-3.62zM530.1 89.4h2.92v2.62h-2.92zM609.9 89.4h3.12v2.62h-3.12zM618.5 89.4h3.52v2.62h-3.52zM647.0 89.4h3.02v2.62h-3.02zM484.6 91.1h3.42v1.92h-3.42zM592.8 91.1h2.87v1.92h-2.87zM621.3 91.1h3.72v1.92h-3.72zM652.7 91.1h2.80v1.92h-2.80zM470.3 92.9h3.72v2.12h-3.72zM535.8 92.9h3.22v2.12h-3.22zM587.1 94.6h2.92v2.42h-2.92zM632.7 94.6h3.32v2.42h-3.32zM370.6 96.4h3.42v2.62h-3.42zM478.9 96.4h3.12v2.62h-3.12zM493.1 96.4h2.92v2.62h-2.92zM504.5 96.4h3.52v2.62h-3.52zM558.6 96.4h3.42v2.62h-3.42zM561.5 96.4h3.52v2.62h-3.52zM558.6 98.1h3.42v1.92h-3.42zM544.4 99.9h3.62v1.70h-3.62zM498.8 101.6h2.85v1.75h-2.85zM527.3 101.6h3.72v2.42h-3.72zM607.1 103.3h2.92v1.79h-2.92z"/>
<path fill="#50c46a" d="M644.1 73.7h2.92v2.32h-2.92zM609.9 85.9h3.12v2.12h-3.12zM498.8 87.7h3.22v2.32h-3.22zM533.0 87.7h3.02v2.32h-3.02zM561.5 87.7h3.52v2.32h-3.52zM567.2 89.4h3.82v2.62h-3.82zM624.2 91.1h3.82v1.92h-3.82zM649.8 92.9h3.22v2.12h-3.22zM524.4 94.6h3.62v2.42h-3.62zM638.4 99.9h3.62v1.70h-3.62z"/>
<path fill="#450457" d="M453.2 80.7h3.82v2.32h-3.82z"/>
<path fill="#481b6d" d="M396.2 66.7h3.82v2.32h-3.82zM413.3 72.0h3.72v2.02h-3.72zM424.7 73.7h3.32v2.32h-3.32zM441.8 75.5h3.22v2.52h-3.22z"/>
<path fill="#24878e" d="M641.3 38.9h3.72v2.12h-3.72zM647.0 38.9h3.02v2.12h-3.02zM638.4 40.6h3.62v2.42h-3.62zM632.7 42.3h3.32v2.72h-3.32zM615.6 49.3h3.42v2.72h-3.42zM612.8 51.1h3.22v1.92h-3.22zM635.6 56.3h3.42v2.72h-3.42zM652.7 56.3h2.80v2.72h-2.80zM641.3 58.0h3.72v2.02h-3.72zM587.1 59.8h2.92v2.22h-2.92zM547.2 61.5h3.82v2.52h-3.82zM552.9 61.5h3.12v2.52h-3.12zM647.0 61.5h2.80v2.52h-2.80zM464.6 63.3h3.42v1.72h-3.42zM476.0 63.3h3.02v1.72h-3.02zM487.4 63.3h3.62v1.72h-3.62zM564.3 63.3h3.72v1.72h-3.72zM567.2 63.3h3.82v1.72h-3.82zM578.6 63.3h3.42v1.72h-3.42zM592.8 63.3h2.87v1.70h-2.87zM647.0 63.3h3.02v1.70h-3.02zM607.1 65.0h2.92v2.02h-2.92zM470.3 66.7h3.72v2.32h-3.72zM550.1 66.7h2.92v2.32h-2.92zM609.9 66.7h3.12v2.32h-3.12zM644.1 66.7h2.92v1.79h-2.92zM481.7 68.5h3.32v2.52h-3.32zM487.4 70.2h3.62v1.82h-3.62zM496.0 70.2h3.02v1.82h-3.02zM607.1 70.2h2.92v1.82h-2.92zM379.1 72.0h2.92v2.02h-2.92zM501.7 72.0h3.32v2.02h-3.32zM507.4 72.0h3.62v2.02h-3.62zM527.3 72.0h3.72v2.02h-3.72zM555.8 72.0h3.22v2.02h-3.22zM595.7 72.0h3.32v2.02h-3.32zM484.6 73.7h3.42v2.32h-3.42zM487.4 73.7h3.62v2.32h-3.62zM515.9 73.7h3.12v2.32h-3.12zM570.0 73.7h3.02v2.32h-3.02zM601.4 73.7h3.62v2.32h-3.62zM487.4 75.5h3.62v2.52h-3.62zM530.1 75.5h2.92v2.52h-2.92zM547.2 75.5h3.82v2.52h-3.82zM567.2 75.5h3.82v2.52h-3.82zM595.7 75.5h3.32v2.52h-3.32zM598.5 75.5h3.52v2.52h-3.52zM609.9 75.5h3.12v2.52h-3.12zM373.4 77.2h3.62v1.82h-3.62zM470.3 77.2h3.72v1.82h-3.72zM496.0 77.2h3.02v1.82h-3.02zM510.2 77.2h3.82v1.82h-3.82zM518.7 77.2h3.32v1.82h-3.32zM572.9 77.2h3.12v1.82h-3.12zM478.9 78.9h3.12v2.12h-3.12zM541.5 78.9h3.52v2.12h-3.52zM555.8 78.9h3.22v2.12h-3.22zM504.5 80.7h3.52v2.32h-3.52zM507.4 80.7h3.62v2.32h-3.62zM533.0 80.7h3.02v2.32h-3.02zM470.3 82.4h3.72v2.62h-3.72zM541.5 82.4h3.52v2.62h-3.52zM629.9 82.4h3.12v2.62h-3.12zM370.6 84.2h3.42v1.82h-3.42zM541.5 84.2h3.52v1.82h-3.52zM590.0 84.2h3.02v1.82h-3.02zM632.7 84.2h3.32v1.72h-3.32zM649.8 84.2h3.22v1.82h-3.22zM652.7 84.2h2.80v1.82h-2.80zM647.0 85.9h3.02v2.12h-3.02zM496.0 87.7h3.02v2.32h-3.02zM481.7 89.4h3.32v2.62h-3.32zM521.6 89.4h3.42v2.62h-3.42zM379.1 91.1h2.92v1.92h-2.92zM547.2 91.1h3.82v1.92h-3.82zM609.9 91.1h3.12v1.92h-3.12zM478.9 92.9h3.12v2.12h-3.12zM530.1 92.9h2.92v2.12h-2.92zM558.6 92.9h3.42v2.12h-3.42zM584.3 92.9h3.72v2.12h-3.72zM624.2 92.9h3.82v2.12h-3.82zM439.0 94.6h3.02v2.42h-3.02zM496.0 96.4h3.02v2.62h-3.02zM530.1 96.4h2.92v2.62h-2.92zM535.8 96.4h3.22v2.62h-3.22zM635.6 96.4h3.42v1.72h-3.42zM370.6 98.1h2.85v1.76h-2.85zM490.3 98.1h3.72v1.92h-3.72zM521.6 98.1h3.42v1.76h-3.42zM561.5 98.1h3.52v1.76h-3.52z"/>
<path fill="#38b977" d="M590.0 78.9h2.82v2.12h-2.82zM601.4 78.9h3.62v2.12h-3.62zM652.7 82.4h2.80v2.62h-2.80zM609.9 84.2h3.12v1.82h-3.12zM641.3 84.2h3.72v1.82h-3.72zM507.4 89.4h3.62v2.62h-3.62zM629.9 89.4h3.12v2.62h-3.12zM629.9 91.1h3.12v1.92h-3.12zM464.6 92.9h3.42v2.12h-3.42zM473.2 94.6h3.82v2.42h-3.82zM498.8 94.6h3.22v2.42h-3.22zM570.0 96.4h3.02v2.62h-3.02zM590.0 99.9h3.02v2.12h-3.02z"/>
<path fill="#2f6b8e" d="M644.1 33.6h2.92v2.42h-2.92zM624.2 45.8h3.82v2.22h-3.82zM647.0 49.3h3.02v2.72h-3.02zM632.7 51.1h3.32v1.70h-3.32zM621.3 52.8h3.72v2.22h-3.72zM570.0 56.3h3.02v2.72h-3.02zM624.2 56.3h3.82v2.72h-3.82zM541.5 58.0h3.52v2.02h-3.52zM612.8 58.0h3.22v2.02h-3.22zM595.7 59.8h3.32v2.22h-3.32zM467.5 63.3h3.52v1.72h-3.52zM504.5 63.3h3.52v1.72h-3.52zM544.4 63.3h3.62v1.72h-3.62zM461.8 65.0h3.22v2.02h-3.22zM504.5 65.0h3.52v2.02h-3.52zM524.4 70.2h3.62v1.82h-3.62zM570.0 70.2h3.02v1.82h-3.02zM547.2 72.0h3.82v2.02h-3.82zM578.6 72.0h3.42v2.02h-3.42zM550.1 73.7h2.92v2.32h-2.92zM555.8 73.7h3.22v2.32h-3.22zM609.9 73.7h3.12v2.32h-3.12zM624.2 73.7h3.82v2.32h-3.82zM635.6 73.7h3.42v2.32h-3.42zM379.1 75.5h2.92v2.52h-2.92zM558.6 75.5h3.42v2.52h-3.42zM547.2 77.2h3.82v1.82h-3.82zM521.6 78.9h3.42v2.12h-3.42zM373.4 82.4h3.62v2.62h-3.62zM467.5 82.4h3.52v2.62h-3.52zM493.1 87.7h2.92v2.32h-2.92zM370.6 89.4h3.42v2.62h-3.42zM461.8 98.1h3.22v1.76h-3.22z"/>
<path fill="#39558c" d="M641.3 56.3h3.72v2.72h-3.72zM604.2 58.0h3.82v2.02h-3.82zM496.0 61.5h3.02v2.52h-3.02zM481.7 63.3h3.32v1.72h-3.32zM530.1 66.7h2.92v2.32h-2.92zM555.8 66.7h3.22v2.32h-3.22zM521.6 70.2h3.42v1.82h-3.42zM624.2 70.2h3.82v1.82h-3.82zM407.6 75.5h3.42v2.52h-3.42zM399.1 80.7h2.92v2.32h-2.92zM447.5 80.7h3.52v2.32h-3.52zM632.7 82.4h3.32v2.62h-3.32zM384.8 84.2h3.22v1.82h-3.22zM433.3 84.2h3.72v1.82h-3.72zM456.1 84.2h2.92v1.82h-2.92zM399.1 87.7h2.92v2.32h-2.92zM401.9 87.7h3.12v2.32h-3.12zM436.1 87.7h2.92v2.32h-2.92zM401.9 92.9h3.12v2.12h-3.12zM456.1 92.9h2.92v2.12h-2.92zM419.0 94.6h3.02v2.42h-3.02zM396.2 98.1h3.82v1.92h-3.82zM430.4 98.1h3.62v1.92h-3.62zM404.8 99.9h3.22v2.12h-3.22z"/>
<path fill="#20a386" d="M647.0 56.3h3.02v2.72h-3.02zM627.0 58.0h3.02v2.02h-3.02zM607.1 63.3h2.92v1.72h-2.92zM627.0 63.3h3.02v1.72h-3.02zM632.7 63.3h3.32v1.72h-3.32zM561.5 65.0h3.52v2.02h-3.52zM638.4 65.0h3.62v2.02h-3.62zM641.3 65.0h2.80v2.02h-2.80zM473.2 68.5h3.82v2.52h-3.82zM496.0 72.0h3.02v2.02h-3.02zM561.5 72.0h3.52v2.02h-3.52zM652.7 73.7h2.80v1.76h-2.80zM382.0 75.5h3.02v2.52h-3.02zM601.4 75.5h3.62v2.52h-3.62zM649.8 75.5h2.85v2.52h-2.85zM464.6 77.2h3.42v1.82h-3.42zM538.7 77.2h3.32v1.82h-3.32zM567.2 77.2h3.82v1.82h-3.82zM476.0 78.9h3.02v2.12h-3.02zM484.6 78.9h3.42v2.12h-3.42zM504.5 78.9h3.52v2.12h-3.52zM564.3 78.9h3.72v2.12h-3.72zM627.0 78.9h3.02v2.12h-3.02zM461.8 84.2h3.22v1.82h-3.22zM467.5 84.2h3.52v1.82h-3.52zM535.8 85.9h3.22v2.12h-3.22zM567.2 85.9h2.83v2.12h-2.83zM595.7 87.7h3.32v2.32h-3.32zM464.6 89.4h3.42v2.62h-3.42zM550.1 89.4h2.92v2.62h-2.92zM644.1 89.4h2.92v2.62h-2.92zM473.2 91.1h3.82v1.92h-3.82zM476.0 91.1h3.02v1.92h-3.02zM638.4 91.1h3.62v1.92h-3.62zM533.0 92.9h3.02v2.12h-3.02zM538.7 92.9h3.32v2.12h-3.32zM592.8 92.9h2.87v2.12h-2.87zM635.6 92.9h3.42v2.12h-3.42zM427.6 94.6h3.42v2.42h-3.42zM535.8 94.6h3.22v2.42h-3.22zM598.5 96.4h3.52v2.62h-3.52zM604.2 96.4h2.87v1.72h-2.87zM649.8 98.1h2.85v1.92h-2.85zM458.9 99.9h2.87v2.12h-2.87zM481.7 99.9h2.86v2.12h-2.86zM647.0 99.9h3.02v1.70h-3.02z"/>
<path fill="#29af7f" d="M652.7 44.1h2.80v1.92h-2.80zM604.2 59.8h3.82v2.22h-3.82zM481.7 65.0h3.32v2.02h-3.32zM592.8 77.2h3.22v1.74h-3.22zM635.6 77.2h3.42v1.82h-3.42zM530.1 80.7h2.92v2.32h-2.92zM538.7 80.7h3.32v2.32h-3.32zM550.1 84.2h2.92v1.82h-2.92zM644.1 84.2h2.92v1.82h-2.92zM649.8 85.9h3.22v2.12h-3.22zM382.0 91.1h3.02v1.92h-3.02zM538.7 91.1h3.32v1.92h-3.32zM490.3 92.9h3.72v2.12h-3.72zM632.7 92.9h3.32v2.12h-3.32zM467.5 94.6h3.52v2.42h-3.52zM575.7 96.4h3.32v2.62h-3.32zM581.4 98.1h3.62v1.92h-3.62z"/>
<path fill="#67cc5c" d="M635.6 70.2h3.42v1.82h-3.42zM575.7 94.6h3.32v2.42h-3.32z"/>
<path fill="#1fa188" d="M629.9 42.3h3.12v2.72h-3.12zM635.6 51.1h2.81v1.92h-2.81zM627.0 56.3h3.02v2.72h-3.02zM513.0 59.8h3.02v2.22h-3.02zM629.9 61.5h3.12v2.52h-3.12zM382.0 65.0h3.02v2.02h-3.02zM575.7 66.7h3.32v2.32h-3.32zM464.6 68.5h3.42v2.52h-3.42zM507.4 68.5h3.62v2.52h-3.62zM478.9 70.2h3.12v1.82h-3.12zM458.9 73.7h3.12v2.32h-3.12zM621.3 73.7h3.72v2.32h-3.72zM592.8 75.5h3.22v2.52h-3.22zM638.4 75.5h3.62v2.52h-3.62zM575.7 77.2h3.32v1.82h-3.32zM612.8 77.2h3.22v1.82h-3.22zM561.5 78.9h3.52v2.12h-3.52zM575.7 78.9h3.32v2.12h-3.32zM652.7 78.9h2.80v1.79h-2.80zM572.9 80.7h3.12v2.32h-3.12zM590.0 80.7h3.02v2.32h-3.02zM601.4 80.7h3.62v2.32h-3.62zM478.9 82.4h3.12v2.62h-3.12zM590.0 82.4h3.02v2.62h-3.02zM604.2 82.4h3.82v2.62h-3.82zM501.7 84.2h3.32v1.82h-3.32zM572.9 84.2h3.12v1.82h-3.12zM478.9 85.9h3.12v2.12h-3.12zM515.9 87.7h3.12v2.32h-3.12zM649.8 87.7h3.22v2.32h-3.22zM598.5 89.4h3.52v2.62h-3.52zM376.3 91.1h3.72v1.92h-3.72zM587.1 91.1h2.92v1.92h-2.92zM629.9 92.9h3.12v2.12h-3.12zM621.3 94.6h3.72v2.42h-3.72zM461.8 96.4h3.22v2.62h-3.22zM464.6 96.4h3.42v2.62h-3.42zM467.5 96.4h3.52v1.72h-3.52zM595.7 96.4h3.32v2.62h-3.32zM627.0 96.4h3.02v2.62h-3.02zM644.1 96.4h2.92v2.62h-2.92zM627.0 98.1h3.02v1.92h-3.02zM530.1 99.9h2.89v2.12h-2.89z"/>
<path fill="#414487" d="M450.4 65.0h3.62v2.02h-3.62zM433.3 68.5h3.72v2.52h-3.72zM453.2 68.5h3.82v1.73h-3.82zM407.6 70.2h3.42v1.82h-3.42zM419.0 70.2h3.02v1.82h-3.02zM407.6 72.0h3.42v2.02h-3.42zM439.0 72.0h3.02v2.02h-3.02zM396.2 73.7h3.82v2.32h-3.82zM410.5 73.7h3.52v2.32h-3.52zM413.3 73.7h3.72v2.32h-3.72zM430.4 73.7h3.62v2.32h-3.62zM450.4 73.7h3.62v2.32h-3.62zM387.7 75.5h3.32v2.52h-3.32zM447.5 75.5h3.52v2.52h-3.52zM427.6 80.7h3.42v2.32h-3.42zM419.0 82.4h3.02v2.62h-3.02zM393.4 84.2h3.62v1.82h-3.62zM396.2 84.2h3.82v1.82h-3.82zM419.0 84.2h3.02v1.82h-3.02zM436.1 85.9h2.92v2.12h-2.92zM424.7 87.7h3.32v2.32h-3.32zM439.0 87.7h3.02v2.32h-3.02zM393.4 89.4h3.62v2.62h-3.62zM404.8 89.4h3.22v2.62h-3.22zM444.7 89.4h3.32v2.62h-3.32zM450.4 89.4h3.62v2.62h-3.62zM416.2 91.1h3.82v1.92h-3.82zM441.8 91.1h3.22v1.92h-3.22zM450.4 91.1h3.62v1.92h-3.62zM407.6 92.9h3.42v2.12h-3.42zM413.3 92.9h3.72v2.12h-3.72zM444.7 94.6h3.32v2.42h-3.32zM450.4 94.6h3.62v2.42h-3.62zM436.1 96.4h2.92v2.62h-2.92zM387.7 98.1h3.32v1.92h-3.32zM404.8 98.1h3.22v1.92h-3.22zM407.6 98.1h3.42v1.92h-3.42zM410.5 99.9h2.84v1.70h-2.84zM424.7 99.9h3.32v2.12h-3.32zM390.5 101.6h3.52v1.75h-3.52zM396.2 101.6h2.89v1.75h-2.89zM456.1 101.6h2.92v2.42h-2.92z"/>
<path fill="#26ad81" d="M627.0 54.5h3.02v2.52h-3.02zM638.4 66.7h3.62v2.32h-3.62zM458.9 68.5h3.12v2.52h-3.12zM476.0 70.2h3.02v1.82h-3.02zM513.0 73.7h3.02v2.32h-3.02zM538.7 73.7h3.32v2.32h-3.32zM552.9 75.5h3.12v2.52h-3.12zM618.5 77.2h3.52v1.74h-3.52zM615.6 80.7h3.42v2.32h-3.42zM552.9 84.2h3.12v1.82h-3.12zM567.2 84.2h3.82v1.82h-3.82zM607.1 84.2h2.92v1.82h-2.92zM376.3 87.7h3.72v2.32h-3.72zM538.7 87.7h2.84v2.32h-2.84zM575.7 87.7h3.32v2.32h-3.32zM598.5 87.7h3.52v2.32h-3.52zM627.0 87.7h3.02v2.32h-3.02zM641.3 91.1h3.72v1.92h-3.72zM547.2 92.9h3.82v2.12h-3.82zM607.1 92.9h2.92v1.73h-2.92zM373.4 94.6h3.62v2.42h-3.62zM478.9 94.6h3.12v2.42h-3.12zM464.6 98.1h2.87v1.76h-2.87zM496.0 98.1h2.81v1.76h-2.81zM510.2 99.9h2.85v1.70h-2.85z"/>
<path fill="#375b8d" d="M647.0 33.6h3.02v2.42h-3.02zM635.6 42.3h3.42v2.72h-3.42zM649.8 47.6h2.85v2.42h-2.85zM624.2 51.1h3.82v1.92h-3.82zM641.3 52.8h2.80v2.22h-2.80zM629.9 56.3h3.12v2.72h-3.12zM590.0 61.5h3.02v2.52h-3.02zM624.2 61.5h3.82v2.52h-3.82zM456.1 65.0h2.92v2.02h-2.92zM384.8 66.7h3.22v2.32h-3.22zM433.3 66.7h3.72v2.32h-3.72zM501.7 66.7h3.32v2.32h-3.32zM410.5 75.5h3.52v2.52h-3.52zM439.0 75.5h3.02v2.52h-3.02zM527.3 75.5h3.72v2.52h-3.72zM581.4 78.9h3.62v2.12h-3.62zM384.8 80.7h2.89v2.32h-2.89zM413.3 80.7h3.72v2.32h-3.72zM424.7 80.7h3.32v2.32h-3.32zM473.2 80.7h3.82v2.32h-3.82zM393.4 82.4h3.62v2.62h-3.62zM407.6 82.4h3.42v2.62h-3.42zM456.1 89.4h2.92v2.62h-2.92zM439.0 91.1h3.02v1.92h-3.02zM393.4 92.9h3.62v2.12h-3.62zM396.2 92.9h3.82v2.12h-3.82zM393.4 94.6h3.62v2.42h-3.62zM399.1 94.6h2.92v2.42h-2.92zM456.1 94.6h2.92v2.42h-2.92zM390.5 98.1h3.52v1.92h-3.52zM421.9 98.1h3.12v1.92h-3.12zM629.9 98.1h3.12v1.76h-3.12zM481.7 101.6h2.86v2.42h-2.86zM433.3 105.1h2.83v1.73h-2.83z"/>
<path fill="#4cc26c" d="M558.6 59.8h3.42v1.71h-3.42zM382.0 82.4h3.02v2.62h-3.02zM504.5 85.9h3.52v2.12h-3.52zM510.2 94.6h3.82v2.42h-3.82zM544.4 98.1h2.84v1.92h-2.84z"/>
<path fill="#56c667" d="M647.0 70.2h3.02v1.82h-3.02zM624.2 85.9h3.82v2.12h-3.82zM552.9 89.4h3.12v2.62h-3.12zM464.6 94.6h3.42v2.42h-3.42zM476.0 98.1h3.02v1.76h-3.02z"/>
<path fill="#a2da37" d="M621.3 85.9h3.72v2.12h-3.72zM550.1 92.9h2.92v2.12h-2.92z"/>
<path fill="#63cb5f" d="M647.0 40.6h3.02v2.42h-3.02zM535.8 70.2h3.22v1.82h-3.22zM618.5 87.7h3.52v2.32h-3.52zM601.4 96.4h3.62v1.72h-3.62z"/>
<path fill="#30698e" d="M647.0 30.1h3.02v1.92h-3.02zM635.6 38.9h3.42v2.12h-3.42zM629.9 40.6h3.12v2.42h-3.12zM621.3 47.6h3.72v2.42h-3.72zM638.4 47.6h3.62v2.42h-3.62zM618.5 52.8h3.52v2.22h-3.52zM647.0 52.8h3.02v2.22h-3.02zM609.9 54.5h3.12v1.78h-3.12zM621.3 56.3h3.72v2.72h-3.72zM578.6 58.0h3.42v2.02h-3.42zM518.7 59.8h3.32v2.22h-3.32zM567.2 59.8h3.82v2.22h-3.82zM481.7 61.5h3.32v2.52h-3.32zM490.3 63.3h3.72v1.72h-3.72zM538.7 63.3h3.32v1.72h-3.32zM527.3 65.0h3.72v2.02h-3.72zM595.7 65.0h3.32v1.74h-3.32zM510.2 66.7h3.82v2.32h-3.82zM632.7 66.7h3.32v2.32h-3.32zM567.2 68.5h3.82v2.52h-3.82zM527.3 70.2h3.72v1.82h-3.72zM584.3 72.0h3.72v2.02h-3.72zM524.4 73.7h3.62v2.32h-3.62zM478.9 75.5h3.12v2.52h-3.12zM518.7 75.5h3.32v2.52h-3.32zM615.6 75.5h2.86v2.52h-2.86zM629.9 75.5h3.12v2.52h-3.12zM493.1 77.2h2.92v1.82h-2.92zM501.7 77.2h3.32v1.82h-3.32zM390.5 80.7h3.52v2.32h-3.52zM458.9 80.7h3.12v2.32h-3.12zM481.7 82.4h3.32v2.62h-3.32zM490.3 82.4h3.72v2.62h-3.72zM561.5 82.4h3.52v2.62h-3.52zM578.6 87.7h3.42v1.70h-3.42zM421.9 89.4h3.12v2.62h-3.12zM530.1 91.1h2.92v1.92h-2.92zM635.6 94.6h3.42v2.42h-3.42zM384.8 96.4h3.22v2.62h-3.22zM433.3 96.4h3.72v2.62h-3.72zM541.5 98.1h3.52v1.76h-3.52zM421.9 99.9h3.12v2.12h-3.12zM427.6 99.9h3.42v1.70h-3.42zM515.9 103.3h2.85v1.79h-2.85z"/>
<path fill="#1f968b" d="M652.7 33.6h2.80v2.42h-2.80zM598.5 51.1h3.52v1.92h-3.52zM564.3 58.0h3.72v2.02h-3.72zM635.6 58.0h3.42v1.77h-3.42zM570.0 59.8h3.02v2.22h-3.02zM638.4 59.8h3.62v2.22h-3.62zM567.2 61.5h3.82v2.52h-3.82zM652.7 61.5h2.80v2.52h-2.80zM558.6 63.3h3.42v1.72h-3.42zM490.3 65.0h3.72v2.02h-3.72zM493.1 65.0h2.92v2.02h-2.92zM524.4 66.7h3.62v2.32h-3.62zM567.2 66.7h3.82v2.32h-3.82zM461.8 68.5h3.22v2.52h-3.22zM510.2 68.5h3.82v2.52h-3.82zM564.3 68.5h3.72v2.52h-3.72zM615.6 68.5h3.42v2.52h-3.42zM641.3 68.5h2.80v2.52h-2.80zM575.7 70.2h3.32v1.82h-3.32zM621.3 70.2h3.72v1.82h-3.72zM641.3 70.2h3.72v1.82h-3.72zM481.7 72.0h3.32v2.02h-3.32zM504.5 73.7h3.52v2.32h-3.52zM541.5 73.7h3.52v2.32h-3.52zM507.4 75.5h3.62v2.52h-3.62zM572.9 75.5h3.12v2.52h-3.12zM627.0 77.2h3.02v1.82h-3.02zM464.6 78.9h3.42v2.12h-3.42zM524.4 78.9h3.62v2.12h-3.62zM578.6 78.9h3.42v2.12h-3.42zM635.6 78.9h3.42v2.12h-3.42zM535.8 80.7h3.22v2.32h-3.22zM552.9 80.7h3.12v2.32h-3.12zM627.0 82.4h3.02v1.77h-3.02zM476.0 84.2h3.02v1.82h-3.02zM518.7 84.2h3.32v1.82h-3.32zM538.7 84.2h3.32v1.82h-3.32zM544.4 84.2h3.62v1.82h-3.62zM464.6 85.9h3.42v2.12h-3.42zM550.1 85.9h2.92v1.76h-2.92zM476.0 87.7h3.02v2.32h-3.02zM607.1 87.7h2.92v2.32h-2.92zM635.6 87.7h3.42v2.32h-3.42zM470.3 89.4h3.72v2.62h-3.72zM524.4 89.4h3.62v2.62h-3.62zM587.1 89.4h2.92v2.62h-2.92zM590.0 89.4h3.02v2.62h-3.02zM535.8 91.1h3.22v1.92h-3.22zM552.9 91.1h3.12v1.92h-3.12zM644.1 91.1h2.92v1.92h-2.92zM604.2 92.9h3.82v2.12h-3.82zM387.7 94.6h3.32v2.42h-3.32zM618.5 94.6h3.52v2.42h-3.52zM382.0 96.4h3.02v2.62h-3.02zM476.0 96.4h3.02v2.62h-3.02zM510.2 96.4h3.82v2.62h-3.82zM612.8 96.4h2.81v1.72h-2.81zM570.0 98.1h3.02v1.92h-3.02zM387.7 99.9h3.32v2.12h-3.32z"/>
<path fill="#26828e" d="M652.7 26.7h2.80v2.32h-2.80zM624.2 44.1h3.82v1.92h-3.82zM635.6 44.1h3.42v1.92h-3.42zM638.4 45.8h3.62v2.22h-3.62zM644.1 45.8h2.92v2.22h-2.92zM652.7 45.8h2.80v1.77h-2.80zM618.5 47.6h3.52v2.42h-3.52zM607.1 49.3h2.92v2.72h-2.92zM601.4 54.5h3.62v2.52h-3.62zM601.4 56.3h3.62v2.72h-3.62zM552.9 58.0h3.12v2.02h-3.12zM561.5 58.0h3.52v2.02h-3.52zM570.0 58.0h3.02v2.02h-3.02zM581.4 58.0h3.62v2.02h-3.62zM595.7 58.0h3.32v2.02h-3.32zM527.3 59.8h3.72v2.22h-3.72zM530.1 59.8h2.92v2.22h-2.92zM627.0 59.8h3.02v2.22h-3.02zM555.8 61.5h2.83v2.52h-2.83zM570.0 61.5h3.02v2.52h-3.02zM601.4 61.5h3.62v1.76h-3.62zM590.0 63.3h3.02v1.72h-3.02zM461.8 66.7h3.22v2.32h-3.22zM547.2 66.7h3.82v2.32h-3.82zM615.6 66.7h3.42v2.32h-3.42zM649.8 66.7h3.22v2.32h-3.22zM467.5 68.5h3.52v2.52h-3.52zM515.9 68.5h3.12v2.52h-3.12zM572.9 68.5h3.12v2.52h-3.12zM581.4 68.5h3.62v2.52h-3.62zM609.9 68.5h3.12v2.52h-3.12zM379.1 70.2h2.92v1.82h-2.92zM461.8 72.0h3.22v2.02h-3.22zM476.0 72.0h3.02v2.02h-3.02zM533.0 72.0h3.02v2.02h-3.02zM535.8 72.0h3.22v2.02h-3.22zM635.6 72.0h3.42v2.02h-3.42zM507.4 73.7h3.62v2.32h-3.62zM547.2 73.7h3.82v2.32h-3.82zM621.3 75.5h3.72v2.52h-3.72zM504.5 77.2h3.52v1.82h-3.52zM609.9 77.2h3.12v1.82h-3.12zM641.3 78.9h3.72v2.12h-3.72zM467.5 80.7h3.52v2.32h-3.52zM527.3 80.7h3.72v2.32h-3.72zM587.1 80.7h2.92v2.32h-2.92zM618.5 80.7h3.52v2.32h-3.52zM507.4 82.4h3.62v2.62h-3.62zM527.3 82.4h3.72v2.62h-3.72zM570.0 82.4h3.02v2.62h-3.02zM578.6 82.4h3.42v1.77h-3.42zM624.2 82.4h3.82v2.62h-3.82zM635.6 82.4h2.81v2.62h-2.81zM641.3 82.4h3.72v2.62h-3.72zM487.4 84.2h3.62v1.82h-3.62zM555.8 84.2h3.22v1.82h-3.22zM595.7 85.9h3.32v2.12h-3.32zM607.1 85.9h2.92v2.12h-2.92zM629.9 85.9h2.81v2.12h-2.81zM470.3 87.7h3.72v2.32h-3.72zM478.9 87.7h3.12v2.32h-3.12zM592.8 87.7h3.22v2.32h-3.22zM644.1 87.7h2.92v2.32h-2.92zM478.9 89.4h3.12v2.62h-3.12zM533.0 89.4h3.02v2.62h-3.02zM595.7 89.4h3.32v1.75h-3.32zM652.7 89.4h2.80v2.62h-2.80zM490.3 91.1h3.72v1.92h-3.72zM493.1 91.1h2.92v1.92h-2.92zM521.6 91.1h3.42v1.92h-3.42zM561.5 91.1h3.52v1.92h-3.52zM581.4 91.1h3.62v1.92h-3.62zM521.6 92.9h3.42v2.12h-3.42zM476.0 94.6h3.02v2.42h-3.02zM592.8 94.6h3.22v2.42h-3.22zM547.2 96.4h3.82v1.72h-3.82zM609.9 96.4h3.12v2.62h-3.12zM481.7 98.1h3.32v1.92h-3.32zM487.4 98.1h3.62v1.76h-3.62zM644.1 98.1h2.92v1.92h-2.92zM490.3 99.9h3.72v1.70h-3.72zM521.6 103.3h2.85v1.79h-2.85zM527.3 103.3h2.84v1.79h-2.84z"/>
<path fill="#2db27d" d="M638.4 49.3h3.62v1.76h-3.62zM592.8 70.2h3.22v1.82h-3.22zM376.3 72.0h3.72v2.02h-3.72zM567.2 72.0h3.82v1.72h-3.82zM647.0 77.2h3.02v1.82h-3.02zM564.3 85.9h3.72v2.12h-3.72zM461.8 87.7h3.22v2.32h-3.22zM567.2 87.7h3.82v2.32h-3.82zM382.0 89.4h3.02v2.62h-3.02zM504.5 89.4h3.52v2.62h-3.52zM578.6 92.9h3.42v2.12h-3.42zM652.7 94.6h2.80v2.42h-2.80zM458.9 98.1h3.12v1.92h-3.12z"/>
<path fill="#46337f" d="M419.0 68.5h3.02v2.52h-3.02zM441.8 68.5h3.22v2.52h-3.22zM396.2 72.0h3.82v2.02h-3.82zM447.5 72.0h3.52v2.02h-3.52zM384.8 73.7h3.22v2.32h-3.22zM384.8 75.5h3.22v2.52h-3.22zM419.0 75.5h3.02v2.52h-3.02zM430.4 80.7h3.62v2.32h-3.62zM404.8 82.4h3.22v2.62h-3.22zM424.7 84.2h3.32v1.82h-3.32zM427.6 85.9h3.42v2.12h-3.42zM396.2 87.7h3.82v2.32h-3.82zM436.1 89.4h2.92v2.62h-2.92zM439.0 89.4h3.02v2.62h-3.02zM401.9 91.1h3.12v1.92h-3.12zM595.7 98.1h3.32v1.76h-3.32z"/>
<path fill="#9dd93b" d="M615.6 72.0h3.42v2.02h-3.42zM578.6 80.7h3.42v2.32h-3.42z"/>
<path fill="#481f70" d="M390.5 65.0h3.52v2.02h-3.52zM444.7 68.5h3.32v2.52h-3.32zM441.8 77.2h3.22v1.82h-3.22zM393.4 78.9h3.62v2.12h-3.62zM447.5 84.2h3.52v1.82h-3.52zM441.8 85.9h3.22v2.12h-3.22zM441.8 89.4h3.22v2.62h-3.22zM390.5 94.6h3.52v2.42h-3.52zM441.8 98.1h3.22v1.76h-3.22z"/>
<path fill="#1f998a" d="M644.1 40.6h2.92v2.42h-2.92zM647.0 42.3h3.02v2.72h-3.02zM612.8 47.6h3.22v2.42h-3.22zM641.3 47.6h3.72v2.42h-3.72zM584.3 56.3h3.72v2.72h-3.72zM638.4 58.0h3.62v2.02h-3.62zM601.4 59.8h3.62v2.22h-3.62zM641.3 63.3h3.72v1.72h-3.72zM555.8 65.0h3.22v2.02h-3.22zM581.4 65.0h3.62v2.02h-3.62zM607.1 66.7h2.92v2.32h-2.92zM618.5 66.7h3.52v2.32h-3.52zM629.9 66.7h3.12v1.79h-3.12zM652.7 66.7h2.80v2.32h-2.80zM496.0 68.5h3.02v2.52h-3.02zM513.0 68.5h3.02v2.52h-3.02zM538.7 68.5h3.32v2.52h-3.32zM470.3 70.2h3.72v1.82h-3.72zM572.9 70.2h3.12v1.82h-3.12zM581.4 72.0h3.62v2.02h-3.62zM641.3 72.0h3.72v2.02h-3.72zM649.8 72.0h3.22v2.02h-3.22zM552.9 73.7h3.12v2.32h-3.12zM561.5 73.7h3.52v2.32h-3.52zM575.7 75.5h3.32v2.52h-3.32zM376.3 77.2h3.72v1.82h-3.72zM458.9 77.2h3.12v1.82h-3.12zM467.5 77.2h3.52v1.82h-3.52zM561.5 77.2h3.52v1.82h-3.52zM598.5 77.2h3.52v1.82h-3.52zM604.2 77.2h3.82v1.82h-3.82zM607.1 78.9h2.92v2.12h-2.92zM644.1 78.9h2.92v2.12h-2.92zM647.0 78.9h3.02v2.12h-3.02zM487.4 80.7h3.62v2.32h-3.62zM513.0 80.7h3.02v2.32h-3.02zM581.4 80.7h3.62v2.32h-3.62zM515.9 82.4h3.12v2.62h-3.12zM607.1 82.4h2.92v2.62h-2.92zM493.1 84.2h2.92v1.82h-2.92zM595.7 84.2h3.32v1.82h-3.32zM390.5 85.9h3.52v2.12h-3.52zM461.8 85.9h3.22v2.12h-3.22zM476.0 85.9h3.02v2.12h-3.02zM481.7 85.9h3.32v2.12h-3.32zM518.7 85.9h3.32v2.12h-3.32zM527.3 85.9h3.72v2.12h-3.72zM555.8 85.9h3.22v1.76h-3.22zM487.4 87.7h3.62v2.32h-3.62zM570.0 87.7h3.02v2.32h-3.02zM518.7 89.4h3.32v2.62h-3.32zM621.3 89.4h3.72v2.62h-3.72zM518.7 91.1h3.32v1.92h-3.32zM504.5 92.9h3.52v2.12h-3.52zM541.5 92.9h3.52v1.73h-3.52zM575.7 92.9h3.32v2.12h-3.32zM590.0 92.9h3.02v2.12h-3.02zM379.1 94.6h2.92v2.42h-2.92zM421.9 94.6h3.12v2.42h-3.12zM496.0 94.6h3.02v2.42h-3.02zM513.0 94.6h3.02v2.42h-3.02zM584.3 94.6h3.72v2.42h-3.72zM612.8 94.6h2.81v2.42h-2.81zM458.9 96.4h3.12v2.62h-3.12zM501.7 96.4h3.32v2.62h-3.32zM513.0 96.4h3.02v2.62h-3.02zM550.1 96.4h2.92v2.62h-2.92zM581.4 96.4h3.62v2.62h-3.62zM590.0 96.4h3.02v2.62h-3.02zM632.7 96.4h3.32v2.62h-3.32zM439.0 98.1h3.02v1.92h-3.02zM592.8 98.1h3.22v1.92h-3.22zM647.0 98.1h3.02v1.92h-3.02zM564.3 105.1h2.88v1.73h-2.88z"/>
<path fill="#40bd72" d="M521.6 68.5h3.42v2.52h-3.42zM649.8 77.2h3.22v1.82h-3.22zM382.0 87.7h3.02v2.32h-3.02zM496.0 89.4h3.02v2.62h-3.02zM552.9 94.6h3.12v2.42h-3.12zM507.4 96.4h3.62v2.62h-3.62zM524.4 96.4h3.62v2.62h-3.62zM647.0 96.4h3.02v2.62h-3.02zM379.1 98.1h2.92v1.76h-2.92z"/>
<path fill="#287d8e" d="M647.0 37.1h3.02v1.92h-3.02zM638.4 38.9h3.62v2.12h-3.62zM638.4 42.3h3.62v2.72h-3.62zM624.2 47.6h3.82v2.42h-3.82zM629.9 49.3h3.12v2.72h-3.12zM607.1 51.1h2.92v1.92h-2.92zM578.6 56.3h3.42v2.72h-3.42zM590.0 56.3h3.02v2.72h-3.02zM598.5 56.3h3.52v2.72h-3.52zM533.0 58.0h3.02v2.02h-3.02zM535.8 58.0h3.22v2.02h-3.22zM547.2 58.0h3.82v2.02h-3.82zM558.6 58.0h3.42v2.02h-3.42zM601.4 58.0h3.62v2.02h-3.62zM624.2 58.0h3.82v2.02h-3.82zM484.6 61.5h3.42v2.52h-3.42zM490.3 61.5h3.72v2.52h-3.72zM510.2 61.5h3.82v2.52h-3.82zM513.0 61.5h3.02v2.52h-3.02zM578.6 61.5h3.42v2.52h-3.42zM621.3 61.5h3.72v2.52h-3.72zM641.3 61.5h3.72v2.52h-3.72zM478.9 63.3h3.12v1.72h-3.12zM484.6 63.3h3.42v1.72h-3.42zM467.5 66.7h3.52v2.32h-3.52zM507.4 66.7h3.62v2.32h-3.62zM592.8 66.7h2.87v2.32h-2.87zM612.8 66.7h3.22v2.32h-3.22zM484.6 68.5h3.42v2.52h-3.42zM464.6 70.2h3.42v1.82h-3.42zM552.9 70.2h3.12v1.82h-3.12zM632.7 70.2h3.32v1.82h-3.32zM504.5 72.0h3.52v2.02h-3.52zM518.7 72.0h3.32v2.02h-3.32zM558.6 72.0h3.42v2.02h-3.42zM572.9 73.7h3.12v2.32h-3.12zM584.3 73.7h3.72v2.32h-3.72zM550.1 75.5h2.92v2.52h-2.92zM581.4 75.5h3.62v2.52h-3.62zM379.1 77.2h2.92v1.82h-2.92zM473.2 77.2h3.82v1.82h-3.82zM607.1 77.2h2.92v1.82h-2.92zM547.2 78.9h3.82v2.12h-3.82zM376.3 80.7h3.72v2.32h-3.72zM481.7 80.7h3.32v2.32h-3.32zM544.4 82.4h3.62v2.62h-3.62zM555.8 82.4h3.22v2.62h-3.22zM644.1 82.4h2.92v2.62h-2.92zM513.0 84.2h3.02v1.82h-3.02zM547.2 84.2h3.82v1.82h-3.82zM493.1 85.9h2.92v2.12h-2.92zM544.4 89.4h3.62v2.62h-3.62zM615.6 89.4h3.42v2.62h-3.42zM627.0 91.1h3.02v1.92h-3.02zM473.2 92.9h3.82v2.12h-3.82zM527.3 92.9h3.72v2.12h-3.72zM555.8 92.9h3.22v2.12h-3.22zM376.3 94.6h3.72v2.42h-3.72zM461.8 94.6h3.22v2.42h-3.22zM441.8 96.4h3.22v2.62h-3.22zM618.5 96.4h3.52v2.62h-3.52zM524.4 99.9h3.62v1.70h-3.62zM627.0 99.9h2.86v1.70h-2.86zM458.9 103.3h2.87v1.79h-2.87z"/>
<path fill="#46307e" d="M427.6 65.0h3.42v2.02h-3.42zM433.3 65.0h2.83v2.02h-2.83zM419.0 66.7h3.02v2.32h-3.02zM439.0 66.7h3.02v2.32h-3.02zM447.5 66.7h3.52v2.32h-3.52zM393.4 68.5h3.62v2.52h-3.62zM404.8 68.5h3.22v2.52h-3.22zM436.1 72.0h2.92v2.02h-2.92zM441.8 72.0h3.22v2.02h-3.22zM390.5 73.7h3.52v2.32h-3.52zM441.8 73.7h3.22v2.32h-3.22zM427.6 75.5h3.42v2.52h-3.42zM427.6 77.2h3.42v1.82h-3.42zM453.2 77.2h3.82v1.82h-3.82zM453.2 78.9h3.82v2.12h-3.82zM433.3 87.7h3.72v2.32h-3.72zM419.0 89.4h3.02v2.62h-3.02zM424.7 89.4h3.32v2.62h-3.32zM453.2 89.4h3.82v2.62h-3.82zM390.5 91.1h3.52v1.92h-3.52zM436.1 91.1h2.92v1.92h-2.92zM424.7 94.6h3.32v2.42h-3.32zM401.9 103.3h2.89v1.79h-2.89zM450.4 103.3h2.82v1.79h-2.82z"/>
<path fill="#81d34d" d="M558.6 65.0h3.42v2.02h-3.42z"/>
<path fill="#89d548" d="M535.8 82.4h3.22v2.62h-3.22zM464.6 84.2h3.42v1.82h-3.42zM490.3 85.9h3.72v2.12h-3.72zM476.0 89.4h3.02v2.62h-3.02zM493.1 89.4h2.92v2.62h-2.92z"/>
<path fill="#424086" d="M453.2 66.7h3.82v2.32h-3.82zM456.1 66.7h2.92v2.32h-2.92zM541.5 66.7h2.89v2.32h-2.89zM401.9 68.5h3.12v2.52h-3.12zM450.4 68.5h3.62v2.52h-3.62zM399.1 70.2h2.92v1.82h-2.92zM430.4 70.2h3.62v1.82h-3.62zM439.0 70.2h3.02v1.82h-3.02zM393.4 72.0h3.62v2.02h-3.62zM401.9 72.0h3.12v2.02h-3.12zM401.9 73.7h3.12v2.32h-3.12zM407.6 73.7h3.42v2.32h-3.42zM433.3 75.5h3.72v2.52h-3.72zM384.8 77.2h3.22v1.82h-3.22zM396.2 77.2h3.82v1.82h-3.82zM416.2 78.9h3.82v2.12h-3.82zM430.4 78.9h3.62v2.12h-3.62zM433.3 78.9h3.72v2.12h-3.72zM632.7 78.9h3.32v2.12h-3.32zM436.1 80.7h2.92v2.32h-2.92zM444.7 80.7h3.32v2.32h-3.32zM396.2 82.4h3.82v2.62h-3.82zM399.1 82.4h2.92v2.62h-2.92zM441.8 82.4h3.22v2.62h-3.22zM444.7 84.2h3.32v1.82h-3.32zM404.8 85.9h3.22v2.12h-3.22zM430.4 85.9h3.62v2.12h-3.62zM387.7 89.4h3.32v2.62h-3.32zM407.6 89.4h3.42v2.62h-3.42zM410.5 89.4h3.52v2.62h-3.52zM393.4 91.1h3.62v1.92h-3.62zM407.6 91.1h3.42v1.92h-3.42zM427.6 91.1h3.42v1.92h-3.42zM444.7 91.1h3.32v1.92h-3.32zM427.6 92.9h3.42v2.12h-3.42zM441.8 94.6h3.22v2.42h-3.22zM390.5 96.4h3.52v2.62h-3.52zM424.7 96.4h3.32v2.62h-3.32zM433.3 99.9h3.72v2.12h-3.72zM444.7 99.9h2.82v1.70h-2.82zM404.8 101.6h2.84v1.75h-2.84zM436.1 101.6h2.92v1.75h-2.92z"/>
<path fill="#46c06f" d="M587.1 65.0h2.92v2.02h-2.92zM555.8 80.7h3.22v2.32h-3.22zM373.4 89.4h3.62v2.62h-3.62zM373.4 91.1h3.62v1.92h-3.62zM507.4 91.1h3.62v1.92h-3.62zM604.2 91.1h3.82v1.92h-3.82zM590.0 94.6h3.02v2.42h-3.02zM567.2 96.4h3.82v1.72h-3.82zM382.0 98.1h3.02v1.76h-3.02zM644.1 99.9h2.92v2.12h-2.92z"/>
<path fill="#2d718e" d="M644.1 37.1h2.92v1.92h-2.92zM627.0 49.3h3.02v2.72h-3.02zM635.6 52.8h3.42v2.22h-3.42zM649.8 52.8h3.22v2.22h-3.22zM538.7 58.0h3.32v2.02h-3.32zM550.1 59.8h2.92v2.22h-2.92zM615.6 59.8h2.86v2.22h-2.86zM493.1 61.5h2.92v2.52h-2.92zM575.7 61.5h3.32v2.52h-3.32zM598.5 61.5h3.52v2.52h-3.52zM493.1 63.3h2.92v1.72h-2.92zM498.8 63.3h3.22v1.72h-3.22zM530.1 63.3h2.92v1.72h-2.92zM561.5 63.3h3.52v1.72h-3.52zM615.6 63.3h3.42v1.72h-3.42zM467.5 65.0h3.52v2.02h-3.52zM530.1 65.0h2.92v2.02h-2.92zM533.0 65.0h3.02v2.02h-3.02zM550.1 65.0h2.92v2.02h-2.92zM601.4 65.0h3.62v2.02h-3.62zM618.5 65.0h3.52v2.02h-3.52zM564.3 66.7h3.72v2.32h-3.72zM490.3 68.5h3.72v2.52h-3.72zM493.1 68.5h2.92v2.52h-2.92zM501.7 68.5h3.32v2.52h-3.32zM518.7 68.5h3.32v2.52h-3.32zM595.7 68.5h2.82v2.52h-2.82zM458.9 72.0h3.12v2.02h-3.12zM501.7 73.7h3.32v2.32h-3.32zM533.0 75.5h3.02v2.52h-3.02zM535.8 77.2h3.22v1.82h-3.22zM481.7 78.9h3.32v2.12h-3.32zM535.8 78.9h3.22v2.12h-3.22zM558.6 78.9h3.42v2.12h-3.42zM521.6 82.4h3.42v2.62h-3.42zM387.7 84.2h3.32v1.82h-3.32zM490.3 84.2h3.72v1.82h-3.72zM584.3 84.2h3.72v1.72h-3.72zM604.2 84.2h3.82v1.82h-3.82zM515.9 85.9h3.12v2.12h-3.12zM604.2 85.9h3.82v2.12h-3.82zM644.1 85.9h2.92v2.12h-2.92zM501.7 87.7h3.32v2.32h-3.32zM572.9 91.1h3.12v1.92h-3.12zM501.7 94.6h3.32v2.42h-3.32zM515.9 94.6h3.12v2.42h-3.12zM407.6 99.9h3.42v1.70h-3.42zM609.9 103.3h2.87v1.79h-2.87z"/>
<path fill="#3d4d8a" d="M649.8 28.4h3.22v2.62h-3.22zM649.8 30.1h3.22v1.78h-3.22zM621.3 45.8h3.72v2.22h-3.72zM641.3 45.8h3.72v2.22h-3.72zM604.2 54.5h3.82v2.52h-3.82zM618.5 54.5h3.52v2.52h-3.52zM638.4 54.5h3.62v2.52h-3.62zM555.8 63.3h3.22v1.72h-3.22zM379.1 65.0h2.92v2.02h-2.92zM399.1 66.7h2.92v2.32h-2.92zM401.9 66.7h3.12v2.32h-3.12zM390.5 68.5h3.52v2.52h-3.52zM399.1 68.5h2.92v2.52h-2.92zM521.6 75.5h3.42v2.52h-3.42zM587.1 75.5h2.92v2.52h-2.92zM430.4 77.2h3.62v1.82h-3.62zM413.3 78.9h3.72v2.12h-3.72zM427.6 78.9h3.42v2.12h-3.42zM587.1 78.9h2.92v2.12h-2.92zM401.9 82.4h3.12v2.62h-3.12zM421.9 82.4h3.12v2.62h-3.12zM450.4 82.4h3.62v2.62h-3.62zM410.5 84.2h3.52v1.82h-3.52zM421.9 84.2h3.12v1.82h-3.12zM416.2 85.9h3.82v2.12h-3.82zM433.3 85.9h3.72v2.12h-3.72zM456.1 85.9h2.92v2.12h-2.92zM441.8 87.7h3.22v2.32h-3.22zM450.4 87.7h3.62v2.32h-3.62zM404.8 91.1h3.22v1.92h-3.22zM410.5 91.1h3.52v1.92h-3.52zM453.2 91.1h3.82v1.92h-3.82zM410.5 92.9h3.52v2.12h-3.52zM444.7 92.9h3.32v2.12h-3.32zM396.2 94.6h3.82v2.42h-3.82zM404.8 94.6h3.22v2.42h-3.22zM416.2 94.6h3.82v2.42h-3.82zM396.2 96.4h3.82v2.62h-3.82zM404.8 96.4h3.22v2.62h-3.22zM430.4 96.4h3.62v2.62h-3.62zM456.1 96.4h2.92v2.62h-2.92zM419.0 98.1h3.02v1.76h-3.02zM444.7 98.1h3.32v1.92h-3.32zM447.5 98.1h3.52v1.76h-3.52zM456.1 98.1h2.92v1.92h-2.92zM641.3 99.9h3.72v1.70h-3.72zM393.4 101.6h3.62v2.42h-3.62zM387.7 103.3h2.84v1.79h-2.84zM444.7 108.6h2.82v1.72h-2.82z"/>
<path fill="#3c4f8a" d="M384.8 65.0h3.22v2.02h-3.22zM410.5 65.0h3.52v2.02h-3.52zM421.9 65.0h3.12v2.02h-3.12zM470.3 65.0h3.72v2.02h-3.72zM416.2 72.0h3.82v2.02h-3.82zM424.7 72.0h3.32v2.02h-3.32zM421.9 73.7h3.12v2.32h-3.12zM401.9 75.5h3.12v2.52h-3.12zM421.9 75.5h3.12v2.52h-3.12zM444.7 77.2h3.32v1.82h-3.32zM421.9 78.9h3.12v2.12h-3.12zM444.7 78.9h3.32v2.12h-3.32zM410.5 80.7h3.52v2.32h-3.52zM416.2 80.7h3.82v2.32h-3.82zM413.3 82.4h3.72v2.62h-3.72zM447.5 82.4h3.52v2.62h-3.52zM407.6 84.2h3.42v1.82h-3.42zM430.4 84.2h3.62v1.82h-3.62zM439.0 84.2h3.02v1.82h-3.02zM407.6 87.7h3.42v2.32h-3.42zM416.2 87.7h3.82v2.32h-3.82zM447.5 87.7h3.52v2.32h-3.52zM587.1 87.7h2.92v2.32h-2.92zM427.6 89.4h3.42v2.62h-3.42zM399.1 91.1h2.92v1.92h-2.92zM427.6 96.4h3.42v2.62h-3.42zM416.2 98.1h3.82v1.76h-3.82zM424.7 98.1h3.32v1.92h-3.32zM396.2 99.9h2.89v2.12h-2.89zM430.4 101.6h3.62v1.75h-3.62zM590.0 101.6h2.82v1.75h-2.82zM393.4 103.3h2.84v1.79h-2.84z"/>
<path fill="#2c738e" d="M652.7 28.4h2.80v2.62h-2.80zM649.8 33.6h3.22v2.42h-3.22zM644.1 35.4h2.92v2.62h-2.92zM627.0 42.3h3.02v2.72h-3.02zM632.7 45.8h3.32v2.22h-3.32zM652.7 51.1h2.80v1.92h-2.80zM592.8 52.8h3.22v2.22h-3.22zM615.6 54.5h3.42v2.52h-3.42zM624.2 54.5h3.82v2.52h-3.82zM567.2 56.3h3.82v2.72h-3.82zM581.4 56.3h3.62v2.72h-3.62zM590.0 58.0h3.02v2.02h-3.02zM652.7 59.8h2.80v2.22h-2.80zM584.3 61.5h3.72v2.52h-3.72zM547.2 63.3h3.82v1.72h-3.82zM612.8 63.3h3.22v1.72h-3.22zM621.3 63.3h3.72v1.72h-3.72zM638.4 63.3h3.62v1.72h-3.62zM510.2 65.0h3.82v2.02h-3.82zM612.8 65.0h3.22v2.02h-3.22zM615.6 65.0h3.42v2.02h-3.42zM521.6 66.7h3.42v2.32h-3.42zM533.0 66.7h3.02v2.32h-3.02zM561.5 68.5h3.52v2.52h-3.52zM578.6 68.5h3.42v2.52h-3.42zM584.3 68.5h3.72v2.52h-3.72zM504.5 70.2h3.52v1.82h-3.52zM587.1 70.2h2.92v1.82h-2.92zM649.8 70.2h3.22v1.82h-3.22zM473.2 72.0h3.82v2.02h-3.82zM493.1 72.0h2.92v2.02h-2.92zM521.6 73.7h3.42v2.32h-3.42zM578.6 73.7h3.42v2.32h-3.42zM607.1 73.7h2.92v2.32h-2.92zM618.5 73.7h3.52v1.76h-3.52zM376.3 75.5h3.72v2.52h-3.72zM515.9 75.5h3.12v2.52h-3.12zM541.5 77.2h3.52v1.82h-3.52zM370.6 78.9h3.42v2.12h-3.42zM484.6 82.4h3.42v2.62h-3.42zM493.1 82.4h2.92v2.62h-2.92zM609.9 82.4h3.12v2.62h-3.12zM470.3 85.9h3.72v2.12h-3.72zM473.2 85.9h3.82v2.12h-3.82zM530.1 85.9h2.92v2.12h-2.92zM515.9 89.4h3.12v2.62h-3.12zM592.8 89.4h3.22v2.62h-3.22zM544.4 91.1h3.62v1.92h-3.62zM584.3 91.1h3.72v1.92h-3.72zM621.3 92.9h3.72v2.12h-3.72zM638.4 92.9h3.62v2.12h-3.62zM473.2 101.6h2.81v1.75h-2.81z"/>
<path fill="#1f9e89" d="M632.7 49.3h3.32v2.72h-3.32zM590.0 52.8h3.02v2.22h-3.02zM621.3 65.0h3.72v2.02h-3.72zM464.6 66.7h3.42v2.32h-3.42zM601.4 68.5h3.62v2.52h-3.62zM538.7 72.0h3.32v2.02h-3.32zM592.8 72.0h3.22v2.02h-3.22zM598.5 72.0h2.87v2.02h-2.87zM627.0 72.0h3.02v2.02h-3.02zM464.6 75.5h3.42v2.52h-3.42zM473.2 75.5h3.82v2.52h-3.82zM604.2 75.5h3.82v2.52h-3.82zM507.4 77.2h3.62v1.82h-3.62zM629.9 77.2h3.12v1.82h-3.12zM538.7 78.9h3.32v2.12h-3.32zM598.5 80.7h3.52v2.32h-3.52zM473.2 84.2h3.82v1.82h-3.82zM507.4 84.2h3.62v1.82h-3.62zM527.3 84.2h3.72v1.82h-3.72zM379.1 87.7h2.92v2.32h-2.92zM601.4 87.7h3.62v2.32h-3.62zM629.9 87.7h3.12v2.32h-3.12zM612.8 89.4h3.22v2.62h-3.22zM632.7 89.4h3.32v2.62h-3.32zM370.6 91.1h3.42v1.92h-3.42zM501.7 91.1h3.32v1.92h-3.32zM550.1 91.1h2.92v1.92h-2.92zM564.3 91.1h3.72v1.92h-3.72zM461.8 92.9h3.22v2.12h-3.22zM382.0 94.6h3.02v2.42h-3.02zM481.7 94.6h3.32v2.42h-3.32zM527.3 94.6h3.72v2.42h-3.72zM609.9 94.6h3.12v2.42h-3.12zM515.9 96.4h3.12v2.62h-3.12zM587.1 98.1h2.92v1.76h-2.92zM507.4 99.9h3.62v1.70h-3.62z"/>
<path fill="#297b8e" d="M647.0 35.4h3.02v2.62h-3.02zM641.3 37.1h3.72v1.92h-3.72zM641.3 42.3h3.72v1.78h-3.72zM644.1 42.3h2.92v2.72h-2.92zM629.9 44.1h3.12v1.92h-3.12zM612.8 49.3h3.22v2.72h-3.22zM615.6 51.1h2.86v1.92h-2.86zM641.3 51.1h3.72v1.92h-3.72zM612.8 52.8h3.22v2.22h-3.22zM587.1 56.3h2.92v2.72h-2.92zM644.1 56.3h2.92v2.72h-2.92zM649.8 56.3h3.22v2.72h-3.22zM555.8 58.0h3.22v2.02h-3.22zM587.1 58.0h2.92v2.02h-2.92zM649.8 58.0h3.22v2.02h-3.22zM575.7 59.8h3.32v2.22h-3.32zM584.3 59.8h3.72v2.22h-3.72zM592.8 59.8h3.22v2.22h-3.22zM598.5 59.8h3.52v2.22h-3.52zM647.0 59.8h3.02v2.22h-3.02zM649.8 59.8h3.22v1.71h-3.22zM504.5 61.5h3.52v2.52h-3.52zM632.7 61.5h3.32v2.52h-3.32zM635.6 61.5h3.42v2.52h-3.42zM533.0 63.3h3.02v1.72h-3.02zM649.8 63.3h3.22v1.72h-3.22zM524.4 65.0h3.62v2.02h-3.62zM609.9 65.0h3.12v2.02h-3.12zM387.7 66.7h3.32v2.32h-3.32zM581.4 66.7h3.62v2.32h-3.62zM635.6 66.7h3.42v2.32h-3.42zM524.4 68.5h3.62v2.52h-3.62zM547.2 68.5h3.82v2.52h-3.82zM458.9 70.2h3.12v1.82h-3.12zM484.6 70.2h3.42v1.82h-3.42zM530.1 70.2h2.92v1.82h-2.92zM555.8 70.2h3.22v1.82h-3.22zM609.9 70.2h3.12v1.82h-3.12zM615.6 70.2h3.42v1.82h-3.42zM478.9 72.0h3.12v2.02h-3.12zM487.4 72.0h3.62v2.02h-3.62zM518.7 73.7h3.32v2.32h-3.32zM533.0 73.7h3.02v2.32h-3.02zM564.3 73.7h2.88v2.32h-2.88zM587.1 73.7h2.92v2.32h-2.92zM649.8 73.7h3.22v2.32h-3.22zM498.8 75.5h3.22v2.52h-3.22zM524.4 75.5h3.62v2.52h-3.62zM584.3 75.5h3.72v2.52h-3.72zM458.9 78.9h3.12v2.12h-3.12zM515.9 78.9h3.12v2.12h-3.12zM550.1 78.9h2.92v2.12h-2.92zM609.9 78.9h3.12v2.12h-3.12zM612.8 78.9h3.22v2.12h-3.22zM624.2 78.9h3.82v1.79h-3.82zM370.6 80.7h3.42v2.32h-3.42zM501.7 82.4h3.32v2.62h-3.32zM481.7 84.2h3.32v1.82h-3.32zM535.8 84.2h3.22v1.82h-3.22zM490.3 87.7h3.72v2.32h-3.72zM521.6 87.7h3.42v2.32h-3.42zM581.4 87.7h3.62v1.70h-3.62zM461.8 89.4h3.22v2.62h-3.22zM527.3 89.4h3.72v2.62h-3.72zM558.6 89.4h3.42v2.62h-3.42zM470.3 91.1h3.72v1.92h-3.72zM578.6 91.1h3.42v1.92h-3.42zM607.1 91.1h2.92v1.92h-2.92zM615.6 91.1h3.42v1.92h-3.42zM618.5 91.1h3.52v1.92h-3.52zM487.4 92.9h3.62v2.12h-3.62zM493.1 92.9h2.92v2.12h-2.92zM601.4 92.9h3.62v2.12h-3.62zM647.0 92.9h3.02v2.12h-3.02zM555.8 94.6h3.22v2.42h-3.22zM624.2 94.6h2.81v2.42h-2.81zM470.3 98.1h3.72v1.76h-3.72zM578.6 99.9h3.42v1.70h-3.42zM584.3 99.9h2.82v1.70h-2.82zM624.2 99.9h3.82v2.12h-3.82zM618.5 101.6h2.81v1.75h-2.81z"/>
<path fill="#482576" d="M424.7 65.0h3.32v2.02h-3.32zM430.4 66.7h3.62v2.32h-3.62zM444.7 66.7h3.32v2.32h-3.32zM436.1 68.5h2.92v2.52h-2.92zM439.0 68.5h3.02v2.52h-3.02zM456.1 68.5h2.92v2.52h-2.92zM387.7 70.2h3.32v1.82h-3.32zM419.0 77.2h3.02v1.82h-3.02zM419.0 78.9h3.02v2.12h-3.02zM436.1 84.2h2.92v1.82h-2.92zM419.0 85.9h3.02v2.12h-3.02zM444.7 85.9h3.32v2.12h-3.32zM387.7 96.4h3.32v2.62h-3.32zM427.6 98.1h3.42v1.92h-3.42zM436.1 99.9h2.92v2.12h-2.92z"/>
<path fill="#2a788e" d="M624.2 42.3h3.82v2.72h-3.82zM601.4 51.1h3.62v1.92h-3.62zM627.0 51.1h3.02v1.92h-3.02zM595.7 52.8h3.32v1.74h-3.32zM638.4 52.8h3.62v2.22h-3.62zM584.3 54.5h3.72v2.52h-3.72zM592.8 54.5h2.87v2.52h-2.87zM598.5 54.5h3.52v2.52h-3.52zM647.0 54.5h3.02v2.52h-3.02zM621.3 58.0h3.72v2.02h-3.72zM541.5 59.8h3.52v2.22h-3.52zM572.9 59.8h3.12v2.22h-3.12zM612.8 59.8h3.22v2.22h-3.22zM501.7 61.5h3.32v2.52h-3.32zM515.9 61.5h3.12v2.52h-3.12zM581.4 61.5h3.62v2.52h-3.62zM587.1 61.5h2.92v1.76h-2.92zM515.9 63.3h3.12v1.72h-3.12zM618.5 63.3h3.52v1.72h-3.52zM570.0 65.0h3.02v2.02h-3.02zM515.9 66.7h3.12v2.32h-3.12zM518.7 66.7h3.32v2.32h-3.32zM584.3 66.7h3.72v2.32h-3.72zM624.2 66.7h3.82v1.79h-3.82zM382.0 68.5h3.02v2.52h-3.02zM478.9 68.5h3.12v2.52h-3.12zM612.8 68.5h3.22v2.52h-3.22zM635.6 68.5h3.42v2.52h-3.42zM538.7 70.2h3.32v1.82h-3.32zM564.3 70.2h3.72v1.82h-3.72zM404.8 72.0h3.22v2.02h-3.22zM484.6 72.0h3.42v2.02h-3.42zM570.0 72.0h3.02v2.02h-3.02zM592.8 73.7h3.22v2.32h-3.22zM461.8 75.5h3.22v2.52h-3.22zM490.3 75.5h3.72v2.52h-3.72zM496.0 75.5h3.02v2.52h-3.02zM607.1 75.5h2.92v2.52h-2.92zM476.0 77.2h3.02v1.82h-3.02zM498.8 78.9h3.22v2.12h-3.22zM598.5 78.9h3.52v2.12h-3.52zM490.3 80.7h3.72v2.32h-3.72zM544.4 80.7h3.62v2.32h-3.62zM595.7 80.7h3.32v2.32h-3.32zM379.1 82.4h2.92v2.62h-2.92zM518.7 82.4h3.32v2.62h-3.32zM550.1 82.4h2.92v2.62h-2.92zM615.6 82.4h3.42v2.62h-3.42zM504.5 84.2h3.52v1.82h-3.52zM510.2 84.2h3.82v1.82h-3.82zM601.4 84.2h3.62v1.82h-3.62zM510.2 85.9h3.82v2.12h-3.82zM524.4 85.9h3.62v2.12h-3.62zM373.4 87.7h3.62v2.32h-3.62zM458.9 89.4h3.12v2.62h-3.12zM570.0 91.1h3.02v1.92h-3.02zM496.0 92.9h3.02v2.12h-3.02zM544.4 92.9h3.62v2.12h-3.62zM575.7 98.1h3.32v1.76h-3.32zM621.3 98.1h3.72v1.92h-3.72zM558.6 103.3h2.88v1.79h-2.88z"/>
<path fill="#404688" d="M601.4 52.8h3.62v2.22h-3.62zM624.2 52.8h3.82v2.22h-3.82zM416.2 68.5h3.82v2.52h-3.82zM421.9 68.5h3.12v2.52h-3.12zM404.8 70.2h3.22v1.82h-3.22zM384.8 72.0h3.22v2.02h-3.22zM399.1 72.0h2.92v2.02h-2.92zM396.2 75.5h3.82v2.52h-3.82zM504.5 75.5h3.52v2.52h-3.52zM390.5 77.2h3.52v1.82h-3.52zM399.1 77.2h2.92v1.82h-2.92zM407.6 77.2h3.42v1.82h-3.42zM416.2 77.2h3.82v1.82h-3.82zM396.2 78.9h3.82v2.12h-3.82zM407.6 78.9h3.42v2.12h-3.42zM410.5 78.9h3.52v2.12h-3.52zM456.1 78.9h2.92v2.12h-2.92zM396.2 80.7h3.82v2.32h-3.82zM401.9 80.7h3.12v2.32h-3.12zM419.0 80.7h3.02v2.32h-3.02zM430.4 82.4h3.62v2.62h-3.62zM401.9 84.2h3.12v1.82h-3.12zM404.8 84.2h3.22v1.82h-3.22zM450.4 84.2h3.62v1.82h-3.62zM401.9 85.9h3.12v2.12h-3.12zM413.3 85.9h3.72v2.12h-3.72zM419.0 87.7h3.02v2.32h-3.02zM427.6 87.7h3.42v2.32h-3.42zM430.4 87.7h3.62v2.32h-3.62zM456.1 87.7h2.92v2.32h-2.92zM430.4 89.4h3.62v2.62h-3.62zM433.3 89.4h3.72v2.62h-3.72zM424.7 91.1h3.32v1.92h-3.32zM421.9 92.9h3.12v2.12h-3.12zM384.8 94.6h3.22v2.42h-3.22zM453.2 94.6h3.82v2.42h-3.82zM407.6 96.4h3.42v2.62h-3.42zM419.0 96.4h3.02v2.62h-3.02zM401.9 98.1h3.12v1.92h-3.12zM393.4 99.9h3.62v2.12h-3.62zM424.7 105.1h2.88v1.73h-2.88z"/>
<path fill="#25848e" d="M652.7 42.3h2.80v2.72h-2.80zM649.8 44.1h3.22v1.92h-3.22zM627.0 45.8h3.02v2.22h-3.02zM615.6 47.6h3.42v2.42h-3.42zM652.7 49.3h2.80v2.72h-2.80zM644.1 51.1h2.92v1.70h-2.92zM652.7 52.8h2.80v2.22h-2.80zM604.2 56.3h3.82v2.72h-3.82zM647.0 58.0h3.02v2.02h-3.02zM515.9 59.8h3.12v2.22h-3.12zM561.5 59.8h3.52v2.22h-3.52zM498.8 61.5h3.22v2.52h-3.22zM507.4 63.3h3.62v1.72h-3.62zM552.9 63.3h3.12v1.72h-3.12zM581.4 63.3h3.62v1.72h-3.62zM498.8 65.0h3.22v2.02h-3.22zM487.4 66.7h3.62v2.32h-3.62zM496.0 66.7h3.02v2.32h-3.02zM535.8 66.7h3.22v2.32h-3.22zM572.9 66.7h3.12v2.32h-3.12zM487.4 68.5h3.62v2.52h-3.62zM535.8 68.5h3.22v2.52h-3.22zM544.4 68.5h3.62v2.52h-3.62zM618.5 70.2h3.52v1.82h-3.52zM382.0 72.0h3.02v2.02h-3.02zM521.6 72.0h3.42v2.02h-3.42zM552.9 72.0h3.12v2.02h-3.12zM618.5 72.0h3.52v2.02h-3.52zM444.7 73.7h3.32v2.32h-3.32zM478.9 73.7h3.12v2.32h-3.12zM527.3 73.7h3.72v2.32h-3.72zM544.4 73.7h3.62v2.32h-3.62zM595.7 73.7h3.32v2.32h-3.32zM612.8 73.7h3.22v2.32h-3.22zM541.5 75.5h3.52v2.52h-3.52zM627.0 75.5h3.02v2.52h-3.02zM647.0 75.5h3.02v2.52h-3.02zM524.4 77.2h3.62v1.82h-3.62zM584.3 77.2h3.72v1.82h-3.72zM624.2 77.2h3.82v1.82h-3.82zM632.7 77.2h3.32v1.82h-3.32zM470.3 78.9h3.72v2.12h-3.72zM575.7 80.7h3.32v2.32h-3.32zM513.0 82.4h3.02v2.62h-3.02zM558.6 82.4h3.42v2.62h-3.42zM618.5 82.4h3.52v2.62h-3.52zM376.3 84.2h3.72v1.82h-3.72zM382.0 84.2h3.02v1.82h-3.02zM533.0 84.2h3.02v1.82h-3.02zM647.0 84.2h3.02v1.82h-3.02zM376.3 85.9h3.72v2.12h-3.72zM496.0 85.9h3.02v2.12h-3.02zM521.6 85.9h3.42v2.12h-3.42zM558.6 85.9h3.42v2.12h-3.42zM635.6 85.9h3.42v2.12h-3.42zM467.5 87.7h3.52v2.32h-3.52zM473.2 87.7h3.82v2.32h-3.82zM564.3 87.7h3.72v2.32h-3.72zM535.8 89.4h3.22v2.62h-3.22zM627.0 89.4h3.02v2.62h-3.02zM510.2 91.1h3.82v1.92h-3.82zM575.7 91.1h3.32v1.92h-3.32zM598.5 91.1h3.52v1.92h-3.52zM632.7 91.1h3.32v1.92h-3.32zM373.4 92.9h3.62v2.12h-3.62zM513.0 92.9h3.02v2.12h-3.02zM518.7 92.9h3.32v2.12h-3.32zM564.3 92.9h2.88v2.12h-2.88zM609.9 92.9h3.12v2.12h-3.12zM627.0 92.9h3.02v1.73h-3.02zM470.3 94.6h3.72v2.42h-3.72zM490.3 94.6h3.72v2.42h-3.72zM638.4 94.6h2.86v2.42h-2.86zM498.8 96.4h3.22v1.72h-3.22zM541.5 96.4h3.52v2.62h-3.52zM592.8 96.4h3.22v2.62h-3.22zM527.3 98.1h3.72v1.92h-3.72zM609.9 98.1h2.87v1.76h-2.87zM595.7 101.6h2.82v1.75h-2.82z"/>
<path fill="#22a884" d="M647.0 51.1h3.02v1.92h-3.02zM552.9 66.7h3.12v2.32h-3.12zM601.4 66.7h3.62v2.32h-3.62zM541.5 70.2h3.52v1.82h-3.52zM604.2 72.0h3.82v2.02h-3.82zM376.3 73.7h3.72v2.32h-3.72zM467.5 75.5h3.52v2.52h-3.52zM635.6 75.5h3.42v2.52h-3.42zM461.8 78.9h3.22v2.12h-3.22zM592.8 82.4h3.22v2.62h-3.22zM598.5 82.4h3.52v2.62h-3.52zM647.0 82.4h3.02v2.62h-3.02zM572.9 85.9h2.83v2.12h-2.83zM627.0 85.9h3.02v2.12h-3.02zM507.4 87.7h3.62v2.32h-3.62zM510.2 87.7h3.82v2.32h-3.82zM530.1 87.7h2.92v2.32h-2.92zM558.6 87.7h3.42v2.32h-3.42zM501.7 89.4h3.32v2.62h-3.32zM584.3 89.4h3.72v2.62h-3.72zM604.2 89.4h3.82v2.62h-3.82zM487.4 91.1h3.62v1.92h-3.62zM590.0 91.1h3.02v1.92h-3.02zM501.7 92.9h3.32v2.12h-3.32zM510.2 92.9h3.82v2.12h-3.82zM487.4 94.6h3.62v2.42h-3.62zM601.4 94.6h3.62v2.42h-3.62zM644.1 94.6h2.92v2.42h-2.92zM379.1 96.4h2.92v2.62h-2.92zM481.7 96.4h3.32v2.62h-3.32zM649.8 96.4h3.22v2.62h-3.22z"/>
<path fill="#33638d" d="M635.6 49.3h3.42v2.72h-3.42zM607.1 56.3h2.82v2.72h-2.82zM575.7 58.0h3.32v2.02h-3.32zM629.9 58.0h3.12v2.02h-3.12zM524.4 59.8h3.62v2.22h-3.62zM524.4 61.5h3.62v2.52h-3.62zM533.0 61.5h3.02v2.52h-3.02zM538.7 65.0h3.32v2.02h-3.32zM624.2 65.0h3.82v2.02h-3.82zM382.0 66.7h3.02v2.32h-3.02zM498.8 66.7h3.22v2.32h-3.22zM578.6 66.7h3.42v2.32h-3.42zM632.7 68.5h3.32v2.52h-3.32zM624.2 72.0h3.82v2.02h-3.82zM510.2 82.4h3.82v2.62h-3.82zM524.4 98.1h3.62v1.92h-3.62zM433.3 101.6h3.72v2.42h-3.72z"/>
<path fill="#6ece58" d="M587.1 72.0h2.92v2.02h-2.92zM590.0 75.5h3.02v2.52h-3.02zM635.6 80.7h3.42v2.32h-3.42zM464.6 82.4h3.42v2.62h-3.42z"/>
<path fill="#20928c" d="M635.6 40.6h3.42v2.42h-3.42zM629.9 47.6h3.12v2.42h-3.12zM604.2 52.8h3.82v2.22h-3.82zM627.0 52.8h3.02v2.22h-3.02zM575.7 56.3h3.32v2.72h-3.32zM607.1 58.0h2.92v2.02h-2.92zM618.5 58.0h3.52v1.77h-3.52zM533.0 59.8h3.02v2.22h-3.02zM535.8 59.8h3.22v2.22h-3.22zM564.3 59.8h3.72v2.22h-3.72zM564.3 61.5h3.72v2.52h-3.72zM595.7 61.5h3.32v1.76h-3.32zM524.4 63.3h3.62v1.72h-3.62zM527.3 63.3h3.72v1.72h-3.72zM629.9 65.0h3.12v2.02h-3.12zM493.1 66.7h2.92v2.32h-2.92zM575.7 68.5h3.32v2.52h-3.32zM592.8 68.5h3.22v2.52h-3.22zM510.2 70.2h3.82v1.82h-3.82zM581.4 70.2h3.62v1.82h-3.62zM612.8 70.2h3.22v1.82h-3.22zM627.0 70.2h3.02v1.82h-3.02zM647.0 72.0h3.02v2.02h-3.02zM470.3 73.7h3.72v2.32h-3.72zM575.7 73.7h3.32v2.32h-3.32zM481.7 75.5h3.32v2.52h-3.32zM513.0 75.5h3.02v2.52h-3.02zM561.5 75.5h3.52v2.52h-3.52zM564.3 75.5h3.72v2.52h-3.72zM487.4 77.2h3.62v1.82h-3.62zM621.3 77.2h3.72v1.74h-3.72zM373.4 78.9h3.62v2.12h-3.62zM487.4 78.9h3.62v2.12h-3.62zM570.0 78.9h3.02v2.12h-3.02zM484.6 80.7h3.42v2.32h-3.42zM501.7 80.7h3.32v2.32h-3.32zM561.5 80.7h3.52v2.32h-3.52zM604.2 80.7h3.82v2.32h-3.82zM629.9 80.7h3.12v2.32h-3.12zM496.0 82.4h3.02v2.62h-3.02zM567.2 82.4h3.82v2.62h-3.82zM572.9 82.4h3.12v2.62h-3.12zM612.8 82.4h3.22v2.62h-3.22zM521.6 84.2h3.42v1.82h-3.42zM524.4 84.2h3.62v1.82h-3.62zM575.7 84.2h2.88v1.72h-2.88zM618.5 84.2h3.52v1.82h-3.52zM467.5 85.9h3.52v2.12h-3.52zM552.9 85.9h3.12v2.12h-3.12zM624.2 87.7h3.82v2.32h-3.82zM379.1 89.4h2.92v2.62h-2.92zM510.2 89.4h3.82v2.62h-3.82zM564.3 89.4h3.72v2.62h-3.72zM575.7 89.4h2.88v2.62h-2.88zM607.1 89.4h2.92v2.62h-2.92zM635.6 89.4h2.81v2.62h-2.81zM467.5 91.1h3.52v1.92h-3.52zM481.7 91.1h3.32v1.92h-3.32zM601.4 91.1h3.62v1.92h-3.62zM649.8 91.1h3.22v1.92h-3.22zM379.1 92.9h2.92v2.12h-2.92zM476.0 92.9h3.02v2.12h-3.02zM484.6 94.6h3.42v2.42h-3.42zM538.7 94.6h2.84v2.42h-2.84zM550.1 94.6h2.92v2.42h-2.92zM558.6 94.6h2.88v2.42h-2.88zM578.6 94.6h3.42v2.42h-3.42zM629.9 94.6h3.12v2.42h-3.12zM538.7 96.4h3.32v1.72h-3.32zM544.4 96.4h3.62v2.62h-3.62zM572.9 96.4h3.12v2.62h-3.12zM629.9 96.4h3.12v2.62h-3.12zM473.2 98.1h3.82v1.92h-3.82zM510.2 98.1h3.82v1.92h-3.82zM518.7 98.1h3.32v1.76h-3.32zM555.8 98.1h3.22v1.92h-3.22zM572.9 98.1h3.12v1.76h-3.12zM607.1 98.1h2.92v1.76h-2.92zM638.4 98.1h3.62v1.92h-3.62zM515.9 99.9h2.85v1.70h-2.85zM458.9 101.6h2.87v2.42h-2.87zM530.1 101.6h2.89v1.75h-2.89zM572.9 106.8h2.83v1.77h-2.83z"/>
<path fill="#5cc863" d="M510.2 63.3h3.82v1.72h-3.82zM513.0 77.2h3.02v1.82h-3.02zM587.1 92.9h2.92v2.12h-2.92zM376.3 98.1h3.72v1.76h-3.72z"/>
<path fill="#3dbc74" d="M649.8 89.4h3.22v2.62h-3.22zM464.6 91.1h3.42v1.92h-3.42zM570.0 94.6h3.02v2.42h-3.02zM376.3 96.4h3.72v2.62h-3.72zM515.9 98.1h3.12v1.92h-3.12z"/>
<path fill="#38598c" d="M621.3 59.8h3.72v2.22h-3.72zM444.7 65.0h3.32v2.02h-3.32zM473.2 65.0h3.82v2.02h-3.82zM544.4 65.0h3.62v1.74h-3.62zM407.6 68.5h3.42v2.52h-3.42zM456.1 73.7h2.92v2.32h-2.92zM430.4 75.5h3.62v2.52h-3.62zM399.1 78.9h2.92v2.12h-2.92zM439.0 82.4h3.02v2.62h-3.02zM413.3 84.2h3.72v1.82h-3.72zM439.0 85.9h3.02v2.12h-3.02zM439.0 92.9h3.02v2.12h-3.02zM450.4 92.9h3.62v2.12h-3.62zM407.6 94.6h3.42v2.42h-3.42zM401.9 96.4h3.12v2.62h-3.12zM416.2 96.4h3.82v2.62h-3.82zM444.7 96.4h3.32v2.62h-3.32zM413.3 98.1h3.72v1.76h-3.72zM607.1 101.6h2.92v2.42h-2.92z"/>
<path fill="#228c8d" d="M652.7 35.4h2.80v2.62h-2.80zM644.1 44.1h2.92v1.92h-2.92zM607.1 59.8h2.92v1.71h-2.92zM518.7 61.5h3.32v2.52h-3.32zM521.6 61.5h3.42v2.52h-3.42zM604.2 61.5h2.87v2.52h-2.87zM612.8 61.5h3.22v2.52h-3.22zM575.7 63.3h3.32v1.70h-3.32zM644.1 63.3h2.92v1.70h-2.92zM458.9 65.0h3.12v2.02h-3.12zM584.3 65.0h3.72v2.02h-3.72zM590.0 65.0h2.82v2.02h-2.82zM627.0 65.0h3.02v2.02h-3.02zM476.0 66.7h3.02v2.32h-3.02zM598.5 66.7h3.52v1.79h-3.52zM476.0 68.5h3.02v2.52h-3.02zM638.4 68.5h3.62v2.52h-3.62zM652.7 68.5h2.80v2.52h-2.80zM644.1 70.2h2.92v1.82h-2.92zM590.0 73.7h3.02v2.32h-3.02zM627.0 73.7h3.02v2.32h-3.02zM510.2 75.5h3.82v2.52h-3.82zM544.4 75.5h3.62v2.52h-3.62zM498.8 77.2h3.22v1.82h-3.22zM550.1 77.2h2.92v1.82h-2.92zM564.3 77.2h3.72v1.82h-3.72zM604.2 78.9h3.82v2.12h-3.82zM379.1 80.7h2.92v2.32h-2.92zM461.8 80.7h3.22v2.32h-3.22zM541.5 80.7h3.52v2.32h-3.52zM607.1 80.7h2.92v2.32h-2.92zM461.8 82.4h3.22v2.62h-3.22zM504.5 82.4h3.52v2.62h-3.52zM649.8 82.4h3.22v2.62h-3.22zM373.4 84.2h3.62v1.82h-3.62zM379.1 84.2h2.92v1.82h-2.92zM458.9 84.2h3.12v1.82h-3.12zM530.1 84.2h2.92v1.82h-2.92zM561.5 84.2h3.52v1.82h-3.52zM564.3 84.2h3.72v1.82h-3.72zM621.3 84.2h3.72v1.82h-3.72zM487.4 85.9h3.62v2.12h-3.62zM612.8 85.9h3.22v2.12h-3.22zM615.6 85.9h3.42v2.12h-3.42zM504.5 87.7h3.52v2.32h-3.52zM527.3 87.7h3.72v2.32h-3.72zM547.2 87.7h2.89v2.32h-2.89zM609.9 87.7h3.12v2.32h-3.12zM621.3 87.7h3.72v2.32h-3.72zM632.7 87.7h3.32v2.32h-3.32zM376.3 89.4h3.72v2.62h-3.72zM484.6 89.4h3.42v2.62h-3.42zM513.0 89.4h3.02v2.62h-3.02zM541.5 89.4h3.52v2.62h-3.52zM601.4 89.4h3.62v2.62h-3.62zM515.9 91.1h3.12v1.92h-3.12zM647.0 91.1h3.02v1.92h-3.02zM552.9 92.9h3.12v2.12h-3.12zM370.6 94.6h3.42v2.42h-3.42zM544.4 94.6h3.62v2.42h-3.62zM564.3 94.6h3.72v2.42h-3.72zM647.0 94.6h3.02v2.42h-3.02zM649.8 94.6h3.22v2.42h-3.22zM487.4 96.4h3.62v2.62h-3.62zM527.3 96.4h3.72v2.62h-3.72zM587.1 96.4h2.92v2.62h-2.92zM453.2 98.1h3.82v1.92h-3.82zM504.5 98.1h3.52v1.92h-3.52zM644.1 101.6h2.85v1.75h-2.85zM481.7 103.3h2.86v1.79h-2.86zM510.2 106.8h2.85v1.77h-2.85z"/>
<path fill="#443a83" d="M393.4 65.0h3.62v2.02h-3.62zM439.0 65.0h3.02v2.02h-3.02zM384.8 68.5h3.22v2.52h-3.22zM396.2 68.5h3.82v2.52h-3.82zM427.6 70.2h3.42v1.82h-3.42zM447.5 70.2h3.52v1.82h-3.52zM393.4 73.7h3.62v2.32h-3.62zM453.2 73.7h3.82v2.32h-3.82zM387.7 77.2h3.32v1.82h-3.32zM441.8 80.7h3.22v2.32h-3.22zM410.5 82.4h3.52v2.62h-3.52zM444.7 82.4h3.32v2.62h-3.32zM387.7 87.7h3.32v2.32h-3.32zM393.4 87.7h3.62v2.32h-3.62zM410.5 87.7h3.52v2.32h-3.52zM390.5 89.4h3.52v2.62h-3.52zM413.3 91.1h3.72v1.92h-3.72zM430.4 91.1h3.62v1.92h-3.62zM390.5 92.9h3.52v2.12h-3.52zM441.8 92.9h3.22v2.12h-3.22zM433.3 94.6h3.72v2.42h-3.72zM401.9 99.9h3.12v2.12h-3.12zM439.0 101.6h2.83v1.75h-2.83z"/>
<path fill="none" stroke="#fff" stroke-opacity="0.12" stroke-width="0.6" d="M373.45 19.7V113.8M376.30 19.7V113.8M379.15 19.7V113.8M382.00 19.7V113.8M384.85 19.7V113.8M387.69 19.7V113.8M390.54 19.7V113.8M393.39 19.7V113.8M396.24 19.7V113.8M399.09 19.7V113.8M401.94 19.7V113.8M404.79 19.7V113.8M407.64 19.7V113.8M410.49 19.7V113.8M413.34 19.7V113.8M416.18 19.7V113.8M419.03 19.7V113.8M421.88 19.7V113.8M424.73 19.7V113.8M427.58 19.7V113.8M430.43 19.7V113.8M433.28 19.7V113.8M436.13 19.7V113.8M438.98 19.7V113.8M441.83 19.7V113.8M444.67 19.7V113.8M447.52 19.7V113.8M450.37 19.7V113.8M453.22 19.7V113.8M456.07 19.7V113.8M458.92 19.7V113.8M461.77 19.7V113.8M464.62 19.7V113.8M467.47 19.7V113.8M470.31 19.7V113.8M473.16 19.7V113.8M476.01 19.7V113.8M478.86 19.7V113.8M481.71 19.7V113.8M484.56 19.7V113.8M487.41 19.7V113.8M490.26 19.7V113.8M493.11 19.7V113.8M495.96 19.7V113.8M498.81 19.7V113.8M501.65 19.7V113.8M504.50 19.7V113.8M507.35 19.7V113.8M510.20 19.7V113.8M513.05 19.7V113.8M515.90 19.7V113.8M518.75 19.7V113.8M521.60 19.7V113.8M524.45 19.7V113.8M527.30 19.7V113.8M530.14 19.7V113.8M532.99 19.7V113.8M535.84 19.7V113.8M538.69 19.7V113.8M541.54 19.7V113.8M544.39 19.7V113.8M547.24 19.7V113.8M550.09 19.7V113.8M552.94 19.7V113.8M555.78 19.7V113.8M558.63 19.7V113.8M561.48 19.7V113.8M564.33 19.7V113.8M567.18 19.7V113.8M570.03 19.7V113.8M572.88 19.7V113.8M575.73 19.7V113.8M578.58 19.7V113.8M581.43 19.7V113.8M584.27 19.7V113.8M587.12 19.7V113.8M589.97 19.7V113.8M592.82 19.7V113.8M595.67 19.7V113.8M598.52 19.7V113.8M601.37 19.7V113.8M604.22 19.7V113.8M607.07 19.7V113.8M609.92 19.7V113.8M612.76 19.7V113.8M615.61 19.7V113.8M618.46 19.7V113.8M621.31 19.7V113.8M624.16 19.7V113.8M627.01 19.7V113.8M629.86 19.7V113.8M632.71 19.7V113.8M635.56 19.7V113.8M638.41 19.7V113.8M641.25 19.7V113.8M644.10 19.7V113.8M646.95 19.7V113.8M649.80 19.7V113.8M652.65 19.7V113.8M370.6 21.42H655.5M370.6 23.17H655.5M370.6 24.91H655.5M370.6 26.65H655.5M370.6 28.40H655.5M370.6 30.14H655.5M370.6 31.88H655.5M370.6 33.63H655.5M370.6 35.37H655.5M370.6 37.11H655.5M370.6 38.85H655.5M370.6 40.60H655.5M370.6 42.34H655.5M370.6 44.08H655.5M370.6 45.83H655.5M370.6 47.57H655.5M370.6 49.31H655.5M370.6 51.06H655.5M370.6 52.80H655.5M370.6 54.54H655.5M370.6 56.28H655.5M370.6 58.03H655.5M370.6 59.77H655.5M370.6 61.51H655.5M370.6 63.26H655.5M370.6 65.00H655.5M370.6 66.74H655.5M370.6 68.49H655.5M370.6 70.23H655.5M370.6 71.97H655.5M370.6 73.72H655.5M370.6 75.46H655.5M370.6 77.20H655.5M370.6 78.94H655.5M370.6 80.69H655.5M370.6 82.43H655.5M370.6 84.17H655.5M370.6 85.92H655.5M370.6 87.66H655.5M370.6 89.40H655.5M370.6 91.15H655.5M370.6 92.89H655.5M370.6 94.63H655.5M370.6 96.37H655.5M370.6 98.12H655.5M370.6 99.86H655.5M370.6 101.60H655.5M370.6 103.35H655.5M370.6 105.09H655.5M370.6 106.83H655.5M370.6 108.57H655.5M370.6 110.32H655.5M370.6 112.06H655.5"/>
<path fill="#48186a" d="M163.9 208.6h3.12v2.42h-3.12zM172.4 208.6h3.62v2.42h-3.62zM178.1 208.6h2.92v1.70h-2.92zM118.3 210.3h3.72v2.72h-3.72zM21.4 231.2h3.62v1.82h-3.62z"/>
<path fill="#2b758e" d="M294.9 180.7h3.12v2.32h-3.12zM294.9 184.2h3.12v1.82h-3.12zM275.0 187.6h3.02v2.42h-3.02zM289.2 191.1h3.82v1.92h-3.82zM297.8 191.1h3.22v1.92h-3.22zM237.9 194.6h3.12v2.42h-3.12zM289.2 198.1h3.82v1.92h-3.82zM226.5 201.6h3.52v2.42h-3.52zM263.6 201.6h3.42v2.42h-3.42zM246.5 206.8h3.52v2.22h-3.52zM263.6 206.8h3.42v2.22h-3.42zM266.4 206.8h3.62v2.22h-3.62zM289.2 208.6h3.82v2.42h-3.82zM112.6 210.3h3.42v2.72h-3.42zM243.6 210.3h3.42v2.72h-3.42zM263.6 210.3h3.42v2.72h-3.42zM215.1 212.0h2.92v2.02h-2.92zM106.9 213.8h3.12v2.22h-3.12zM200.9 213.8h3.12v2.22h-3.12zM255.0 213.8h3.02v2.22h-3.02zM260.7 213.8h3.32v2.22h-3.32zM275.0 213.8h3.02v2.22h-3.02zM292.1 213.8h2.92v2.22h-2.92zM189.5 219.0h3.52v2.02h-3.52zM235.1 219.0h2.92v2.02h-2.92zM101.2 222.5h3.82v2.52h-3.82zM206.6 222.5h3.42v2.52h-3.42zM272.1 222.5h2.92v2.52h-2.92zM203.7 224.2h3.32v1.82h-3.32zM143.9 226.0h3.12v2.02h-3.12zM237.9 226.0h3.12v2.02h-3.12zM143.9 227.7h3.12v2.32h-3.12zM220.8 227.7h3.22v2.32h-3.22zM143.9 229.5h3.12v2.52h-3.12zM198.0 233.0h3.02v2.02h-3.02zM212.3 233.0h3.72v2.02h-3.72zM215.1 233.0h2.92v2.02h-2.92zM29.9 234.7h3.12v2.32h-3.12zM129.7 234.7h3.32v2.32h-3.32zM44.2 236.4h3.82v2.62h-3.82zM129.7 236.4h3.32v2.62h-3.32zM61.3 238.2h3.72v1.82h-3.72zM89.8 238.2h3.22v1.82h-3.22zM109.7 239.9h3.32v2.12h-3.32zM289.2 239.9h3.82v2.12h-3.82zM292.1 239.9h2.92v2.12h-2.92zM215.1 241.7h2.92v2.32h-2.92zM220.8 241.7h3.22v2.32h-3.22zM263.6 243.4h3.42v2.62h-3.42zM143.9 248.6h3.12v2.42h-3.12zM275.0 250.4h3.02v1.73h-3.02z"/>
<path fill="#29af7f" d="M269.3 192.9h3.72v2.12h-3.72zM303.5 199.8h2.80v2.22h-2.80zM235.1 206.8h2.92v2.22h-2.92zM41.3 222.5h3.72v2.52h-3.72zM263.6 222.5h3.42v2.52h-3.42zM235.1 224.2h2.92v1.82h-2.92zM257.9 226.0h3.12v2.02h-3.12zM275.0 226.0h3.02v2.02h-3.02zM286.4 226.0h3.62v2.02h-3.62zM229.4 234.7h3.62v2.32h-3.62zM212.3 236.4h3.72v2.62h-3.72zM303.5 236.4h2.80v2.62h-2.80zM232.2 239.9h3.82v2.12h-3.82zM263.6 241.7h3.42v2.32h-3.42zM81.2 246.9h3.82v2.12h-3.82zM249.3 246.9h3.72v2.12h-3.72zM275.0 246.9h3.02v2.12h-3.02zM138.2 248.6h3.82v2.42h-3.82zM255.0 253.9h2.87v1.72h-2.87z"/>
<path fill="#3e4989" d="M200.9 208.6h3.12v2.42h-3.12zM146.8 210.3h2.81v2.72h-2.81zM29.9 212.0h3.12v2.02h-3.12zM44.2 212.0h3.82v2.02h-3.82zM189.5 212.0h3.52v2.02h-3.52zM29.9 213.8h3.12v2.22h-3.12zM64.1 213.8h2.92v2.22h-2.92zM72.7 213.8h3.32v2.22h-3.32zM75.5 213.8h3.52v2.22h-3.52zM81.2 213.8h3.82v2.22h-3.82zM58.4 215.5h3.62v2.52h-3.62zM81.2 215.5h3.82v2.52h-3.82zM84.1 215.5h2.92v2.52h-2.92zM32.8 217.3h3.22v2.72h-3.22zM38.5 217.3h3.52v2.72h-3.52zM47.0 217.3h3.02v2.72h-3.02zM81.2 217.3h3.82v2.72h-3.82zM98.3 217.3h3.72v2.72h-3.72zM49.9 219.0h3.12v2.02h-3.12zM52.7 219.0h3.32v2.02h-3.32zM55.6 219.0h3.42v2.02h-3.42zM69.8 219.0h3.22v2.02h-3.22zM146.8 219.0h2.81v2.02h-2.81zM44.2 220.8h3.82v2.22h-3.82zM84.1 220.8h2.92v2.22h-2.92zM58.4 224.2h3.62v1.82h-3.62zM69.8 224.2h3.22v1.82h-3.22zM135.4 229.5h3.62v2.52h-3.62zM86.9 233.0h3.12v2.02h-3.12zM92.6 233.0h3.42v2.02h-3.42zM64.1 234.7h2.92v2.32h-2.92zM86.9 234.7h3.12v2.32h-3.12zM206.6 236.4h3.42v2.62h-3.42zM21.4 238.2h3.62v1.82h-3.62zM78.4 238.2h3.62v1.82h-3.62zM146.8 238.2h2.81v1.82h-2.81zM138.2 239.9h3.82v2.12h-3.82zM44.2 241.7h3.82v2.32h-3.82zM124.0 245.2h3.02v1.82h-3.02zM138.2 246.9h3.82v2.12h-3.82zM141.1 248.6h2.92v2.42h-2.92zM84.1 250.4h2.92v2.62h-2.92zM86.9 250.4h2.88v1.73h-2.88zM135.4 252.1h3.62v1.92h-3.62zM189.5 252.1h2.84v1.78h-2.84z"/>
<path fill="#355e8d" d="M289.2 189.4h3.82v2.62h-3.82zM294.9 194.6h3.12v2.42h-3.12zM294.9 199.8h3.12v2.22h-3.12zM189.5 210.3h3.52v2.72h-3.52zM24.2 213.8h3.82v2.22h-3.82zM52.7 215.5h3.32v2.52h-3.32zM72.7 215.5h3.32v2.52h-3.32zM98.3 215.5h3.72v2.52h-3.72zM67.0 217.3h3.02v2.72h-3.02zM92.6 217.3h3.42v2.72h-3.42zM109.7 217.3h3.32v2.72h-3.32zM135.4 217.3h3.62v2.72h-3.62zM209.4 217.3h3.62v2.72h-3.62zM58.4 219.0h3.62v2.02h-3.62zM89.8 219.0h3.22v2.02h-3.22zM135.4 219.0h3.62v2.02h-3.62zM143.9 219.0h3.12v2.02h-3.12zM95.5 220.8h3.52v2.22h-3.52zM141.1 220.8h2.92v2.22h-2.92zM220.8 220.8h3.22v2.22h-3.22zM49.9 222.5h3.12v2.52h-3.12zM67.0 222.5h3.02v2.52h-3.02zM55.6 224.2h3.42v1.82h-3.42zM98.3 224.2h3.72v1.82h-3.72zM67.0 226.0h3.02v2.02h-3.02zM81.2 226.0h3.82v2.02h-3.82zM61.3 227.7h3.72v2.32h-3.72zM135.4 227.7h3.62v2.32h-3.62zM141.1 227.7h2.92v2.32h-2.92zM47.0 229.5h3.02v2.52h-3.02zM209.4 229.5h3.62v2.52h-3.62zM178.1 231.2h2.84v1.76h-2.84zM209.4 231.2h3.62v1.82h-3.62zM47.0 233.0h3.02v2.02h-3.02zM84.1 233.0h2.92v2.02h-2.92zM146.8 233.0h2.81v2.02h-2.81zM92.6 234.7h3.42v2.32h-3.42zM220.8 234.7h3.22v2.32h-3.22zM38.5 236.4h3.52v2.62h-3.52zM84.1 236.4h2.92v2.62h-2.92zM35.6 238.2h3.42v1.82h-3.42zM47.0 238.2h3.02v1.82h-3.02zM52.7 238.2h3.32v1.82h-3.32zM55.6 238.2h3.42v1.82h-3.42zM67.0 238.2h3.02v1.82h-3.02zM186.6 238.2h3.42v1.82h-3.42zM58.4 239.9h3.62v2.12h-3.62zM81.2 239.9h3.82v2.12h-3.82zM132.5 239.9h3.52v2.12h-3.52zM146.8 241.7h2.81v2.32h-2.81zM29.9 243.4h3.12v2.62h-3.12zM75.5 245.2h3.52v1.82h-3.52zM67.0 246.9h2.83v1.75h-2.83zM195.2 246.9h3.82v1.75h-3.82zM138.2 250.4h3.82v2.62h-3.82z"/>
<path fill="#31668e" d="M294.9 177.2h3.12v1.82h-3.12zM294.9 182.4h3.12v2.62h-3.12zM260.7 191.1h3.32v1.92h-3.32zM266.4 201.6h3.62v2.42h-3.62zM115.4 212.0h3.62v2.02h-3.62zM220.8 212.0h3.22v2.02h-3.22zM132.5 213.8h3.52v2.22h-3.52zM198.0 213.8h3.02v2.22h-3.02zM189.5 215.5h3.52v2.52h-3.52zM198.0 215.5h3.02v2.52h-3.02zM24.2 222.5h3.82v2.52h-3.82zM61.3 222.5h3.72v2.52h-3.72zM203.7 222.5h3.32v2.52h-3.32zM294.9 222.5h3.12v2.52h-3.12zM72.7 224.2h3.32v1.82h-3.32zM75.5 224.2h3.52v1.82h-3.52zM89.8 224.2h3.22v1.82h-3.22zM200.9 226.0h3.12v2.02h-3.12zM232.2 226.0h3.82v2.02h-3.82zM38.5 227.7h3.52v2.32h-3.52zM81.2 227.7h3.82v2.32h-3.82zM52.7 229.5h3.32v2.52h-3.32zM95.5 229.5h3.52v2.52h-3.52zM195.2 231.2h3.82v1.82h-3.82zM27.1 233.0h2.92v2.02h-2.92zM132.5 233.0h3.52v2.02h-3.52zM186.6 233.0h3.42v2.02h-3.42zM35.6 234.7h3.42v2.32h-3.42zM58.4 234.7h3.62v2.32h-3.62zM75.5 236.4h3.52v2.62h-3.52zM200.9 236.4h3.12v2.62h-3.12zM44.2 239.9h3.82v2.12h-3.82zM209.4 239.9h3.62v2.12h-3.62zM212.3 239.9h3.72v2.12h-3.72zM41.3 243.4h3.72v2.62h-3.72zM47.0 243.4h3.02v2.62h-3.02zM52.7 243.4h3.32v2.62h-3.32zM61.3 243.4h3.72v2.62h-3.72zM92.6 243.4h3.42v2.62h-3.42zM206.6 243.4h3.42v2.62h-3.42zM27.1 245.2h2.92v1.82h-2.92zM29.9 245.2h3.12v1.71h-3.12zM44.2 245.2h3.82v1.82h-3.82zM58.4 245.2h3.62v1.82h-3.62zM209.4 245.2h3.62v1.82h-3.62zM35.6 246.9h3.42v2.12h-3.42zM223.7 246.9h3.32v2.12h-3.32zM32.8 248.6h3.22v1.79h-3.22zM52.7 248.6h3.32v2.42h-3.32zM89.8 248.6h2.83v1.79h-2.83zM95.5 250.4h2.82v1.73h-2.82z"/>
<path fill="#2f6b8e" d="M275.0 185.9h3.02v2.12h-3.02zM266.4 192.9h3.62v2.12h-3.62zM257.9 196.4h3.12v2.62h-3.12zM252.2 198.1h3.82v1.92h-3.82zM232.2 201.6h3.82v2.42h-3.82zM266.4 205.1h3.62v1.92h-3.62zM209.4 206.8h3.62v2.22h-3.62zM186.6 208.6h3.42v2.42h-3.42zM212.3 208.6h3.72v2.42h-3.72zM121.1 210.3h2.92v2.72h-2.92zM223.7 210.3h3.32v2.72h-3.32zM289.2 210.3h3.82v2.72h-3.82zM292.1 210.3h2.92v2.72h-2.92zM101.2 212.0h3.82v2.02h-3.82zM121.1 213.8h2.92v2.22h-2.92zM209.4 213.8h3.62v2.22h-3.62zM101.2 217.3h3.82v2.72h-3.82zM61.3 219.0h3.72v2.02h-3.72zM98.3 219.0h3.72v2.02h-3.72zM280.7 219.0h3.32v2.02h-3.32zM215.1 220.8h2.92v2.22h-2.92zM246.5 220.8h3.52v2.22h-3.52zM41.3 224.2h3.72v1.82h-3.72zM101.2 224.2h3.82v1.82h-3.82zM198.0 224.2h3.02v1.82h-3.02zM69.8 226.0h3.22v2.02h-3.22zM24.2 227.7h3.82v2.32h-3.82zM58.4 227.7h3.62v2.32h-3.62zM101.2 227.7h3.82v2.32h-3.82zM27.1 229.5h2.92v2.52h-2.92zM223.7 229.5h3.32v2.52h-3.32zM47.0 231.2h3.02v1.82h-3.02zM206.6 233.0h3.42v2.02h-3.42zM297.8 233.0h3.22v2.02h-3.22zM143.9 234.7h3.12v2.32h-3.12zM212.3 234.7h3.72v2.32h-3.72zM49.9 236.4h3.12v2.62h-3.12zM92.6 236.4h3.42v2.62h-3.42zM81.2 238.2h3.82v1.82h-3.82zM101.2 238.2h3.82v1.82h-3.82zM41.3 239.9h3.72v2.12h-3.72zM141.1 239.9h2.92v2.12h-2.92zM220.8 239.9h3.22v2.12h-3.22zM95.5 241.7h3.52v2.32h-3.52zM101.2 241.7h3.82v2.32h-3.82zM32.8 243.4h3.22v2.62h-3.22zM75.5 243.4h3.52v2.62h-3.52zM98.3 243.4h3.72v2.62h-3.72zM101.2 243.4h3.82v2.62h-3.82zM198.0 243.4h3.02v2.62h-3.02zM67.0 245.2h3.02v1.82h-3.02zM141.1 245.2h2.92v1.82h-2.92zM212.3 245.2h3.72v1.82h-3.72zM38.5 248.6h2.84v2.42h-2.84zM189.5 248.6h3.52v2.42h-3.52zM260.7 252.1h2.87v1.78h-2.87zM272.1 253.9h2.86v1.72h-2.86zM289.2 253.9h2.86v1.72h-2.86z"/>
<path fill="#2e6e8e" d="M272.1 185.9h2.92v2.12h-2.92zM277.8 187.6h3.22v2.42h-3.22zM263.6 189.4h3.42v2.62h-3.42zM255.0 191.1h3.02v1.92h-3.02zM243.6 192.9h3.42v2.12h-3.42zM257.9 192.9h3.12v2.12h-3.12zM292.1 194.6h2.92v2.42h-2.92zM280.7 196.4h3.32v2.62h-3.32zM240.8 199.8h3.22v2.22h-3.22zM246.5 199.8h3.52v2.22h-3.52zM289.2 201.6h3.82v2.42h-3.82zM292.1 203.3h2.92v2.72h-2.92zM220.8 206.8h3.22v2.22h-3.22zM277.8 208.6h3.22v2.42h-3.22zM220.8 210.3h3.22v2.72h-3.22zM132.5 212.0h3.52v2.02h-3.52zM246.5 212.0h3.52v2.02h-3.52zM266.4 212.0h3.62v2.02h-3.62zM58.4 213.8h3.62v2.22h-3.62zM101.2 213.8h3.82v2.22h-3.82zM129.7 213.8h3.32v2.22h-3.32zM206.6 213.8h3.42v2.22h-3.42zM109.7 215.5h3.32v2.52h-3.32zM126.8 215.5h3.22v2.52h-3.22zM132.5 215.5h3.52v2.52h-3.52zM186.6 215.5h3.42v2.52h-3.42zM209.4 215.5h3.62v2.52h-3.62zM266.4 215.5h3.62v2.52h-3.62zM24.2 217.3h3.82v2.72h-3.82zM141.1 217.3h2.92v2.72h-2.92zM218.0 217.3h3.02v2.72h-3.02zM223.7 217.3h3.32v2.72h-3.32zM195.2 219.0h3.82v2.02h-3.82zM215.1 219.0h2.92v2.02h-2.92zM275.0 219.0h3.02v2.02h-3.02zM143.9 220.8h3.12v2.22h-3.12zM198.0 220.8h3.02v2.22h-3.02zM52.7 222.5h3.32v2.52h-3.32zM232.2 222.5h3.82v2.52h-3.82zM212.3 224.2h3.72v1.82h-3.72zM277.8 224.2h3.22v1.82h-3.22zM24.2 226.0h3.82v2.02h-3.82zM47.0 226.0h3.02v2.02h-3.02zM52.7 226.0h3.32v2.02h-3.32zM129.7 226.0h3.32v2.02h-3.32zM218.0 226.0h3.02v2.02h-3.02zM132.5 229.5h3.52v2.52h-3.52zM189.5 229.5h3.52v2.52h-3.52zM198.0 229.5h3.02v2.52h-3.02zM101.2 231.2h3.82v1.82h-3.82zM226.5 231.2h3.52v1.82h-3.52zM41.3 233.0h3.72v2.02h-3.72zM143.9 233.0h3.12v2.02h-3.12zM192.3 233.0h3.72v2.02h-3.72zM81.2 234.7h3.82v2.32h-3.82zM146.8 234.7h2.81v2.32h-2.81zM41.3 236.4h3.72v2.62h-3.72zM98.3 236.4h3.72v2.62h-3.72zM132.5 236.4h3.52v2.62h-3.52zM189.5 236.4h3.52v2.62h-3.52zM192.3 236.4h3.72v2.62h-3.72zM75.5 238.2h3.52v1.82h-3.52zM98.3 238.2h3.72v1.82h-3.72zM72.7 239.9h3.32v2.12h-3.32zM84.1 239.9h2.92v2.12h-2.92zM32.8 241.7h3.22v2.32h-3.22zM72.7 241.7h3.32v2.32h-3.32zM81.2 241.7h3.82v2.32h-3.82zM124.0 241.7h3.02v2.32h-3.02zM297.8 241.7h3.22v2.32h-3.22zM124.0 243.4h3.02v2.62h-3.02zM95.5 245.2h3.52v1.82h-3.52zM129.7 245.2h3.32v1.82h-3.32zM129.7 246.9h3.32v2.12h-3.32zM146.8 248.6h2.81v2.42h-2.81zM246.5 248.6h3.52v2.42h-3.52zM266.4 248.6h3.62v1.79h-3.62zM101.2 252.1h2.82v1.78h-2.82zM286.4 252.1h3.62v1.78h-3.62zM240.8 257.4h2.82v1.71h-2.82z"/>
<path fill="#3b528b" d="M255.0 187.6h3.02v2.42h-3.02zM89.8 210.3h3.22v2.72h-3.22zM124.0 210.3h3.02v2.72h-3.02zM92.6 212.0h3.42v2.02h-3.42zM143.9 212.0h3.12v2.02h-3.12zM47.0 213.8h3.02v2.22h-3.02zM124.0 213.8h3.02v2.22h-3.02zM143.9 213.8h3.12v2.22h-3.12zM38.5 215.5h3.52v2.52h-3.52zM24.2 220.8h3.82v2.22h-3.82zM129.7 220.8h3.32v2.22h-3.32zM47.0 222.5h3.02v2.52h-3.02zM58.4 222.5h3.62v2.52h-3.62zM78.4 222.5h3.62v2.52h-3.62zM192.3 222.5h3.72v2.52h-3.72zM49.9 224.2h3.12v1.82h-3.12zM92.6 224.2h3.42v1.82h-3.42zM86.9 226.0h3.12v2.02h-3.12zM89.8 226.0h3.22v2.02h-3.22zM135.4 226.0h3.62v2.02h-3.62zM260.7 227.7h3.32v2.32h-3.32zM49.9 229.5h3.12v2.52h-3.12zM69.8 231.2h3.22v1.82h-3.22zM75.5 231.2h3.52v1.82h-3.52zM95.5 231.2h3.52v1.82h-3.52zM38.5 233.0h3.52v2.02h-3.52zM89.8 234.7h3.22v2.32h-3.22zM206.6 234.7h3.42v2.32h-3.42zM209.4 234.7h3.62v2.32h-3.62zM24.2 236.4h3.82v2.62h-3.82zM32.8 236.4h3.22v2.62h-3.22zM69.8 236.4h3.22v2.62h-3.22zM69.8 239.9h3.22v2.12h-3.22zM86.9 239.9h3.12v2.12h-3.12zM27.1 241.7h2.92v2.32h-2.92zM38.5 241.7h3.52v2.32h-3.52zM38.5 243.4h3.52v2.62h-3.52zM64.1 243.4h2.92v2.62h-2.92zM69.8 243.4h3.22v2.62h-3.22zM126.8 245.2h3.22v1.82h-3.22zM35.6 248.6h3.42v1.79h-3.42zM58.4 250.4h2.89v1.73h-2.89zM141.1 250.4h2.92v1.73h-2.92zM303.5 250.4h2.80v1.73h-2.80z"/>
<path fill="#7ad151" d="M235.1 205.1h2.92v1.92h-2.92zM292.1 206.8h2.92v2.22h-2.92zM260.7 212.0h3.32v2.02h-3.32zM294.9 246.9h3.12v2.12h-3.12z"/>
<path fill="#1fa188" d="M303.5 187.6h2.80v2.42h-2.80zM303.5 191.1h2.80v1.92h-2.80zM252.2 194.6h3.82v2.42h-3.82zM300.6 194.6h3.42v2.42h-3.42zM303.5 194.6h2.80v2.42h-2.80zM257.9 199.8h3.12v2.22h-3.12zM283.5 201.6h3.52v2.42h-3.52zM269.3 203.3h3.72v2.72h-3.72zM237.9 208.6h3.12v2.42h-3.12zM249.3 210.3h3.72v2.72h-3.72zM280.7 210.3h3.32v2.72h-3.32zM289.2 213.8h3.82v2.22h-3.82zM294.9 213.8h3.12v2.22h-3.12zM275.0 215.5h3.02v2.52h-3.02zM283.5 215.5h3.52v2.52h-3.52zM292.1 215.5h2.92v2.52h-2.92zM257.9 220.8h3.12v2.22h-3.12zM266.4 220.8h3.62v2.22h-3.62zM294.9 220.8h3.12v2.22h-3.12zM229.4 222.5h3.62v2.52h-3.62zM260.7 222.5h3.32v2.52h-3.32zM297.8 222.5h3.22v2.52h-3.22zM297.8 224.2h3.22v1.82h-3.22zM75.5 226.0h3.52v2.02h-3.52zM218.0 227.7h3.02v2.32h-3.02zM289.2 227.7h3.82v2.32h-3.82zM263.6 229.5h3.42v2.52h-3.42zM232.2 233.0h3.82v2.02h-3.82zM243.6 233.0h3.42v2.02h-3.42zM280.7 233.0h3.32v2.02h-3.32zM186.6 234.7h3.42v2.32h-3.42zM237.9 234.7h3.12v2.32h-3.12zM232.2 236.4h3.82v2.62h-3.82zM237.9 236.4h3.12v2.62h-3.12zM246.5 238.2h3.52v1.82h-3.52zM243.6 239.9h3.42v2.12h-3.42zM255.0 245.2h3.02v1.82h-3.02zM266.4 246.9h3.62v2.12h-3.62zM104.0 248.6h3.02v1.79h-3.02zM240.8 248.6h3.22v2.42h-3.22zM138.2 252.1h2.86v1.78h-2.86z"/>
<path fill="#482374" d="M169.5 208.6h3.52v2.42h-3.52zM158.2 213.8h3.82v2.22h-3.82zM35.6 215.5h3.42v2.52h-3.42zM158.2 217.3h2.80v2.72h-2.80zM169.5 219.0h2.90v1.76h-2.90zM178.1 219.0h2.84v1.76h-2.84zM84.1 252.1h2.83v1.78h-2.83z"/>
<path fill="#24878e" d="M297.8 177.2h3.22v1.82h-3.22zM300.6 177.2h3.42v1.82h-3.42zM286.4 185.9h3.62v2.12h-3.62zM292.1 185.9h2.92v2.12h-2.92zM294.9 185.9h3.12v2.12h-3.12zM240.8 194.6h3.22v2.42h-3.22zM246.5 194.6h3.52v2.42h-3.52zM257.9 198.1h3.12v1.92h-3.12zM269.3 198.1h3.72v1.92h-3.72zM303.5 198.1h2.80v1.92h-2.80zM260.7 199.8h3.32v2.22h-3.32zM280.7 199.8h3.32v2.22h-3.32zM283.5 199.8h3.52v2.22h-3.52zM260.7 201.6h3.32v2.42h-3.32zM275.0 201.6h3.02v2.42h-3.02zM280.7 203.3h3.32v2.72h-3.32zM240.8 205.1h3.22v1.92h-3.22zM269.3 205.1h3.72v1.92h-3.72zM294.9 205.1h3.12v1.92h-3.12zM243.6 206.8h3.42v2.22h-3.42zM280.7 206.8h3.32v2.22h-3.32zM249.3 208.6h3.72v2.42h-3.72zM215.1 210.3h2.92v2.72h-2.92zM294.9 210.3h3.12v2.72h-3.12zM212.3 212.0h3.72v2.02h-3.72zM249.3 212.0h3.72v2.02h-3.72zM252.2 212.0h3.82v2.02h-3.82zM143.9 215.5h3.12v2.52h-3.12zM243.6 215.5h3.42v2.52h-3.42zM104.0 219.0h3.02v2.02h-3.02zM229.4 220.8h3.62v2.22h-3.62zM232.2 220.8h3.82v2.22h-3.82zM112.6 222.5h3.42v2.52h-3.42zM257.9 222.5h3.12v2.52h-3.12zM266.4 222.5h3.62v2.52h-3.62zM289.2 222.5h3.82v2.52h-3.82zM232.2 224.2h3.82v1.82h-3.82zM294.9 226.0h3.12v2.02h-3.12zM212.3 227.7h3.72v2.32h-3.72zM243.6 227.7h3.42v2.32h-3.42zM200.9 229.5h3.12v2.52h-3.12zM266.4 229.5h3.62v2.52h-3.62zM272.1 229.5h2.92v2.52h-2.92zM203.7 231.2h3.32v1.82h-3.32zM280.7 231.2h3.32v1.82h-3.32zM106.9 233.0h3.12v2.02h-3.12zM237.9 233.0h3.12v2.02h-3.12zM101.2 234.7h3.82v2.32h-3.82zM243.6 234.7h3.42v2.32h-3.42zM195.2 236.4h3.82v2.62h-3.82zM246.5 236.4h3.52v2.62h-3.52zM106.9 238.2h3.12v1.82h-3.12zM129.7 238.2h3.32v1.82h-3.32zM215.1 238.2h2.92v1.82h-2.92zM186.6 241.7h3.42v2.32h-3.42zM121.1 245.2h2.92v1.82h-2.92zM246.5 245.2h3.52v1.82h-3.52zM115.4 246.9h3.62v2.12h-3.62zM203.7 246.9h3.32v2.12h-3.32zM215.1 246.9h2.88v1.75h-2.88zM229.4 246.9h3.62v2.12h-3.62zM246.5 246.9h3.52v2.12h-3.52zM292.1 246.9h2.92v2.12h-2.92zM232.2 248.6h2.88v2.42h-2.88zM143.9 250.4h3.12v1.73h-3.12zM280.7 252.1h3.32v1.92h-3.32z"/>
<path fill="#433d84" d="M35.6 212.0h3.42v2.02h-3.42zM81.2 212.0h3.82v2.02h-3.82zM84.1 212.0h2.92v2.02h-2.92zM84.1 213.8h2.92v2.22h-2.92zM135.4 213.8h3.62v2.22h-3.62zM29.9 215.5h3.12v2.52h-3.12zM67.0 215.5h3.02v2.52h-3.02zM69.8 215.5h3.22v2.52h-3.22zM89.8 215.5h3.22v2.52h-3.22zM38.5 219.0h3.52v2.02h-3.52zM86.9 220.8h3.12v2.22h-3.12zM118.3 222.5h2.82v2.52h-2.82zM138.2 226.0h3.82v2.02h-3.82zM69.8 233.0h3.22v2.02h-3.22zM21.4 234.7h3.62v2.32h-3.62zM118.3 234.7h3.72v2.32h-3.72zM118.3 236.4h2.82v2.62h-2.82zM64.1 241.7h2.92v2.32h-2.92zM126.8 246.9h3.22v2.12h-3.22zM32.8 252.1h2.84v1.78h-2.84z"/>
<path fill="#472d7b" d="M161.0 210.3h3.02v2.72h-3.02zM163.9 210.3h3.12v2.72h-3.12zM135.4 212.0h3.62v2.02h-3.62zM161.0 212.0h3.02v2.02h-3.02zM161.0 213.8h3.02v2.22h-3.02zM169.5 213.8h2.90v2.22h-2.90zM178.1 213.8h2.84v2.22h-2.84zM200.9 215.5h3.12v2.52h-3.12zM86.9 217.3h3.12v2.72h-3.12zM118.3 217.3h2.82v2.72h-2.82zM172.4 217.3h3.62v1.72h-3.62zM163.9 219.0h3.12v1.76h-3.12zM166.7 219.0h3.32v1.76h-3.32zM64.1 224.2h2.92v1.82h-2.92zM206.6 224.2h3.42v1.82h-3.42zM21.4 233.0h3.62v2.02h-3.62zM118.3 243.4h2.82v2.62h-2.82zM49.9 248.6h3.12v1.79h-3.12z"/>
<path fill="#25ab82" d="M272.1 194.6h2.92v2.42h-2.92zM252.2 196.4h3.82v2.62h-3.82zM283.5 206.8h3.52v2.22h-3.52zM269.3 212.0h3.72v2.02h-3.72zM303.5 213.8h2.80v2.22h-2.80zM280.7 215.5h3.32v2.52h-3.32zM32.8 219.0h3.22v2.02h-3.22zM303.5 222.5h2.80v2.52h-2.80zM249.3 224.2h3.72v1.82h-3.72zM269.3 224.2h3.72v1.82h-3.72zM21.4 226.0h3.62v2.02h-3.62zM229.4 226.0h3.62v2.02h-3.62zM252.2 227.7h3.82v2.32h-3.82zM126.8 229.5h3.22v2.52h-3.22zM300.6 229.5h3.42v2.52h-3.42zM269.3 231.2h3.72v1.82h-3.72zM303.5 231.2h2.80v1.82h-2.80zM95.5 233.0h3.52v2.02h-3.52zM272.1 238.2h2.92v1.82h-2.92zM243.6 241.7h3.42v2.32h-3.42zM252.2 245.2h3.82v1.82h-3.82zM286.4 245.2h3.62v1.82h-3.62zM303.5 246.9h2.80v1.75h-2.80zM121.1 248.6h2.92v2.42h-2.92zM124.0 248.6h3.02v2.42h-3.02z"/>
<path fill="#56c667" d="M237.9 201.6h3.12v2.42h-3.12zM303.5 212.0h2.80v2.02h-2.80zM286.4 231.2h3.62v1.82h-3.62zM283.5 245.2h3.52v1.82h-3.52z"/>
<path fill="#46c06f" d="M226.5 217.3h3.52v2.72h-3.52zM289.2 219.0h3.82v2.02h-3.82zM269.3 234.7h3.72v2.32h-3.72zM280.7 238.2h3.32v1.82h-3.32zM200.9 246.9h3.12v2.12h-3.12zM112.6 252.1h3.42v1.78h-3.42z"/>
<path fill="#453781" d="M95.5 210.3h3.52v2.72h-3.52zM138.2 210.3h3.82v2.72h-3.82zM44.2 215.5h3.82v2.52h-3.82zM29.9 217.3h3.12v2.72h-3.12zM64.1 217.3h2.92v2.72h-2.92zM146.8 224.2h2.81v1.82h-2.81zM55.6 227.7h3.42v2.32h-3.42zM35.6 229.5h3.42v2.52h-3.42zM118.3 231.2h3.72v1.82h-3.72zM21.4 245.2h3.62v1.82h-3.62zM55.6 246.9h3.42v2.12h-3.42z"/>
<path fill="#482979" d="M172.4 210.3h3.62v2.72h-3.62zM175.2 210.3h2.90v1.75h-2.90zM21.4 212.0h3.62v2.02h-3.62zM78.4 212.0h3.62v2.02h-3.62zM169.5 212.0h3.52v2.02h-3.52zM178.1 215.5h2.84v2.52h-2.84zM178.1 217.3h2.84v2.72h-2.84zM158.2 219.0h3.82v1.76h-3.82zM161.0 219.0h3.02v1.76h-3.02zM84.1 222.5h2.92v2.52h-2.92zM189.5 227.7h3.52v2.32h-3.52zM124.0 236.4h3.02v2.62h-3.02zM21.4 243.4h3.62v2.62h-3.62z"/>
<path fill="#1f9e89" d="M303.5 173.7h2.80v2.32h-2.80zM257.9 191.1h3.12v1.92h-3.12zM300.6 191.1h3.42v1.92h-3.42zM275.0 196.4h3.02v2.62h-3.02zM266.4 198.1h3.62v1.92h-3.62zM235.1 201.6h2.92v2.42h-2.92zM297.8 201.6h3.22v2.42h-3.22zM243.6 203.3h3.42v2.72h-3.42zM226.5 208.6h3.52v2.42h-3.52zM257.9 208.6h3.12v2.42h-3.12zM203.7 213.8h3.32v2.22h-3.32zM112.6 215.5h3.42v2.52h-3.42zM232.2 217.3h3.82v2.72h-3.82zM275.0 217.3h3.02v2.72h-3.02zM300.6 217.3h3.42v2.72h-3.42zM286.4 219.0h3.62v2.02h-3.62zM104.0 220.8h3.02v2.22h-3.02zM303.5 220.8h2.80v2.22h-2.80zM104.0 224.2h3.02v1.82h-3.02zM275.0 224.2h3.02v1.82h-3.02zM292.1 224.2h2.92v1.82h-2.92zM300.6 224.2h3.42v1.82h-3.42zM235.1 226.0h2.92v2.02h-2.92zM32.8 227.7h3.22v2.32h-3.22zM84.1 229.5h2.92v2.52h-2.92zM112.6 229.5h3.42v2.52h-3.42zM186.6 229.5h3.42v2.52h-3.42zM246.5 229.5h3.52v2.52h-3.52zM269.3 229.5h3.72v2.52h-3.72zM240.8 234.7h3.22v2.32h-3.22zM223.7 236.4h3.32v2.62h-3.32zM235.1 238.2h2.92v1.82h-2.92zM106.9 239.9h3.12v2.12h-3.12zM283.5 239.9h3.52v2.12h-3.52zM104.0 241.7h3.02v2.32h-3.02zM289.2 241.7h3.82v2.32h-3.82zM266.4 243.4h3.62v2.62h-3.62zM294.9 243.4h3.12v2.62h-3.12zM72.7 245.2h3.32v1.82h-3.32zM255.0 246.9h3.02v2.12h-3.02zM249.3 248.6h3.72v2.42h-3.72zM286.4 248.6h3.62v2.42h-3.62zM109.7 252.1h3.32v1.78h-3.32z"/>
<path fill="#26ad81" d="M303.5 175.4h2.80v2.62h-2.80zM266.4 191.1h3.62v1.92h-3.62zM303.5 201.6h2.80v2.42h-2.80zM235.1 203.3h2.92v2.72h-2.92zM303.5 205.1h2.80v1.92h-2.80zM237.9 206.8h3.12v2.22h-3.12zM286.4 206.8h3.62v2.22h-3.62zM303.5 210.3h2.80v2.72h-2.80zM275.0 212.0h3.02v2.02h-3.02zM249.3 215.5h3.72v2.52h-3.72zM283.5 220.8h3.52v2.22h-3.52zM186.6 222.5h3.42v2.52h-3.42zM206.6 229.5h3.42v2.52h-3.42zM135.4 233.0h3.62v2.02h-3.62zM192.3 234.7h3.72v2.32h-3.72zM249.3 236.4h3.72v2.62h-3.72zM252.2 238.2h3.82v1.82h-3.82zM266.4 239.9h3.62v2.12h-3.62zM269.3 239.9h3.72v2.12h-3.72zM226.5 241.7h3.52v2.32h-3.52zM303.5 241.7h2.80v2.32h-2.80zM226.5 246.9h3.52v2.12h-3.52zM269.3 248.6h3.72v2.42h-3.72zM286.4 250.4h3.62v2.62h-3.62z"/>
<path fill="#34618d" d="M294.9 192.9h3.12v2.12h-3.12zM240.8 198.1h3.22v1.92h-3.22zM292.1 199.8h2.92v2.22h-2.92zM257.9 201.6h3.12v2.42h-3.12zM277.8 201.6h3.22v2.42h-3.22zM218.0 210.3h3.02v2.72h-3.02zM24.2 212.0h3.82v2.02h-3.82zM58.4 212.0h3.62v2.02h-3.62zM89.8 212.0h3.22v2.02h-3.22zM146.8 212.0h2.81v2.02h-2.81zM41.3 213.8h3.72v2.22h-3.72zM52.7 213.8h3.32v2.22h-3.32zM86.9 213.8h3.12v2.22h-3.12zM192.3 213.8h3.72v2.22h-3.72zM212.3 213.8h3.72v2.22h-3.72zM215.1 213.8h2.92v2.22h-2.92zM21.4 215.5h3.62v2.52h-3.62zM89.8 217.3h3.22v2.72h-3.22zM220.8 217.3h3.22v2.72h-3.22zM41.3 219.0h3.72v2.02h-3.72zM200.9 219.0h3.12v2.02h-3.12zM72.7 220.8h3.32v2.22h-3.32zM218.0 220.8h3.02v2.22h-3.02zM35.6 222.5h3.42v2.52h-3.42zM75.5 222.5h3.52v2.52h-3.52zM143.9 222.5h3.12v2.52h-3.12zM195.2 222.5h3.82v2.52h-3.82zM81.2 224.2h3.82v1.82h-3.82zM32.8 226.0h3.22v2.02h-3.22zM195.2 226.0h3.82v2.02h-3.82zM220.8 226.0h3.22v2.02h-3.22zM35.6 227.7h3.42v2.32h-3.42zM195.2 227.7h3.82v2.32h-3.82zM24.2 229.5h3.82v2.52h-3.82zM55.6 229.5h3.42v2.52h-3.42zM124.0 229.5h3.02v2.52h-3.02zM32.8 231.2h3.22v1.82h-3.22zM212.3 231.2h3.72v1.82h-3.72zM29.9 233.0h3.12v2.02h-3.12zM67.0 233.0h3.02v2.02h-3.02zM189.5 233.0h3.52v2.02h-3.52zM195.2 233.0h3.82v2.02h-3.82zM78.4 234.7h3.62v2.32h-3.62zM29.9 236.4h3.12v2.62h-3.12zM47.0 236.4h3.02v2.62h-3.02zM95.5 236.4h3.52v2.62h-3.52zM186.6 236.4h3.42v2.62h-3.42zM24.2 238.2h3.82v1.82h-3.82zM38.5 238.2h3.52v1.82h-3.52zM72.7 238.2h3.32v1.82h-3.32zM126.8 238.2h3.22v1.82h-3.22zM141.1 238.2h2.92v1.82h-2.92zM29.9 239.9h3.12v2.12h-3.12zM75.5 239.9h3.52v2.12h-3.52zM240.8 239.9h3.22v2.12h-3.22zM277.8 239.9h3.22v2.12h-3.22zM189.5 241.7h3.52v2.32h-3.52zM35.6 245.2h3.42v1.82h-3.42zM69.8 245.2h3.22v1.71h-3.22zM84.1 245.2h2.92v1.82h-2.92zM138.2 245.2h3.82v1.82h-3.82zM195.2 245.2h3.82v1.82h-3.82zM47.0 246.9h3.02v1.75h-3.02zM89.8 246.9h3.22v2.12h-3.22zM75.5 248.6h3.52v1.79h-3.52zM220.8 248.6h3.22v2.42h-3.22zM55.6 250.4h3.42v1.73h-3.42zM132.5 250.4h3.52v2.62h-3.52zM38.5 252.1h2.84v1.78h-2.84zM226.5 252.1h3.52v1.78h-3.52zM135.4 253.9h2.81v1.72h-2.81zM138.2 255.6h2.86v2.42h-2.86z"/>
<path fill="#a2da37" d="M292.1 219.0h2.92v2.02h-2.92zM303.5 219.0h2.80v2.02h-2.80zM255.0 229.5h3.02v2.52h-3.02zM269.3 236.4h3.72v2.62h-3.72z"/>
<path fill="#1f948c" d="M283.5 182.4h3.52v2.62h-3.52zM286.4 187.6h3.62v2.42h-3.62zM275.0 189.4h3.02v2.62h-3.02zM263.6 192.9h3.42v2.12h-3.42zM283.5 192.9h3.52v2.12h-3.52zM286.4 194.6h3.62v2.42h-3.62zM235.1 196.4h2.92v2.62h-2.92zM237.9 198.1h3.12v1.92h-3.12zM243.6 198.1h3.42v1.92h-3.42zM249.3 201.6h3.72v2.42h-3.72zM252.2 203.3h3.82v2.72h-3.82zM266.4 203.3h3.62v2.72h-3.62zM272.1 203.3h2.92v2.72h-2.92zM286.4 203.3h3.62v2.72h-3.62zM229.4 205.1h3.62v1.92h-3.62zM286.4 205.1h3.62v1.92h-3.62zM292.1 208.6h2.92v2.42h-2.92zM229.4 210.3h3.62v2.72h-3.62zM112.6 212.0h3.42v2.02h-3.42zM218.0 215.5h3.02v2.52h-3.02zM277.8 219.0h3.22v2.02h-3.22zM235.1 222.5h2.92v2.52h-2.92zM269.3 222.5h3.72v2.52h-3.72zM277.8 222.5h3.22v2.52h-3.22zM286.4 222.5h3.62v2.52h-3.62zM237.9 224.2h3.12v1.82h-3.12zM294.9 224.2h3.12v1.82h-3.12zM272.1 226.0h2.92v2.02h-2.92zM115.4 227.7h3.62v2.32h-3.62zM232.2 227.7h3.82v2.32h-3.82zM235.1 227.7h2.92v2.32h-2.92zM263.6 227.7h3.42v2.32h-3.42zM195.2 229.5h3.82v2.52h-3.82zM243.6 229.5h3.42v2.52h-3.42zM255.0 231.2h3.02v1.82h-3.02zM220.8 233.0h3.22v2.02h-3.22zM84.1 234.7h2.92v2.32h-2.92zM121.1 234.7h2.92v1.75h-2.92zM115.4 236.4h3.62v2.62h-3.62zM275.0 236.4h3.02v2.62h-3.02zM289.2 236.4h3.82v2.62h-3.82zM243.6 238.2h3.42v1.82h-3.42zM266.4 238.2h3.62v1.82h-3.62zM269.3 238.2h3.72v1.82h-3.72zM104.0 239.9h3.02v2.12h-3.02zM146.8 239.9h2.81v2.12h-2.81zM226.5 239.9h3.52v2.12h-3.52zM252.2 239.9h3.82v2.12h-3.82zM260.7 239.9h3.32v2.12h-3.32zM143.9 243.4h3.12v2.62h-3.12zM246.5 243.4h3.52v2.62h-3.52zM112.6 245.2h3.42v1.82h-3.42zM192.3 245.2h3.72v1.82h-3.72zM226.5 245.2h3.52v1.82h-3.52zM237.9 245.2h3.12v1.82h-3.12zM269.3 246.9h3.72v2.12h-3.72zM289.2 250.4h3.82v2.62h-3.82zM292.1 250.4h2.92v2.62h-2.92zM129.7 252.1h3.32v1.78h-3.32zM289.2 252.1h3.82v1.92h-3.82z"/>
<path fill="#89d548" d="M294.9 189.4h3.12v2.62h-3.12zM300.6 233.0h3.42v2.02h-3.42zM280.7 243.4h3.32v2.62h-3.32z"/>
<path fill="#38b977" d="M300.6 185.9h3.42v2.12h-3.42zM235.1 208.6h2.92v2.42h-2.92zM106.9 210.3h3.12v2.72h-3.12zM246.5 213.8h3.52v2.22h-3.52zM192.3 215.5h3.72v2.52h-3.72zM289.2 217.3h3.82v2.72h-3.82zM52.7 231.2h3.32v1.82h-3.32zM89.8 231.2h3.22v1.82h-3.22zM141.1 231.2h2.92v1.82h-2.92zM303.5 233.0h2.80v2.02h-2.80zM189.5 238.2h3.52v1.82h-3.52zM198.0 241.7h3.02v2.32h-3.02z"/>
<path fill="#218f8d" d="M286.4 184.2h3.62v1.82h-3.62zM292.1 189.4h2.92v2.62h-2.92zM263.6 191.1h3.42v1.92h-3.42zM289.2 192.9h3.82v2.12h-3.82zM297.8 196.4h3.22v2.62h-3.22zM237.9 199.8h3.12v2.22h-3.12zM277.8 199.8h3.22v2.22h-3.22zM223.7 203.3h3.32v2.72h-3.32zM226.5 203.3h3.52v2.72h-3.52zM249.3 203.3h3.72v2.72h-3.72zM237.9 205.1h3.12v1.92h-3.12zM252.2 206.8h3.82v2.22h-3.82zM297.8 206.8h3.22v2.22h-3.22zM263.6 208.6h3.42v2.42h-3.42zM235.1 212.0h2.92v2.02h-2.92zM115.4 213.8h3.62v2.22h-3.62zM235.1 213.8h2.92v2.22h-2.92zM243.6 213.8h3.42v2.22h-3.42zM263.6 213.8h3.42v2.22h-3.42zM195.2 215.5h3.82v2.52h-3.82zM257.9 215.5h3.12v2.52h-3.12zM263.6 215.5h3.42v2.52h-3.42zM269.3 215.5h3.72v2.52h-3.72zM121.1 219.0h2.92v2.02h-2.92zM229.4 219.0h3.62v2.02h-3.62zM255.0 219.0h3.02v2.02h-3.02zM106.9 220.8h3.12v2.22h-3.12zM186.6 220.8h3.42v2.22h-3.42zM252.2 220.8h3.82v2.22h-3.82zM275.0 220.8h3.02v2.22h-3.02zM240.8 222.5h3.22v2.52h-3.22zM115.4 224.2h3.62v1.82h-3.62zM243.6 224.2h3.42v1.82h-3.42zM272.1 224.2h2.92v1.82h-2.92zM112.6 226.0h3.42v2.02h-3.42zM115.4 226.0h3.62v2.02h-3.62zM104.0 227.7h3.02v2.32h-3.02zM121.1 227.7h2.92v2.32h-2.92zM115.4 231.2h3.62v1.82h-3.62zM237.9 231.2h3.12v1.82h-3.12zM243.6 231.2h3.42v1.82h-3.42zM257.9 231.2h3.12v1.82h-3.12zM104.0 233.0h3.02v2.02h-3.02zM109.7 233.0h3.32v2.02h-3.32zM249.3 233.0h3.72v2.02h-3.72zM257.9 233.0h3.12v2.02h-3.12zM269.3 233.0h3.72v2.02h-3.72zM255.0 234.7h3.02v2.32h-3.02zM297.8 234.7h3.22v2.32h-3.22zM300.6 234.7h3.42v2.32h-3.42zM263.6 236.4h3.42v2.62h-3.42zM121.1 238.2h2.92v1.82h-2.92zM195.2 238.2h3.82v1.82h-3.82zM203.7 238.2h3.32v1.82h-3.32zM212.3 238.2h3.72v1.82h-3.72zM277.8 238.2h3.22v1.82h-3.22zM289.2 238.2h3.82v1.82h-3.82zM292.1 238.2h2.92v1.82h-2.92zM198.0 239.9h3.02v2.12h-3.02zM257.9 241.7h3.12v2.32h-3.12zM260.7 241.7h3.32v2.32h-3.32zM300.6 241.7h3.42v2.32h-3.42zM192.3 243.4h3.72v2.62h-3.72zM203.7 243.4h3.32v2.62h-3.32zM109.7 245.2h3.32v1.82h-3.32z"/>
<path fill="#27808e" d="M286.4 180.7h3.62v2.32h-3.62zM292.1 180.7h2.92v2.32h-2.92zM289.2 182.4h3.82v2.62h-3.82zM297.8 184.2h3.22v1.82h-3.22zM303.5 185.9h2.80v2.12h-2.80zM297.8 189.4h3.22v2.62h-3.22zM294.9 191.1h3.12v1.92h-3.12zM249.3 192.9h3.72v2.12h-3.72zM269.3 196.4h3.72v2.62h-3.72zM272.1 196.4h2.92v2.62h-2.92zM277.8 196.4h3.22v2.62h-3.22zM232.2 198.1h3.82v1.92h-3.82zM266.4 199.8h3.62v2.22h-3.62zM289.2 203.3h3.82v2.72h-3.82zM297.8 203.3h3.22v2.72h-3.22zM272.1 206.8h2.92v2.22h-2.92zM275.0 208.6h3.02v2.42h-3.02zM226.5 210.3h3.52v2.72h-3.52zM104.0 212.0h3.02v2.02h-3.02zM229.4 212.0h3.62v2.02h-3.62zM286.4 212.0h3.62v2.02h-3.62zM249.3 213.8h3.72v2.22h-3.72zM272.1 215.5h2.92v2.52h-2.92zM104.0 217.3h3.02v2.72h-3.02zM280.7 217.3h3.32v2.72h-3.32zM129.7 219.0h3.32v2.02h-3.32zM277.8 220.8h3.22v2.22h-3.22zM260.7 224.2h3.32v1.82h-3.32zM106.9 226.0h3.12v2.02h-3.12zM189.5 226.0h3.52v2.02h-3.52zM300.6 226.0h3.42v2.02h-3.42zM246.5 227.7h3.52v2.32h-3.52zM220.8 229.5h3.22v2.52h-3.22zM277.8 229.5h3.22v2.52h-3.22zM72.7 231.2h3.32v1.82h-3.32zM189.5 231.2h3.52v1.82h-3.52zM292.1 231.2h2.92v1.82h-2.92zM52.7 233.0h3.32v2.02h-3.32zM229.4 233.0h3.62v2.02h-3.62zM263.6 233.0h3.42v2.02h-3.42zM272.1 233.0h2.92v2.02h-2.92zM275.0 234.7h3.02v2.32h-3.02zM257.9 236.4h3.12v2.62h-3.12zM272.1 236.4h2.92v2.62h-2.92zM44.2 238.2h3.82v1.82h-3.82zM112.6 238.2h3.42v1.82h-3.42zM206.6 238.2h3.42v1.82h-3.42zM286.4 238.2h3.62v1.82h-3.62zM249.3 239.9h3.72v2.12h-3.72zM229.4 241.7h3.62v2.32h-3.62zM280.7 241.7h3.32v2.32h-3.32zM189.5 243.4h3.52v2.62h-3.52zM195.2 243.4h3.82v2.62h-3.82zM49.9 245.2h3.12v1.82h-3.12zM52.7 245.2h3.32v1.82h-3.32zM104.0 245.2h3.02v1.82h-3.02zM260.7 246.9h3.32v1.75h-3.32zM226.5 248.6h3.52v1.79h-3.52zM263.6 248.6h3.42v1.79h-3.42zM255.0 250.4h2.87v1.73h-2.87zM277.8 250.4h3.22v1.73h-3.22z"/>
<path fill="#481467" d="M21.4 213.8h3.62v2.22h-3.62z"/>
<path fill="#481b6d" d="M152.5 208.6h3.52v1.70h-3.52zM155.3 208.6h3.72v1.70h-3.72zM166.7 208.6h3.32v2.42h-3.32zM180.9 208.6h2.89v1.70h-2.89zM163.9 212.0h3.12v2.02h-3.12zM175.2 213.8h3.82v1.73h-3.82zM169.5 215.5h3.52v2.52h-3.52zM175.2 219.0h3.82v1.76h-3.82z"/>
<path fill="#21a585" d="M280.7 184.2h3.32v1.82h-3.32zM286.4 189.4h3.62v2.62h-3.62zM303.5 196.4h2.80v2.62h-2.80zM229.4 203.3h3.62v2.72h-3.62zM300.6 203.3h3.42v2.72h-3.42zM243.6 205.1h3.42v1.92h-3.42zM240.8 208.6h3.22v2.42h-3.22zM237.9 210.3h3.12v2.72h-3.12zM237.9 212.0h3.12v2.02h-3.12zM237.9 215.5h3.12v2.52h-3.12zM286.4 215.5h3.62v2.52h-3.62zM101.2 220.8h3.82v2.22h-3.82zM280.7 220.8h3.32v2.22h-3.32zM218.0 222.5h3.02v2.52h-3.02zM275.0 222.5h3.02v2.52h-3.02zM246.5 224.2h3.52v1.82h-3.52zM263.6 224.2h3.42v1.82h-3.42zM283.5 226.0h3.52v2.02h-3.52zM203.7 227.7h3.32v2.32h-3.32zM283.5 231.2h3.52v1.82h-3.52zM246.5 233.0h3.52v2.02h-3.52zM106.9 234.7h3.12v2.32h-3.12zM257.9 234.7h3.12v2.32h-3.12zM106.9 236.4h3.12v2.62h-3.12zM78.4 239.9h3.62v2.12h-3.62zM294.9 239.9h3.12v2.12h-3.12zM249.3 241.7h3.72v2.32h-3.72zM283.5 241.7h3.52v2.32h-3.52zM95.5 243.4h3.52v2.62h-3.52zM86.9 245.2h3.12v1.82h-3.12zM263.6 245.2h3.42v1.82h-3.42zM300.6 246.9h3.42v2.12h-3.42zM257.9 248.6h2.82v1.79h-2.82zM121.1 252.1h2.92v1.78h-2.92zM283.5 252.1h3.52v1.92h-3.52z"/>
<path fill="#9dd93b" d="M280.7 227.7h3.32v2.32h-3.32zM223.7 233.0h3.32v2.02h-3.32zM289.2 234.7h3.82v2.32h-3.82zM292.1 236.4h2.92v2.62h-2.92z"/>
<path fill="#40bd72" d="M272.1 184.2h2.92v1.82h-2.92zM240.8 219.0h3.22v2.02h-3.22zM226.5 227.7h3.52v2.32h-3.52zM283.5 229.5h3.52v2.52h-3.52zM115.4 234.7h3.62v2.32h-3.62zM243.6 236.4h3.42v2.62h-3.42zM237.9 238.2h3.12v1.82h-3.12zM294.9 238.2h3.12v1.82h-3.12zM303.5 238.2h2.80v1.82h-2.80zM257.9 239.9h3.12v2.12h-3.12zM195.2 241.7h3.82v2.32h-3.82zM300.6 245.2h3.42v1.82h-3.42zM237.9 246.9h3.12v2.12h-3.12z"/>
<path fill="#39558c" d="M27.1 213.8h2.92v2.22h-2.92zM35.6 213.8h3.42v2.22h-3.42zM92.6 213.8h3.42v2.22h-3.42zM49.9 215.5h3.12v2.52h-3.12zM55.6 215.5h3.42v2.52h-3.42zM58.4 217.3h3.62v2.72h-3.62zM72.7 217.3h3.32v2.72h-3.32zM75.5 217.3h3.52v2.72h-3.52zM146.8 217.3h2.81v2.72h-2.81zM47.0 219.0h3.02v2.02h-3.02zM92.6 219.0h3.42v2.02h-3.42zM95.5 219.0h3.52v2.02h-3.52zM126.8 219.0h3.22v2.02h-3.22zM141.1 219.0h2.92v2.02h-2.92zM41.3 220.8h3.72v2.22h-3.72zM58.4 220.8h3.62v2.22h-3.62zM29.9 222.5h3.12v2.52h-3.12zM135.4 222.5h3.62v2.52h-3.62zM146.8 222.5h2.81v2.52h-2.81zM38.5 224.2h3.52v1.82h-3.52zM124.0 224.2h3.02v1.82h-3.02zM138.2 224.2h3.82v1.82h-3.82zM141.1 224.2h2.92v1.82h-2.92zM58.4 226.0h3.62v2.02h-3.62zM72.7 226.0h3.32v2.02h-3.32zM118.3 226.0h3.72v2.02h-3.72zM132.5 226.0h3.52v2.02h-3.52zM192.3 226.0h3.72v2.02h-3.72zM212.3 226.0h3.72v2.02h-3.72zM129.7 227.7h3.32v2.32h-3.32zM138.2 227.7h3.82v2.32h-3.82zM44.2 229.5h3.82v2.52h-3.82zM129.7 229.5h3.32v2.52h-3.32zM35.6 231.2h3.42v1.82h-3.42zM38.5 231.2h3.52v1.82h-3.52zM58.4 231.2h3.62v1.82h-3.62zM135.4 231.2h3.62v1.82h-3.62zM32.8 233.0h3.22v2.02h-3.22zM58.4 233.0h3.62v2.02h-3.62zM126.8 233.0h3.22v2.02h-3.22zM27.1 234.7h2.92v2.32h-2.92zM61.3 234.7h3.72v2.32h-3.72zM138.2 234.7h3.82v2.32h-3.82zM27.1 236.4h2.92v2.62h-2.92zM64.1 236.4h2.92v2.62h-2.92zM78.4 236.4h3.62v2.62h-3.62zM200.9 238.2h3.12v1.82h-3.12zM92.6 239.9h3.42v2.12h-3.42zM124.0 239.9h3.02v2.12h-3.02zM52.7 241.7h3.32v2.32h-3.32zM69.8 241.7h3.22v2.32h-3.22zM92.6 241.7h3.42v2.32h-3.42zM58.4 243.4h3.62v2.62h-3.62zM78.4 243.4h3.62v2.62h-3.62zM89.8 243.4h3.22v2.62h-3.22zM126.8 243.4h3.22v2.62h-3.22zM135.4 243.4h3.62v2.62h-3.62zM55.6 245.2h3.42v1.82h-3.42zM64.1 245.2h2.92v1.82h-2.92zM89.8 245.2h3.22v1.82h-3.22zM92.6 245.2h3.42v1.82h-3.42zM21.4 246.9h2.85v2.12h-2.85zM27.1 248.6h2.92v1.79h-2.92zM118.3 250.4h3.72v2.62h-3.72zM126.8 250.4h3.22v2.62h-3.22zM200.9 253.9h2.84v1.72h-2.84zM257.9 255.6h2.82v1.76h-2.82zM67.0 259.1h2.83v1.75h-2.83z"/>
<path fill="#75d054" d="M260.7 219.0h3.32v2.02h-3.32zM112.6 231.2h3.42v1.82h-3.42zM104.0 238.2h3.02v1.82h-3.02zM106.9 241.7h3.12v2.32h-3.12z"/>
<path fill="#1e9c89" d="M283.5 185.9h3.52v2.12h-3.52zM303.5 192.9h2.80v2.12h-2.80zM243.6 196.4h3.42v2.62h-3.42zM286.4 196.4h3.62v2.62h-3.62zM300.6 198.1h3.42v1.92h-3.42zM255.0 203.3h3.02v2.72h-3.02zM260.7 205.1h3.32v1.92h-3.32zM283.5 205.1h3.52v1.92h-3.52zM289.2 205.1h3.82v1.92h-3.82zM283.5 208.6h3.52v2.42h-3.52zM235.1 210.3h2.92v2.72h-2.92zM275.0 210.3h3.02v2.72h-3.02zM240.8 212.0h3.22v2.02h-3.22zM263.6 212.0h3.42v2.02h-3.42zM237.9 213.8h3.12v2.22h-3.12zM252.2 213.8h3.82v2.22h-3.82zM266.4 213.8h3.62v2.22h-3.62zM283.5 213.8h3.52v2.22h-3.52zM126.8 217.3h3.22v2.72h-3.22zM229.4 217.3h3.62v2.72h-3.62zM269.3 217.3h3.72v2.72h-3.72zM303.5 217.3h2.80v2.72h-2.80zM218.0 219.0h3.02v2.02h-3.02zM269.3 219.0h3.72v2.02h-3.72zM292.1 220.8h2.92v2.22h-2.92zM300.6 220.8h3.42v2.22h-3.42zM289.2 224.2h3.82v1.82h-3.82zM303.5 224.2h2.80v1.82h-2.80zM206.6 227.7h3.42v2.32h-3.42zM294.9 227.7h3.12v2.32h-3.12zM232.2 231.2h3.82v1.82h-3.82zM300.6 231.2h3.42v1.82h-3.42zM200.9 233.0h3.12v2.02h-3.12zM203.7 233.0h3.32v2.02h-3.32zM135.4 234.7h3.62v2.32h-3.62zM280.7 234.7h3.32v2.32h-3.32zM218.0 238.2h3.02v1.82h-3.02zM229.4 238.2h3.62v1.82h-3.62zM297.8 239.9h3.22v2.12h-3.22zM240.8 245.2h3.22v1.82h-3.22zM269.3 245.2h3.72v1.82h-3.72zM294.9 245.2h3.12v1.82h-3.12zM106.9 246.9h3.12v2.12h-3.12zM192.3 248.6h2.89v1.79h-2.89zM200.9 248.6h3.12v1.79h-3.12zM229.4 248.6h3.62v2.42h-3.62zM280.7 250.4h3.32v2.62h-3.32z"/>
<path fill="#238a8d" d="M300.6 184.2h3.42v1.82h-3.42zM272.1 187.6h2.92v2.42h-2.92zM269.3 189.4h3.72v2.62h-3.72zM272.1 191.1h2.92v1.92h-2.92zM300.6 192.9h3.42v2.12h-3.42zM237.9 196.4h3.12v2.62h-3.12zM246.5 196.4h3.52v2.62h-3.52zM260.7 198.1h3.32v1.92h-3.32zM300.6 201.6h3.42v2.42h-3.42zM277.8 203.3h3.22v2.72h-3.22zM226.5 205.1h3.52v1.92h-3.52zM232.2 205.1h3.82v1.92h-3.82zM255.0 205.1h3.02v1.92h-3.02zM272.1 205.1h2.92v1.92h-2.92zM297.8 205.1h3.22v1.92h-3.22zM240.8 206.8h3.22v2.22h-3.22zM275.0 206.8h3.02v2.22h-3.02zM255.0 208.6h3.02v2.42h-3.02zM260.7 208.6h3.32v2.42h-3.32zM280.7 208.6h3.32v2.42h-3.32zM286.4 208.6h3.62v2.42h-3.62zM252.2 210.3h3.82v2.72h-3.82zM109.7 212.0h3.32v2.02h-3.32zM297.8 212.0h3.22v2.02h-3.22zM186.6 213.8h3.42v2.22h-3.42zM229.4 213.8h3.62v2.22h-3.62zM277.8 213.8h3.22v2.22h-3.22zM300.6 213.8h3.42v2.22h-3.42zM121.1 215.5h2.92v1.77h-2.92zM215.1 215.5h2.92v2.52h-2.92zM226.5 215.5h3.52v2.52h-3.52zM297.8 215.5h3.22v2.52h-3.22zM61.3 217.3h3.72v2.72h-3.72zM112.6 217.3h3.42v2.72h-3.42zM263.6 217.3h3.42v2.72h-3.42zM35.6 219.0h3.42v2.02h-3.42zM112.6 219.0h3.42v2.02h-3.42zM223.7 219.0h3.32v2.02h-3.32zM223.7 220.8h3.32v2.22h-3.32zM115.4 222.5h3.62v2.52h-3.62zM223.7 222.5h3.32v2.52h-3.32zM255.0 222.5h3.02v2.52h-3.02zM283.5 222.5h3.52v2.52h-3.52zM300.6 222.5h3.42v2.52h-3.42zM243.6 226.0h3.42v2.02h-3.42zM249.3 226.0h3.72v2.02h-3.72zM277.8 226.0h3.22v2.02h-3.22zM257.9 227.7h3.12v2.32h-3.12zM252.2 229.5h3.82v2.52h-3.82zM260.7 229.5h3.32v2.52h-3.32zM109.7 231.2h3.32v1.82h-3.32zM229.4 231.2h3.62v1.82h-3.62zM252.2 231.2h3.82v1.82h-3.82zM263.6 231.2h3.42v1.82h-3.42zM275.0 233.0h3.02v2.02h-3.02zM215.1 234.7h2.92v2.32h-2.92zM300.6 238.2h3.42v1.82h-3.42zM112.6 239.9h3.42v2.12h-3.42zM206.6 239.9h3.42v2.12h-3.42zM223.7 239.9h3.32v2.12h-3.32zM84.1 241.7h2.92v2.32h-2.92zM121.1 241.7h2.92v1.72h-2.92zM135.4 241.7h3.62v2.32h-3.62zM218.0 241.7h3.02v2.32h-3.02zM252.2 241.7h3.82v2.32h-3.82zM35.6 243.4h3.42v2.62h-3.42zM109.7 243.4h3.32v2.62h-3.32zM269.3 243.4h3.72v2.62h-3.72zM286.4 243.4h3.62v2.62h-3.62zM118.3 245.2h3.72v1.82h-3.72zM292.1 245.2h2.92v1.82h-2.92zM58.4 246.9h3.62v2.12h-3.62zM112.6 246.9h3.42v2.12h-3.42zM300.6 248.6h2.85v1.79h-2.85zM266.4 252.1h3.62v1.78h-3.62zM289.2 257.4h2.86v1.71h-2.86z"/>
<path fill="#31b57b" d="M235.1 215.5h2.92v2.52h-2.92zM283.5 224.2h3.52v1.82h-3.52zM303.5 229.5h2.80v2.52h-2.80zM49.9 231.2h3.12v1.82h-3.12zM252.2 233.0h3.82v2.02h-3.82zM112.6 236.4h3.42v2.62h-3.42zM260.7 236.4h3.32v2.62h-3.32zM215.1 243.4h2.92v2.62h-2.92zM229.4 243.4h3.62v2.62h-3.62zM237.9 243.4h3.12v2.62h-3.12zM275.0 243.4h3.02v2.62h-3.02zM300.6 243.4h3.42v2.62h-3.42zM235.1 245.2h2.92v1.82h-2.92zM189.5 246.9h3.52v2.12h-3.52zM235.1 246.9h2.92v1.75h-2.92zM297.8 248.6h3.22v2.42h-3.22z"/>
<path fill="#414487" d="M260.7 192.9h3.32v2.12h-3.32zM84.1 210.3h2.92v2.72h-2.92zM135.4 210.3h3.62v2.72h-3.62zM141.1 212.0h2.92v2.02h-2.92zM32.8 213.8h3.22v2.22h-3.22zM67.0 213.8h3.02v2.22h-3.02zM47.0 215.5h3.02v2.52h-3.02zM78.4 215.5h3.62v2.52h-3.62zM86.9 215.5h3.12v2.52h-3.12zM118.3 215.5h3.72v2.52h-3.72zM49.9 217.3h3.12v2.72h-3.12zM55.6 217.3h3.42v2.72h-3.42zM29.9 219.0h3.12v2.02h-3.12zM78.4 219.0h3.62v2.02h-3.62zM86.9 219.0h3.12v2.02h-3.12zM38.5 220.8h3.52v2.22h-3.52zM64.1 220.8h2.92v2.22h-2.92zM67.0 220.8h3.02v2.22h-3.02zM69.8 220.8h3.22v2.22h-3.22zM78.4 220.8h3.62v2.22h-3.62zM32.8 222.5h3.22v2.52h-3.22zM55.6 222.5h3.42v2.52h-3.42zM86.9 222.5h3.12v2.52h-3.12zM64.1 227.7h2.92v2.32h-2.92zM84.1 227.7h2.92v2.32h-2.92zM21.4 236.4h3.62v2.62h-3.62zM55.6 236.4h3.42v2.62h-3.42zM146.8 236.4h2.81v2.62h-2.81zM69.8 238.2h3.22v1.82h-3.22zM138.2 243.4h3.82v2.62h-3.82zM209.4 246.9h3.62v1.75h-3.62z"/>
<path fill="#2db27d" d="M292.1 187.6h2.92v2.42h-2.92zM286.4 201.6h3.62v2.42h-3.62zM232.2 215.5h3.82v2.52h-3.82zM297.8 220.8h3.22v2.22h-3.22zM286.4 224.2h3.62v1.82h-3.62zM240.8 229.5h3.22v2.52h-3.22zM226.5 233.0h3.52v2.02h-3.52zM209.4 238.2h3.62v1.82h-3.62zM263.6 238.2h3.42v1.82h-3.42zM286.4 239.9h3.62v2.12h-3.62zM283.5 243.4h3.52v2.62h-3.52zM146.8 245.2h2.81v1.82h-2.81zM303.5 245.2h2.80v1.82h-2.80zM229.4 250.4h3.62v2.62h-3.62z"/>
<path fill="#375b8d" d="M289.2 185.9h3.82v2.12h-3.82zM246.5 205.1h3.52v1.92h-3.52zM232.2 206.8h3.82v2.22h-3.82zM189.5 208.6h3.52v2.42h-3.52zM86.9 210.3h3.12v2.72h-3.12zM98.3 210.3h3.72v2.72h-3.72zM195.2 210.3h3.82v2.72h-3.82zM38.5 212.0h3.52v2.02h-3.52zM209.4 212.0h3.62v2.02h-3.62zM146.8 213.8h2.81v2.22h-2.81zM41.3 215.5h3.72v2.52h-3.72zM135.4 215.5h3.62v2.52h-3.62zM44.2 217.3h3.82v2.72h-3.82zM132.5 217.3h3.52v2.72h-3.52zM186.6 217.3h3.42v2.72h-3.42zM81.2 219.0h3.82v2.02h-3.82zM124.0 220.8h3.02v2.22h-3.02zM72.7 222.5h3.32v2.52h-3.32zM81.2 222.5h3.82v2.52h-3.82zM89.8 222.5h3.22v2.52h-3.22zM138.2 222.5h3.82v2.52h-3.82zM209.4 224.2h3.62v1.82h-3.62zM44.2 226.0h3.82v2.02h-3.82zM98.3 226.0h3.72v2.02h-3.72zM44.2 227.7h3.82v2.32h-3.82zM49.9 227.7h3.12v2.32h-3.12zM75.5 227.7h3.52v2.32h-3.52zM126.8 227.7h3.22v2.32h-3.22zM69.8 229.5h3.22v2.52h-3.22zM192.3 229.5h3.72v2.52h-3.72zM55.6 231.2h3.42v1.82h-3.42zM81.2 231.2h3.82v1.82h-3.82zM84.1 231.2h2.92v1.82h-2.92zM89.8 233.0h3.22v2.02h-3.22zM266.4 233.0h3.62v2.02h-3.62zM47.0 234.7h3.02v2.32h-3.02zM67.0 234.7h3.02v2.32h-3.02zM95.5 234.7h3.52v2.32h-3.52zM98.3 234.7h3.72v2.32h-3.72zM58.4 236.4h3.62v2.62h-3.62zM141.1 236.4h2.92v2.62h-2.92zM215.1 236.4h2.92v2.62h-2.92zM49.9 238.2h3.12v1.82h-3.12zM218.0 239.9h3.02v2.12h-3.02zM143.9 241.7h3.12v2.32h-3.12zM32.8 245.2h3.22v1.82h-3.22zM192.3 246.9h3.72v2.12h-3.72zM58.4 248.6h2.89v2.42h-2.89zM129.7 248.6h3.32v2.42h-3.32zM135.4 248.6h3.62v2.42h-3.62zM280.7 248.6h3.32v2.42h-3.32zM138.2 257.4h2.86v1.71h-2.86z"/>
<path fill="#20a386" d="M297.8 185.9h3.22v2.12h-3.22zM235.1 198.1h2.92v1.92h-2.92zM269.3 206.8h3.72v2.22h-3.72zM300.6 215.5h3.42v2.52h-3.42zM283.5 217.3h3.52v2.72h-3.52zM206.6 219.0h3.42v2.02h-3.42zM272.1 220.8h2.92v2.22h-2.92zM280.7 222.5h3.32v2.52h-3.32zM294.9 229.5h3.12v2.52h-3.12zM124.0 231.2h3.02v1.82h-3.02zM297.8 231.2h3.22v1.82h-3.22zM129.7 233.0h3.32v2.02h-3.32zM235.1 233.0h2.92v2.02h-2.92zM286.4 233.0h3.62v2.02h-3.62zM72.7 236.4h3.32v2.62h-3.32zM266.4 236.4h3.62v2.62h-3.62zM297.8 238.2h3.22v1.82h-3.22zM237.9 241.7h3.12v2.32h-3.12zM294.9 241.7h3.12v2.32h-3.12zM249.3 245.2h3.72v1.82h-3.72zM260.7 245.2h3.32v1.82h-3.32zM280.7 246.9h3.32v2.12h-3.32zM115.4 248.6h3.62v2.42h-3.62zM109.7 250.4h3.32v2.62h-3.32zM129.7 250.4h3.32v2.62h-3.32zM106.9 252.1h3.12v1.78h-3.12zM286.4 255.6h2.81v1.76h-2.81z"/>
<path fill="#95d840" d="M252.2 208.6h3.82v2.42h-3.82zM272.1 241.7h2.92v2.32h-2.92zM252.2 248.6h3.82v2.42h-3.82z"/>
<path fill="#b2dd2d" d="M283.5 233.0h3.52v2.02h-3.52z"/>
<path fill="#67cc5c" d="M243.6 194.6h3.42v2.42h-3.42zM243.6 220.8h3.42v2.22h-3.42zM235.1 229.5h2.92v2.52h-2.92zM289.2 229.5h3.82v2.52h-3.82zM300.6 236.4h3.42v2.62h-3.42zM275.0 241.7h3.02v2.32h-3.02zM303.5 243.4h2.80v2.62h-2.80zM106.9 250.4h3.12v2.62h-3.12z"/>
<path fill="#30698e" d="M272.1 189.4h2.92v2.62h-2.92zM280.7 194.6h3.32v2.42h-3.32zM289.2 194.6h3.82v2.42h-3.82zM232.2 196.4h3.82v2.62h-3.82zM132.5 210.3h3.52v2.72h-3.52zM141.1 210.3h2.92v2.72h-2.92zM269.3 210.3h3.72v2.72h-3.72zM121.1 212.0h2.92v2.02h-2.92zM129.7 212.0h3.32v2.02h-3.32zM186.6 212.0h3.42v2.02h-3.42zM203.7 212.0h3.32v2.02h-3.32zM104.0 213.8h3.02v2.22h-3.02zM195.2 213.8h3.82v2.22h-3.82zM232.2 213.8h3.82v2.22h-3.82zM206.6 215.5h3.42v2.52h-3.42zM143.9 217.3h3.12v2.72h-3.12zM249.3 217.3h3.72v2.72h-3.72zM101.2 219.0h3.82v2.02h-3.82zM192.3 219.0h3.72v2.02h-3.72zM61.3 220.8h3.72v2.22h-3.72zM75.5 220.8h3.52v2.22h-3.52zM27.1 224.2h2.92v1.82h-2.92zM67.0 224.2h3.02v1.82h-3.02zM126.8 224.2h3.22v1.82h-3.22zM266.4 224.2h3.62v1.82h-3.62zM41.3 226.0h3.72v2.02h-3.72zM92.6 226.0h3.42v2.02h-3.42zM266.4 226.0h3.62v2.02h-3.62zM72.7 227.7h3.32v2.32h-3.32zM86.9 227.7h3.12v2.32h-3.12zM41.3 229.5h3.72v2.52h-3.72zM98.3 229.5h3.72v2.52h-3.72zM44.2 231.2h3.82v1.82h-3.82zM55.6 233.0h3.42v2.02h-3.42zM98.3 233.0h3.72v2.02h-3.72zM101.2 233.0h3.82v2.02h-3.82zM24.2 234.7h3.82v2.32h-3.82zM44.2 234.7h3.82v2.32h-3.82zM218.0 236.4h3.02v2.62h-3.02zM32.8 239.9h3.22v2.12h-3.22zM35.6 239.9h3.42v2.12h-3.42zM98.3 239.9h3.72v2.12h-3.72zM143.9 239.9h3.12v2.12h-3.12zM29.9 241.7h3.12v2.32h-3.12zM35.6 241.7h3.42v2.32h-3.42zM75.5 241.7h3.52v2.32h-3.52zM138.2 241.7h3.82v2.32h-3.82zM44.2 243.4h3.82v2.62h-3.82zM81.2 243.4h3.82v2.62h-3.82zM24.2 245.2h3.82v1.71h-3.82zM47.0 245.2h3.02v1.82h-3.02zM189.5 245.2h3.52v1.82h-3.52zM206.6 245.2h3.42v1.82h-3.42zM92.6 246.9h3.42v1.75h-3.42zM118.3 246.9h3.72v2.12h-3.72zM124.0 250.4h3.02v2.62h-3.02zM246.5 250.4h3.52v2.62h-3.52zM229.4 252.1h2.83v1.78h-2.83zM206.6 253.9h2.83v1.72h-2.83z"/>
<path fill="#1f968b" d="M292.1 178.9h2.92v2.12h-2.92zM300.6 178.9h3.42v2.12h-3.42zM277.8 184.2h3.22v1.82h-3.22zM297.8 187.6h3.22v2.42h-3.22zM283.5 189.4h3.52v2.62h-3.52zM300.6 189.4h3.42v2.62h-3.42zM303.5 189.4h2.80v2.62h-2.80zM275.0 192.9h3.02v2.12h-3.02zM257.9 194.6h3.12v2.42h-3.12zM249.3 198.1h3.72v1.92h-3.72zM263.6 203.3h3.42v2.72h-3.42zM249.3 205.1h3.72v1.92h-3.72zM263.6 205.1h3.42v1.92h-3.42zM115.4 210.3h3.62v2.72h-3.62zM260.7 210.3h3.32v2.72h-3.32zM218.0 212.0h3.02v2.02h-3.02zM286.4 213.8h3.62v2.22h-3.62zM303.5 215.5h2.80v2.52h-2.80zM272.1 217.3h2.92v2.72h-2.92zM294.9 217.3h3.12v2.72h-3.12zM249.3 222.5h3.72v2.52h-3.72zM252.2 224.2h3.82v1.82h-3.82zM255.0 224.2h3.02v1.82h-3.02zM186.6 226.0h3.42v2.02h-3.42zM106.9 227.7h3.12v2.32h-3.12zM269.3 227.7h3.72v2.32h-3.72zM286.4 227.7h3.62v2.32h-3.62zM226.5 229.5h3.52v2.52h-3.52zM292.1 229.5h2.92v2.52h-2.92zM277.8 233.0h3.22v2.02h-3.22zM292.1 233.0h2.92v2.02h-2.92zM232.2 234.7h3.82v2.32h-3.82zM226.5 236.4h3.52v2.62h-3.52zM229.4 236.4h3.62v2.62h-3.62zM115.4 238.2h3.62v1.82h-3.62zM232.2 238.2h3.82v1.82h-3.82zM260.7 238.2h3.32v1.82h-3.32zM212.3 241.7h3.72v2.32h-3.72zM223.7 241.7h3.32v2.32h-3.32zM84.1 243.4h2.92v2.62h-2.92zM292.1 243.4h2.92v2.62h-2.92zM297.8 243.4h3.22v2.62h-3.22zM206.6 246.9h3.42v2.12h-3.42zM243.6 246.9h3.42v2.12h-3.42zM55.6 248.6h3.42v2.42h-3.42zM255.0 248.6h3.02v2.42h-3.02zM232.2 250.4h3.82v1.73h-3.82zM235.1 250.4h2.92v2.62h-2.92zM292.1 252.1h2.92v1.78h-2.92z"/>
<path fill="#26828e" d="M277.8 182.4h3.22v2.62h-3.22zM300.6 182.4h3.42v2.62h-3.42zM283.5 184.2h3.52v1.82h-3.52zM266.4 187.6h3.62v2.42h-3.62zM255.0 189.4h3.02v2.62h-3.02zM292.1 191.1h2.92v1.92h-2.92zM272.1 192.9h2.92v2.12h-2.92zM292.1 192.9h2.92v2.12h-2.92zM269.3 194.6h3.72v2.42h-3.72zM297.8 194.6h3.22v2.42h-3.22zM292.1 196.4h2.92v2.62h-2.92zM300.6 196.4h3.42v2.62h-3.42zM275.0 198.1h3.02v1.92h-3.02zM297.8 198.1h3.22v1.92h-3.22zM229.4 201.6h3.62v2.42h-3.62zM275.0 205.1h3.02v1.92h-3.02zM300.6 205.1h3.42v1.92h-3.42zM212.3 206.8h3.72v2.22h-3.72zM203.7 208.6h3.32v2.42h-3.32zM200.9 210.3h3.12v2.72h-3.12zM257.9 210.3h3.12v2.72h-3.12zM106.9 212.0h3.12v2.02h-3.12zM192.3 212.0h3.72v2.02h-3.72zM255.0 212.0h3.02v2.02h-3.02zM218.0 213.8h3.02v2.22h-3.02zM220.8 213.8h3.22v2.22h-3.22zM223.7 213.8h3.32v2.22h-3.32zM226.5 213.8h3.52v2.22h-3.52zM255.0 215.5h3.02v2.52h-3.02zM277.8 215.5h3.22v2.52h-3.22zM106.9 217.3h3.12v2.72h-3.12zM115.4 217.3h3.62v2.72h-3.62zM198.0 217.3h3.02v2.72h-3.02zM203.7 217.3h3.32v2.72h-3.32zM215.1 217.3h2.92v2.72h-2.92zM237.9 217.3h3.12v2.72h-3.12zM240.8 217.3h3.22v2.72h-3.22zM266.4 217.3h3.62v2.72h-3.62zM115.4 219.0h3.62v2.02h-3.62zM237.9 219.0h3.12v2.02h-3.12zM266.4 219.0h3.62v2.02h-3.62zM209.4 220.8h3.62v2.22h-3.62zM240.8 220.8h3.22v2.22h-3.22zM200.9 222.5h3.12v2.52h-3.12zM215.1 224.2h2.92v1.82h-2.92zM218.0 224.2h3.02v1.82h-3.02zM223.7 224.2h3.32v1.82h-3.32zM246.5 226.0h3.52v2.02h-3.52zM269.3 226.0h3.72v2.02h-3.72zM106.9 229.5h3.12v2.52h-3.12zM146.8 229.5h2.81v2.52h-2.81zM198.0 231.2h3.02v1.82h-3.02zM220.8 231.2h3.22v1.82h-3.22zM115.4 233.0h3.62v2.02h-3.62zM209.4 233.0h3.62v2.02h-3.62zM132.5 234.7h3.52v2.32h-3.52zM218.0 234.7h3.02v2.32h-3.02zM286.4 234.7h3.62v2.32h-3.62zM104.0 236.4h3.02v2.62h-3.02zM223.7 238.2h3.32v1.82h-3.32zM186.6 239.9h3.42v2.12h-3.42zM275.0 239.9h3.02v2.12h-3.02zM280.7 239.9h3.32v2.12h-3.32zM186.6 243.4h3.42v2.62h-3.42zM266.4 245.2h3.62v1.82h-3.62zM277.8 245.2h3.22v1.82h-3.22zM272.1 250.4h2.92v1.73h-2.92zM294.9 250.4h3.12v2.62h-3.12zM115.4 252.1h3.62v1.78h-3.62zM229.4 255.6h2.83v1.76h-2.83z"/>
<path fill="#34b679" d="M303.5 177.2h2.80v1.82h-2.80zM269.3 185.9h3.72v2.12h-3.72zM215.1 205.1h2.92v1.92h-2.92zM272.1 210.3h2.92v2.72h-2.92zM235.1 217.3h2.92v2.72h-2.92zM292.1 217.3h2.92v2.72h-2.92zM220.8 222.5h3.22v2.52h-3.22zM300.6 227.7h3.42v2.32h-3.42zM303.5 227.7h2.80v2.32h-2.80zM61.3 233.0h3.72v2.02h-3.72zM249.3 238.2h3.72v1.82h-3.72zM64.1 239.9h2.92v2.12h-2.92zM115.4 239.9h3.62v2.12h-3.62zM246.5 239.9h3.52v2.12h-3.52zM126.8 241.7h3.22v2.32h-3.22zM218.0 243.4h3.02v2.62h-3.02zM257.9 246.9h3.12v2.12h-3.12zM272.1 246.9h2.92v2.12h-2.92zM286.4 246.9h3.62v2.12h-3.62zM275.0 248.6h3.02v2.42h-3.02z"/>
<path fill="#46337f" d="M206.6 210.3h3.42v2.72h-3.42zM32.8 212.0h3.22v2.02h-3.22zM55.6 213.8h3.42v2.22h-3.42zM166.7 213.8h3.32v2.22h-3.32zM21.4 217.3h3.62v2.72h-3.62zM138.2 217.3h3.82v2.72h-3.82zM21.4 219.0h3.62v2.02h-3.62zM64.1 219.0h2.92v2.02h-2.92zM32.8 220.8h3.22v2.22h-3.22zM126.8 222.5h3.22v2.52h-3.22zM138.2 236.4h3.82v2.62h-3.82zM118.3 252.1h3.72v1.92h-3.72z"/>
<path fill="#aadc32" d="M257.9 229.5h3.12v2.52h-3.12zM289.2 231.2h3.82v1.82h-3.82zM223.7 243.4h3.32v2.62h-3.32zM249.3 243.4h3.72v2.62h-3.72z"/>
<path fill="#481f70" d="M149.6 208.6h3.42v1.70h-3.42zM158.2 208.6h3.82v1.70h-3.82zM161.0 208.6h3.02v2.42h-3.02zM175.2 208.6h3.82v2.42h-3.82zM158.2 212.0h3.82v2.02h-3.82zM178.1 212.0h2.84v2.02h-2.84zM163.9 213.8h3.12v2.22h-3.12zM161.0 215.5h3.02v1.77h-3.02z"/>
<path fill="#1f998a" d="M286.4 178.9h3.62v2.12h-3.62zM300.6 187.6h3.42v2.42h-3.42zM286.4 192.9h3.62v2.12h-3.62zM249.3 196.4h3.72v2.62h-3.72zM283.5 196.4h3.52v2.62h-3.52zM255.0 201.6h3.02v2.42h-3.02zM212.3 205.1h3.72v1.92h-3.72zM223.7 205.1h3.32v1.92h-3.32zM292.1 205.1h2.92v1.92h-2.92zM303.5 206.8h2.80v2.22h-2.80zM269.3 208.6h3.72v2.42h-3.72zM266.4 210.3h3.62v2.72h-3.62zM272.1 212.0h2.92v2.02h-2.92zM292.1 212.0h2.92v2.02h-2.92zM257.9 213.8h3.12v2.22h-3.12zM243.6 217.3h3.42v2.72h-3.42zM286.4 217.3h3.62v2.72h-3.62zM297.8 219.0h3.22v2.02h-3.22zM112.6 220.8h3.42v2.22h-3.42zM115.4 220.8h3.62v2.22h-3.62zM249.3 220.8h3.72v2.22h-3.72zM269.3 220.8h3.72v2.22h-3.72zM252.2 222.5h3.82v2.52h-3.82zM292.1 222.5h2.92v2.52h-2.92zM52.7 224.2h3.32v1.82h-3.32zM226.5 224.2h3.52v1.82h-3.52zM292.1 226.0h2.92v2.02h-2.92zM303.5 226.0h2.80v2.02h-2.80zM237.9 227.7h3.12v2.32h-3.12zM283.5 227.7h3.52v2.32h-3.52zM115.4 229.5h3.62v2.52h-3.62zM235.1 231.2h2.92v1.82h-2.92zM240.8 231.2h3.22v1.82h-3.22zM246.5 231.2h3.52v1.82h-3.52zM226.5 234.7h3.52v2.32h-3.52zM235.1 234.7h2.92v2.32h-2.92zM249.3 234.7h3.72v2.32h-3.72zM294.9 234.7h3.12v2.32h-3.12zM303.5 234.7h2.80v2.32h-2.80zM280.7 236.4h3.32v2.62h-3.32zM294.9 236.4h3.12v2.62h-3.12zM226.5 238.2h3.52v1.82h-3.52zM300.6 239.9h3.42v2.12h-3.42zM112.6 241.7h3.42v2.32h-3.42zM232.2 243.4h3.82v2.62h-3.82zM223.7 245.2h3.32v1.82h-3.32zM232.2 245.2h3.82v1.82h-3.82zM297.8 245.2h3.22v1.82h-3.22zM223.7 248.6h3.32v1.79h-3.32zM243.6 248.6h3.42v1.79h-3.42zM283.5 248.6h3.52v2.42h-3.52zM294.9 248.6h3.12v2.42h-3.12zM112.6 250.4h3.42v2.62h-3.42zM249.3 252.1h2.87v1.92h-2.87z"/>
<path fill="#4cc26c" d="M235.1 194.6h2.92v2.42h-2.92zM200.9 239.9h3.12v2.12h-3.12z"/>
<path fill="#287d8e" d="M289.2 180.7h3.82v2.32h-3.82zM297.8 180.7h3.22v2.32h-3.22zM257.9 187.6h3.12v2.42h-3.12zM294.9 187.6h3.12v2.42h-3.12zM252.2 191.1h3.82v1.92h-3.82zM286.4 191.1h3.62v1.92h-3.62zM297.8 192.9h3.22v2.12h-3.22zM243.6 201.6h3.42v2.42h-3.42zM246.5 201.6h3.52v2.42h-3.52zM252.2 201.6h3.82v2.42h-3.82zM218.0 206.8h3.02v2.22h-3.02zM226.5 206.8h3.52v2.22h-3.52zM257.9 206.8h3.12v2.22h-3.12zM260.7 206.8h3.32v2.22h-3.32zM289.2 206.8h3.82v2.22h-3.82zM246.5 208.6h3.52v2.42h-3.52zM294.9 208.6h3.12v2.42h-3.12zM104.0 210.3h3.02v2.72h-3.02zM186.6 210.3h3.42v2.72h-3.42zM246.5 210.3h3.52v2.72h-3.52zM289.2 215.5h3.82v2.52h-3.82zM200.9 217.3h3.12v2.72h-3.12zM109.7 219.0h3.32v2.02h-3.32zM198.0 219.0h3.02v2.02h-3.02zM203.7 219.0h3.32v2.02h-3.32zM192.3 220.8h3.72v2.22h-3.72zM206.6 220.8h3.42v2.22h-3.42zM212.3 220.8h3.72v2.22h-3.72zM198.0 222.5h3.02v2.52h-3.02zM246.5 222.5h3.52v2.52h-3.52zM109.7 226.0h3.32v2.02h-3.32zM223.7 227.7h3.32v2.32h-3.32zM272.1 227.7h2.92v2.32h-2.92zM292.1 227.7h2.92v2.32h-2.92zM275.0 229.5h3.02v2.52h-3.02zM297.8 229.5h3.22v2.52h-3.22zM41.3 231.2h3.72v1.82h-3.72zM192.3 231.2h3.72v1.82h-3.72zM41.3 234.7h3.72v2.32h-3.72zM223.7 234.7h3.32v2.32h-3.32zM263.6 234.7h3.42v2.32h-3.42zM266.4 234.7h3.62v2.32h-3.62zM101.2 236.4h3.82v2.62h-3.82zM286.4 236.4h3.62v2.62h-3.62zM32.8 238.2h3.22v1.82h-3.22zM101.2 239.9h3.82v2.12h-3.82zM229.4 239.9h3.62v2.12h-3.62zM237.9 239.9h3.12v2.12h-3.12zM266.4 241.7h3.62v2.32h-3.62zM104.0 243.4h3.02v2.62h-3.02zM115.4 243.4h3.62v2.62h-3.62zM240.8 243.4h3.22v2.62h-3.22zM289.2 243.4h3.82v2.62h-3.82zM41.3 245.2h3.72v1.82h-3.72zM101.2 245.2h3.82v1.82h-3.82zM132.5 245.2h3.52v1.82h-3.52zM186.6 245.2h3.42v1.82h-3.42zM215.1 245.2h2.92v1.82h-2.92zM272.1 245.2h2.92v1.82h-2.92zM132.5 246.9h3.52v2.12h-3.52zM186.6 246.9h3.42v1.75h-3.42zM277.8 246.9h3.22v2.12h-3.22zM297.8 246.9h3.22v2.12h-3.22zM112.6 248.6h3.42v2.42h-3.42zM277.8 248.6h3.22v2.42h-3.22zM135.4 250.4h3.62v2.62h-3.62zM220.8 250.4h2.88v1.73h-2.88zM237.9 250.4h3.12v1.73h-3.12zM269.3 252.1h2.81v1.78h-2.81zM132.5 253.9h3.52v1.72h-3.52z"/>
<path fill="#46307e" d="M166.7 210.3h3.32v2.72h-3.32zM158.2 215.5h3.82v2.52h-3.82zM172.4 215.5h2.85v2.52h-2.85zM166.7 217.3h3.32v2.72h-3.32zM124.0 222.5h3.02v2.52h-3.02zM124.0 226.0h3.02v2.02h-3.02zM21.4 227.7h3.62v2.32h-3.62zM118.3 241.7h3.72v2.32h-3.72zM143.9 253.9h2.86v1.72h-2.86z"/>
<path fill="#8ed645" d="M255.0 206.8h3.02v2.22h-3.02zM286.4 210.3h3.62v2.72h-3.62zM243.6 212.0h3.42v2.02h-3.42zM280.7 229.5h3.32v2.52h-3.32zM249.3 231.2h3.72v1.82h-3.72zM277.8 236.4h3.22v2.62h-3.22zM303.5 239.9h2.80v2.12h-2.80z"/>
<path fill="#63cb5f" d="M283.5 191.1h3.52v1.92h-3.52zM280.7 213.8h3.32v2.22h-3.32zM260.7 217.3h3.32v2.72h-3.32zM235.1 236.4h2.92v2.62h-2.92zM220.8 246.9h3.22v2.12h-3.22zM292.1 248.6h2.92v2.42h-2.92z"/>
<path fill="#424086" d="M92.6 210.3h3.42v2.72h-3.42zM55.6 212.0h3.42v2.02h-3.42zM67.0 212.0h3.02v2.02h-3.02zM69.8 212.0h3.22v2.02h-3.22zM75.5 212.0h3.52v2.02h-3.52zM118.3 212.0h3.72v2.02h-3.72zM89.8 213.8h3.22v2.22h-3.22zM118.3 213.8h3.72v2.22h-3.72zM146.8 215.5h2.81v2.52h-2.81zM35.6 217.3h3.42v2.72h-3.42zM69.8 217.3h3.22v2.72h-3.22zM135.4 220.8h3.62v2.22h-3.62zM64.1 222.5h2.92v2.52h-2.92zM141.1 222.5h2.92v2.52h-2.92zM47.0 224.2h3.02v1.82h-3.02zM84.1 224.2h2.92v1.82h-2.92zM55.6 226.0h3.42v2.02h-3.42zM75.5 229.5h3.52v2.52h-3.52zM118.3 233.0h2.82v2.02h-2.82zM126.8 234.7h3.22v2.32h-3.22zM118.3 239.9h3.72v2.12h-3.72zM146.8 243.4h2.81v2.62h-2.81zM49.9 246.9h3.12v2.12h-3.12zM86.9 246.9h3.12v1.75h-3.12zM124.0 246.9h3.02v2.12h-3.02zM78.4 248.6h3.62v1.79h-3.62zM118.3 248.6h3.72v2.42h-3.72zM124.0 252.1h3.02v1.78h-3.02zM212.3 252.1h2.83v1.78h-2.83z"/>
<path fill="#50c46a" d="M209.4 208.6h3.62v2.42h-3.62zM109.7 220.8h3.32v2.22h-3.32zM226.5 226.0h3.52v2.02h-3.52zM112.6 227.7h3.42v2.32h-3.42zM229.4 229.5h3.62v2.52h-3.62zM223.7 231.2h3.32v1.82h-3.32zM235.1 243.4h2.92v2.62h-2.92zM260.7 243.4h3.32v2.62h-3.32zM252.2 246.9h3.82v2.12h-3.82zM283.5 246.9h3.52v2.12h-3.52z"/>
<path fill="#2d718e" d="M289.2 178.9h3.82v2.12h-3.82zM275.0 184.2h3.02v1.82h-3.02zM263.6 187.6h3.42v2.42h-3.42zM280.7 187.6h3.32v2.42h-3.32zM266.4 189.4h3.62v2.62h-3.62zM249.3 194.6h3.72v2.42h-3.72zM266.4 194.6h3.62v2.42h-3.62zM280.7 198.1h3.32v1.92h-3.32zM255.0 199.8h3.02v2.22h-3.02zM240.8 201.6h3.22v2.42h-3.22zM294.9 201.6h3.12v2.42h-3.12zM200.9 206.8h3.12v2.22h-3.12zM206.6 208.6h3.42v2.42h-3.42zM129.7 210.3h3.32v2.72h-3.32zM277.8 210.3h3.22v2.72h-3.22zM195.2 212.0h3.82v2.02h-3.82zM198.0 212.0h3.02v2.02h-3.02zM112.6 213.8h3.42v2.22h-3.42zM189.5 213.8h3.52v2.22h-3.52zM206.6 217.3h3.42v2.72h-3.42zM226.5 219.0h3.52v2.02h-3.52zM257.9 219.0h3.12v2.02h-3.12zM195.2 220.8h3.82v2.22h-3.82zM203.7 220.8h3.32v2.22h-3.32zM212.3 222.5h3.72v2.52h-3.72zM135.4 224.2h3.62v1.82h-3.62zM186.6 224.2h3.42v1.82h-3.42zM200.9 224.2h3.12v1.82h-3.12zM101.2 226.0h3.82v2.02h-3.82zM206.6 226.0h3.42v2.02h-3.42zM209.4 226.0h3.62v2.02h-3.62zM89.8 227.7h3.22v2.32h-3.22zM95.5 227.7h3.52v2.32h-3.52zM192.3 227.7h3.72v2.32h-3.72zM58.4 229.5h3.62v2.52h-3.62zM72.7 229.5h3.32v2.52h-3.32zM121.1 229.5h2.92v2.52h-2.92zM212.3 229.5h3.72v2.52h-3.72zM24.2 231.2h3.82v1.82h-3.82zM98.3 231.2h3.72v1.82h-3.72zM38.5 234.7h3.52v2.32h-3.52zM200.9 234.7h3.12v2.32h-3.12zM220.8 236.4h3.22v2.62h-3.22zM27.1 238.2h2.92v1.82h-2.92zM84.1 238.2h2.92v1.82h-2.92zM92.6 238.2h3.42v1.82h-3.42zM24.2 239.9h3.82v2.12h-3.82zM47.0 239.9h3.02v2.12h-3.02zM67.0 239.9h3.02v2.12h-3.02zM195.2 239.9h3.82v2.12h-3.82zM215.1 239.9h2.92v2.12h-2.92zM24.2 241.7h3.82v2.32h-3.82zM58.4 241.7h3.62v2.32h-3.62zM67.0 241.7h3.02v2.32h-3.02zM192.3 241.7h3.72v2.32h-3.72zM206.6 241.7h3.42v2.32h-3.42zM72.7 243.4h3.32v2.62h-3.32zM212.3 243.4h3.72v2.62h-3.72zM81.2 245.2h3.82v1.82h-3.82zM72.7 246.9h3.32v2.12h-3.32zM75.5 246.9h2.88v2.12h-2.88zM101.2 246.9h3.82v2.12h-3.82zM198.0 246.9h3.02v1.75h-3.02zM132.5 248.6h3.52v2.42h-3.52zM294.9 252.1h2.85v1.78h-2.85z"/>
<path fill="#3d4d8a" d="M246.5 192.9h3.52v2.12h-3.52zM86.9 212.0h3.12v2.02h-3.12zM126.8 212.0h3.22v2.02h-3.22zM138.2 212.0h3.82v2.02h-3.82zM206.6 212.0h3.42v2.02h-3.42zM49.9 213.8h3.12v2.22h-3.12zM61.3 213.8h3.72v2.22h-3.72zM95.5 213.8h3.52v2.22h-3.52zM141.1 213.8h2.92v2.22h-2.92zM27.1 217.3h2.92v2.72h-2.92zM44.2 219.0h3.82v2.02h-3.82zM84.1 219.0h2.92v2.02h-2.92zM118.3 219.0h3.72v2.02h-3.72zM138.2 219.0h3.82v2.02h-3.82zM186.6 219.0h3.42v2.02h-3.42zM27.1 220.8h2.92v2.22h-2.92zM35.6 220.8h3.42v2.22h-3.42zM55.6 220.8h3.42v2.22h-3.42zM81.2 220.8h3.82v2.22h-3.82zM38.5 222.5h3.52v2.52h-3.52zM32.8 224.2h3.22v1.82h-3.22zM95.5 224.2h3.52v1.82h-3.52zM35.6 226.0h3.42v2.02h-3.42zM69.8 227.7h3.22v2.32h-3.22zM146.8 227.7h2.81v2.32h-2.81zM209.4 227.7h3.62v2.32h-3.62zM29.9 229.5h3.12v2.52h-3.12zM86.9 229.5h3.12v2.52h-3.12zM67.0 231.2h3.02v1.82h-3.02zM218.0 231.2h3.02v1.82h-3.02zM35.6 233.0h3.42v2.02h-3.42zM49.9 233.0h3.12v2.02h-3.12zM78.4 233.0h3.62v2.02h-3.62zM124.0 234.7h3.02v2.32h-3.02zM67.0 236.4h3.02v2.62h-3.02zM81.2 236.4h3.82v2.62h-3.82zM89.8 236.4h3.22v2.62h-3.22zM38.5 239.9h3.52v2.12h-3.52zM126.8 239.9h3.22v2.12h-3.22zM132.5 241.7h3.52v2.32h-3.52zM81.2 248.6h2.88v1.79h-2.88zM95.5 248.6h3.52v2.42h-3.52zM209.4 255.6h2.88v1.76h-2.88zM126.8 257.4h2.86v1.71h-2.86z"/>
<path fill="#3c4f8a" d="M206.6 206.8h3.42v2.22h-3.42zM218.0 208.6h3.02v2.42h-3.02zM209.4 210.3h3.62v2.72h-3.62zM61.3 212.0h3.72v2.02h-3.72zM72.7 212.0h3.32v2.02h-3.32zM38.5 213.8h3.52v2.22h-3.52zM98.3 213.8h3.72v2.22h-3.72zM27.1 215.5h2.92v2.52h-2.92zM75.5 215.5h3.52v2.52h-3.52zM129.7 215.5h3.32v2.52h-3.32zM84.1 217.3h2.92v2.72h-2.92zM129.7 217.3h3.32v2.72h-3.32zM132.5 219.0h3.52v2.02h-3.52zM49.9 220.8h3.12v2.22h-3.12zM89.8 220.8h3.22v2.22h-3.22zM92.6 220.8h3.42v2.22h-3.42zM21.4 222.5h3.62v2.52h-3.62zM27.1 222.5h2.92v2.52h-2.92zM92.6 222.5h3.42v2.52h-3.42zM95.5 222.5h3.52v2.52h-3.52zM24.2 224.2h3.82v1.82h-3.82zM86.9 224.2h3.12v1.82h-3.12zM118.3 224.2h3.72v1.82h-3.72zM132.5 224.2h3.52v1.82h-3.52zM27.1 226.0h2.92v2.02h-2.92zM38.5 226.0h3.52v2.02h-3.52zM95.5 226.0h3.52v2.02h-3.52zM146.8 226.0h2.81v2.02h-2.81zM29.9 227.7h3.12v2.32h-3.12zM124.0 227.7h3.02v2.32h-3.02zM67.0 229.5h3.02v2.52h-3.02zM89.8 229.5h3.22v2.52h-3.22zM92.6 229.5h3.42v2.52h-3.42zM64.1 231.2h2.92v1.82h-2.92zM146.8 231.2h2.81v1.82h-2.81zM75.5 233.0h3.52v2.02h-3.52zM81.2 233.0h3.82v2.02h-3.82zM138.2 233.0h3.82v2.02h-3.82zM141.1 234.7h2.92v2.32h-2.92zM86.9 238.2h3.12v1.82h-3.12zM135.4 238.2h3.62v1.82h-3.62zM138.2 238.2h3.82v1.82h-3.82zM220.8 238.2h3.22v1.82h-3.22zM89.8 241.7h3.22v2.32h-3.22zM86.9 243.4h3.12v2.62h-3.12zM78.4 245.2h3.62v1.71h-3.62zM135.4 245.2h3.62v1.82h-3.62zM27.1 246.9h2.85v2.12h-2.85zM146.8 250.4h2.81v1.73h-2.81zM280.7 253.9h3.32v1.72h-3.32z"/>
<path fill="#2c738e" d="M280.7 185.9h3.32v2.12h-3.32zM283.5 187.6h3.52v2.42h-3.52zM260.7 189.4h3.32v2.62h-3.32zM249.3 191.1h3.72v1.92h-3.72zM246.5 198.1h3.52v1.92h-3.52zM292.1 198.1h2.92v1.92h-2.92zM272.1 199.8h2.92v2.22h-2.92zM286.4 199.8h3.62v2.22h-3.62zM289.2 199.8h3.82v2.22h-3.82zM297.8 199.8h3.22v2.22h-3.22zM218.0 205.1h3.02v1.92h-3.02zM220.8 205.1h3.22v1.92h-3.22zM101.2 210.3h3.82v2.72h-3.82zM109.7 210.3h3.32v2.72h-3.32zM24.2 215.5h3.82v2.52h-3.82zM104.0 215.5h3.02v2.52h-3.02zM212.3 217.3h3.72v2.72h-3.72zM257.9 217.3h3.12v2.72h-3.12zM277.8 217.3h3.22v2.72h-3.22zM232.2 219.0h3.82v2.02h-3.82zM300.6 219.0h3.42v2.02h-3.42zM98.3 222.5h3.72v2.52h-3.72zM109.7 222.5h3.32v2.52h-3.32zM132.5 222.5h3.52v2.52h-3.52zM195.2 224.2h3.82v1.82h-3.82zM229.4 224.2h3.62v1.82h-3.62zM203.7 226.0h3.32v2.02h-3.32zM266.4 227.7h3.62v2.32h-3.62zM61.3 229.5h3.72v2.52h-3.72zM215.1 229.5h2.92v2.52h-2.92zM29.9 231.2h3.12v1.82h-3.12zM129.7 231.2h3.32v1.82h-3.32zM143.9 231.2h3.12v1.82h-3.12zM215.1 231.2h2.92v1.82h-2.92zM260.7 233.0h3.32v2.02h-3.32zM260.7 234.7h3.32v2.32h-3.32zM29.9 238.2h3.12v1.82h-3.12zM109.7 238.2h3.32v1.82h-3.32zM135.4 239.9h3.62v2.12h-3.62zM192.3 239.9h3.72v2.12h-3.72zM61.3 241.7h3.72v2.32h-3.72zM98.3 241.7h3.72v2.32h-3.72zM141.1 241.7h2.92v2.32h-2.92zM200.9 241.7h3.12v2.32h-3.12zM55.6 243.4h3.42v2.62h-3.42zM132.5 243.4h3.52v2.62h-3.52zM98.3 245.2h3.72v1.82h-3.72zM198.0 245.2h3.02v1.82h-3.02zM121.1 250.4h2.92v2.62h-2.92zM269.3 250.4h3.72v2.62h-3.72zM109.7 255.6h2.87v1.76h-2.87z"/>
<path fill="#297b8e" d="M300.6 175.4h3.42v2.62h-3.42zM294.9 178.9h3.12v2.12h-3.12zM289.2 187.6h3.82v2.42h-3.82zM255.0 192.9h3.02v2.12h-3.02zM277.8 192.9h3.22v2.12h-3.22zM260.7 194.6h3.32v2.42h-3.32zM275.0 194.6h3.02v2.42h-3.02zM277.8 194.6h3.22v2.42h-3.22zM263.6 198.1h3.42v1.92h-3.42zM277.8 198.1h3.22v1.92h-3.22zM229.4 199.8h3.62v2.22h-3.62zM252.2 199.8h3.82v2.22h-3.82zM275.0 199.8h3.02v2.22h-3.02zM240.8 203.3h3.22v2.72h-3.22zM246.5 203.3h3.52v2.72h-3.52zM215.1 206.8h2.92v2.22h-2.92zM223.7 206.8h3.32v2.22h-3.32zM220.8 208.6h3.22v2.42h-3.22zM232.2 208.6h3.82v2.42h-3.82zM297.8 208.6h3.22v2.42h-3.22zM143.9 210.3h3.12v2.72h-3.12zM192.3 210.3h3.72v2.72h-3.72zM255.0 210.3h3.02v2.72h-3.02zM232.2 212.0h3.82v2.02h-3.82zM280.7 212.0h3.32v2.02h-3.32zM109.7 213.8h3.32v2.22h-3.32zM229.4 215.5h3.62v2.52h-3.62zM189.5 217.3h3.52v2.72h-3.52zM195.2 217.3h3.82v2.72h-3.82zM106.9 219.0h3.12v2.02h-3.12zM220.8 219.0h3.22v2.02h-3.22zM243.6 219.0h3.42v2.02h-3.42zM226.5 220.8h3.52v2.22h-3.52zM255.0 220.8h3.02v2.22h-3.02zM263.6 220.8h3.42v2.22h-3.42zM209.4 222.5h3.62v2.52h-3.62zM215.1 222.5h2.92v2.52h-2.92zM112.6 224.2h3.42v1.82h-3.42zM192.3 224.2h3.72v1.82h-3.72zM198.0 226.0h3.02v2.02h-3.02zM255.0 226.0h3.02v2.02h-3.02zM289.2 226.0h3.82v2.02h-3.82zM200.9 227.7h3.12v2.32h-3.12zM232.2 229.5h3.82v2.52h-3.82zM24.2 233.0h3.82v2.02h-3.82zM240.8 233.0h3.22v2.02h-3.22zM289.2 233.0h3.82v2.02h-3.82zM109.7 234.7h3.32v2.32h-3.32zM143.9 236.4h3.12v2.62h-3.12zM209.4 236.4h3.62v2.62h-3.62zM192.3 238.2h3.72v1.82h-3.72zM198.0 238.2h3.02v1.82h-3.02zM203.7 239.9h3.32v2.12h-3.32zM272.1 239.9h2.92v2.12h-2.92zM109.7 241.7h3.32v2.32h-3.32zM286.4 241.7h3.62v2.32h-3.62zM209.4 243.4h3.62v2.62h-3.62zM220.8 243.4h3.22v2.62h-3.22zM61.3 245.2h3.72v1.82h-3.72zM289.2 245.2h3.82v1.82h-3.82zM41.3 246.9h3.72v1.75h-3.72zM44.2 246.9h3.82v1.75h-3.82zM52.7 246.9h3.32v2.12h-3.32zM135.4 246.9h3.62v2.12h-3.62zM143.9 246.9h3.12v2.12h-3.12zM101.2 248.6h3.82v2.42h-3.82zM240.8 250.4h2.82v1.73h-2.82zM249.3 250.4h3.72v2.62h-3.72z"/>
<path fill="#482576" d="M169.5 210.3h3.52v2.72h-3.52zM166.7 212.0h3.32v2.02h-3.32zM172.4 212.0h2.85v1.79h-2.85zM124.0 215.5h3.02v2.52h-3.02zM138.2 215.5h3.82v2.52h-3.82zM163.9 215.5h3.12v2.52h-3.12zM166.7 215.5h3.32v2.52h-3.32zM124.0 217.3h3.02v2.72h-3.02zM163.9 217.3h3.12v2.72h-3.12zM169.5 217.3h3.52v2.72h-3.52zM175.2 217.3h3.82v2.72h-3.82zM124.0 219.0h3.02v2.02h-3.02z"/>
<path fill="#2a788e" d="M303.5 180.7h2.80v2.32h-2.80zM292.1 184.2h2.92v1.82h-2.92zM277.8 185.9h3.22v2.12h-3.22zM260.7 187.6h3.32v2.42h-3.32zM252.2 189.4h3.82v2.62h-3.82zM240.8 191.1h3.22v1.92h-3.22zM243.6 191.1h3.42v1.92h-3.42zM255.0 194.6h3.02v2.42h-3.02zM263.6 194.6h3.42v2.42h-3.42zM240.8 196.4h3.22v2.62h-3.22zM294.9 196.4h3.12v2.62h-3.12zM232.2 199.8h3.82v2.22h-3.82zM294.9 203.3h3.12v2.72h-3.12zM257.9 205.1h3.12v1.92h-3.12zM215.1 208.6h2.92v2.42h-2.92zM300.6 208.6h3.42v2.42h-3.42zM203.7 210.3h3.32v2.72h-3.32zM232.2 210.3h3.82v2.72h-3.82zM300.6 210.3h3.42v2.72h-3.42zM277.8 212.0h3.22v2.02h-3.22zM260.7 215.5h3.32v2.52h-3.32zM121.1 220.8h2.92v1.70h-2.92zM183.8 222.5h3.22v1.75h-3.22zM106.9 224.2h3.12v1.82h-3.12zM109.7 224.2h3.32v1.82h-3.32zM220.8 224.2h3.22v1.82h-3.22zM280.7 224.2h3.32v1.82h-3.32zM104.0 226.0h3.02v2.02h-3.02zM155.3 226.0h2.85v2.02h-2.85zM215.1 226.0h2.92v2.02h-2.92zM223.7 226.0h3.32v2.02h-3.32zM280.7 226.0h3.32v2.02h-3.32zM132.5 227.7h3.52v2.32h-3.52zM215.1 227.7h2.92v2.32h-2.92zM104.0 229.5h3.02v2.52h-3.02zM237.9 229.5h3.12v2.52h-3.12zM206.6 231.2h3.42v1.82h-3.42zM52.7 234.7h3.32v2.32h-3.32zM198.0 234.7h3.02v2.32h-3.02zM203.7 234.7h3.32v2.32h-3.32zM61.3 236.4h3.72v2.62h-3.72zM109.7 236.4h3.32v2.62h-3.32zM203.7 236.4h3.32v2.62h-3.32zM41.3 238.2h3.72v1.82h-3.72zM49.9 239.9h3.12v2.12h-3.12zM61.3 239.9h3.72v2.12h-3.72zM189.5 239.9h3.52v2.12h-3.52zM263.6 239.9h3.42v2.12h-3.42zM41.3 241.7h3.72v2.32h-3.72zM49.9 241.7h3.12v2.32h-3.12zM277.8 243.4h3.22v2.62h-3.22zM203.7 245.2h3.32v1.82h-3.32zM257.9 245.2h3.12v1.82h-3.12zM146.8 246.9h2.81v2.12h-2.81zM289.2 246.9h3.82v2.12h-3.82zM203.7 248.6h3.32v1.79h-3.32zM206.6 248.6h2.83v1.79h-2.83zM272.1 248.6h2.92v2.42h-2.92zM235.1 252.1h2.82v1.78h-2.82zM249.3 253.9h2.87v1.72h-2.87zM237.9 257.4h3.12v1.71h-3.12z"/>
<path fill="#404688" d="M275.0 203.3h3.02v2.72h-3.02zM47.0 212.0h3.02v2.02h-3.02zM52.7 212.0h3.32v2.02h-3.32zM138.2 213.8h3.82v2.22h-3.82zM32.8 215.5h3.22v2.52h-3.22zM64.1 215.5h2.92v2.52h-2.92zM92.6 215.5h3.42v2.52h-3.42zM52.7 217.3h3.32v2.72h-3.32zM78.4 217.3h3.62v2.72h-3.62zM27.1 219.0h2.92v2.02h-2.92zM67.0 219.0h3.02v2.02h-3.02zM21.4 220.8h3.62v2.22h-3.62zM138.2 220.8h3.82v2.22h-3.82zM146.8 220.8h2.81v2.22h-2.81zM29.9 224.2h3.12v1.82h-3.12zM35.6 224.2h3.42v1.82h-3.42zM29.9 226.0h3.12v2.02h-3.12zM64.1 226.0h2.92v2.02h-2.92zM78.4 226.0h3.62v2.02h-3.62zM84.1 226.0h2.92v2.02h-2.92zM78.4 227.7h3.62v2.32h-3.62zM92.6 227.7h3.42v2.32h-3.42zM118.3 227.7h3.72v2.32h-3.72zM21.4 229.5h3.62v2.52h-3.62zM64.1 229.5h2.92v2.52h-2.92zM78.4 229.5h3.62v2.52h-3.62zM78.4 231.2h3.62v1.82h-3.62zM32.8 234.7h3.22v2.32h-3.22zM55.6 234.7h3.42v2.32h-3.42zM35.6 236.4h3.42v2.62h-3.42zM86.9 236.4h3.12v2.62h-3.12zM126.8 236.4h3.22v2.62h-3.22zM21.4 241.7h3.62v2.32h-3.62zM72.7 248.6h3.32v1.79h-3.32zM98.3 248.6h3.72v1.79h-3.72zM126.8 252.1h3.22v1.78h-3.22zM118.3 253.9h2.82v1.72h-2.82z"/>
<path fill="#25848e" d="M297.8 178.9h3.22v2.12h-3.22zM303.5 178.9h2.80v2.12h-2.80zM280.7 182.4h3.32v2.62h-3.32zM303.5 182.4h2.80v2.62h-2.80zM303.5 184.2h2.80v1.82h-2.80zM280.7 189.4h3.32v2.62h-3.32zM280.7 192.9h3.32v2.12h-3.32zM283.5 194.6h3.52v2.42h-3.52zM286.4 198.1h3.62v1.92h-3.62zM243.6 199.8h3.42v2.22h-3.42zM269.3 201.6h3.72v2.42h-3.72zM272.1 201.6h2.92v2.42h-2.92zM280.7 201.6h3.32v2.42h-3.32zM252.2 205.1h3.82v1.92h-3.82zM280.7 205.1h3.32v1.92h-3.32zM249.3 206.8h3.72v2.22h-3.72zM192.3 208.6h3.72v2.42h-3.72zM223.7 208.6h3.32v2.42h-3.32zM229.4 208.6h3.62v2.42h-3.62zM266.4 208.6h3.62v2.42h-3.62zM183.8 210.3h3.22v1.75h-3.22zM198.0 210.3h3.02v2.72h-3.02zM212.3 210.3h3.72v2.72h-3.72zM297.8 210.3h3.22v2.72h-3.22zM223.7 212.0h3.32v2.02h-3.32zM289.2 212.0h3.82v2.02h-3.82zM300.6 212.0h3.42v2.02h-3.42zM155.3 215.5h3.72v1.77h-3.72zM240.8 215.5h3.22v2.52h-3.22zM252.2 215.5h3.82v2.52h-3.82zM192.3 217.3h3.72v2.72h-3.72zM212.3 219.0h3.72v2.02h-3.72zM246.5 219.0h3.52v2.02h-3.52zM249.3 219.0h3.72v2.02h-3.72zM263.6 219.0h3.42v2.02h-3.42zM272.1 219.0h2.92v2.02h-2.92zM283.5 219.0h3.52v2.02h-3.52zM189.5 220.8h3.52v2.22h-3.52zM286.4 220.8h3.62v2.22h-3.62zM104.0 222.5h3.02v2.52h-3.02zM106.9 222.5h3.12v2.52h-3.12zM121.1 224.2h2.92v1.82h-2.92zM263.6 226.0h3.42v2.02h-3.42zM109.7 227.7h3.32v2.32h-3.32zM155.3 227.7h2.85v1.78h-2.85zM186.6 227.7h3.42v2.32h-3.42zM101.2 229.5h3.82v2.52h-3.82zM286.4 229.5h3.62v2.52h-3.62zM121.1 231.2h2.92v1.76h-2.92zM260.7 231.2h3.32v1.82h-3.32zM294.9 231.2h3.12v1.82h-3.12zM183.8 234.7h3.22v1.75h-3.22zM189.5 234.7h3.52v2.32h-3.52zM195.2 234.7h3.82v2.32h-3.82zM252.2 234.7h3.82v2.32h-3.82zM198.0 236.4h3.02v2.62h-3.02zM255.0 236.4h3.02v2.62h-3.02zM297.8 236.4h3.22v2.62h-3.22zM132.5 238.2h3.52v1.82h-3.52zM158.2 238.2h2.80v1.82h-2.80zM121.1 239.9h2.92v2.12h-2.92zM158.2 239.9h2.80v1.78h-2.80zM277.8 241.7h3.22v2.32h-3.22zM24.2 243.4h3.82v2.62h-3.82zM106.9 245.2h3.12v1.82h-3.12zM115.4 245.2h3.62v1.82h-3.62zM200.9 245.2h3.12v1.82h-3.12zM218.0 245.2h3.02v1.71h-3.02zM101.2 250.4h2.82v2.62h-2.82zM115.4 250.4h3.62v2.62h-3.62zM252.2 250.4h3.82v1.73h-3.82zM283.5 250.4h3.52v2.62h-3.52zM246.5 252.1h3.52v1.78h-3.52z"/>
<path fill="#22a884" d="M300.6 180.7h3.42v2.32h-3.42zM266.4 196.4h3.62v2.62h-3.62zM292.1 201.6h2.92v2.42h-2.92zM300.6 206.8h3.42v2.22h-3.42zM283.5 210.3h3.52v2.72h-3.52zM283.5 212.0h3.52v2.02h-3.52zM252.2 217.3h3.82v2.72h-3.82zM297.8 217.3h3.22v2.72h-3.22zM189.5 224.2h3.52v1.82h-3.52zM257.9 224.2h3.12v1.82h-3.12zM240.8 226.0h3.22v2.02h-3.22zM297.8 227.7h3.22v2.32h-3.22zM92.6 231.2h3.42v1.82h-3.42zM106.9 231.2h3.12v1.82h-3.12zM255.0 233.0h3.02v2.02h-3.02zM257.9 238.2h3.12v1.82h-3.12zM269.3 241.7h3.72v2.32h-3.72zM252.2 243.4h3.82v2.62h-3.82zM272.1 243.4h2.92v2.62h-2.92zM229.4 245.2h3.62v1.82h-3.62z"/>
<path fill="#33638d" d="M292.1 182.4h2.92v2.62h-2.92zM289.2 184.2h3.82v1.82h-3.82zM280.7 191.1h3.32v1.92h-3.32zM289.2 196.4h3.82v2.62h-3.82zM255.0 198.1h3.02v1.92h-3.02zM294.9 206.8h3.12v2.22h-3.12zM195.2 208.6h3.82v2.42h-3.82zM198.0 208.6h3.02v2.42h-3.02zM41.3 212.0h3.72v2.02h-3.72zM124.0 212.0h3.02v2.02h-3.02zM200.9 212.0h3.12v2.02h-3.12zM44.2 213.8h3.82v2.22h-3.82zM61.3 215.5h3.72v2.52h-3.72zM95.5 215.5h3.52v2.52h-3.52zM203.7 215.5h3.32v2.52h-3.32zM41.3 217.3h3.72v2.72h-3.72zM95.5 217.3h3.52v2.72h-3.52zM72.7 219.0h3.32v2.02h-3.32zM209.4 219.0h3.62v2.02h-3.62zM47.0 220.8h3.02v2.22h-3.02zM52.7 220.8h3.32v2.22h-3.32zM126.8 220.8h3.22v2.22h-3.22zM289.2 220.8h3.82v2.22h-3.82zM44.2 222.5h3.82v2.52h-3.82zM129.7 222.5h3.32v2.52h-3.32zM44.2 224.2h3.82v1.82h-3.82zM49.9 226.0h3.12v2.02h-3.12zM121.1 226.0h2.92v2.02h-2.92zM141.1 226.0h2.92v2.02h-2.92zM27.1 227.7h2.92v2.32h-2.92zM41.3 227.7h3.72v2.32h-3.72zM47.0 227.7h3.02v2.32h-3.02zM118.3 229.5h3.72v2.52h-3.72zM141.1 229.5h2.92v2.52h-2.92zM218.0 229.5h3.02v2.52h-3.02zM27.1 231.2h2.92v1.82h-2.92zM61.3 231.2h3.72v1.82h-3.72zM132.5 231.2h3.52v1.82h-3.52zM138.2 231.2h3.82v1.82h-3.82zM186.6 231.2h3.42v1.82h-3.42zM272.1 231.2h2.92v1.82h-2.92zM141.1 233.0h2.92v2.02h-2.92zM49.9 234.7h3.12v2.32h-3.12zM72.7 234.7h3.32v2.32h-3.32zM52.7 236.4h3.32v2.62h-3.32zM135.4 236.4h3.62v2.62h-3.62zM143.9 238.2h3.12v1.82h-3.12zM89.8 239.9h3.22v2.12h-3.22zM129.7 239.9h3.32v2.12h-3.32zM55.6 241.7h3.42v2.32h-3.42zM129.7 241.7h3.32v2.32h-3.32zM203.7 241.7h3.32v2.32h-3.32zM27.1 243.4h2.92v2.62h-2.92zM67.0 243.4h3.02v2.62h-3.02zM141.1 243.4h2.92v2.62h-2.92zM38.5 245.2h3.52v1.82h-3.52zM143.9 245.2h3.12v1.82h-3.12zM38.5 246.9h3.52v2.12h-3.52zM84.1 246.9h2.92v1.75h-2.92zM95.5 246.9h3.52v2.12h-3.52zM141.1 246.9h2.92v2.12h-2.92zM212.3 246.9h3.72v2.12h-3.72zM126.8 248.6h3.22v2.42h-3.22zM189.5 250.4h2.84v2.62h-2.84z"/>
<path fill="#6ece58" d="M252.2 192.9h3.82v2.12h-3.82zM106.9 215.5h3.12v2.52h-3.12zM294.9 215.5h3.12v2.52h-3.12zM249.3 227.7h3.72v2.32h-3.72zM104.0 234.7h3.02v2.32h-3.02zM246.5 234.7h3.52v2.32h-3.52z"/>
<path fill="#20928c" d="M269.3 187.6h3.72v2.42h-3.72zM257.9 189.4h3.12v2.62h-3.12zM277.8 189.4h3.22v2.62h-3.22zM246.5 191.1h3.52v1.92h-3.52zM269.3 191.1h3.72v1.92h-3.72zM237.9 192.9h3.12v2.12h-3.12zM272.1 198.1h2.92v1.92h-2.92zM283.5 198.1h3.52v1.92h-3.52zM226.5 199.8h3.52v2.22h-3.52zM235.1 199.8h2.92v2.22h-2.92zM237.9 203.3h3.12v2.72h-3.12zM303.5 203.3h2.80v2.72h-2.80zM277.8 205.1h3.22v1.92h-3.22zM243.6 208.6h3.42v2.42h-3.42zM272.1 208.6h2.92v2.42h-2.92zM226.5 212.0h3.52v2.02h-3.52zM257.9 212.0h3.12v2.02h-3.12zM294.9 212.0h3.12v2.02h-3.12zM269.3 213.8h3.72v2.22h-3.72zM297.8 213.8h3.22v2.22h-3.22zM255.0 217.3h3.02v2.72h-3.02zM252.2 219.0h3.82v2.02h-3.82zM294.9 219.0h3.12v2.02h-3.12zM235.1 220.8h2.92v2.22h-2.92zM260.7 220.8h3.32v2.22h-3.32zM226.5 222.5h3.52v2.52h-3.52zM252.2 226.0h3.82v2.02h-3.82zM297.8 226.0h3.22v2.02h-3.22zM109.7 229.5h3.32v2.52h-3.32zM104.0 231.2h3.02v1.82h-3.02zM126.8 231.2h3.22v1.82h-3.22zM266.4 231.2h3.62v1.82h-3.62zM275.0 231.2h3.02v1.82h-3.02zM44.2 233.0h3.82v2.02h-3.82zM112.6 233.0h3.42v2.02h-3.42zM218.0 233.0h3.02v2.02h-3.02zM294.9 233.0h3.12v2.02h-3.12zM112.6 234.7h3.42v2.32h-3.42zM292.1 234.7h2.92v2.32h-2.92zM283.5 236.4h3.52v2.62h-3.52zM240.8 238.2h3.22v1.82h-3.22zM275.0 238.2h3.02v1.82h-3.02zM115.4 241.7h3.62v2.32h-3.62zM255.0 241.7h3.02v2.32h-3.02zM106.9 243.4h3.12v2.62h-3.12zM112.6 243.4h3.42v2.62h-3.42zM129.7 243.4h3.32v2.62h-3.32zM255.0 243.4h3.02v2.62h-3.02zM109.7 246.9h3.32v2.12h-3.32zM232.2 246.9h3.82v2.12h-3.82zM106.9 248.6h3.12v2.42h-3.12zM289.2 248.6h3.82v2.42h-3.82zM297.8 250.4h2.80v1.73h-2.80zM132.5 252.1h3.52v1.92h-3.52zM283.5 253.9h2.86v1.72h-2.86zM121.1 255.6h2.86v1.76h-2.86z"/>
<path fill="#5cc863" d="M277.8 206.8h3.22v2.22h-3.22zM272.1 213.8h2.92v2.22h-2.92zM237.9 222.5h3.12v2.52h-3.12zM198.0 227.7h3.02v2.32h-3.02zM203.7 229.5h3.32v2.52h-3.32zM283.5 238.2h3.52v1.82h-3.52zM235.1 241.7h2.92v2.32h-2.92zM220.8 245.2h3.22v1.82h-3.22z"/>
<path fill="#3dbc74" d="M283.5 203.3h3.52v2.72h-3.52zM303.5 208.6h2.80v2.42h-2.80zM260.7 226.0h3.32v2.02h-3.32zM229.4 227.7h3.62v2.32h-3.62zM277.8 231.2h3.22v1.82h-3.22zM283.5 234.7h3.52v2.32h-3.52zM240.8 236.4h3.22v2.62h-3.22zM124.0 238.2h3.02v1.82h-3.02zM235.1 239.9h2.92v2.12h-2.92zM280.7 245.2h3.32v1.82h-3.32z"/>
<path fill="#38598c" d="M275.0 191.1h3.02v1.92h-3.02zM277.8 191.1h3.22v1.92h-3.22zM260.7 196.4h3.32v2.62h-3.32zM240.8 210.3h3.22v2.72h-3.22zM95.5 212.0h3.52v2.02h-3.52zM98.3 212.0h3.72v2.02h-3.72zM101.2 215.5h3.82v2.52h-3.82zM141.1 215.5h2.92v2.52h-2.92zM24.2 219.0h3.82v2.02h-3.82zM98.3 220.8h3.72v2.22h-3.72zM61.3 224.2h3.72v1.82h-3.72zM143.9 224.2h3.12v1.82h-3.12zM61.3 226.0h3.72v2.02h-3.72zM52.7 227.7h3.32v2.32h-3.32zM67.0 227.7h3.02v2.32h-3.02zM98.3 227.7h3.72v2.32h-3.72zM277.8 227.7h3.22v2.32h-3.22zM32.8 229.5h3.22v2.52h-3.22zM38.5 229.5h3.52v2.52h-3.52zM81.2 229.5h3.82v2.52h-3.82zM86.9 231.2h3.12v1.82h-3.12zM64.1 233.0h2.92v2.02h-2.92zM72.7 233.0h3.32v2.02h-3.32zM124.0 233.0h3.02v2.02h-3.02zM69.8 234.7h3.22v2.32h-3.22zM75.5 234.7h3.52v2.32h-3.52zM58.4 238.2h3.62v1.82h-3.62zM64.1 238.2h2.92v1.82h-2.92zM95.5 238.2h3.52v1.82h-3.52zM27.1 239.9h2.92v2.12h-2.92zM52.7 239.9h3.32v2.12h-3.32zM55.6 239.9h3.42v2.12h-3.42zM47.0 241.7h3.02v2.32h-3.02zM78.4 241.7h3.62v2.32h-3.62zM209.4 241.7h3.62v2.32h-3.62zM246.5 241.7h3.52v2.32h-3.52zM49.9 243.4h3.12v2.62h-3.12zM32.8 246.9h3.22v2.12h-3.22zM61.3 246.9h3.72v1.75h-3.72zM21.4 248.6h3.62v1.79h-3.62zM24.2 248.6h3.82v1.79h-3.82zM29.9 248.6h3.12v1.79h-3.12zM212.3 248.6h2.83v1.79h-2.83zM38.5 250.4h2.84v2.62h-2.84zM75.5 252.1h2.88v1.78h-2.88z"/>
<path fill="#228c8d" d="M286.4 182.4h3.62v2.62h-3.62zM297.8 182.4h3.22v2.62h-3.22zM249.3 189.4h3.72v2.62h-3.72zM240.8 192.9h3.22v2.12h-3.22zM255.0 196.4h3.02v2.62h-3.02zM263.6 196.4h3.42v2.62h-3.42zM294.9 198.1h3.12v1.92h-3.12zM249.3 199.8h3.72v2.22h-3.72zM263.6 199.8h3.42v2.22h-3.42zM269.3 199.8h3.72v2.22h-3.72zM300.6 199.8h3.42v2.22h-3.42zM232.2 203.3h3.82v2.72h-3.82zM257.9 203.3h3.12v2.72h-3.12zM260.7 203.3h3.32v2.72h-3.32zM203.7 206.8h3.32v2.22h-3.32zM229.4 206.8h3.62v2.22h-3.62zM240.8 213.8h3.22v2.22h-3.22zM115.4 215.5h3.62v2.52h-3.62zM212.3 215.5h3.72v2.52h-3.72zM220.8 215.5h3.22v2.52h-3.22zM223.7 215.5h3.32v2.52h-3.32zM246.5 215.5h3.52v2.52h-3.52zM246.5 217.3h3.52v2.72h-3.52zM75.5 219.0h3.52v2.02h-3.52zM200.9 220.8h3.12v2.22h-3.12zM237.9 220.8h3.12v2.22h-3.12zM189.5 222.5h3.52v2.52h-3.52zM243.6 222.5h3.42v2.52h-3.42zM129.7 224.2h3.32v1.82h-3.32zM240.8 224.2h3.22v1.82h-3.22zM240.8 227.7h3.22v2.32h-3.22zM255.0 227.7h3.02v2.32h-3.02zM275.0 227.7h3.02v2.32h-3.02zM249.3 229.5h3.72v2.52h-3.72zM200.9 231.2h3.12v1.82h-3.12zM272.1 234.7h2.92v2.32h-2.92zM277.8 234.7h3.22v2.32h-3.22zM252.2 236.4h3.82v2.62h-3.82zM255.0 238.2h3.02v1.82h-3.02zM95.5 239.9h3.52v2.12h-3.52zM255.0 239.9h3.02v2.12h-3.02zM232.2 241.7h3.82v2.32h-3.82zM240.8 241.7h3.22v2.32h-3.22zM292.1 241.7h2.92v2.32h-2.92zM200.9 243.4h3.12v2.62h-3.12zM226.5 243.4h3.52v2.62h-3.52zM243.6 243.4h3.42v2.62h-3.42zM257.9 243.4h3.12v2.62h-3.12zM243.6 245.2h3.42v1.82h-3.42zM275.0 245.2h3.02v1.82h-3.02zM98.3 246.9h3.72v2.12h-3.72zM104.0 246.9h3.02v2.12h-3.02zM121.1 246.9h2.92v2.12h-2.92zM240.8 246.9h3.22v2.12h-3.22zM263.6 246.9h3.42v2.12h-3.42zM109.7 248.6h3.32v2.42h-3.32zM237.9 248.6h3.12v2.42h-3.12zM260.7 250.4h2.87v2.62h-2.87zM212.3 259.1h2.83v1.75h-2.83z"/>
<path fill="#443a83" d="M126.8 210.3h3.22v2.72h-3.22zM27.1 212.0h2.92v2.02h-2.92zM49.9 212.0h3.12v2.02h-3.12zM64.1 212.0h2.92v2.02h-2.92zM69.8 213.8h3.22v2.22h-3.22zM78.4 213.8h3.62v2.22h-3.62zM126.8 213.8h3.22v2.22h-3.22zM29.9 220.8h3.12v2.22h-3.12zM118.3 220.8h3.72v2.22h-3.72zM132.5 220.8h3.52v2.22h-3.52zM69.8 222.5h3.22v2.52h-3.22zM21.4 224.2h3.62v1.82h-3.62zM78.4 224.2h3.62v1.82h-3.62zM126.8 226.0h3.22v2.02h-3.22zM138.2 229.5h3.82v2.52h-3.82zM118.3 238.2h3.72v1.82h-3.72zM21.4 239.9h3.62v2.12h-3.62zM86.9 241.7h3.12v2.32h-3.12zM64.1 246.9h2.92v1.75h-2.92zM52.7 250.4h3.32v1.73h-3.32z"/>
<path fill="none" stroke="#fff" stroke-opacity="0.12" stroke-width="0.6" d="M24.25 166.7V260.8M27.10 166.7V260.8M29.95 166.7V260.8M32.80 166.7V260.8M35.64 166.7V260.8M38.49 166.7V260.8M41.34 166.7V260.8M44.19 166.7V260.8M47.04 166.7V260.8M49.89 166.7V260.8M52.74 166.7V260.8M55.59 166.7V260.8M58.44 166.7V260.8M61.29 166.7V260.8M64.13 166.7V260.8M66.98 166.7V260.8M69.83 166.7V260.8M72.68 166.7V260.8M75.53 166.7V260.8M78.38 166.7V260.8M81.23 166.7V260.8M84.08 166.7V260.8M86.93 166.7V260.8M89.78 166.7V260.8M92.62 166.7V260.8M95.47 166.7V260.8M98.32 166.7V260.8M101.17 166.7V260.8M104.02 166.7V260.8M106.87 166.7V260.8M109.72 166.7V260.8M112.57 166.7V260.8M115.42 166.7V260.8M118.27 166.7V260.8M121.12 166.7V260.8M123.96 166.7V260.8M126.81 166.7V260.8M129.66 166.7V260.8M132.51 166.7V260.8M135.36 166.7V260.8M138.21 166.7V260.8M141.06 166.7V260.8M143.91 166.7V260.8M146.76 166.7V260.8M149.61 166.7V260.8M152.45 166.7V260.8M155.30 166.7V260.8M158.15 166.7V260.8M161.00 166.7V260.8M163.85 166.7V260.8M166.70 166.7V260.8M169.55 166.7V260.8M172.40 166.7V260.8M175.25 166.7V260.8M178.10 166.7V260.8M180.94 166.7V260.8M183.79 166.7V260.8M186.64 166.7V260.8M189.49 166.7V260.8M192.34 166.7V260.8M195.19 166.7V260.8M198.04 166.7V260.8M200.89 166.7V260.8M203.74 166.7V260.8M206.59 166.7V260.8M209.43 166.7V260.8M212.28 166.7V260.8M215.13 166.7V260.8M217.98 166.7V260.8M220.83 166.7V260.8M223.68 166.7V260.8M226.53 166.7V260.8M229.38 166.7V260.8M232.23 166.7V260.8M235.08 166.7V260.8M237.92 166.7V260.8M240.77 166.7V260.8M243.62 166.7V260.8M246.47 166.7V260.8M249.32 166.7V260.8M252.17 166.7V260.8M255.02 166.7V260.8M257.87 166.7V260.8M260.72 166.7V260.8M263.56 166.7V260.8M266.41 166.7V260.8M269.26 166.7V260.8M272.11 166.7V260.8M274.96 166.7V260.8M277.81 166.7V260.8M280.66 166.7V260.8M283.51 166.7V260.8M286.36 166.7V260.8M289.21 166.7V260.8M292.06 166.7V260.8M294.90 166.7V260.8M297.75 166.7V260.8M300.60 166.7V260.8M303.45 166.7V260.8M21.4 168.47H306.3M21.4 170.21H306.3M21.4 171.96H306.3M21.4 173.70H306.3M21.4 175.44H306.3M21.4 177.19H306.3M21.4 178.93H306.3M21.4 180.67H306.3M21.4 182.41H306.3M21.4 184.16H306.3M21.4 185.90H306.3M21.4 187.64H306.3M21.4 189.39H306.3M21.4 191.13H306.3M21.4 192.87H306.3M21.4 194.62H306.3M21.4 196.36H306.3M21.4 198.10H306.3M21.4 199.84H306.3M21.4 201.59H306.3M21.4 203.33H306.3M21.4 205.07H306.3M21.4 206.82H306.3M21.4 208.56H306.3M21.4 210.30H306.3M21.4 212.05H306.3M21.4 213.79H306.3M21.4 215.53H306.3M21.4 217.27H306.3M21.4 219.02H306.3M21.4 220.76H306.3M21.4 222.50H306.3M21.4 224.25H306.3M21.4 225.99H306.3M21.4 227.73H306.3M21.4 229.48H306.3M21.4 231.22H306.3M21.4 232.96H306.3M21.4 234.70H306.3M21.4 236.45H306.3M21.4 238.19H306.3M21.4 239.93H306.3M21.4 241.68H306.3M21.4 243.42H306.3M21.4 245.16H306.3M21.4 246.91H306.3M21.4 248.65H306.3M21.4 250.39H306.3M21.4 252.13H306.3M21.4 253.88H306.3M21.4 255.62H306.3M21.4 257.36H306.3M21.4 259.11H306.3"/>
<path fill="#48186a" d="M464.7 222.4h2.80v2.62h-2.80z"/>
<path fill="#2b758e" d="M521.7 175.3h3.32v1.79h-3.32zM544.5 177.1h2.80v1.92h-2.80zM621.4 177.1h2.85v1.73h-2.85zM544.5 178.8h2.80v2.22h-2.80zM638.5 180.6h2.85v1.72h-2.85zM507.4 182.3h3.62v2.72h-3.62zM516.0 184.1h3.02v1.92h-3.02zM621.4 184.1h2.85v1.92h-2.85zM518.8 185.8h3.22v2.22h-3.22zM504.6 187.5h3.42v2.52h-3.42zM621.4 187.5h2.85v2.52h-2.85zM507.4 189.3h3.62v2.72h-3.62zM590.1 191.0h2.80v2.02h-2.80zM504.6 196.3h3.42v2.72h-3.42zM498.9 199.7h3.12v2.32h-3.12zM521.7 199.7h2.80v1.79h-2.80zM476.1 203.2h2.92v1.82h-2.92zM504.6 203.2h3.42v1.82h-3.42zM510.2 203.2h3.82v1.82h-3.82zM484.6 205.0h3.42v2.02h-3.42zM427.6 206.7h3.42v2.32h-3.42zM504.6 206.7h3.42v2.32h-3.42zM518.8 206.7h2.85v2.32h-2.85zM604.3 208.5h2.85v1.70h-2.85zM473.2 210.2h3.82v1.82h-3.82zM459.0 211.9h2.80v2.12h-2.80zM421.9 217.2h3.12v1.82h-3.12zM464.7 217.2h2.80v1.72h-2.80zM652.8 217.2h2.80v1.72h-2.80zM416.2 218.9h3.82v2.12h-3.82zM524.5 218.9h2.85v2.12h-2.85zM459.0 220.7h3.02v2.32h-3.02zM467.5 220.7h2.85v1.70h-2.85zM493.2 220.7h2.82v2.32h-2.82zM484.6 222.4h3.42v2.62h-3.42zM496.0 222.4h3.02v2.62h-3.02zM501.7 222.4h3.32v2.62h-3.32zM604.3 222.4h2.85v1.75h-2.85zM387.7 227.6h3.32v2.42h-3.32zM404.8 229.4h3.22v2.62h-3.22zM484.6 229.4h3.42v2.62h-3.42zM382.0 232.9h3.02v2.12h-3.02zM433.3 232.9h2.85v2.12h-2.85zM439.0 232.9h2.85v2.12h-2.85zM516.0 232.9h3.02v2.12h-3.02zM416.2 234.6h3.82v2.42h-3.82zM590.1 234.6h2.80v1.75h-2.80zM652.8 234.6h2.80v2.42h-2.80zM461.8 238.1h2.85v1.73h-2.85zM476.1 238.1h2.92v1.92h-2.92zM456.1 239.8h2.92v1.78h-2.92zM478.9 239.8h3.12v2.22h-3.12zM413.4 243.3h3.62v2.72h-3.62zM387.7 245.1h3.32v1.92h-3.32zM516.0 246.8h3.02v1.75h-3.02zM421.9 248.5h2.85v2.52h-2.85z"/>
<path fill="#29af7f" d="M504.6 198.0h3.42v2.02h-3.42zM516.0 210.2h3.02v1.82h-3.02zM419.1 218.9h2.92v2.12h-2.92zM427.6 222.4h3.42v2.62h-3.42zM421.9 224.1h3.12v1.92h-3.12zM513.1 227.6h2.92v2.42h-2.92zM493.2 231.1h2.82v1.92h-2.82zM504.6 232.9h3.42v2.12h-3.42zM513.1 232.9h2.92v2.12h-2.92zM382.0 236.3h3.02v2.72h-3.02zM481.8 238.1h3.22v1.92h-3.22zM370.6 241.6h3.42v2.42h-3.42zM507.4 243.3h3.62v1.76h-3.62zM510.2 243.3h3.82v2.72h-3.82zM513.1 243.3h2.92v2.72h-2.92zM384.9 245.1h3.12v1.92h-3.12zM504.6 245.1h2.80v1.71h-2.80z"/>
<path fill="#3e4989" d="M521.7 178.8h2.80v2.22h-2.80zM604.3 182.3h2.85v2.72h-2.85zM461.8 217.2h3.22v1.82h-3.22zM541.6 218.9h3.42v1.76h-3.42zM610.0 227.6h2.85v2.42h-2.85zM382.0 229.4h3.02v2.62h-3.02zM652.8 238.1h2.80v1.92h-2.80zM447.6 243.3h3.42v2.72h-3.42zM481.8 250.3h2.80v1.73h-2.80z"/>
<path fill="#355e8d" d="M544.5 187.5h2.80v2.52h-2.80zM496.0 189.3h3.02v2.72h-3.02zM607.2 191.0h2.80v1.77h-2.80zM604.3 194.5h3.72v2.52h-3.72zM550.2 196.3h2.80v2.72h-2.80zM501.7 199.7h3.32v2.32h-3.32zM516.0 199.7h3.02v2.32h-3.02zM612.9 201.5h2.80v1.73h-2.80zM453.2 203.2h2.90v1.77h-2.90zM467.5 205.0h2.85v2.02h-2.85zM481.8 205.0h3.22v2.02h-3.22zM507.4 205.0h3.62v2.02h-3.62zM459.0 215.4h2.80v1.77h-2.80zM496.0 220.7h3.02v2.32h-3.02zM610.0 229.4h3.02v2.62h-3.02zM621.4 234.6h2.85v1.75h-2.85zM453.2 243.3h2.90v2.72h-2.90z"/>
<path fill="#31668e" d="M607.2 184.1h2.80v1.70h-2.80zM610.0 199.7h2.85v2.32h-2.85zM421.9 210.2h3.12v1.82h-3.12zM470.4 211.9h3.62v2.12h-3.62zM612.9 217.2h2.80v1.72h-2.80zM447.6 218.9h2.80v2.12h-2.80zM396.2 220.7h3.82v2.32h-3.82zM590.1 220.7h2.80v1.70h-2.80zM610.0 222.4h2.85v1.75h-2.85zM404.8 224.1h3.22v1.92h-3.22zM496.0 225.9h3.02v2.12h-3.02zM652.8 225.9h2.80v2.12h-2.80zM507.4 229.4h3.62v2.62h-3.62zM638.5 232.9h2.85v1.70h-2.85zM470.4 234.6h2.80v2.42h-2.80zM396.2 243.3h3.82v2.72h-3.82zM436.2 243.3h2.82v2.72h-2.82z"/>
<path fill="#2f6b8e" d="M604.3 178.8h2.85v2.22h-2.85zM501.7 185.8h3.32v2.22h-3.32zM498.9 191.0h3.12v2.02h-3.12zM621.4 192.8h2.85v2.22h-2.85zM544.5 196.3h2.80v2.72h-2.80zM604.3 196.3h3.72v2.72h-3.72zM459.0 206.7h3.02v1.76h-3.02zM610.0 206.7h2.85v1.76h-2.85zM481.8 208.5h3.22v2.52h-3.22zM544.5 208.5h2.80v1.70h-2.80zM410.5 211.9h3.52v2.12h-3.52zM447.6 211.9h3.42v2.12h-3.42zM464.7 211.9h2.80v2.12h-2.80zM444.7 213.7h3.32v1.73h-3.32zM484.6 213.7h3.42v2.32h-3.42zM590.1 217.2h2.80v1.82h-2.80zM587.2 220.7h3.82v2.32h-3.82zM396.2 222.4h3.82v2.62h-3.82zM439.0 222.4h3.02v2.62h-3.02zM507.4 222.4h3.62v2.62h-3.62zM587.2 222.4h2.85v1.75h-2.85zM419.1 224.1h2.92v1.92h-2.92zM481.8 224.1h3.22v1.92h-3.22zM376.3 227.6h3.72v2.42h-3.72zM410.5 229.4h3.52v2.62h-3.52zM524.5 229.4h2.85v2.62h-2.85zM612.9 231.1h2.80v1.92h-2.80zM396.2 232.9h3.82v2.12h-3.82zM410.5 234.6h3.52v2.42h-3.52zM410.5 238.1h3.52v1.92h-3.52zM478.9 238.1h3.12v1.92h-3.12zM544.5 239.8h2.80v1.78h-2.80zM604.3 239.8h2.85v1.78h-2.85z"/>
<path fill="#2e6e8e" d="M607.2 187.5h2.82v2.52h-2.82zM610.0 189.3h3.02v1.73h-3.02zM621.4 189.3h2.85v2.72h-2.85zM524.5 192.8h2.85v1.72h-2.85zM490.3 194.5h3.72v2.52h-3.72zM550.2 198.0h2.80v1.75h-2.80zM612.9 198.0h2.80v1.75h-2.80zM481.8 201.5h3.22v2.52h-3.22zM484.6 201.5h3.42v2.52h-3.42zM467.5 203.2h2.85v1.82h-2.85zM493.2 203.2h2.82v1.82h-2.82zM541.6 203.2h3.42v1.82h-3.42zM544.5 203.2h2.80v1.82h-2.80zM433.3 205.0h2.85v2.02h-2.85zM513.1 205.0h2.92v2.02h-2.92zM587.2 211.9h2.85v1.79h-2.85zM504.6 215.4h3.42v2.62h-3.42zM544.5 215.4h2.80v1.77h-2.80zM504.6 217.2h3.42v1.82h-3.42zM461.8 218.9h2.85v2.12h-2.85zM456.1 222.4h2.92v2.62h-2.92zM387.7 224.1h3.32v1.92h-3.32zM410.5 224.1h3.52v1.92h-3.52zM382.0 225.9h3.02v2.12h-3.02zM604.3 227.6h3.72v1.78h-3.72zM387.7 229.4h3.32v2.62h-3.32zM612.9 229.4h2.80v2.62h-2.80zM404.8 231.1h3.22v1.92h-3.22zM416.2 231.1h3.82v1.92h-3.82zM478.9 232.9h3.12v2.12h-3.12zM481.8 234.6h3.22v2.42h-3.22zM484.6 234.6h3.42v2.42h-3.42zM501.7 236.3h3.32v2.72h-3.32zM544.5 238.1h2.80v1.92h-2.80zM382.0 241.6h3.02v2.42h-3.02zM444.7 241.6h3.32v1.72h-3.32zM447.6 241.6h3.42v2.42h-3.42zM421.9 250.3h2.85v1.73h-2.85zM621.4 252.0h2.85v1.78h-2.85z"/>
<path fill="#3b528b" d="M524.5 175.3h2.85v2.72h-2.85zM604.3 184.1h3.72v1.70h-3.72zM610.0 198.0h3.02v2.02h-3.02zM621.4 201.5h2.85v1.73h-2.85zM478.9 203.2h3.12v1.82h-3.12zM496.0 205.0h3.02v2.02h-3.02zM607.2 218.9h2.80v1.76h-2.80zM612.9 220.7h2.80v1.70h-2.80zM450.4 224.1h3.62v1.92h-3.62zM612.9 224.1h2.80v1.92h-2.80zM450.4 234.6h2.85v1.75h-2.85zM439.0 238.1h2.85v1.92h-2.85zM402.0 248.5h3.02v2.52h-3.02z"/>
<path fill="#7ad151" d="M513.1 234.6h2.92v2.42h-2.92zM416.2 238.1h3.82v1.92h-3.82z"/>
<path fill="#1fa188" d="M521.7 182.3h2.80v1.76h-2.80zM496.0 201.5h3.02v2.52h-3.02zM484.6 203.2h3.42v1.82h-3.42zM424.8 206.7h3.22v2.32h-3.22zM544.5 206.7h2.80v2.32h-2.80zM427.6 208.5h3.42v2.52h-3.42zM516.0 208.5h3.02v2.52h-3.02zM507.4 210.2h3.62v1.82h-3.62zM407.7 213.7h3.32v2.32h-3.32zM407.7 218.9h3.32v2.12h-3.32zM421.9 218.9h3.12v2.12h-3.12zM510.2 220.7h3.82v2.32h-3.82zM410.5 225.9h3.52v2.12h-3.52zM424.8 225.9h3.22v2.12h-3.22zM518.8 227.6h3.22v2.42h-3.22zM504.6 231.1h3.42v1.92h-3.42zM518.8 231.1h2.85v1.92h-2.85zM390.6 236.3h3.42v2.72h-3.42zM419.1 236.3h2.92v2.72h-2.92zM518.8 236.3h2.85v2.72h-2.85zM404.8 238.1h3.22v1.92h-3.22zM421.9 238.1h3.12v1.92h-3.12zM550.2 238.1h2.80v1.73h-2.80zM373.5 239.8h3.52v2.22h-3.52zM430.5 241.6h3.52v2.42h-3.52zM516.0 243.3h3.02v1.76h-3.02zM481.8 246.8h2.80v1.75h-2.80z"/>
<path fill="#482374" d="M518.8 173.6h3.22v2.42h-3.22zM538.8 173.6h3.22v1.74h-3.22zM544.5 173.6h3.52v2.42h-3.52zM567.2 173.6h3.82v1.74h-3.82zM590.1 173.6h2.92v1.74h-2.92zM598.6 173.6h3.42v1.74h-3.42zM641.4 173.6h3.62v1.74h-3.62zM621.4 194.5h2.85v2.52h-2.85zM441.9 201.5h3.12v1.73h-3.12zM447.6 201.5h3.42v2.52h-3.42z"/>
<path fill="#24878e" d="M630.0 177.1h2.80v1.73h-2.80zM518.8 178.8h3.22v2.22h-3.22zM612.9 178.8h2.80v1.77h-2.80zM510.2 182.3h3.82v2.72h-3.82zM584.4 182.3h2.80v1.76h-2.80zM513.1 184.1h2.92v1.92h-2.92zM513.1 187.5h2.92v2.52h-2.92zM513.1 189.3h2.92v2.72h-2.92zM496.0 191.0h3.02v2.02h-3.02zM513.1 191.0h2.92v2.02h-2.92zM501.7 203.2h3.32v1.82h-3.32zM635.7 203.2h3.32v1.77h-3.32zM516.0 205.0h3.02v2.02h-3.02zM433.3 206.7h2.85v2.32h-2.85zM516.0 206.7h3.02v2.32h-3.02zM541.6 206.7h3.42v2.32h-3.42zM501.7 208.5h3.32v2.52h-3.32zM447.6 210.2h3.42v1.82h-3.42zM481.8 210.2h3.22v1.82h-3.22zM419.1 211.9h2.92v2.12h-2.92zM433.3 211.9h2.85v2.12h-2.85zM456.1 213.7h2.92v2.32h-2.92zM464.7 213.7h2.80v1.73h-2.80zM481.8 213.7h3.22v2.32h-3.22zM424.8 215.4h3.22v2.62h-3.22zM484.6 215.4h3.42v2.62h-3.42zM447.6 217.2h2.80v1.82h-2.80zM413.4 218.9h3.62v2.12h-3.62zM439.0 218.9h2.85v2.12h-2.85zM402.0 220.7h3.02v2.32h-3.02zM419.1 220.7h2.92v2.32h-2.92zM430.5 220.7h3.52v2.32h-3.52zM473.2 220.7h3.82v1.70h-3.82zM481.8 220.7h3.22v2.32h-3.22zM399.1 224.1h2.92v1.92h-2.92zM501.7 224.1h3.32v1.92h-3.32zM430.5 225.9h3.52v2.12h-3.52zM450.4 225.9h2.85v1.73h-2.85zM484.6 225.9h3.42v2.12h-3.42zM638.5 225.9h2.85v1.73h-2.85zM416.2 227.6h3.82v2.42h-3.82zM430.5 227.6h3.52v2.42h-3.52zM510.2 227.6h3.82v2.42h-3.82zM379.2 231.1h2.82v1.92h-2.82zM439.0 231.1h3.02v1.92h-3.02zM513.1 231.1h2.92v1.92h-2.92zM370.6 232.9h3.42v2.12h-3.42zM416.2 232.9h3.82v2.12h-3.82zM421.9 232.9h3.12v2.12h-3.12zM652.8 232.9h2.80v2.12h-2.80zM387.7 234.6h3.32v2.42h-3.32zM439.0 236.3h3.02v2.72h-3.02zM498.9 236.3h3.12v2.72h-3.12zM510.2 236.3h3.82v2.72h-3.82zM393.4 238.1h3.62v1.92h-3.62zM516.0 238.1h3.02v1.92h-3.02zM379.2 239.8h2.82v2.22h-2.82zM484.6 239.8h3.42v2.22h-3.42zM481.8 241.6h3.22v2.42h-3.22zM416.2 245.1h3.82v1.92h-3.82zM612.9 245.1h2.80v1.71h-2.80zM387.7 246.8h3.32v2.22h-3.32zM404.8 248.5h2.85v1.79h-2.85z"/>
<path fill="#433d84" d="M635.7 184.1h2.80v1.70h-2.80z"/>
<path fill="#472d7b" d="M436.2 201.5h2.82v1.73h-2.82zM439.0 201.5h3.02v2.52h-3.02zM450.4 201.5h3.62v2.52h-3.62zM456.1 201.5h2.92v1.73h-2.92zM464.7 224.1h2.80v1.79h-2.80zM610.0 231.1h3.02v1.76h-3.02zM439.0 245.1h2.85v1.71h-2.85z"/>
<path fill="#25ab82" d="M518.8 177.1h2.85v1.92h-2.85zM518.8 187.5h3.22v2.52h-3.22zM521.7 187.5h2.80v1.79h-2.80zM467.5 210.2h3.52v1.75h-3.52zM427.6 213.7h3.42v2.32h-3.42zM419.1 217.2h2.92v1.82h-2.92zM496.0 217.2h3.02v1.82h-3.02zM516.0 217.2h3.02v1.82h-3.02zM490.3 222.4h3.72v2.62h-3.72zM393.4 224.1h3.62v1.92h-3.62zM516.0 231.1h3.02v1.92h-3.02zM387.7 239.8h3.32v2.22h-3.32zM496.0 241.6h3.02v2.42h-3.02zM481.8 243.3h3.22v2.72h-3.22zM513.1 245.1h2.85v1.92h-2.85zM370.6 246.8h3.42v1.75h-3.42zM384.9 246.8h3.12v1.75h-3.12zM387.7 250.3h3.32v1.73h-3.32zM419.1 250.3h2.92v1.73h-2.92z"/>
<path fill="#56c667" d="M439.0 203.2h2.85v1.82h-2.85zM487.5 213.7h3.52v2.32h-3.52zM521.7 220.7h3.32v1.70h-3.32zM419.1 231.1h2.92v1.92h-2.92zM390.6 239.8h3.42v2.22h-3.42zM496.0 239.8h3.02v2.22h-3.02zM376.3 241.6h3.72v2.42h-3.72z"/>
<path fill="#46c06f" d="M501.7 210.2h3.32v1.82h-3.32zM513.1 222.4h2.92v2.62h-2.92zM518.8 229.4h3.22v2.62h-3.22zM387.7 232.9h3.32v2.12h-3.32zM424.8 232.9h3.22v2.12h-3.22zM413.4 234.6h3.62v2.42h-3.62zM504.6 238.1h3.42v1.92h-3.42z"/>
<path fill="#453781" d="M590.1 203.2h2.80v1.82h-2.80zM441.9 206.7h2.80v2.32h-2.80zM473.2 217.2h3.82v1.72h-3.82zM652.8 236.3h2.80v2.72h-2.80z"/>
<path fill="#482979" d="M533.1 173.6h2.92v1.74h-2.92zM535.9 173.6h3.12v1.74h-3.12zM584.4 173.6h3.62v1.74h-3.62zM595.8 173.6h3.22v1.74h-3.22zM607.2 173.6h2.82v2.42h-2.82zM618.6 173.6h3.42v1.74h-3.42zM632.8 173.6h3.22v1.74h-3.22zM638.5 173.6h3.52v1.74h-3.52zM649.9 173.6h3.12v1.74h-3.12zM652.8 173.6h2.80v2.42h-2.80zM461.8 201.5h3.22v2.52h-3.22zM473.2 201.5h3.82v1.73h-3.82zM453.2 218.9h2.90v2.12h-2.90zM587.2 227.6h2.85v2.42h-2.85zM453.2 239.8h3.82v1.78h-3.82z"/>
<path fill="#1f9e89" d="M510.2 185.8h3.82v2.22h-3.82zM518.8 192.8h3.22v2.22h-3.22zM607.2 201.5h2.82v2.52h-2.82zM450.4 203.2h3.62v1.82h-3.62zM541.6 205.0h3.42v2.02h-3.42zM498.9 215.4h3.12v2.62h-3.12zM427.6 217.2h3.42v1.82h-3.42zM513.1 224.1h2.92v1.92h-2.92zM459.0 225.9h2.80v1.73h-2.80zM487.5 227.6h3.52v2.42h-3.52zM430.5 229.4h3.52v2.62h-3.52zM504.6 229.4h3.42v2.62h-3.42zM516.0 229.4h3.02v2.62h-3.02zM487.5 231.1h3.52v1.92h-3.52zM484.6 232.9h3.42v2.12h-3.42zM433.3 234.6h2.85v2.42h-2.85zM396.2 238.1h3.82v1.92h-3.82zM407.7 238.1h3.32v1.92h-3.32zM413.4 238.1h3.62v1.92h-3.62zM610.0 238.1h2.85v1.73h-2.85zM384.9 239.8h3.12v2.22h-3.12zM407.7 239.8h3.32v2.22h-3.32zM430.5 239.8h3.52v2.22h-3.52zM478.9 241.6h3.12v2.42h-3.12zM404.8 243.3h3.22v2.72h-3.22zM487.5 245.1h3.52v1.92h-3.52zM621.4 245.1h2.85v1.92h-2.85z"/>
<path fill="#26ad81" d="M510.2 191.0h3.82v2.02h-3.82zM507.4 206.7h3.62v2.32h-3.62zM493.2 208.5h2.82v2.52h-2.82zM413.4 210.2h3.62v1.82h-3.62zM652.8 210.2h2.80v1.82h-2.80zM496.0 215.4h3.02v2.62h-3.02zM430.5 217.2h3.52v1.82h-3.52zM433.3 218.9h2.85v2.12h-2.85zM504.6 218.9h3.42v2.12h-3.42zM476.1 231.1h2.92v1.92h-2.92zM496.0 231.1h3.02v1.92h-3.02zM410.5 232.9h3.52v2.12h-3.52zM493.2 232.9h2.82v2.12h-2.82zM504.6 234.6h3.42v2.42h-3.42zM518.8 234.6h2.85v2.42h-2.85zM373.5 236.3h3.52v2.72h-3.52zM504.6 236.3h3.42v2.72h-3.42zM410.5 239.8h3.52v2.22h-3.52zM476.1 239.8h2.92v2.22h-2.92zM384.9 243.3h3.12v2.72h-3.12zM421.9 245.1h3.12v1.92h-3.12zM501.7 245.1h3.32v1.71h-3.32z"/>
<path fill="#34618d" d="M541.6 175.3h3.42v2.72h-3.42zM604.3 177.1h2.85v1.92h-2.85zM521.7 180.6h2.80v2.42h-2.80zM507.4 184.1h3.62v1.92h-3.62zM541.6 189.3h3.42v1.73h-3.42zM607.2 189.3h2.82v2.72h-2.82zM612.9 194.5h2.80v1.76h-2.80zM621.4 196.3h2.85v2.72h-2.85zM652.8 198.0h2.80v1.75h-2.80zM510.2 199.7h3.82v2.32h-3.82zM587.2 199.7h2.85v2.32h-2.85zM610.0 203.2h2.85v1.77h-2.85zM444.7 208.5h3.32v2.52h-3.32zM478.9 210.2h3.12v1.82h-3.12zM541.6 210.2h2.85v1.75h-2.85zM544.5 211.9h2.80v1.79h-2.80zM501.7 213.7h3.32v2.32h-3.32zM481.8 218.9h3.22v2.12h-3.22zM424.8 220.7h3.22v2.32h-3.22zM441.9 222.4h2.80v1.75h-2.80zM402.0 224.1h3.02v1.92h-3.02zM439.0 225.9h3.02v2.12h-3.02zM470.4 236.3h2.80v1.79h-2.80zM436.2 239.8h2.82v1.78h-2.82zM450.4 239.8h3.62v2.22h-3.62zM652.8 239.8h2.80v1.78h-2.80zM439.0 243.3h2.85v2.72h-2.85zM450.4 243.3h3.62v2.72h-3.62zM612.9 243.3h2.80v2.72h-2.80z"/>
<path fill="#9dd93b" d="M513.1 203.2h2.92v1.82h-2.92zM393.4 220.7h3.62v2.32h-3.62zM498.9 220.7h3.12v2.32h-3.12zM510.2 241.6h3.82v2.42h-3.82zM404.8 245.1h3.22v1.92h-3.22z"/>
<path fill="#1f948c" d="M544.5 175.3h2.80v2.72h-2.80zM513.1 178.8h2.92v2.22h-2.92zM516.0 178.8h3.02v2.22h-3.02zM541.6 185.8h3.42v2.22h-3.42zM510.2 189.3h3.82v2.72h-3.82zM504.6 192.8h3.42v2.22h-3.42zM590.1 194.5h2.80v1.76h-2.80zM496.0 196.3h3.02v2.72h-3.02zM498.9 196.3h3.12v2.72h-3.12zM507.4 196.3h3.62v2.72h-3.62zM507.4 201.5h3.62v2.52h-3.62zM518.8 201.5h2.85v2.52h-2.85zM461.8 208.5h2.85v1.70h-2.85zM504.6 208.5h3.42v2.52h-3.42zM507.4 211.9h3.62v2.12h-3.62zM413.4 213.7h3.62v2.32h-3.62zM516.0 213.7h3.02v2.32h-3.02zM421.9 215.4h3.12v2.62h-3.12zM470.4 215.4h2.80v2.62h-2.80zM490.3 215.4h3.72v2.62h-3.72zM518.8 218.9h2.85v2.12h-2.85zM413.4 222.4h3.62v2.62h-3.62zM516.0 222.4h3.02v2.62h-3.02zM433.3 224.1h2.85v1.92h-2.85zM478.9 224.1h3.12v1.92h-3.12zM518.8 224.1h2.85v1.92h-2.85zM487.5 225.9h3.52v2.12h-3.52zM484.6 227.6h3.42v2.42h-3.42zM402.0 229.4h3.02v2.62h-3.02zM433.3 229.4h2.85v2.62h-2.85zM421.9 231.1h3.12v1.92h-3.12zM424.8 231.1h3.22v1.92h-3.22zM373.5 232.9h3.52v2.12h-3.52zM518.8 232.9h2.85v2.12h-2.85zM607.2 234.6h2.80v2.42h-2.80zM410.5 236.3h3.52v2.72h-3.52zM447.6 236.3h2.80v2.72h-2.80zM481.8 236.3h3.22v2.72h-3.22zM487.5 236.3h3.52v2.72h-3.52zM516.0 236.3h3.02v2.72h-3.02zM419.1 238.1h2.92v1.92h-2.92zM376.3 239.8h3.72v2.22h-3.72zM413.4 239.8h3.62v2.22h-3.62zM373.5 241.6h3.52v2.42h-3.52zM416.2 241.6h3.82v2.42h-3.82zM421.9 241.6h3.12v2.42h-3.12zM424.8 241.6h3.22v2.42h-3.22zM387.7 243.3h3.32v2.72h-3.32zM498.9 243.3h3.12v2.72h-3.12zM413.4 245.1h3.62v1.92h-3.62zM484.6 245.1h3.42v1.71h-3.42zM390.6 246.8h3.42v1.75h-3.42zM430.5 246.8h3.52v2.22h-3.52z"/>
<path fill="#81d34d" d="M604.3 189.3h3.72v1.73h-3.72zM399.1 222.4h2.92v2.62h-2.92zM510.2 238.1h3.82v1.92h-3.82zM493.2 246.8h2.82v2.22h-2.82z"/>
<path fill="#38b977" d="M621.4 175.3h2.85v2.72h-2.85zM610.0 182.3h2.85v1.76h-2.85zM541.6 198.0h3.42v1.75h-3.42zM604.3 205.0h3.72v2.02h-3.72zM439.0 208.5h3.02v2.52h-3.02zM421.9 234.6h3.12v2.42h-3.12zM587.2 234.6h3.82v1.75h-3.82zM490.3 241.6h3.72v2.42h-3.72z"/>
<path fill="#218f8d" d="M516.0 177.1h3.02v1.92h-3.02zM504.6 182.3h3.42v2.72h-3.42zM504.6 194.5h3.42v2.52h-3.42zM607.2 198.0h2.82v2.02h-2.82zM490.3 201.5h3.72v2.52h-3.72zM447.6 203.2h3.42v1.82h-3.42zM424.8 205.0h3.22v2.02h-3.22zM473.2 205.0h3.82v1.72h-3.82zM510.2 205.0h3.82v2.02h-3.82zM496.0 206.7h3.02v2.32h-3.02zM513.1 206.7h2.92v2.32h-2.92zM590.1 206.7h2.80v2.32h-2.80zM433.3 208.5h2.85v2.52h-2.85zM490.3 208.5h3.72v2.52h-3.72zM507.4 208.5h3.62v2.52h-3.62zM450.4 213.7h2.85v1.73h-2.85zM507.4 213.7h3.62v2.32h-3.62zM501.7 215.4h3.32v2.62h-3.32zM484.6 224.1h3.42v1.92h-3.42zM402.0 225.9h3.02v2.12h-3.02zM407.7 225.9h3.32v2.12h-3.32zM444.7 225.9h3.32v1.73h-3.32zM379.2 227.6h2.82v2.42h-2.82zM421.9 227.6h3.12v2.42h-3.12zM496.0 227.6h3.02v2.42h-3.02zM424.8 229.4h3.22v2.62h-3.22zM376.3 234.6h3.72v2.42h-3.72zM510.2 234.6h3.82v2.42h-3.82zM376.3 238.1h3.72v1.92h-3.72zM430.5 238.1h3.52v1.92h-3.52zM402.0 239.8h3.02v2.22h-3.02zM498.9 239.8h3.12v2.22h-3.12zM478.9 243.3h3.12v2.72h-3.12zM393.4 246.8h2.85v2.22h-2.85zM496.0 246.8h3.02v1.75h-3.02z"/>
<path fill="#27808e" d="M595.8 178.8h2.80v1.77h-2.80zM541.6 180.6h3.42v2.42h-3.42zM587.2 180.6h3.82v1.72h-3.82zM652.8 180.6h2.80v2.42h-2.80zM507.4 194.5h3.62v2.52h-3.62zM513.1 196.3h2.92v2.72h-2.92zM524.5 196.3h2.85v1.70h-2.85zM507.4 203.2h3.62v1.82h-3.62zM439.0 205.0h2.85v2.02h-2.85zM430.5 206.7h3.52v2.32h-3.52zM510.2 206.7h3.82v2.32h-3.82zM421.9 208.5h3.12v2.52h-3.12zM478.9 208.5h3.12v2.52h-3.12zM433.3 210.2h2.85v1.82h-2.85zM504.6 210.2h3.42v1.82h-3.42zM430.5 211.9h3.52v2.12h-3.52zM501.7 211.9h3.32v2.12h-3.32zM652.8 211.9h2.80v2.12h-2.80zM410.5 213.7h3.52v2.32h-3.52zM407.7 215.4h3.32v2.62h-3.32zM413.4 217.2h3.62v1.82h-3.62zM510.2 217.2h3.82v1.82h-3.82zM501.7 218.9h3.32v2.12h-3.32zM484.6 220.7h3.42v2.32h-3.42zM518.8 220.7h3.22v2.32h-3.22zM456.1 224.1h2.85v1.79h-2.85zM504.6 224.1h3.42v1.92h-3.42zM513.1 225.9h2.92v2.12h-2.92zM396.2 234.6h3.82v2.42h-3.82zM476.1 234.6h2.92v2.42h-2.92zM467.5 238.1h2.85v1.73h-2.85zM402.0 241.6h3.02v2.42h-3.02zM421.9 243.3h3.12v2.72h-3.12zM436.2 245.1h2.82v1.71h-2.82zM447.6 245.1h3.42v1.71h-3.42zM390.6 250.3h2.80v1.73h-2.80z"/>
<path fill="#46085c" d="M444.7 210.2h3.32v1.82h-3.32z"/>
<path fill="#481b6d" d="M516.0 173.6h3.02v2.42h-3.02zM527.4 173.6h3.62v1.74h-3.62zM578.7 173.6h3.32v1.74h-3.32zM587.2 173.6h3.82v1.74h-3.82zM627.1 173.6h2.92v1.74h-2.92zM630.0 173.6h3.02v1.74h-3.02zM644.2 173.6h3.82v1.74h-3.82zM647.0 173.6h3.02v1.74h-3.02zM453.2 201.5h3.82v2.52h-3.82z"/>
<path fill="#21a585" d="M513.1 180.6h2.92v2.42h-2.92zM516.0 182.3h3.02v2.72h-3.02zM652.8 194.5h2.80v2.52h-2.80zM507.4 198.0h3.62v2.02h-3.62zM490.3 203.2h3.72v1.82h-3.72zM493.2 205.0h2.82v2.02h-2.82zM476.1 208.5h2.92v2.52h-2.92zM518.8 217.2h2.85v1.82h-2.85zM607.2 217.2h2.82v1.82h-2.82zM430.5 218.9h3.52v2.12h-3.52zM419.1 222.4h2.92v2.62h-2.92zM518.8 222.4h2.85v2.62h-2.85zM470.4 224.1h2.80v1.79h-2.80zM421.9 225.9h3.12v2.12h-3.12zM410.5 227.6h3.52v2.42h-3.52zM453.2 227.6h3.82v2.42h-3.82zM510.2 229.4h3.82v2.62h-3.82zM390.6 231.1h3.42v1.92h-3.42zM384.9 236.3h3.12v2.72h-3.12zM433.3 236.3h2.85v2.72h-2.85zM513.1 236.3h2.92v2.72h-2.92zM379.2 238.1h2.82v1.92h-2.82zM407.7 241.6h3.32v2.42h-3.32zM484.6 243.3h3.42v2.72h-3.42zM390.6 245.1h3.42v1.92h-3.42zM478.9 245.1h3.12v1.71h-3.12zM513.1 246.8h2.92v1.75h-2.92zM493.2 248.5h2.80v1.79h-2.80zM478.9 253.8h3.12v1.72h-3.12zM421.9 255.5h2.85v1.76h-2.85z"/>
<path fill="#95d840" d="M490.3 225.9h3.72v2.12h-3.72zM490.3 239.8h3.72v2.22h-3.72z"/>
<path fill="#40bd72" d="M513.1 185.8h2.92v2.22h-2.92zM476.1 225.9h2.92v2.12h-2.92zM498.9 227.6h3.12v2.42h-3.12zM481.8 232.9h3.22v2.12h-3.22zM507.4 232.9h3.62v2.12h-3.62zM382.0 239.8h3.02v2.22h-3.02zM504.6 239.8h3.42v2.22h-3.42zM384.9 241.6h3.12v2.42h-3.12zM487.5 241.6h3.52v2.42h-3.52zM496.0 245.1h3.02v1.92h-3.02zM416.2 246.8h3.82v2.22h-3.82z"/>
<path fill="#39558c" d="M510.2 180.6h3.82v2.42h-3.82zM607.2 180.6h2.80v1.72h-2.80zM493.2 210.2h2.82v1.82h-2.82zM424.8 213.7h3.22v2.32h-3.22zM652.8 213.7h2.80v1.73h-2.80zM587.2 225.9h2.85v2.12h-2.85zM456.1 227.6h2.85v1.78h-2.85z"/>
<path fill="#75d054" d="M498.9 189.3h3.12v2.72h-3.12zM610.0 201.5h3.02v2.52h-3.02zM507.4 218.9h3.62v2.12h-3.62zM427.6 229.4h3.42v2.62h-3.42z"/>
<path fill="#1e9c89" d="M524.5 189.3h2.85v2.72h-2.85zM501.7 194.5h3.32v2.52h-3.32zM478.9 199.7h3.12v2.32h-3.12zM427.6 205.0h3.42v2.02h-3.42zM490.3 205.0h3.72v2.02h-3.72zM621.4 206.7h2.85v2.32h-2.85zM496.0 211.9h3.02v2.12h-3.02zM516.0 211.9h3.02v2.12h-3.02zM419.1 213.7h2.92v2.32h-2.92zM493.2 213.7h2.82v2.32h-2.82zM456.1 215.4h2.92v2.62h-2.92zM504.6 225.9h3.42v2.12h-3.42zM402.0 227.6h3.02v2.42h-3.02zM501.7 227.6h3.32v2.42h-3.32zM390.6 229.4h3.42v2.62h-3.42zM419.1 229.4h2.92v2.62h-2.92zM487.5 229.4h3.52v2.62h-3.52zM416.2 236.3h3.82v2.72h-3.82zM504.6 241.6h3.42v2.42h-3.42zM416.2 243.3h3.82v2.72h-3.82zM504.6 243.3h3.42v2.72h-3.42zM510.2 246.8h3.82v1.75h-3.82z"/>
<path fill="#238a8d" d="M652.8 182.3h2.80v1.76h-2.80zM518.8 184.1h2.85v1.92h-2.85zM518.8 189.3h2.85v2.72h-2.85zM498.9 192.8h3.12v2.22h-3.12zM510.2 192.8h3.82v2.22h-3.82zM513.1 192.8h2.92v2.22h-2.92zM501.7 201.5h3.32v2.52h-3.32zM430.5 205.0h3.52v2.02h-3.52zM544.5 205.0h2.80v2.02h-2.80zM487.5 206.7h3.52v2.32h-3.52zM490.3 206.7h3.72v2.32h-3.72zM424.8 208.5h3.22v2.52h-3.22zM424.8 211.9h3.22v2.12h-3.22zM453.2 211.9h2.90v1.79h-2.90zM498.9 211.9h3.12v2.12h-3.12zM510.2 213.7h3.82v2.32h-3.82zM498.9 217.2h3.12v1.82h-3.12zM404.8 218.9h3.22v2.12h-3.22zM484.6 218.9h3.42v2.12h-3.42zM487.5 218.9h3.52v2.12h-3.52zM510.2 218.9h3.82v2.12h-3.82zM416.2 220.7h3.82v2.32h-3.82zM404.8 222.4h3.22v2.62h-3.22zM487.5 222.4h3.52v2.62h-3.52zM453.2 224.1h3.82v1.79h-3.82zM516.0 224.1h3.02v1.92h-3.02zM387.7 225.9h3.32v2.12h-3.32zM441.9 225.9h3.12v1.73h-3.12zM382.0 227.6h3.02v2.42h-3.02zM478.9 227.6h3.12v2.42h-3.12zM370.6 229.4h3.42v2.62h-3.42zM396.2 229.4h3.82v2.62h-3.82zM427.6 231.1h3.42v1.92h-3.42zM404.8 232.9h3.22v2.12h-3.22zM370.6 234.6h3.42v2.42h-3.42zM447.6 234.6h3.42v2.42h-3.42zM490.3 234.6h3.72v2.42h-3.72zM424.8 236.3h3.22v2.72h-3.22zM478.9 236.3h3.12v2.72h-3.12zM373.5 238.1h3.52v1.92h-3.52zM450.4 241.6h2.85v2.42h-2.85zM376.3 243.3h3.72v2.72h-3.72zM393.4 243.3h3.62v2.72h-3.62zM498.9 246.8h2.80v2.22h-2.80zM487.5 248.5h2.80v1.79h-2.80zM481.8 253.8h2.80v1.72h-2.80z"/>
<path fill="#31b57b" d="M621.4 191.0h2.85v2.02h-2.85zM498.9 198.0h3.12v2.02h-3.12zM604.3 201.5h3.72v2.52h-3.72zM421.9 206.7h3.12v2.32h-3.12zM404.8 220.7h3.22v2.32h-3.22zM513.1 220.7h2.92v2.32h-2.92zM413.4 225.9h3.62v2.12h-3.62zM407.7 227.6h3.32v2.42h-3.32zM373.5 231.1h3.52v1.92h-3.52zM433.3 238.1h2.85v1.92h-2.85zM393.4 239.8h3.62v2.22h-3.62zM404.8 239.8h3.22v2.22h-3.22zM513.1 239.8h2.92v2.22h-2.92zM404.8 241.6h3.22v2.42h-3.22zM493.2 241.6h2.82v2.42h-2.82zM433.3 243.3h3.72v2.72h-3.72zM419.1 246.8h2.92v1.75h-2.92z"/>
<path fill="#414487" d="M610.0 185.8h2.85v2.22h-2.85zM481.8 203.2h3.22v1.82h-3.22zM444.7 205.0h3.32v1.72h-3.32zM441.9 217.2h2.80v1.72h-2.80zM410.5 222.4h3.52v2.62h-3.52z"/>
<path fill="#2db27d" d="M513.1 201.5h2.92v2.52h-2.92zM513.1 210.2h2.92v1.82h-2.92zM518.8 215.4h2.85v2.62h-2.85zM487.5 224.1h3.52v1.92h-3.52zM501.7 231.1h3.32v1.92h-3.32zM384.9 238.1h3.12v1.92h-3.12zM396.2 239.8h3.82v2.22h-3.82zM424.8 239.8h3.22v2.22h-3.22zM373.5 243.3h3.52v2.72h-3.52zM379.2 245.1h2.82v1.71h-2.82zM421.9 246.8h3.12v2.22h-3.12z"/>
<path fill="#375b8d" d="M553.0 175.3h2.85v1.79h-2.85zM652.8 178.8h2.80v2.22h-2.80zM590.1 182.3h2.80v1.76h-2.80zM541.6 184.1h2.85v1.92h-2.85zM590.1 185.8h2.80v1.74h-2.80zM612.9 192.8h2.80v2.22h-2.80zM544.5 198.0h2.80v2.02h-2.80zM587.2 201.5h2.85v1.73h-2.85zM439.0 206.7h3.02v2.32h-3.02zM416.2 208.5h3.82v2.52h-3.82zM416.2 215.4h3.82v2.62h-3.82zM453.2 215.4h3.82v2.62h-3.82zM416.2 217.2h3.82v1.82h-3.82zM652.8 220.7h2.80v1.70h-2.80zM376.3 229.4h3.72v2.62h-3.72zM447.6 232.9h2.80v2.12h-2.80zM387.7 236.3h3.32v2.72h-3.32zM544.5 236.3h2.80v2.72h-2.80zM481.8 245.1h3.22v1.92h-3.22zM387.7 248.5h2.85v2.52h-2.85z"/>
<path fill="#20a386" d="M516.0 180.6h3.02v2.42h-3.02zM504.6 191.0h3.42v2.02h-3.42zM518.8 198.0h2.85v2.02h-2.85zM456.1 205.0h2.85v1.72h-2.85zM518.8 205.0h2.85v2.02h-2.85zM513.1 208.5h2.92v2.52h-2.92zM504.6 211.9h3.42v2.12h-3.42zM487.5 215.4h3.52v2.62h-3.52zM513.1 218.9h2.92v2.12h-2.92zM501.7 225.9h3.32v2.12h-3.32zM384.9 231.1h3.12v1.92h-3.12zM410.5 231.1h3.52v1.92h-3.52zM402.0 236.3h3.02v2.72h-3.02zM481.8 239.8h3.22v2.22h-3.22zM419.1 241.6h2.92v2.42h-2.92zM476.1 241.6h2.92v2.42h-2.92zM516.0 241.6h3.02v2.42h-3.02z"/>
<path fill="#8ed645" d="M518.8 199.7h3.22v2.32h-3.22zM493.2 229.4h2.82v2.62h-2.82zM501.7 229.4h3.32v2.62h-3.32zM402.0 232.9h3.02v2.12h-3.02zM413.4 236.3h3.62v2.72h-3.62zM399.1 238.1h2.92v1.92h-2.92z"/>
<path fill="#aadc32" d="M382.0 224.1h3.02v1.92h-3.02zM410.5 241.6h3.52v2.42h-3.52zM433.3 241.6h2.85v2.42h-2.85z"/>
<path fill="#67cc5c" d="M487.5 196.3h3.52v2.72h-3.52zM487.5 211.9h3.52v2.12h-3.52zM476.1 218.9h2.92v2.12h-2.92zM396.2 225.9h3.82v2.12h-3.82zM427.6 243.3h3.42v1.76h-3.42z"/>
<path fill="#30698e" d="M541.6 178.8h3.42v2.22h-3.42zM621.4 182.3h2.85v2.72h-2.85zM544.5 189.3h2.80v1.73h-2.80zM610.0 194.5h3.02v2.52h-3.02zM516.0 198.0h3.02v2.02h-3.02zM604.3 199.7h3.72v2.32h-3.72zM524.5 201.5h2.85v1.73h-2.85zM450.4 205.0h2.85v1.72h-2.85zM416.2 211.9h3.82v2.12h-3.82zM518.8 211.9h2.85v2.12h-2.85zM476.1 215.4h2.92v2.62h-2.92zM481.8 215.4h3.22v2.62h-3.22zM621.4 217.2h2.85v1.82h-2.85zM410.5 218.9h3.52v2.12h-3.52zM496.0 218.9h3.02v2.12h-3.02zM544.5 218.9h2.80v1.76h-2.80zM444.7 220.7h3.32v1.70h-3.32zM387.7 222.4h3.32v2.62h-3.32zM450.4 222.4h3.62v2.62h-3.62zM453.2 222.4h3.82v2.62h-3.82zM461.8 222.4h3.22v1.75h-3.22zM470.4 222.4h2.80v2.62h-2.80zM478.9 222.4h3.12v2.62h-3.12zM587.2 229.4h3.82v1.72h-3.82zM652.8 231.1h2.80v1.92h-2.80zM501.7 232.9h3.32v2.12h-3.32zM621.4 232.9h2.85v2.12h-2.85zM635.7 232.9h3.32v1.70h-3.32zM501.7 234.6h3.32v2.42h-3.32zM604.3 234.6h3.72v1.75h-3.72zM550.2 236.3h2.80v2.72h-2.80zM447.6 238.1h3.42v1.92h-3.42zM476.1 245.1h2.92v1.71h-2.92z"/>
<path fill="#1f968b" d="M516.0 175.3h3.02v2.72h-3.02zM513.1 182.3h2.92v2.72h-2.92zM501.7 184.1h3.32v1.92h-3.32zM521.7 185.8h2.80v2.22h-2.80zM652.8 185.8h2.80v2.22h-2.80zM587.2 198.0h3.82v2.02h-3.82zM430.5 203.2h3.52v1.82h-3.52zM419.1 208.5h2.92v2.52h-2.92zM487.5 208.5h3.52v2.52h-3.52zM490.3 210.2h3.72v1.82h-3.72zM421.9 211.9h3.12v2.12h-3.12zM433.3 213.7h3.72v2.32h-3.72zM496.0 213.7h3.02v2.32h-3.02zM504.6 213.7h3.42v2.32h-3.42zM433.3 215.4h2.85v2.62h-2.85zM516.0 215.4h3.02v2.62h-3.02zM456.1 217.2h2.85v1.72h-2.85zM413.4 220.7h3.62v2.32h-3.62zM433.3 220.7h2.85v2.32h-2.85zM487.5 220.7h3.52v2.32h-3.52zM384.9 224.1h3.12v1.92h-3.12zM498.9 224.1h3.12v1.92h-3.12zM498.9 225.9h3.12v2.12h-3.12zM424.8 227.6h3.22v2.42h-3.22zM433.3 227.6h2.85v2.42h-2.85zM407.7 229.4h3.32v2.62h-3.32zM413.4 229.4h3.62v2.62h-3.62zM407.7 231.1h3.32v1.92h-3.32zM490.3 231.1h3.72v1.92h-3.72zM498.9 231.1h3.12v1.92h-3.12zM399.1 232.9h2.92v2.12h-2.92zM419.1 232.9h2.92v2.12h-2.92zM487.5 234.6h3.52v2.42h-3.52zM484.6 236.3h3.42v2.72h-3.42zM419.1 239.8h2.92v2.22h-2.92zM459.0 239.8h2.80v1.78h-2.80zM470.4 239.8h2.80v2.22h-2.80zM399.1 241.6h2.92v2.42h-2.92zM507.4 241.6h3.62v2.42h-3.62zM493.2 243.3h2.82v2.72h-2.82zM393.4 245.1h3.62v1.92h-3.62zM433.3 246.8h2.85v1.75h-2.85z"/>
<path fill="#26828e" d="M584.4 180.6h3.62v2.42h-3.62zM501.7 187.5h3.32v2.52h-3.32zM501.7 192.8h3.32v2.22h-3.32zM607.2 194.5h2.82v2.52h-2.82zM590.1 198.0h2.80v1.75h-2.80zM487.5 199.7h3.52v2.32h-3.52zM490.3 199.7h3.72v2.32h-3.72zM498.9 201.5h3.12v2.52h-3.12zM652.8 201.5h2.80v2.52h-2.80zM621.4 205.0h2.85v2.02h-2.85zM476.1 206.7h2.92v2.32h-2.92zM416.2 210.2h3.82v1.82h-3.82zM476.1 211.9h2.92v2.12h-2.92zM413.4 215.4h3.62v2.62h-3.62zM610.0 215.4h2.85v2.62h-2.85zM407.7 217.2h3.32v1.82h-3.32zM481.8 217.2h3.22v1.82h-3.22zM402.0 218.9h3.02v2.12h-3.02zM493.2 218.9h2.82v2.12h-2.82zM433.3 222.4h2.85v2.62h-2.85zM490.3 224.1h3.72v1.92h-3.72zM541.6 224.1h2.85v1.79h-2.85zM379.2 225.9h2.82v2.12h-2.82zM404.8 225.9h3.22v2.12h-3.22zM404.8 227.6h3.22v2.42h-3.22zM521.7 227.6h2.80v2.42h-2.80zM478.9 231.1h3.12v1.92h-3.12zM376.3 232.9h3.72v2.12h-3.72zM427.6 232.9h3.42v2.12h-3.42zM404.8 234.6h3.22v2.42h-3.22zM376.3 236.3h3.72v2.72h-3.72zM407.7 236.3h3.32v2.72h-3.32zM370.6 238.1h3.42v1.92h-3.42zM390.6 238.1h3.42v1.92h-3.42zM487.5 239.8h3.52v2.22h-3.52zM621.4 239.8h2.85v2.22h-2.85zM390.6 241.6h3.42v2.42h-3.42zM396.2 241.6h3.82v2.42h-3.82zM518.8 241.6h2.85v2.42h-2.85zM621.4 241.6h2.85v2.42h-2.85zM382.0 243.3h3.02v2.72h-3.02zM410.5 243.3h3.52v1.76h-3.52zM433.3 245.1h3.72v1.92h-3.72zM450.4 245.1h3.62v1.71h-3.62zM490.3 246.8h3.72v1.75h-3.72zM478.9 248.5h2.85v1.79h-2.85z"/>
<path fill="#34b679" d="M610.0 192.8h3.02v2.22h-3.02zM513.1 198.0h2.92v2.02h-2.92zM513.1 211.9h2.92v2.12h-2.92zM498.9 218.9h3.12v2.12h-3.12zM427.6 220.7h3.42v2.32h-3.42zM427.6 227.6h3.42v2.42h-3.42zM399.1 231.1h2.92v1.92h-2.92zM496.0 234.6h3.02v2.42h-3.02zM370.6 236.3h3.42v2.72h-3.42zM413.4 241.6h3.62v2.42h-3.62zM487.5 243.3h3.52v2.72h-3.52zM424.8 246.8h2.80v1.75h-2.80z"/>
<path fill="#46337f" d="M478.9 206.7h3.12v2.32h-3.12zM484.6 231.1h3.42v1.92h-3.42z"/>
<path fill="#a2da37" d="M516.0 218.9h3.02v2.12h-3.02zM493.2 225.9h2.82v2.12h-2.82z"/>
<path fill="#481f70" d="M521.7 173.6h3.32v2.42h-3.32zM530.2 173.6h3.82v1.74h-3.82zM541.6 173.6h3.42v2.42h-3.42zM553.0 173.6h3.02v2.42h-3.02zM555.9 173.6h3.12v1.74h-3.12zM564.4 173.6h3.62v1.74h-3.62zM573.0 173.6h3.02v1.74h-3.02zM592.9 173.6h3.12v1.74h-3.12zM601.5 173.6h3.52v1.74h-3.52zM610.0 173.6h3.02v2.42h-3.02zM615.7 173.6h3.32v1.74h-3.32zM624.2 173.6h3.82v1.74h-3.82zM433.3 201.5h3.72v2.52h-3.72zM459.0 201.5h3.02v1.73h-3.02zM467.5 201.5h3.52v2.52h-3.52zM470.4 201.5h3.62v1.73h-3.62z"/>
<path fill="#1f998a" d="M524.5 177.1h2.85v1.73h-2.85zM493.2 192.8h2.82v2.22h-2.82zM487.5 194.5h3.52v2.52h-3.52zM493.2 194.5h2.82v2.52h-2.82zM493.2 196.3h2.82v2.72h-2.82zM518.8 196.3h2.85v2.72h-2.85zM621.4 198.0h2.85v1.75h-2.85zM487.5 201.5h3.52v2.52h-3.52zM464.7 203.2h3.32v1.77h-3.32zM447.6 205.0h3.42v2.02h-3.42zM447.6 208.5h3.42v2.52h-3.42zM439.0 210.2h3.02v1.82h-3.02zM427.6 215.4h3.42v2.62h-3.42zM507.4 220.7h3.62v2.32h-3.62zM427.6 224.1h3.42v1.92h-3.42zM430.5 224.1h3.52v1.92h-3.52zM635.7 224.1h3.32v1.92h-3.32zM481.8 225.9h3.22v2.12h-3.22zM390.6 227.6h3.42v2.42h-3.42zM419.1 227.6h2.92v2.42h-2.92zM478.9 229.4h3.12v2.62h-3.12zM393.4 231.1h3.62v1.92h-3.62zM441.9 231.1h2.80v1.76h-2.80zM604.3 231.1h3.72v1.76h-3.72zM413.4 232.9h3.62v2.12h-3.62zM419.1 234.6h2.92v2.42h-2.92zM424.8 234.6h3.22v2.42h-3.22zM382.0 238.1h3.02v1.92h-3.02zM490.3 238.1h3.72v1.92h-3.72zM433.3 239.8h3.72v2.22h-3.72zM507.4 239.8h3.62v2.22h-3.62zM379.2 241.6h2.82v2.42h-2.82zM470.4 241.6h2.80v1.72h-2.80zM382.0 245.1h3.02v1.71h-3.02zM396.2 245.1h3.82v1.71h-3.82zM430.5 245.1h3.52v1.92h-3.52zM518.8 245.1h2.85v1.92h-2.85zM501.7 252.0h2.85v1.78h-2.85zM413.4 255.5h2.80v1.76h-2.80z"/>
<path fill="#4cc26c" d="M436.2 213.7h2.82v1.73h-2.82zM521.7 229.4h3.32v1.72h-3.32zM427.6 234.6h3.42v2.42h-3.42zM516.0 234.6h3.02v2.42h-3.02zM487.5 238.1h3.52v1.92h-3.52zM390.6 243.3h3.42v2.72h-3.42zM402.0 243.3h3.02v2.72h-3.02zM510.2 245.1h3.82v1.92h-3.82zM373.5 246.8h2.80v1.75h-2.80z"/>
<path fill="#287d8e" d="M621.4 180.6h2.85v2.42h-2.85zM516.0 191.0h3.02v2.02h-3.02zM510.2 194.5h3.82v2.52h-3.82zM518.8 194.5h3.22v2.52h-3.22zM484.6 196.3h3.42v2.72h-3.42zM490.3 196.3h3.72v2.72h-3.72zM487.5 198.0h3.52v2.02h-3.52zM513.1 199.7h2.92v2.32h-2.92zM461.8 203.2h3.22v1.77h-3.22zM487.5 203.2h3.52v1.82h-3.52zM604.3 203.2h3.72v1.82h-3.72zM607.2 203.2h2.82v1.82h-2.82zM484.6 211.9h3.42v2.12h-3.42zM416.2 213.7h3.82v2.32h-3.82zM473.2 213.7h3.82v1.73h-3.82zM390.6 222.4h3.42v2.62h-3.42zM407.7 222.4h3.32v2.62h-3.32zM498.9 222.4h3.12v2.62h-3.12zM507.4 224.1h3.62v1.92h-3.62zM419.1 225.9h2.92v2.12h-2.92zM478.9 225.9h3.12v2.12h-3.12zM607.2 225.9h2.80v2.12h-2.80zM481.8 227.6h3.22v2.42h-3.22zM516.0 227.6h3.02v2.42h-3.02zM496.0 229.4h3.02v2.62h-3.02zM376.3 231.1h3.72v1.92h-3.72zM496.0 232.9h3.02v2.12h-3.02zM510.2 232.9h3.82v2.12h-3.82zM484.6 238.1h3.42v1.92h-3.42zM370.6 239.8h3.42v2.22h-3.42zM421.9 239.8h3.12v2.22h-3.12zM501.7 239.8h3.32v2.22h-3.32zM518.8 239.8h2.85v2.22h-2.85zM370.6 243.3h3.42v2.72h-3.42zM399.1 243.3h2.92v2.72h-2.92zM518.8 243.3h2.85v2.72h-2.85zM376.3 245.1h3.72v1.71h-3.72zM453.2 245.1h2.90v1.71h-2.90zM487.5 246.8h3.52v2.22h-3.52zM621.4 246.8h2.85v2.22h-2.85zM402.0 250.3h2.80v1.73h-2.80zM433.3 250.3h2.85v1.73h-2.85z"/>
<path fill="#46307e" d="M604.3 213.7h3.72v1.73h-3.72zM467.5 229.4h2.85v1.72h-2.85z"/>
<path fill="#89d548" d="M490.3 192.8h3.72v2.22h-3.72zM516.0 220.7h3.02v2.32h-3.02zM498.9 238.1h3.12v1.92h-3.12zM493.2 245.1h2.82v1.92h-2.82z"/>
<path fill="#63cb5f" d="M638.5 224.1h2.85v1.92h-2.85zM416.2 225.9h3.82v2.12h-3.82zM393.4 227.6h3.62v2.42h-3.62zM421.9 236.3h3.12v2.72h-3.12zM427.6 236.3h3.42v2.72h-3.42zM476.1 236.3h2.92v2.72h-2.92z"/>
<path fill="#424086" d="M607.2 206.7h2.82v1.76h-2.82zM450.4 208.5h2.85v2.52h-2.85zM607.2 215.4h2.82v2.62h-2.82zM439.0 217.2h3.02v1.82h-3.02zM453.2 220.7h2.90v2.32h-2.90zM612.9 225.9h2.80v1.73h-2.80zM541.6 227.6h2.85v2.42h-2.85z"/>
<path fill="#50c46a" d="M430.5 213.7h3.52v2.32h-3.52zM413.4 227.6h3.62v2.42h-3.62zM430.5 231.1h3.52v1.92h-3.52zM393.4 236.3h3.62v2.72h-3.62zM427.6 239.8h3.42v2.22h-3.42zM373.5 245.1h3.52v1.92h-3.52z"/>
<path fill="#2d718e" d="M507.4 187.5h3.62v2.52h-3.62zM516.0 189.3h3.02v2.72h-3.02zM496.0 192.8h3.02v2.22h-3.02zM610.0 196.3h2.85v2.72h-2.85zM544.5 199.7h2.80v2.32h-2.80zM478.9 201.5h3.12v2.52h-3.12zM652.8 203.2h2.80v1.77h-2.80zM481.8 206.7h3.22v2.32h-3.22zM476.1 210.2h2.92v1.82h-2.92zM481.8 211.9h3.22v2.12h-3.22zM478.9 213.7h3.12v2.32h-3.12zM453.2 217.2h3.82v1.82h-3.82zM504.6 222.4h3.42v2.62h-3.42zM393.4 225.9h3.62v2.12h-3.62zM507.4 225.9h3.62v2.12h-3.62zM510.2 225.9h3.82v2.12h-3.82zM476.1 227.6h2.92v2.42h-2.92zM379.2 229.4h2.82v2.62h-2.82zM481.8 229.4h3.22v2.62h-3.22zM498.9 229.4h3.12v2.62h-3.12zM370.6 231.1h3.42v1.92h-3.42zM447.6 231.1h2.80v1.92h-2.80zM461.8 231.1h2.85v1.76h-2.85zM510.2 231.1h3.82v1.92h-3.82zM524.5 231.1h2.85v1.76h-2.85zM607.2 231.1h2.82v1.92h-2.82zM478.9 234.6h3.12v2.42h-3.12zM490.3 243.3h3.72v2.72h-3.72zM419.1 245.1h2.92v1.92h-2.92zM416.2 248.5h2.85v1.79h-2.85z"/>
<path fill="#3d4d8a" d="M490.3 198.0h3.72v2.02h-3.72zM590.1 229.4h2.80v1.72h-2.80zM444.7 245.1h3.32v1.71h-3.32z"/>
<path fill="#3c4f8a" d="M484.6 198.0h3.42v2.02h-3.42zM638.5 203.2h2.85v1.77h-2.85zM590.1 208.5h2.80v1.70h-2.80zM450.4 210.2h2.85v1.82h-2.85zM478.9 211.9h3.12v2.12h-3.12zM407.7 224.1h3.32v1.92h-3.32zM444.7 224.1h3.32v1.92h-3.32zM393.4 229.4h3.62v2.62h-3.62zM573.0 232.9h2.80v1.70h-2.80zM607.2 232.9h2.80v2.12h-2.80zM621.4 243.3h2.85v2.72h-2.85zM407.7 245.1h2.80v1.71h-2.80zM393.4 248.5h2.85v1.79h-2.85zM621.4 250.3h2.85v2.72h-2.85z"/>
<path fill="#2c738e" d="M610.0 175.3h3.02v1.79h-3.02zM518.8 180.6h3.22v2.42h-3.22zM590.1 180.6h2.80v2.42h-2.80zM544.5 182.3h2.80v1.76h-2.80zM510.2 184.1h3.82v1.92h-3.82zM612.9 189.3h2.80v1.73h-2.80zM521.7 191.0h3.32v2.02h-3.32zM541.6 192.8h2.85v1.72h-2.85zM587.2 192.8h3.82v1.72h-3.82zM498.9 194.5h3.12v2.52h-3.12zM516.0 194.5h3.02v2.52h-3.02zM521.7 194.5h2.80v1.76h-2.80zM652.8 196.3h2.80v2.72h-2.80zM496.0 198.0h3.02v2.02h-3.02zM604.3 198.0h3.72v2.02h-3.72zM476.1 201.5h2.92v2.52h-2.92zM430.5 208.5h3.52v2.52h-3.52zM587.2 208.5h3.82v2.52h-3.82zM419.1 210.2h2.92v1.82h-2.92zM607.2 210.2h2.80v1.75h-2.80zM444.7 211.9h3.32v2.12h-3.32zM604.3 211.9h2.85v2.12h-2.85zM612.9 211.9h2.80v1.79h-2.80zM470.4 213.7h3.62v2.32h-3.62zM410.5 215.4h3.52v2.62h-3.52zM419.1 215.4h2.92v2.62h-2.92zM404.8 217.2h3.22v1.82h-3.22zM410.5 217.2h3.52v1.82h-3.52zM478.9 217.2h3.12v1.82h-3.12zM610.0 217.2h3.02v1.72h-3.02zM410.5 220.7h3.52v2.32h-3.52zM447.6 220.7h2.80v2.32h-2.80zM604.3 220.7h2.85v2.32h-2.85zM424.8 222.4h3.22v2.62h-3.22zM510.2 222.4h3.82v2.62h-3.82zM621.4 222.4h2.85v2.62h-2.85zM476.1 224.1h2.92v1.92h-2.92zM621.4 224.1h2.85v1.79h-2.85zM390.6 225.9h3.42v2.12h-3.42zM373.5 227.6h3.52v2.42h-3.52zM473.2 227.6h3.82v1.78h-3.82zM384.9 229.4h3.12v2.62h-3.12zM441.9 229.4h2.80v2.62h-2.80zM453.2 229.4h2.90v1.72h-2.90zM541.6 229.4h2.85v1.72h-2.85zM621.4 229.4h2.85v1.72h-2.85zM396.2 231.1h3.82v1.92h-3.82zM481.8 231.1h3.22v1.92h-3.22zM464.7 232.9h2.80v1.70h-2.80zM476.1 232.9h2.92v2.12h-2.92zM541.6 232.9h2.85v1.70h-2.85zM399.1 239.8h2.92v2.22h-2.92zM413.4 246.8h3.62v1.75h-3.62z"/>
<path fill="#297b8e" d="M513.1 177.1h2.92v1.92h-2.92zM518.8 182.3h3.22v2.72h-3.22zM587.2 184.1h2.85v1.70h-2.85zM621.4 185.8h2.85v2.22h-2.85zM516.0 187.5h3.02v2.52h-3.02zM493.2 191.0h2.82v2.02h-2.82zM501.7 191.0h3.32v2.02h-3.32zM518.8 191.0h3.22v2.02h-3.22zM607.2 196.3h2.82v2.72h-2.82zM484.6 199.7h3.42v2.32h-3.42zM493.2 199.7h2.82v2.32h-2.82zM496.0 199.7h3.02v2.32h-3.02zM433.3 203.2h2.85v1.82h-2.85zM516.0 203.2h3.02v1.82h-3.02zM487.5 205.0h3.52v2.02h-3.52zM590.1 205.0h2.80v2.02h-2.80zM501.7 206.7h3.32v2.32h-3.32zM484.6 208.5h3.42v2.52h-3.42zM496.0 208.5h3.02v2.52h-3.02zM510.2 208.5h3.82v2.52h-3.82zM430.5 210.2h3.52v1.82h-3.52zM470.4 210.2h3.62v1.82h-3.62zM496.0 210.2h3.02v1.82h-3.02zM439.0 211.9h2.85v2.12h-2.85zM507.4 215.4h3.62v2.62h-3.62zM402.0 217.2h3.02v1.82h-3.02zM424.8 217.2h3.22v1.82h-3.22zM467.5 218.9h2.85v2.12h-2.85zM461.8 220.7h2.85v2.32h-2.85zM421.9 222.4h3.12v2.62h-3.12zM493.2 222.4h2.82v2.62h-2.82zM555.9 222.4h2.80v1.75h-2.80zM390.6 224.1h3.42v1.92h-3.42zM416.2 224.1h3.82v1.92h-3.82zM439.0 224.1h2.85v1.92h-2.85zM510.2 224.1h3.82v1.92h-3.82zM384.9 225.9h3.12v2.12h-3.12zM399.1 225.9h2.92v2.12h-2.92zM447.6 225.9h3.42v2.12h-3.42zM516.0 225.9h3.02v2.12h-3.02zM547.3 227.6h2.85v1.78h-2.85zM399.1 229.4h2.92v2.62h-2.92zM421.9 229.4h3.12v2.62h-3.12zM407.7 232.9h3.32v2.12h-3.32zM456.1 232.9h2.85v1.70h-2.85zM430.5 236.3h3.52v2.72h-3.52zM441.9 236.3h2.80v1.79h-2.80zM607.2 236.3h2.80v1.79h-2.80zM402.0 238.1h3.02v1.92h-3.02zM393.4 241.6h3.62v2.42h-3.62zM424.8 245.1h2.80v1.92h-2.80zM490.3 245.1h3.72v1.92h-3.72zM399.1 246.8h2.85v1.75h-2.85z"/>
<path fill="#482576" d="M524.5 173.6h3.52v2.42h-3.52zM547.3 173.6h3.72v1.74h-3.72zM550.2 173.6h2.82v1.74h-2.82zM558.7 173.6h3.32v1.74h-3.32zM561.6 173.6h3.42v1.74h-3.42zM570.1 173.6h2.92v1.74h-2.92zM575.8 173.6h3.22v1.74h-3.22zM581.5 173.6h3.52v1.74h-3.52zM604.3 173.6h3.72v1.74h-3.72zM612.9 173.6h3.12v2.42h-3.12zM621.4 173.6h3.62v2.42h-3.62zM635.7 173.6h3.32v1.74h-3.32zM444.7 201.5h3.32v1.73h-3.32zM464.7 201.5h3.32v2.52h-3.32zM461.8 229.4h2.85v2.62h-2.85z"/>
<path fill="#2a788e" d="M518.8 175.3h3.22v2.72h-3.22zM607.2 175.3h2.82v1.79h-2.82zM612.9 175.3h2.80v2.72h-2.80zM507.4 185.8h3.62v2.22h-3.62zM544.5 185.8h2.80v2.22h-2.80zM507.4 191.0h3.62v2.02h-3.62zM590.1 192.8h2.80v2.22h-2.80zM496.0 194.5h3.02v2.52h-3.02zM481.8 198.0h3.22v2.02h-3.22zM510.2 198.0h3.82v2.02h-3.82zM504.6 201.5h3.42v2.52h-3.42zM544.5 201.5h2.80v2.52h-2.80zM518.8 203.2h2.85v1.82h-2.85zM501.7 205.0h3.32v2.02h-3.32zM461.8 206.7h2.85v2.32h-2.85zM493.2 206.7h2.82v2.32h-2.82zM604.3 206.7h3.72v2.32h-3.72zM473.2 208.5h3.82v2.52h-3.82zM518.8 208.5h2.85v2.52h-2.85zM484.6 210.2h3.42v1.82h-3.42zM490.3 211.9h3.72v2.12h-3.72zM459.0 213.7h2.80v2.32h-2.80zM476.1 213.7h2.92v2.32h-2.92zM490.3 213.7h3.72v2.32h-3.72zM430.5 215.4h3.52v2.62h-3.52zM487.5 217.2h3.52v1.82h-3.52zM399.1 218.9h2.92v2.12h-2.92zM407.7 220.7h3.32v2.32h-3.32zM459.0 222.4h3.02v1.75h-3.02zM476.1 222.4h2.92v2.62h-2.92zM496.0 224.1h3.02v1.92h-3.02zM373.5 229.4h3.52v2.62h-3.52zM490.3 229.4h3.72v2.62h-3.72zM513.1 229.4h2.92v2.62h-2.92zM652.8 229.4h2.80v2.62h-2.80zM387.7 231.1h3.32v1.92h-3.32zM390.6 234.6h3.42v2.42h-3.42zM439.0 234.6h2.85v2.42h-2.85zM387.7 238.1h3.32v1.92h-3.32zM493.2 238.1h2.82v1.92h-2.82zM507.4 238.1h3.62v1.92h-3.62zM439.0 239.8h2.85v2.22h-2.85zM427.6 241.6h3.42v2.42h-3.42zM439.0 241.6h2.85v2.42h-2.85zM518.8 246.8h2.85v1.75h-2.85zM373.5 250.3h2.80v1.73h-2.80z"/>
<path fill="#404688" d="M524.5 191.0h2.85v2.02h-2.85zM441.9 210.2h3.12v1.75h-3.12zM621.4 211.9h2.85v1.79h-2.85zM393.4 222.4h3.62v2.62h-3.62z"/>
<path fill="#25848e" d="M504.6 184.1h3.42v1.92h-3.42zM604.3 187.5h3.72v2.52h-3.72zM610.0 187.5h2.85v2.52h-2.85zM652.8 187.5h2.80v1.79h-2.80zM501.7 196.3h3.32v2.72h-3.32zM493.2 198.0h2.82v2.02h-2.82zM481.8 199.7h3.22v2.32h-3.22zM450.4 211.9h3.62v2.12h-3.62zM473.2 211.9h3.82v2.12h-3.82zM421.9 213.7h3.12v2.32h-3.12zM447.6 213.7h3.42v1.73h-3.42zM404.8 215.4h3.22v2.62h-3.22zM510.2 215.4h3.82v2.62h-3.82zM513.1 215.4h2.92v2.62h-2.92zM490.3 217.2h3.72v1.82h-3.72zM424.8 218.9h3.22v2.12h-3.22zM421.9 220.7h3.12v2.32h-3.12zM476.1 220.7h2.92v2.32h-2.92zM478.9 220.7h3.12v2.32h-3.12zM447.6 222.4h3.42v2.62h-3.42zM424.8 224.1h3.22v1.92h-3.22zM399.1 227.6h2.92v2.42h-2.92zM476.1 229.4h2.92v2.62h-2.92zM384.9 232.9h3.12v2.12h-3.12zM390.6 232.9h3.42v2.12h-3.42zM393.4 232.9h3.62v2.12h-3.62zM490.3 232.9h3.72v2.12h-3.72zM399.1 234.6h2.92v2.42h-2.92zM507.4 234.6h3.62v2.42h-3.62zM493.2 236.3h2.82v2.72h-2.82zM416.2 239.8h3.82v2.22h-3.82zM476.1 243.3h2.92v2.72h-2.92zM496.0 243.3h3.02v2.72h-3.02zM498.9 245.1h3.12v1.92h-3.12zM430.5 248.5h2.80v1.79h-2.80zM621.4 248.5h2.85v2.52h-2.85z"/>
<path fill="#22a884" d="M516.0 192.8h3.02v2.22h-3.02zM498.9 203.2h3.12v1.82h-3.12zM498.9 206.7h3.12v2.32h-3.12zM498.9 208.5h3.12v2.52h-3.12zM427.6 210.2h3.42v1.82h-3.42zM513.1 213.7h2.92v2.32h-2.92zM493.2 217.2h2.82v1.82h-2.82zM402.0 222.4h3.02v2.62h-3.02zM481.8 222.4h3.22v2.62h-3.22zM379.2 232.9h2.82v2.12h-2.82zM384.9 234.6h3.12v2.42h-3.12zM407.7 234.6h3.32v2.42h-3.32zM493.2 234.6h2.82v2.42h-2.82zM399.1 236.3h2.92v2.72h-2.92zM496.0 238.1h3.02v1.92h-3.02zM513.1 238.1h2.92v1.92h-2.92zM516.0 239.8h3.02v2.22h-3.02zM513.1 241.6h2.92v2.42h-2.92zM407.7 243.3h3.32v2.72h-3.32zM419.1 243.3h2.92v2.72h-2.92zM430.5 243.3h3.52v2.72h-3.52z"/>
<path fill="#33638d" d="M652.8 175.3h2.80v1.79h-2.80zM541.6 177.1h3.42v1.92h-3.42zM635.7 178.8h2.80v1.77h-2.80zM541.6 182.3h3.42v2.72h-3.42zM510.2 187.5h3.82v2.52h-3.82zM501.7 189.3h3.32v2.72h-3.32zM516.0 201.5h3.02v2.52h-3.02zM496.0 203.2h3.02v1.82h-3.02zM447.6 206.7h2.80v2.32h-2.80zM441.9 208.5h3.12v2.52h-3.12zM541.6 208.5h3.42v2.52h-3.42zM621.4 208.5h2.85v1.70h-2.85zM652.8 208.5h2.80v2.52h-2.80zM510.2 210.2h3.82v1.82h-3.82zM510.2 211.9h3.82v2.12h-3.82zM439.0 213.7h2.85v2.32h-2.85zM439.0 215.4h2.85v2.62h-2.85zM478.9 215.4h3.12v2.62h-3.12zM490.3 220.7h3.72v2.32h-3.72zM524.5 220.7h2.85v1.70h-2.85zM396.2 224.1h3.82v1.92h-3.82zM396.2 227.6h3.82v2.42h-3.82zM652.8 227.6h2.80v2.42h-2.80zM450.4 238.1h2.85v1.92h-2.85z"/>
<path fill="#6ece58" d="M604.3 180.6h3.72v2.42h-3.72zM496.0 236.3h3.02v2.72h-3.02zM493.2 239.8h2.82v2.22h-2.82z"/>
<path fill="#20928c" d="M530.2 180.6h2.85v1.72h-2.85zM524.5 184.1h2.85v1.70h-2.85zM498.9 187.5h3.12v2.52h-3.12zM504.6 189.3h3.42v2.72h-3.42zM507.4 192.8h3.62v2.22h-3.62zM510.2 196.3h3.82v2.72h-3.82zM516.0 196.3h3.02v2.72h-3.02zM501.7 198.0h3.32v2.02h-3.32zM510.2 201.5h3.82v2.52h-3.82zM476.1 205.0h2.92v2.02h-2.92zM498.9 205.0h3.12v2.02h-3.12zM504.6 205.0h3.42v2.02h-3.42zM487.5 210.2h3.52v1.82h-3.52zM427.6 211.9h3.42v2.12h-3.42zM493.2 211.9h2.82v2.12h-2.82zM498.9 213.7h3.12v2.32h-3.12zM518.8 213.7h2.85v2.32h-2.85zM467.5 215.4h3.52v1.77h-3.52zM513.1 217.2h2.92v1.82h-2.92zM478.9 218.9h3.12v2.12h-3.12zM399.1 220.7h2.92v2.32h-2.92zM430.5 222.4h3.52v2.62h-3.52zM413.4 224.1h3.62v1.92h-3.62zM447.6 224.1h3.42v1.92h-3.42zM427.6 225.9h3.42v2.12h-3.42zM490.3 227.6h3.72v2.42h-3.72zM402.0 231.1h3.02v1.92h-3.02zM487.5 232.9h3.52v2.12h-3.52zM498.9 232.9h3.12v2.12h-3.12zM612.9 232.9h2.80v1.70h-2.80zM379.2 234.6h2.82v2.42h-2.82zM402.0 234.6h3.02v2.42h-3.02zM444.7 234.6h3.32v1.75h-3.32zM501.7 238.1h3.32v1.92h-3.32zM387.7 241.6h3.32v2.42h-3.32zM498.9 241.6h3.12v2.42h-3.12zM379.2 243.3h2.82v2.72h-2.82zM501.7 243.3h3.32v2.72h-3.32zM498.9 248.5h2.80v1.79h-2.80z"/>
<path fill="#5cc863" d="M493.2 201.5h2.82v2.52h-2.82zM456.1 210.2h2.85v1.75h-2.85zM501.7 217.2h3.32v1.82h-3.32zM433.3 231.1h2.85v1.92h-2.85zM404.8 236.3h3.22v2.72h-3.22zM510.2 239.8h3.82v2.22h-3.82z"/>
<path fill="#3dbc74" d="M521.7 192.8h3.32v2.22h-3.32zM513.1 194.5h2.92v2.52h-2.92zM504.6 199.7h3.42v2.32h-3.42zM493.2 224.1h2.82v1.92h-2.82zM518.8 225.9h2.85v2.12h-2.85zM504.6 227.6h3.42v2.42h-3.42zM507.4 236.3h3.62v2.72h-3.62zM612.9 239.8h2.80v1.78h-2.80zM402.0 245.1h3.02v1.71h-3.02z"/>
<path fill="#38598c" d="M544.5 180.6h2.80v2.42h-2.80zM541.6 187.5h3.42v2.52h-3.42zM484.6 206.7h3.42v2.32h-3.42zM413.4 211.9h3.62v2.12h-3.62zM607.2 213.7h2.82v2.32h-2.82zM610.0 213.7h2.85v2.32h-2.85zM621.4 215.4h2.85v2.62h-2.85zM470.4 217.2h3.62v1.72h-3.62zM590.1 218.9h2.80v2.12h-2.80zM621.4 218.9h2.85v1.76h-2.85zM501.7 220.7h3.32v2.32h-3.32zM607.2 227.6h2.82v1.78h-2.82zM447.6 239.8h3.42v2.22h-3.42z"/>
<path fill="#228c8d" d="M612.9 177.1h2.80v1.92h-2.80zM504.6 185.8h3.42v2.22h-3.42zM516.0 185.8h3.02v2.22h-3.02zM544.5 194.5h2.80v2.52h-2.80zM587.2 196.3h2.85v2.72h-2.85zM507.4 199.7h3.62v2.32h-3.62zM607.2 199.7h2.82v2.32h-2.82zM478.9 205.0h3.12v2.02h-3.12zM467.5 206.7h3.52v1.76h-3.52zM470.4 206.7h2.80v1.76h-2.80zM424.8 210.2h3.22v1.82h-3.22zM498.9 210.2h3.12v1.82h-3.12zM518.8 210.2h2.85v1.82h-2.85zM493.2 215.4h2.82v2.62h-2.82zM433.3 217.2h2.85v1.82h-2.85zM476.1 217.2h2.92v1.82h-2.92zM507.4 217.2h3.62v1.82h-3.62zM427.6 218.9h3.42v2.12h-3.42zM490.3 218.9h3.72v2.12h-3.72zM439.0 220.7h3.02v2.32h-3.02zM504.6 220.7h3.42v2.32h-3.42zM416.2 222.4h3.82v2.62h-3.82zM433.3 225.9h2.85v2.12h-2.85zM635.7 225.9h3.32v1.73h-3.32zM384.9 227.6h3.12v2.42h-3.12zM439.0 227.6h2.85v2.42h-2.85zM447.6 227.6h2.80v2.42h-2.80zM493.2 227.6h2.82v2.42h-2.82zM507.4 227.6h3.62v2.42h-3.62zM416.2 229.4h3.82v2.62h-3.82zM439.0 229.4h3.02v2.62h-3.02zM447.6 229.4h2.80v2.62h-2.80zM382.0 231.1h3.02v1.92h-3.02zM413.4 231.1h3.62v1.92h-3.62zM507.4 231.1h3.62v1.92h-3.62zM430.5 232.9h3.52v2.12h-3.52zM373.5 234.6h3.52v2.42h-3.52zM382.0 234.6h3.02v2.42h-3.02zM393.4 234.6h3.62v2.42h-3.62zM430.5 234.6h3.52v2.42h-3.52zM498.9 234.6h3.12v2.42h-3.12zM379.2 236.3h2.82v2.72h-2.82zM396.2 236.3h3.82v2.72h-3.82zM490.3 236.3h3.72v2.72h-3.72zM424.8 238.1h3.22v1.92h-3.22zM427.6 238.1h3.42v1.92h-3.42zM518.8 238.1h2.85v1.92h-2.85zM484.6 241.6h3.42v2.42h-3.42zM501.7 241.6h3.32v2.42h-3.32zM424.8 243.3h3.22v2.72h-3.22zM370.6 245.1h3.42v1.92h-3.42zM399.1 245.1h2.92v1.92h-2.92zM404.8 246.8h2.85v2.22h-2.85z"/>
<path fill="#443a83" d="M607.2 205.0h2.80v2.02h-2.80zM587.2 210.2h2.85v1.82h-2.85zM484.6 217.2h3.42v1.82h-3.42zM441.9 220.7h3.12v2.32h-3.12zM621.4 238.1h2.85v1.92h-2.85z"/>
<path fill="none" stroke="#fff" stroke-opacity="0.12" stroke-width="0.6" d="M373.45 166.6V260.8M376.30 166.6V260.8M379.15 166.6V260.8M382.00 166.6V260.8M384.85 166.6V260.8M387.70 166.6V260.8M390.55 166.6V260.8M393.40 166.6V260.8M396.25 166.6V260.8M399.10 166.6V260.8M401.95 166.6V260.8M404.80 166.6V260.8M407.65 166.6V260.8M410.50 166.6V260.8M413.35 166.6V260.8M416.20 166.6V260.8M419.05 166.6V260.8M421.90 166.6V260.8M424.75 166.6V260.8M427.60 166.6V260.8M430.45 166.6V260.8M433.30 166.6V260.8M436.15 166.6V260.8M439.00 166.6V260.8M441.85 166.6V260.8M444.70 166.6V260.8M447.55 166.6V260.8M450.40 166.6V260.8M453.25 166.6V260.8M456.10 166.6V260.8M458.95 166.6V260.8M461.80 166.6V260.8M464.65 166.6V260.8M467.50 166.6V260.8M470.35 166.6V260.8M473.20 166.6V260.8M476.05 166.6V260.8M478.90 166.6V260.8M481.75 166.6V260.8M484.60 166.6V260.8M487.45 166.6V260.8M490.30 166.6V260.8M493.15 166.6V260.8M496.00 166.6V260.8M498.85 166.6V260.8M501.70 166.6V260.8M504.55 166.6V260.8M507.40 166.6V260.8M510.25 166.6V260.8M513.10 166.6V260.8M515.95 166.6V260.8M518.80 166.6V260.8M521.65 166.6V260.8M524.50 166.6V260.8M527.35 166.6V260.8M530.20 166.6V260.8M533.05 166.6V260.8M535.90 166.6V260.8M538.75 166.6V260.8M541.60 166.6V260.8M544.45 166.6V260.8M547.30 166.6V260.8M550.15 166.6V260.8M553.00 166.6V260.8M555.85 166.6V260.8M558.70 166.6V260.8M561.55 166.6V260.8M564.40 166.6V260.8M567.25 166.6V260.8M570.10 166.6V260.8M572.95 166.6V260.8M575.80 166.6V260.8M578.65 166.6V260.8M581.50 166.6V260.8M584.35 166.6V260.8M587.20 166.6V260.8M590.05 166.6V260.8M592.90 166.6V260.8M595.75 166.6V260.8M598.60 166.6V260.8M601.45 166.6V260.8M604.30 166.6V260.8M607.15 166.6V260.8M610.00 166.6V260.8M612.85 166.6V260.8M615.70 166.6V260.8M618.55 166.6V260.8M621.40 166.6V260.8M624.25 166.6V260.8M627.10 166.6V260.8M629.95 166.6V260.8M632.80 166.6V260.8M635.65 166.6V260.8M638.50 166.6V260.8M641.35 166.6V260.8M644.20 166.6V260.8M647.05 166.6V260.8M649.90 166.6V260.8M652.75 166.6V260.8M370.6 168.37H655.6M370.6 170.11H655.6M370.6 171.86H655.6M370.6 173.60H655.6M370.6 175.34H655.6M370.6 177.09H655.6M370.6 178.83H655.6M370.6 180.57H655.6M370.6 182.31H655.6M370.6 184.06H655.6M370.6 185.80H655.6M370.6 187.54H655.6M370.6 189.29H655.6M370.6 191.03H655.6M370.6 192.77H655.6M370.6 194.52H655.6M370.6 196.26H655.6M370.6 198.00H655.6M370.6 199.75H655.6M370.6 201.49H655.6M370.6 203.23H655.6M370.6 204.97H655.6M370.6 206.72H655.6M370.6 208.46H655.6M370.6 210.20H655.6M370.6 211.95H655.6M370.6 213.69H655.6M370.6 215.43H655.6M370.6 217.17H655.6M370.6 218.92H655.6M370.6 220.66H655.6M370.6 222.40H655.6M370.6 224.15H655.6M370.6 225.89H655.6M370.6 227.63H655.6M370.6 229.38H655.6M370.6 231.12H655.6M370.6 232.86H655.6M370.6 234.60H655.6M370.6 236.35H655.6M370.6 238.09H655.6M370.6 239.83H655.6M370.6 241.58H655.6M370.6 243.32H655.6M370.6 245.06H655.6M370.6 246.81H655.6M370.6 248.55H655.6M370.6 250.29H655.6M370.6 252.03H655.6M370.6 253.78H655.6M370.6 255.52H655.6M370.6 257.26H655.6M370.6 259.01H655.6"/>
<text x="22.70" y="7.50" font-size="9.0" text-anchor="start" >a)</text>
<text x="163.85" y="18.10" font-size="7.0" text-anchor="middle" textLength="48.5" lengthAdjust="spacingAndGlyphs">@cccemalcetin</text>
<text x="18.30" y="22.61" font-size="5.2" text-anchor="end" >2024</text>
<line x1="19.90" x2="21.60" y1="20.76" y2="20.76" stroke="#333" stroke-width="0.75"/>
<text x="18.30" y="28.03" font-size="5.2" text-anchor="end" >2023</text>
<line x1="19.90" x2="21.60" y1="26.18" y2="26.18" stroke="#333" stroke-width="0.75"/>
<text x="18.30" y="33.45" font-size="5.2" text-anchor="end" >2022</text>
<line x1="19.90" x2="21.60" y1="31.60" y2="31.60" stroke="#333" stroke-width="0.75"/>
<text x="18.30" y="38.87" font-size="5.2" text-anchor="end" >2021</text>
<line x1="19.90" x2="21.60" y1="37.02" y2="37.02" stroke="#333" stroke-width="0.75"/>
<text x="18.30" y="44.29" font-size="5.2" text-anchor="end" >2020</text>
<line x1="19.90" x2="21.60" y1="42.44" y2="42.44" stroke="#333" stroke-width="0.75"/>
<text x="18.30" y="49.71" font-size="5.2" text-anchor="end" >2019</text>
<line x1="19.90" x2="21.60" y1="47.86" y2="47.86" stroke="#333" stroke-width="0.75"/>
<text x="18.30" y="55.13" font-size="5.2" text-anchor="end" >2018</text>
<line x1="19.90" x2="21.60" y1="53.28" y2="53.28" stroke="#333" stroke-width="0.75"/>
<text x="18.30" y="60.55" font-size="5.2" text-anchor="end" >2017</text>
<line x1="19.90" x2="21.60" y1="58.70" y2="58.70" stroke="#333" stroke-width="0.75"/>
<text x="18.30" y="65.97" font-size="5.2" text-anchor="end" >2016</text>
<line x1="19.90" x2="21.60" y1="64.12" y2="64.12" stroke="#333" stroke-width="0.75"/>
<text x="18.30" y="71.39" font-size="5.2" text-anchor="end" >2015</text>
<line x1="19.90" x2="21.60" y1="69.54" y2="69.54" stroke="#333" stroke-width="0.75"/>
<text x="18.30" y="76.81" font-size="5.2" text-anchor="end" >2014</text>
<line x1="19.90" x2="21.60" y1="74.96" y2="74.96" stroke="#333" stroke-width="0.75"/>
<text x="18.30" y="82.23" font-size="5.2" text-anchor="end" >2013</text>
<line x1="19.90" x2="21.60" y1="80.38" y2="80.38" stroke="#333" stroke-width="0.75"/>
<text x="18.30" y="87.65" font-size="5.2" text-anchor="end" >2012</text>
<line x1="19.90" x2="21.60" y1="85.80" y2="85.80" stroke="#333" stroke-width="0.75"/>
<text x="18.30" y="93.07" font-size="5.2" text-anchor="end" >2011</text>
<line x1="19.90" x2="21.60" y1="91.22" y2="91.22" stroke="#333" stroke-width="0.75"/>
<text x="18.30" y="98.49" font-size="5.2" text-anchor="end" >2010</text>
<line x1="19.90" x2="21.60" y1="96.64" y2="96.64" stroke="#333" stroke-width="0.75"/>
<text x="18.30" y="103.91" font-size="5.2" text-anchor="end" >2009</text>
<line x1="19.90" x2="21.60" y1="102.06" y2="102.06" stroke="#333" stroke-width="0.75"/>
<text x="18.30" y="109.33" font-size="5.2" text-anchor="end" >2008</text>
<line x1="19.90" x2="21.60" y1="107.48" y2="107.48" stroke="#333" stroke-width="0.75"/>
<text x="18.30" y="114.75" font-size="5.2" text-anchor="end" >2007</text>
<line x1="19.90" x2="21.60" y1="112.90" y2="112.90" stroke="#333" stroke-width="0.75"/>
<text transform="translate(4.50,64.90) rotate(-90)" font-size="5.9" text-anchor="middle" >Profile creation date</text>
<line x1="21.40" x2="21.40" y1="113.30" y2="114.90" stroke="#333" stroke-width="0.75"/>
<text transform="translate(23.30,116.90) rotate(-90)" font-size="5.3" text-anchor="end" >0</text>
<line x1="35.00" x2="35.00" y1="113.30" y2="114.90" stroke="#333" stroke-width="0.75"/>
<text transform="translate(36.90,116.90) rotate(-90)" font-size="5.3" text-anchor="end" >1800</text>
<line x1="48.60" x2="48.60" y1="113.30" y2="114.90" stroke="#333" stroke-width="0.75"/>
<text transform="translate(50.50,116.90) rotate(-90)" font-size="5.3" text-anchor="end" >3600</text>
<line x1="62.20" x2="62.20" y1="113.30" y2="114.90" stroke="#333" stroke-width="0.75"/>
<text transform="translate(64.10,116.90) rotate(-90)" font-size="5.3" text-anchor="end" >5400</text>
<line x1="75.80" x2="75.80" y1="113.30" y2="114.90" stroke="#333" stroke-width="0.75"/>
<text transform="translate(77.70,116.90) rotate(-90)" font-size="5.3" text-anchor="end" >7200</text>
<line x1="89.40" x2="89.40" y1="113.30" y2="114.90" stroke="#333" stroke-width="0.75"/>
<text transform="translate(91.30,116.90) rotate(-90)" font-size="5.3" text-anchor="end" >9000</text>
<line x1="103.00" x2="103.00" y1="113.30" y2="114.90" stroke="#333" stroke-width="0.75"/>
<text transform="translate(104.90,116.90) rotate(-90)" font-size="5.3" text-anchor="end" >10800</text>
<line x1="116.60" x2="116.60" y1="113.30" y2="114.90" stroke="#333" stroke-width="0.75"/>
<text transform="translate(118.50,116.90) rotate(-90)" font-size="5.3" text-anchor="end" >12600</text>
<line x1="130.20" x2="130.20" y1="113.30" y2="114.90" stroke="#333" stroke-width="0.75"/>
<text transform="translate(132.10,116.90) rotate(-90)" font-size="5.3" text-anchor="end" >14400</text>
<line x1="143.80" x2="143.80" y1="113.30" y2="114.90" stroke="#333" stroke-width="0.75"/>
<text transform="translate(145.70,116.90) rotate(-90)" font-size="5.3" text-anchor="end" >16200</text>
<line x1="157.40" x2="157.40" y1="113.30" y2="114.90" stroke="#333" stroke-width="0.75"/>
<text transform="translate(159.30,116.90) rotate(-90)" font-size="5.3" text-anchor="end" >18000</text>
<line x1="171.00" x2="171.00" y1="113.30" y2="114.90" stroke="#333" stroke-width="0.75"/>
<text transform="translate(172.90,116.90) rotate(-90)" font-size="5.3" text-anchor="end" >19800</text>
<line x1="184.60" x2="184.60" y1="113.30" y2="114.90" stroke="#333" stroke-width="0.75"/>
<text transform="translate(186.50,116.90) rotate(-90)" font-size="5.3" text-anchor="end" >21600</text>
<line x1="198.20" x2="198.20" y1="113.30" y2="114.90" stroke="#333" stroke-width="0.75"/>
<text transform="translate(200.10,116.90) rotate(-90)" font-size="5.3" text-anchor="end" >23400</text>
<line x1="211.80" x2="211.80" y1="113.30" y2="114.90" stroke="#333" stroke-width="0.75"/>
<text transform="translate(213.70,116.90) rotate(-90)" font-size="5.3" text-anchor="end" >25200</text>
<line x1="225.40" x2="225.40" y1="113.30" y2="114.90" stroke="#333" stroke-width="0.75"/>
<text transform="translate(227.30,116.90) rotate(-90)" font-size="5.3" text-anchor="end" >27000</text>
<line x1="239.00" x2="239.00" y1="113.30" y2="114.90" stroke="#333" stroke-width="0.75"/>
<text transform="translate(240.90,116.90) rotate(-90)" font-size="5.3" text-anchor="end" >28800</text>
<line x1="252.60" x2="252.60" y1="113.30" y2="114.90" stroke="#333" stroke-width="0.75"/>
<text transform="translate(254.50,116.90) rotate(-90)" font-size="5.3" text-anchor="end" >30600</text>
<line x1="266.20" x2="266.20" y1="113.30" y2="114.90" stroke="#333" stroke-width="0.75"/>
<text transform="translate(268.10,116.90) rotate(-90)" font-size="5.3" text-anchor="end" >32400</text>
<line x1="279.80" x2="279.80" y1="113.30" y2="114.90" stroke="#333" stroke-width="0.75"/>
<text transform="translate(281.70,116.90) rotate(-90)" font-size="5.3" text-anchor="end" >34200</text>
<line x1="293.40" x2="293.40" y1="113.30" y2="114.90" stroke="#333" stroke-width="0.75"/>
<text transform="translate(295.30,116.90) rotate(-90)" font-size="5.3" text-anchor="end" >36000</text>
<text x="163.85" y="138.30" font-size="6.1" text-anchor="middle" >Old followers &lt;-- Follower rank --&gt; New followers</text>
<defs><linearGradient id="ga" x1="0" y1="1" x2="0" y2="0"><stop offset="0.00" stop-color="#440154"/><stop offset="0.05" stop-color="#471365"/><stop offset="0.10" stop-color="#482475"/><stop offset="0.15" stop-color="#463480"/><stop offset="0.20" stop-color="#414487"/><stop offset="0.25" stop-color="#3b528b"/><stop offset="0.30" stop-color="#355f8d"/><stop offset="0.35" stop-color="#2f6c8e"/><stop offset="0.40" stop-color="#2a788e"/><stop offset="0.45" stop-color="#25848e"/><stop offset="0.50" stop-color="#21918c"/><stop offset="0.55" stop-color="#1e9c89"/><stop offset="0.60" stop-color="#22a884"/><stop offset="0.65" stop-color="#2fb47c"/><stop offset="0.70" stop-color="#44bf70"/><stop offset="0.75" stop-color="#5ec962"/><stop offset="0.80" stop-color="#7ad151"/><stop offset="0.85" stop-color="#9bd93c"/><stop offset="0.90" stop-color="#bddf26"/><stop offset="0.95" stop-color="#dfe318"/><stop offset="1.00" stop-color="#fde725"/></linearGradient></defs>
<rect x="314.10" y="21.10" width="4.70" height="91.80" fill="url(#ga)"/>
<line x1="318.80" x2="320.40" y1="113.10" y2="113.10" stroke="#444" stroke-width="0.6"/>
<text x="322.10" y="115.50" font-size="5" style="stroke:none">10<tspan font-size="3.4" dy="-2.2">0</tspan></text>
<line x1="318.80" x2="319.80" y1="108.70" y2="108.70" stroke="#555" stroke-width="0.45"/>
<line x1="318.80" x2="319.80" y1="106.13" y2="106.13" stroke="#555" stroke-width="0.45"/>
<line x1="318.80" x2="319.80" y1="104.31" y2="104.31" stroke="#555" stroke-width="0.45"/>
<line x1="318.80" x2="319.80" y1="102.90" y2="102.90" stroke="#555" stroke-width="0.45"/>
<line x1="318.80" x2="319.80" y1="101.74" y2="101.74" stroke="#555" stroke-width="0.45"/>
<line x1="318.80" x2="319.80" y1="100.76" y2="100.76" stroke="#555" stroke-width="0.45"/>
<line x1="318.80" x2="319.80" y1="99.91" y2="99.91" stroke="#555" stroke-width="0.45"/>
<line x1="318.80" x2="319.80" y1="99.17" y2="99.17" stroke="#555" stroke-width="0.45"/>
<line x1="318.80" x2="320.40" y1="98.50" y2="98.50" stroke="#444" stroke-width="0.6"/>
<text x="322.10" y="100.90" font-size="5" style="stroke:none">10<tspan font-size="3.4" dy="-2.2">1</tspan></text>
<line x1="318.80" x2="319.80" y1="94.10" y2="94.10" stroke="#555" stroke-width="0.45"/>
<line x1="318.80" x2="319.80" y1="91.53" y2="91.53" stroke="#555" stroke-width="0.45"/>
<line x1="318.80" x2="319.80" y1="89.71" y2="89.71" stroke="#555" stroke-width="0.45"/>
<line x1="318.80" x2="319.80" y1="88.30" y2="88.30" stroke="#555" stroke-width="0.45"/>
<line x1="318.80" x2="319.80" y1="87.14" y2="87.14" stroke="#555" stroke-width="0.45"/>
<line x1="318.80" x2="319.80" y1="86.16" y2="86.16" stroke="#555" stroke-width="0.45"/>
<line x1="318.80" x2="319.80" y1="85.31" y2="85.31" stroke="#555" stroke-width="0.45"/>
<line x1="318.80" x2="319.80" y1="84.57" y2="84.57" stroke="#555" stroke-width="0.45"/>
<line x1="318.80" x2="320.40" y1="83.90" y2="83.90" stroke="#444" stroke-width="0.6"/>
<text x="322.10" y="86.30" font-size="5" style="stroke:none">10<tspan font-size="3.4" dy="-2.2">2</tspan></text>
<line x1="318.80" x2="319.80" y1="79.50" y2="79.50" stroke="#555" stroke-width="0.45"/>
<line x1="318.80" x2="319.80" y1="76.93" y2="76.93" stroke="#555" stroke-width="0.45"/>
<line x1="318.80" x2="319.80" y1="75.11" y2="75.11" stroke="#555" stroke-width="0.45"/>
<line x1="318.80" x2="319.80" y1="73.70" y2="73.70" stroke="#555" stroke-width="0.45"/>
<line x1="318.80" x2="319.80" y1="72.54" y2="72.54" stroke="#555" stroke-width="0.45"/>
<line x1="318.80" x2="319.80" y1="71.56" y2="71.56" stroke="#555" stroke-width="0.45"/>
<line x1="318.80" x2="319.80" y1="70.71" y2="70.71" stroke="#555" stroke-width="0.45"/>
<line x1="318.80" x2="319.80" y1="69.97" y2="69.97" stroke="#555" stroke-width="0.45"/>
<line x1="318.80" x2="320.40" y1="69.30" y2="69.30" stroke="#444" stroke-width="0.6"/>
<text x="322.10" y="71.70" font-size="5" style="stroke:none">10<tspan font-size="3.4" dy="-2.2">3</tspan></text>
<line x1="318.80" x2="319.80" y1="64.90" y2="64.90" stroke="#555" stroke-width="0.45"/>
<line x1="318.80" x2="319.80" y1="62.33" y2="62.33" stroke="#555" stroke-width="0.45"/>
<line x1="318.80" x2="319.80" y1="60.51" y2="60.51" stroke="#555" stroke-width="0.45"/>
<line x1="318.80" x2="319.80" y1="59.10" y2="59.10" stroke="#555" stroke-width="0.45"/>
<line x1="318.80" x2="319.80" y1="57.94" y2="57.94" stroke="#555" stroke-width="0.45"/>
<line x1="318.80" x2="319.80" y1="56.96" y2="56.96" stroke="#555" stroke-width="0.45"/>
<line x1="318.80" x2="319.80" y1="56.11" y2="56.11" stroke="#555" stroke-width="0.45"/>
<line x1="318.80" x2="319.80" y1="55.37" y2="55.37" stroke="#555" stroke-width="0.45"/>
<line x1="318.80" x2="320.40" y1="54.70" y2="54.70" stroke="#444" stroke-width="0.6"/>
<text x="322.10" y="57.10" font-size="5" style="stroke:none">10<tspan font-size="3.4" dy="-2.2">4</tspan></text>
<line x1="318.80" x2="319.80" y1="50.30" y2="50.30" stroke="#555" stroke-width="0.45"/>
<line x1="318.80" x2="319.80" y1="47.73" y2="47.73" stroke="#555" stroke-width="0.45"/>
<line x1="318.80" x2="319.80" y1="45.91" y2="45.91" stroke="#555" stroke-width="0.45"/>
<line x1="318.80" x2="319.80" y1="44.50" y2="44.50" stroke="#555" stroke-width="0.45"/>
<line x1="318.80" x2="319.80" y1="43.34" y2="43.34" stroke="#555" stroke-width="0.45"/>
<line x1="318.80" x2="319.80" y1="42.36" y2="42.36" stroke="#555" stroke-width="0.45"/>
<line x1="318.80" x2="319.80" y1="41.51" y2="41.51" stroke="#555" stroke-width="0.45"/>
<line x1="318.80" x2="319.80" y1="40.77" y2="40.77" stroke="#555" stroke-width="0.45"/>
<line x1="318.80" x2="320.40" y1="40.10" y2="40.10" stroke="#444" stroke-width="0.6"/>
<text x="322.10" y="42.50" font-size="5" style="stroke:none">10<tspan font-size="3.4" dy="-2.2">5</tspan></text>
<line x1="318.80" x2="319.80" y1="35.70" y2="35.70" stroke="#555" stroke-width="0.45"/>
<line x1="318.80" x2="319.80" y1="33.13" y2="33.13" stroke="#555" stroke-width="0.45"/>
<line x1="318.80" x2="319.80" y1="31.31" y2="31.31" stroke="#555" stroke-width="0.45"/>
<line x1="318.80" x2="319.80" y1="29.90" y2="29.90" stroke="#555" stroke-width="0.45"/>
<line x1="318.80" x2="319.80" y1="28.74" y2="28.74" stroke="#555" stroke-width="0.45"/>
<line x1="318.80" x2="319.80" y1="27.76" y2="27.76" stroke="#555" stroke-width="0.45"/>
<line x1="318.80" x2="319.80" y1="26.91" y2="26.91" stroke="#555" stroke-width="0.45"/>
<line x1="318.80" x2="319.80" y1="26.17" y2="26.17" stroke="#555" stroke-width="0.45"/>
<line x1="318.80" x2="320.40" y1="25.50" y2="25.50" stroke="#444" stroke-width="0.6"/>
<text x="322.10" y="27.90" font-size="5" style="stroke:none">10<tspan font-size="3.4" dy="-2.2">6</tspan></text>
<line x1="318.80" x2="319.80" y1="21.10" y2="21.10" stroke="#555" stroke-width="0.45"/>
<text transform="translate(336.10,66.85) rotate(-90)" font-size="6.35" text-anchor="middle" >Followers count</text>
<text x="371.90" y="7.50" font-size="9.0" text-anchor="start" >b)</text>
<text x="513.05" y="18.10" font-size="7.0" text-anchor="middle" textLength="43.8" lengthAdjust="spacingAndGlyphs">@chpakifekici</text>
<text x="367.50" y="22.61" font-size="5.2" text-anchor="end" >2024</text>
<line x1="369.10" x2="370.80" y1="20.76" y2="20.76" stroke="#333" stroke-width="0.75"/>
<text x="367.50" y="28.03" font-size="5.2" text-anchor="end" >2023</text>
<line x1="369.10" x2="370.80" y1="26.18" y2="26.18" stroke="#333" stroke-width="0.75"/>
<text x="367.50" y="33.45" font-size="5.2" text-anchor="end" >2022</text>
<line x1="369.10" x2="370.80" y1="31.60" y2="31.60" stroke="#333" stroke-width="0.75"/>
<text x="367.50" y="38.87" font-size="5.2" text-anchor="end" >2021</text>
<line x1="369.10" x2="370.80" y1="37.02" y2="37.02" stroke="#333" stroke-width="0.75"/>
<text x="367.50" y="44.29" font-size="5.2" text-anchor="end" >2020</text>
<line x1="369.10" x2="370.80" y1="42.44" y2="42.44" stroke="#333" stroke-width="0.75"/>
<text x="367.50" y="49.71" font-size="5.2" text-anchor="end" >2019</text>
<line x1="369.10" x2="370.80" y1="47.86" y2="47.86" stroke="#333" stroke-width="0.75"/>
<text x="367.50" y="55.13" font-size="5.2" text-anchor="end" >2018</text>
<line x1="369.10" x2="370.80" y1="53.28" y2="53.28" stroke="#333" stroke-width="0.75"/>
<text x="367.50" y="60.55" font-size="5.2" text-anchor="end" >2017</text>
<line x1="369.10" x2="370.80" y1="58.70" y2="58.70" stroke="#333" stroke-width="0.75"/>
<text x="367.50" y="65.97" font-size="5.2" text-anchor="end" >2016</text>
<line x1="369.10" x2="370.80" y1="64.12" y2="64.12" stroke="#333" stroke-width="0.75"/>
<text x="367.50" y="71.39" font-size="5.2" text-anchor="end" >2015</text>
<line x1="369.10" x2="370.80" y1="69.54" y2="69.54" stroke="#333" stroke-width="0.75"/>
<text x="367.50" y="76.81" font-size="5.2" text-anchor="end" >2014</text>
<line x1="369.10" x2="370.80" y1="74.96" y2="74.96" stroke="#333" stroke-width="0.75"/>
<text x="367.50" y="82.23" font-size="5.2" text-anchor="end" >2013</text>
<line x1="369.10" x2="370.80" y1="80.38" y2="80.38" stroke="#333" stroke-width="0.75"/>
<text x="367.50" y="87.65" font-size="5.2" text-anchor="end" >2012</text>
<line x1="369.10" x2="370.80" y1="85.80" y2="85.80" stroke="#333" stroke-width="0.75"/>
<text x="367.50" y="93.07" font-size="5.2" text-anchor="end" >2011</text>
<line x1="369.10" x2="370.80" y1="91.22" y2="91.22" stroke="#333" stroke-width="0.75"/>
<text x="367.50" y="98.49" font-size="5.2" text-anchor="end" >2010</text>
<line x1="369.10" x2="370.80" y1="96.64" y2="96.64" stroke="#333" stroke-width="0.75"/>
<text x="367.50" y="103.91" font-size="5.2" text-anchor="end" >2009</text>
<line x1="369.10" x2="370.80" y1="102.06" y2="102.06" stroke="#333" stroke-width="0.75"/>
<text x="367.50" y="109.33" font-size="5.2" text-anchor="end" >2008</text>
<line x1="369.10" x2="370.80" y1="107.48" y2="107.48" stroke="#333" stroke-width="0.75"/>
<text x="367.50" y="114.75" font-size="5.2" text-anchor="end" >2007</text>
<line x1="369.10" x2="370.80" y1="112.90" y2="112.90" stroke="#333" stroke-width="0.75"/>
<text transform="translate(353.70,64.90) rotate(-90)" font-size="5.9" text-anchor="middle" >Profile creation date</text>
<line x1="370.60" x2="370.60" y1="113.30" y2="114.90" stroke="#333" stroke-width="0.75"/>
<text transform="translate(372.50,116.90) rotate(-90)" font-size="5.3" text-anchor="end" >0</text>
<line x1="384.04" x2="384.04" y1="113.30" y2="114.90" stroke="#333" stroke-width="0.75"/>
<text transform="translate(385.94,116.90) rotate(-90)" font-size="5.3" text-anchor="end" >700</text>
<line x1="397.48" x2="397.48" y1="113.30" y2="114.90" stroke="#333" stroke-width="0.75"/>
<text transform="translate(399.38,116.90) rotate(-90)" font-size="5.3" text-anchor="end" >1400</text>
<line x1="410.92" x2="410.92" y1="113.30" y2="114.90" stroke="#333" stroke-width="0.75"/>
<text transform="translate(412.82,116.90) rotate(-90)" font-size="5.3" text-anchor="end" >2100</text>
<line x1="424.36" x2="424.36" y1="113.30" y2="114.90" stroke="#333" stroke-width="0.75"/>
<text transform="translate(426.26,116.90) rotate(-90)" font-size="5.3" text-anchor="end" >2800</text>
<line x1="437.80" x2="437.80" y1="113.30" y2="114.90" stroke="#333" stroke-width="0.75"/>
<text transform="translate(439.70,116.90) rotate(-90)" font-size="5.3" text-anchor="end" >3500</text>
<line x1="451.24" x2="451.24" y1="113.30" y2="114.90" stroke="#333" stroke-width="0.75"/>
<text transform="translate(453.14,116.90) rotate(-90)" font-size="5.3" text-anchor="end" >4200</text>
<line x1="464.68" x2="464.68" y1="113.30" y2="114.90" stroke="#333" stroke-width="0.75"/>
<text transform="translate(466.58,116.90) rotate(-90)" font-size="5.3" text-anchor="end" >4900</text>
<line x1="478.12" x2="478.12" y1="113.30" y2="114.90" stroke="#333" stroke-width="0.75"/>
<text transform="translate(480.02,116.90) rotate(-90)" font-size="5.3" text-anchor="end" >5600</text>
<line x1="491.56" x2="491.56" y1="113.30" y2="114.90" stroke="#333" stroke-width="0.75"/>
<text transform="translate(493.46,116.90) rotate(-90)" font-size="5.3" text-anchor="end" >6300</text>
<line x1="505.00" x2="505.00" y1="113.30" y2="114.90" stroke="#333" stroke-width="0.75"/>
<text transform="translate(506.90,116.90) rotate(-90)" font-size="5.3" text-anchor="end" >7000</text>
<line x1="518.44" x2="518.44" y1="113.30" y2="114.90" stroke="#333" stroke-width="0.75"/>
<text transform="translate(520.34,116.90) rotate(-90)" font-size="5.3" text-anchor="end" >7700</text>
<line x1="531.88" x2="531.88" y1="113.30" y2="114.90" stroke="#333" stroke-width="0.75"/>
<text transform="translate(533.78,116.90) rotate(-90)" font-size="5.3" text-anchor="end" >8400</text>
<line x1="545.32" x2="545.32" y1="113.30" y2="114.90" stroke="#333" stroke-width="0.75"/>
<text transform="translate(547.22,116.90) rotate(-90)" font-size="5.3" text-anchor="end" >9100</text>
<line x1="558.76" x2="558.76" y1="113.30" y2="114.90" stroke="#333" stroke-width="0.75"/>
<text transform="translate(560.66,116.90) rotate(-90)" font-size="5.3" text-anchor="end" >9800</text>
<line x1="572.20" x2="572.20" y1="113.30" y2="114.90" stroke="#333" stroke-width="0.75"/>
<text transform="translate(574.10,116.90) rotate(-90)" font-size="5.3" text-anchor="end" >10500</text>
<line x1="585.64" x2="585.64" y1="113.30" y2="114.90" stroke="#333" stroke-width="0.75"/>
<text transform="translate(587.54,116.90) rotate(-90)" font-size="5.3" text-anchor="end" >11200</text>
<line x1="599.08" x2="599.08" y1="113.30" y2="114.90" stroke="#333" stroke-width="0.75"/>
<text transform="translate(600.98,116.90) rotate(-90)" font-size="5.3" text-anchor="end" >11900</text>
<line x1="612.52" x2="612.52" y1="113.30" y2="114.90" stroke="#333" stroke-width="0.75"/>
<text transform="translate(614.42,116.90) rotate(-90)" font-size="5.3" text-anchor="end" >12600</text>
<line x1="625.96" x2="625.96" y1="113.30" y2="114.90" stroke="#333" stroke-width="0.75"/>
<text transform="translate(627.86,116.90) rotate(-90)" font-size="5.3" text-anchor="end" >13300</text>
<line x1="639.40" x2="639.40" y1="113.30" y2="114.90" stroke="#333" stroke-width="0.75"/>
<text transform="translate(641.30,116.90) rotate(-90)" font-size="5.3" text-anchor="end" >14000</text>
<line x1="652.84" x2="652.84" y1="113.30" y2="114.90" stroke="#333" stroke-width="0.75"/>
<text transform="translate(654.74,116.90) rotate(-90)" font-size="5.3" text-anchor="end" >14700</text>
<text x="513.05" y="138.30" font-size="6.1" text-anchor="middle" >Old followers &lt;-- Follower rank --&gt; New followers</text>
<defs><linearGradient id="gb" x1="0" y1="1" x2="0" y2="0"><stop offset="0.00" stop-color="#440154"/><stop offset="0.05" stop-color="#471365"/><stop offset="0.10" stop-color="#482475"/><stop offset="0.15" stop-color="#463480"/><stop offset="0.20" stop-color="#414487"/><stop offset="0.25" stop-color="#3b528b"/><stop offset="0.30" stop-color="#355f8d"/><stop offset="0.35" stop-color="#2f6c8e"/><stop offset="0.40" stop-color="#2a788e"/><stop offset="0.45" stop-color="#25848e"/><stop offset="0.50" stop-color="#21918c"/><stop offset="0.55" stop-color="#1e9c89"/><stop offset="0.60" stop-color="#22a884"/><stop offset="0.65" stop-color="#2fb47c"/><stop offset="0.70" stop-color="#44bf70"/><stop offset="0.75" stop-color="#5ec962"/><stop offset="0.80" stop-color="#7ad151"/><stop offset="0.85" stop-color="#9bd93c"/><stop offset="0.90" stop-color="#bddf26"/><stop offset="0.95" stop-color="#dfe318"/><stop offset="1.00" stop-color="#fde725"/></linearGradient></defs>
<rect x="663.30" y="20.90" width="3.90" height="92.10" fill="url(#gb)"/>
<line x1="667.20" x2="668.80" y1="109.10" y2="109.10" stroke="#444" stroke-width="0.6"/>
<text x="670.50" y="111.50" font-size="5" style="stroke:none">10<tspan font-size="3.4" dy="-2.2">0</tspan></text>
<line x1="667.20" x2="668.20" y1="104.85" y2="104.85" stroke="#555" stroke-width="0.45"/>
<line x1="667.20" x2="668.20" y1="102.36" y2="102.36" stroke="#555" stroke-width="0.45"/>
<line x1="667.20" x2="668.20" y1="100.59" y2="100.59" stroke="#555" stroke-width="0.45"/>
<line x1="667.20" x2="668.20" y1="99.22" y2="99.22" stroke="#555" stroke-width="0.45"/>
<line x1="667.20" x2="668.20" y1="98.10" y2="98.10" stroke="#555" stroke-width="0.45"/>
<line x1="667.20" x2="668.20" y1="97.16" y2="97.16" stroke="#555" stroke-width="0.45"/>
<line x1="667.20" x2="668.20" y1="96.34" y2="96.34" stroke="#555" stroke-width="0.45"/>
<line x1="667.20" x2="668.20" y1="95.62" y2="95.62" stroke="#555" stroke-width="0.45"/>
<line x1="667.20" x2="668.80" y1="94.97" y2="94.97" stroke="#444" stroke-width="0.6"/>
<text x="670.50" y="97.37" font-size="5" style="stroke:none">10<tspan font-size="3.4" dy="-2.2">1</tspan></text>
<line x1="667.20" x2="668.20" y1="90.72" y2="90.72" stroke="#555" stroke-width="0.45"/>
<line x1="667.20" x2="668.20" y1="88.23" y2="88.23" stroke="#555" stroke-width="0.45"/>
<line x1="667.20" x2="668.20" y1="86.46" y2="86.46" stroke="#555" stroke-width="0.45"/>
<line x1="667.20" x2="668.20" y1="85.09" y2="85.09" stroke="#555" stroke-width="0.45"/>
<line x1="667.20" x2="668.20" y1="83.97" y2="83.97" stroke="#555" stroke-width="0.45"/>
<line x1="667.20" x2="668.20" y1="83.03" y2="83.03" stroke="#555" stroke-width="0.45"/>
<line x1="667.20" x2="668.20" y1="82.21" y2="82.21" stroke="#555" stroke-width="0.45"/>
<line x1="667.20" x2="668.20" y1="81.49" y2="81.49" stroke="#555" stroke-width="0.45"/>
<line x1="667.20" x2="668.80" y1="80.84" y2="80.84" stroke="#444" stroke-width="0.6"/>
<text x="670.50" y="83.24" font-size="5" style="stroke:none">10<tspan font-size="3.4" dy="-2.2">2</tspan></text>
<line x1="667.20" x2="668.20" y1="76.59" y2="76.59" stroke="#555" stroke-width="0.45"/>
<line x1="667.20" x2="668.20" y1="74.10" y2="74.10" stroke="#555" stroke-width="0.45"/>
<line x1="667.20" x2="668.20" y1="72.33" y2="72.33" stroke="#555" stroke-width="0.45"/>
<line x1="667.20" x2="668.20" y1="70.96" y2="70.96" stroke="#555" stroke-width="0.45"/>
<line x1="667.20" x2="668.20" y1="69.84" y2="69.84" stroke="#555" stroke-width="0.45"/>
<line x1="667.20" x2="668.20" y1="68.90" y2="68.90" stroke="#555" stroke-width="0.45"/>
<line x1="667.20" x2="668.20" y1="68.08" y2="68.08" stroke="#555" stroke-width="0.45"/>
<line x1="667.20" x2="668.20" y1="67.36" y2="67.36" stroke="#555" stroke-width="0.45"/>
<line x1="667.20" x2="668.80" y1="66.71" y2="66.71" stroke="#444" stroke-width="0.6"/>
<text x="670.50" y="69.11" font-size="5" style="stroke:none">10<tspan font-size="3.4" dy="-2.2">3</tspan></text>
<line x1="667.20" x2="668.20" y1="62.46" y2="62.46" stroke="#555" stroke-width="0.45"/>
<line x1="667.20" x2="668.20" y1="59.97" y2="59.97" stroke="#555" stroke-width="0.45"/>
<line x1="667.20" x2="668.20" y1="58.20" y2="58.20" stroke="#555" stroke-width="0.45"/>
<line x1="667.20" x2="668.20" y1="56.83" y2="56.83" stroke="#555" stroke-width="0.45"/>
<line x1="667.20" x2="668.20" y1="55.71" y2="55.71" stroke="#555" stroke-width="0.45"/>
<line x1="667.20" x2="668.20" y1="54.77" y2="54.77" stroke="#555" stroke-width="0.45"/>
<line x1="667.20" x2="668.20" y1="53.95" y2="53.95" stroke="#555" stroke-width="0.45"/>
<line x1="667.20" x2="668.20" y1="53.23" y2="53.23" stroke="#555" stroke-width="0.45"/>
<line x1="667.20" x2="668.80" y1="52.58" y2="52.58" stroke="#444" stroke-width="0.6"/>
<text x="670.50" y="54.98" font-size="5" style="stroke:none">10<tspan font-size="3.4" dy="-2.2">4</tspan></text>
<line x1="667.20" x2="668.20" y1="48.33" y2="48.33" stroke="#555" stroke-width="0.45"/>
<line x1="667.20" x2="668.20" y1="45.84" y2="45.84" stroke="#555" stroke-width="0.45"/>
<line x1="667.20" x2="668.20" y1="44.07" y2="44.07" stroke="#555" stroke-width="0.45"/>
<line x1="667.20" x2="668.20" y1="42.70" y2="42.70" stroke="#555" stroke-width="0.45"/>
<line x1="667.20" x2="668.20" y1="41.58" y2="41.58" stroke="#555" stroke-width="0.45"/>
<line x1="667.20" x2="668.20" y1="40.64" y2="40.64" stroke="#555" stroke-width="0.45"/>
<line x1="667.20" x2="668.20" y1="39.82" y2="39.82" stroke="#555" stroke-width="0.45"/>
<line x1="667.20" x2="668.20" y1="39.10" y2="39.10" stroke="#555" stroke-width="0.45"/>
<line x1="667.20" x2="668.80" y1="38.45" y2="38.45" stroke="#444" stroke-width="0.6"/>
<text x="670.50" y="40.85" font-size="5" style="stroke:none">10<tspan font-size="3.4" dy="-2.2">5</tspan></text>
<line x1="667.20" x2="668.20" y1="34.20" y2="34.20" stroke="#555" stroke-width="0.45"/>
<line x1="667.20" x2="668.20" y1="31.71" y2="31.71" stroke="#555" stroke-width="0.45"/>
<line x1="667.20" x2="668.20" y1="29.94" y2="29.94" stroke="#555" stroke-width="0.45"/>
<line x1="667.20" x2="668.20" y1="28.57" y2="28.57" stroke="#555" stroke-width="0.45"/>
<line x1="667.20" x2="668.20" y1="27.45" y2="27.45" stroke="#555" stroke-width="0.45"/>
<line x1="667.20" x2="668.20" y1="26.51" y2="26.51" stroke="#555" stroke-width="0.45"/>
<line x1="667.20" x2="668.20" y1="25.69" y2="25.69" stroke="#555" stroke-width="0.45"/>
<line x1="667.20" x2="668.20" y1="24.97" y2="24.97" stroke="#555" stroke-width="0.45"/>
<line x1="667.20" x2="668.80" y1="24.32" y2="24.32" stroke="#444" stroke-width="0.6"/>
<text x="670.50" y="26.72" font-size="5" style="stroke:none">10<tspan font-size="3.4" dy="-2.2">6</tspan></text>
<text transform="translate(685.30,66.85) rotate(-90)" font-size="6.35" text-anchor="middle" >Followers count</text>
<text x="22.70" y="154.30" font-size="9.0" text-anchor="start" >c)</text>
<text x="163.85" y="165.80" font-size="7.0" text-anchor="middle" textLength="42.1" lengthAdjust="spacingAndGlyphs">@CRI_Turkish</text>
<text x="18.30" y="170.75" font-size="5.2" text-anchor="end" >2024</text>
<line x1="19.90" x2="21.60" y1="168.90" y2="168.90" stroke="#333" stroke-width="0.75"/>
<text x="18.30" y="176.06" font-size="5.2" text-anchor="end" >2023</text>
<line x1="19.90" x2="21.60" y1="174.21" y2="174.21" stroke="#333" stroke-width="0.75"/>
<text x="18.30" y="181.37" font-size="5.2" text-anchor="end" >2022</text>
<line x1="19.90" x2="21.60" y1="179.52" y2="179.52" stroke="#333" stroke-width="0.75"/>
<text x="18.30" y="186.69" font-size="5.2" text-anchor="end" >2021</text>
<line x1="19.90" x2="21.60" y1="184.84" y2="184.84" stroke="#333" stroke-width="0.75"/>
<text x="18.30" y="192.00" font-size="5.2" text-anchor="end" >2020</text>
<line x1="19.90" x2="21.60" y1="190.15" y2="190.15" stroke="#333" stroke-width="0.75"/>
<text x="18.30" y="197.31" font-size="5.2" text-anchor="end" >2019</text>
<line x1="19.90" x2="21.60" y1="195.46" y2="195.46" stroke="#333" stroke-width="0.75"/>
<text x="18.30" y="202.62" font-size="5.2" text-anchor="end" >2018</text>
<line x1="19.90" x2="21.60" y1="200.77" y2="200.77" stroke="#333" stroke-width="0.75"/>
<text x="18.30" y="207.93" font-size="5.2" text-anchor="end" >2017</text>
<line x1="19.90" x2="21.60" y1="206.08" y2="206.08" stroke="#333" stroke-width="0.75"/>
<text x="18.30" y="213.25" font-size="5.2" text-anchor="end" >2016</text>
<line x1="19.90" x2="21.60" y1="211.40" y2="211.40" stroke="#333" stroke-width="0.75"/>
<text x="18.30" y="218.56" font-size="5.2" text-anchor="end" >2015</text>
<line x1="19.90" x2="21.60" y1="216.71" y2="216.71" stroke="#333" stroke-width="0.75"/>
<text x="18.30" y="223.87" font-size="5.2" text-anchor="end" >2014</text>
<line x1="19.90" x2="21.60" y1="222.02" y2="222.02" stroke="#333" stroke-width="0.75"/>
<text x="18.30" y="229.18" font-size="5.2" text-anchor="end" >2013</text>
<line x1="19.90" x2="21.60" y1="227.33" y2="227.33" stroke="#333" stroke-width="0.75"/>
<text x="18.30" y="234.49" font-size="5.2" text-anchor="end" >2012</text>
<line x1="19.90" x2="21.60" y1="232.64" y2="232.64" stroke="#333" stroke-width="0.75"/>
<text x="18.30" y="239.81" font-size="5.2" text-anchor="end" >2011</text>
<line x1="19.90" x2="21.60" y1="237.96" y2="237.96" stroke="#333" stroke-width="0.75"/>
<text x="18.30" y="245.12" font-size="5.2" text-anchor="end" >2010</text>
<line x1="19.90" x2="21.60" y1="243.27" y2="243.27" stroke="#333" stroke-width="0.75"/>
<text x="18.30" y="250.43" font-size="5.2" text-anchor="end" >2009</text>
<line x1="19.90" x2="21.60" y1="248.58" y2="248.58" stroke="#333" stroke-width="0.75"/>
<text x="18.30" y="255.74" font-size="5.2" text-anchor="end" >2008</text>
<line x1="19.90" x2="21.60" y1="253.89" y2="253.89" stroke="#333" stroke-width="0.75"/>
<text x="18.30" y="261.05" font-size="5.2" text-anchor="end" >2007</text>
<line x1="19.90" x2="21.60" y1="259.20" y2="259.20" stroke="#333" stroke-width="0.75"/>
<text transform="translate(4.50,211.80) rotate(-90)" font-size="5.9" text-anchor="middle" >Profile creation date</text>
<line x1="21.40" x2="21.40" y1="261.20" y2="262.80" stroke="#333" stroke-width="0.75"/>
<text transform="translate(23.30,265.00) rotate(-90)" font-size="5.3" text-anchor="end" >0</text>
<line x1="35.60" x2="35.60" y1="261.20" y2="262.80" stroke="#333" stroke-width="0.75"/>
<text transform="translate(37.50,265.00) rotate(-90)" font-size="5.3" text-anchor="end" >4300</text>
<line x1="49.80" x2="49.80" y1="261.20" y2="262.80" stroke="#333" stroke-width="0.75"/>
<text transform="translate(51.70,265.00) rotate(-90)" font-size="5.3" text-anchor="end" >8600</text>
<line x1="64.00" x2="64.00" y1="261.20" y2="262.80" stroke="#333" stroke-width="0.75"/>
<text transform="translate(65.90,265.00) rotate(-90)" font-size="5.3" text-anchor="end" >12900</text>
<line x1="78.20" x2="78.20" y1="261.20" y2="262.80" stroke="#333" stroke-width="0.75"/>
<text transform="translate(80.10,265.00) rotate(-90)" font-size="5.3" text-anchor="end" >17200</text>
<line x1="92.40" x2="92.40" y1="261.20" y2="262.80" stroke="#333" stroke-width="0.75"/>
<text transform="translate(94.30,265.00) rotate(-90)" font-size="5.3" text-anchor="end" >21500</text>
<line x1="106.60" x2="106.60" y1="261.20" y2="262.80" stroke="#333" stroke-width="0.75"/>
<text transform="translate(108.50,265.00) rotate(-90)" font-size="5.3" text-anchor="end" >25800</text>
<line x1="120.80" x2="120.80" y1="261.20" y2="262.80" stroke="#333" stroke-width="0.75"/>
<text transform="translate(122.70,265.00) rotate(-90)" font-size="5.3" text-anchor="end" >30100</text>
<line x1="135.00" x2="135.00" y1="261.20" y2="262.80" stroke="#333" stroke-width="0.75"/>
<text transform="translate(136.90,265.00) rotate(-90)" font-size="5.3" text-anchor="end" >34400</text>
<line x1="149.20" x2="149.20" y1="261.20" y2="262.80" stroke="#333" stroke-width="0.75"/>
<text transform="translate(151.10,265.00) rotate(-90)" font-size="5.3" text-anchor="end" >38700</text>
<line x1="163.40" x2="163.40" y1="261.20" y2="262.80" stroke="#333" stroke-width="0.75"/>
<text transform="translate(165.30,265.00) rotate(-90)" font-size="5.3" text-anchor="end" >43000</text>
<line x1="177.60" x2="177.60" y1="261.20" y2="262.80" stroke="#333" stroke-width="0.75"/>
<text transform="translate(179.50,265.00) rotate(-90)" font-size="5.3" text-anchor="end" >47300</text>
<line x1="191.80" x2="191.80" y1="261.20" y2="262.80" stroke="#333" stroke-width="0.75"/>
<text transform="translate(193.70,265.00) rotate(-90)" font-size="5.3" text-anchor="end" >51600</text>
<line x1="206.00" x2="206.00" y1="261.20" y2="262.80" stroke="#333" stroke-width="0.75"/>
<text transform="translate(207.90,265.00) rotate(-90)" font-size="5.3" text-anchor="end" >55900</text>
<line x1="220.20" x2="220.20" y1="261.20" y2="262.80" stroke="#333" stroke-width="0.75"/>
<text transform="translate(222.10,265.00) rotate(-90)" font-size="5.3" text-anchor="end" >60200</text>
<line x1="234.40" x2="234.40" y1="261.20" y2="262.80" stroke="#333" stroke-width="0.75"/>
<text transform="translate(236.30,265.00) rotate(-90)" font-size="5.3" text-anchor="end" >64500</text>
<line x1="248.60" x2="248.60" y1="261.20" y2="262.80" stroke="#333" stroke-width="0.75"/>
<text transform="translate(250.50,265.00) rotate(-90)" font-size="5.3" text-anchor="end" >68800</text>
<line x1="262.80" x2="262.80" y1="261.20" y2="262.80" stroke="#333" stroke-width="0.75"/>
<text transform="translate(264.70,265.00) rotate(-90)" font-size="5.3" text-anchor="end" >73100</text>
<line x1="277.00" x2="277.00" y1="261.20" y2="262.80" stroke="#333" stroke-width="0.75"/>
<text transform="translate(278.90,265.00) rotate(-90)" font-size="5.3" text-anchor="end" >77400</text>
<line x1="291.20" x2="291.20" y1="261.20" y2="262.80" stroke="#333" stroke-width="0.75"/>
<text transform="translate(293.10,265.00) rotate(-90)" font-size="5.3" text-anchor="end" >81700</text>
<line x1="305.40" x2="305.40" y1="261.20" y2="262.80" stroke="#333" stroke-width="0.75"/>
<text transform="translate(307.30,265.00) rotate(-90)" font-size="5.3" text-anchor="end" >86000</text>
<text x="163.85" y="285.80" font-size="6.1" text-anchor="middle" >Old followers &lt;-- Follower rank --&gt; New followers</text>
<defs><linearGradient id="gc" x1="0" y1="1" x2="0" y2="0"><stop offset="0.00" stop-color="#440154"/><stop offset="0.05" stop-color="#471365"/><stop offset="0.10" stop-color="#482475"/><stop offset="0.15" stop-color="#463480"/><stop offset="0.20" stop-color="#414487"/><stop offset="0.25" stop-color="#3b528b"/><stop offset="0.30" stop-color="#355f8d"/><stop offset="0.35" stop-color="#2f6c8e"/><stop offset="0.40" stop-color="#2a788e"/><stop offset="0.45" stop-color="#25848e"/><stop offset="0.50" stop-color="#21918c"/><stop offset="0.55" stop-color="#1e9c89"/><stop offset="0.60" stop-color="#22a884"/><stop offset="0.65" stop-color="#2fb47c"/><stop offset="0.70" stop-color="#44bf70"/><stop offset="0.75" stop-color="#5ec962"/><stop offset="0.80" stop-color="#7ad151"/><stop offset="0.85" stop-color="#9bd93c"/><stop offset="0.90" stop-color="#bddf26"/><stop offset="0.95" stop-color="#dfe318"/><stop offset="1.00" stop-color="#fde725"/></linearGradient></defs>
<rect x="314.10" y="169.10" width="4.70" height="91.30" fill="url(#gc)"/>
<line x1="318.80" x2="320.40" y1="250.10" y2="250.10" stroke="#444" stroke-width="0.6"/>
<text x="322.10" y="252.50" font-size="5" style="stroke:none">10<tspan font-size="3.4" dy="-2.2">0</tspan></text>
<line x1="318.80" x2="319.80" y1="245.63" y2="245.63" stroke="#555" stroke-width="0.45"/>
<line x1="318.80" x2="319.80" y1="243.01" y2="243.01" stroke="#555" stroke-width="0.45"/>
<line x1="318.80" x2="319.80" y1="241.15" y2="241.15" stroke="#555" stroke-width="0.45"/>
<line x1="318.80" x2="319.80" y1="239.71" y2="239.71" stroke="#555" stroke-width="0.45"/>
<line x1="318.80" x2="319.80" y1="238.54" y2="238.54" stroke="#555" stroke-width="0.45"/>
<line x1="318.80" x2="319.80" y1="237.54" y2="237.54" stroke="#555" stroke-width="0.45"/>
<line x1="318.80" x2="319.80" y1="236.68" y2="236.68" stroke="#555" stroke-width="0.45"/>
<line x1="318.80" x2="319.80" y1="235.92" y2="235.92" stroke="#555" stroke-width="0.45"/>
<line x1="318.80" x2="320.40" y1="235.24" y2="235.24" stroke="#444" stroke-width="0.6"/>
<text x="322.10" y="237.64" font-size="5" style="stroke:none">10<tspan font-size="3.4" dy="-2.2">1</tspan></text>
<line x1="318.80" x2="319.80" y1="230.77" y2="230.77" stroke="#555" stroke-width="0.45"/>
<line x1="318.80" x2="319.80" y1="228.15" y2="228.15" stroke="#555" stroke-width="0.45"/>
<line x1="318.80" x2="319.80" y1="226.29" y2="226.29" stroke="#555" stroke-width="0.45"/>
<line x1="318.80" x2="319.80" y1="224.85" y2="224.85" stroke="#555" stroke-width="0.45"/>
<line x1="318.80" x2="319.80" y1="223.68" y2="223.68" stroke="#555" stroke-width="0.45"/>
<line x1="318.80" x2="319.80" y1="222.68" y2="222.68" stroke="#555" stroke-width="0.45"/>
<line x1="318.80" x2="319.80" y1="221.82" y2="221.82" stroke="#555" stroke-width="0.45"/>
<line x1="318.80" x2="319.80" y1="221.06" y2="221.06" stroke="#555" stroke-width="0.45"/>
<line x1="318.80" x2="320.40" y1="220.38" y2="220.38" stroke="#444" stroke-width="0.6"/>
<text x="322.10" y="222.78" font-size="5" style="stroke:none">10<tspan font-size="3.4" dy="-2.2">2</tspan></text>
<line x1="318.80" x2="319.80" y1="215.91" y2="215.91" stroke="#555" stroke-width="0.45"/>
<line x1="318.80" x2="319.80" y1="213.29" y2="213.29" stroke="#555" stroke-width="0.45"/>
<line x1="318.80" x2="319.80" y1="211.43" y2="211.43" stroke="#555" stroke-width="0.45"/>
<line x1="318.80" x2="319.80" y1="209.99" y2="209.99" stroke="#555" stroke-width="0.45"/>
<line x1="318.80" x2="319.80" y1="208.82" y2="208.82" stroke="#555" stroke-width="0.45"/>
<line x1="318.80" x2="319.80" y1="207.82" y2="207.82" stroke="#555" stroke-width="0.45"/>
<line x1="318.80" x2="319.80" y1="206.96" y2="206.96" stroke="#555" stroke-width="0.45"/>
<line x1="318.80" x2="319.80" y1="206.20" y2="206.20" stroke="#555" stroke-width="0.45"/>
<line x1="318.80" x2="320.40" y1="205.52" y2="205.52" stroke="#444" stroke-width="0.6"/>
<text x="322.10" y="207.92" font-size="5" style="stroke:none">10<tspan font-size="3.4" dy="-2.2">3</tspan></text>
<line x1="318.80" x2="319.80" y1="201.05" y2="201.05" stroke="#555" stroke-width="0.45"/>
<line x1="318.80" x2="319.80" y1="198.43" y2="198.43" stroke="#555" stroke-width="0.45"/>
<line x1="318.80" x2="319.80" y1="196.57" y2="196.57" stroke="#555" stroke-width="0.45"/>
<line x1="318.80" x2="319.80" y1="195.13" y2="195.13" stroke="#555" stroke-width="0.45"/>
<line x1="318.80" x2="319.80" y1="193.96" y2="193.96" stroke="#555" stroke-width="0.45"/>
<line x1="318.80" x2="319.80" y1="192.96" y2="192.96" stroke="#555" stroke-width="0.45"/>
<line x1="318.80" x2="319.80" y1="192.10" y2="192.10" stroke="#555" stroke-width="0.45"/>
<line x1="318.80" x2="319.80" y1="191.34" y2="191.34" stroke="#555" stroke-width="0.45"/>
<line x1="318.80" x2="320.40" y1="190.66" y2="190.66" stroke="#444" stroke-width="0.6"/>
<text x="322.10" y="193.06" font-size="5" style="stroke:none">10<tspan font-size="3.4" dy="-2.2">4</tspan></text>
<line x1="318.80" x2="319.80" y1="186.19" y2="186.19" stroke="#555" stroke-width="0.45"/>
<line x1="318.80" x2="319.80" y1="183.57" y2="183.57" stroke="#555" stroke-width="0.45"/>
<line x1="318.80" x2="319.80" y1="181.71" y2="181.71" stroke="#555" stroke-width="0.45"/>
<line x1="318.80" x2="319.80" y1="180.27" y2="180.27" stroke="#555" stroke-width="0.45"/>
<line x1="318.80" x2="319.80" y1="179.10" y2="179.10" stroke="#555" stroke-width="0.45"/>
<line x1="318.80" x2="319.80" y1="178.10" y2="178.10" stroke="#555" stroke-width="0.45"/>
<line x1="318.80" x2="319.80" y1="177.24" y2="177.24" stroke="#555" stroke-width="0.45"/>
<line x1="318.80" x2="319.80" y1="176.48" y2="176.48" stroke="#555" stroke-width="0.45"/>
<line x1="318.80" x2="320.40" y1="175.80" y2="175.80" stroke="#444" stroke-width="0.6"/>
<text x="322.10" y="178.20" font-size="5" style="stroke:none">10<tspan font-size="3.4" dy="-2.2">5</tspan></text>
<line x1="318.80" x2="319.80" y1="171.33" y2="171.33" stroke="#555" stroke-width="0.45"/>
<text transform="translate(336.10,214.35) rotate(-90)" font-size="6.35" text-anchor="middle" >Followers count</text>
<text x="371.90" y="154.30" font-size="9.0" text-anchor="start" >d)</text>
<text x="513.10" y="165.80" font-size="7.0" text-anchor="middle" textLength="50.8" lengthAdjust="spacingAndGlyphs">@mustafademir</text>
<text x="367.50" y="170.75" font-size="5.2" text-anchor="end" >2024</text>
<line x1="369.10" x2="370.80" y1="168.90" y2="168.90" stroke="#333" stroke-width="0.75"/>
<text x="367.50" y="176.00" font-size="5.2" text-anchor="end" >2023</text>
<line x1="369.10" x2="370.80" y1="174.15" y2="174.15" stroke="#333" stroke-width="0.75"/>
<text x="367.50" y="181.26" font-size="5.2" text-anchor="end" >2022</text>
<line x1="369.10" x2="370.80" y1="179.41" y2="179.41" stroke="#333" stroke-width="0.75"/>
<text x="367.50" y="186.51" font-size="5.2" text-anchor="end" >2021</text>
<line x1="369.10" x2="370.80" y1="184.66" y2="184.66" stroke="#333" stroke-width="0.75"/>
<text x="367.50" y="191.76" font-size="5.2" text-anchor="end" >2020</text>
<line x1="369.10" x2="370.80" y1="189.91" y2="189.91" stroke="#333" stroke-width="0.75"/>
<text x="367.50" y="197.02" font-size="5.2" text-anchor="end" >2019</text>
<line x1="369.10" x2="370.80" y1="195.17" y2="195.17" stroke="#333" stroke-width="0.75"/>
<text x="367.50" y="202.27" font-size="5.2" text-anchor="end" >2018</text>
<line x1="369.10" x2="370.80" y1="200.42" y2="200.42" stroke="#333" stroke-width="0.75"/>
<text x="367.50" y="207.52" font-size="5.2" text-anchor="end" >2017</text>
<line x1="369.10" x2="370.80" y1="205.67" y2="205.67" stroke="#333" stroke-width="0.75"/>
<text x="367.50" y="212.77" font-size="5.2" text-anchor="end" >2016</text>
<line x1="369.10" x2="370.80" y1="210.92" y2="210.92" stroke="#333" stroke-width="0.75"/>
<text x="367.50" y="218.03" font-size="5.2" text-anchor="end" >2015</text>
<line x1="369.10" x2="370.80" y1="216.18" y2="216.18" stroke="#333" stroke-width="0.75"/>
<text x="367.50" y="223.28" font-size="5.2" text-anchor="end" >2014</text>
<line x1="369.10" x2="370.80" y1="221.43" y2="221.43" stroke="#333" stroke-width="0.75"/>
<text x="367.50" y="228.53" font-size="5.2" text-anchor="end" >2013</text>
<line x1="369.10" x2="370.80" y1="226.68" y2="226.68" stroke="#333" stroke-width="0.75"/>
<text x="367.50" y="233.79" font-size="5.2" text-anchor="end" >2012</text>
<line x1="369.10" x2="370.80" y1="231.94" y2="231.94" stroke="#333" stroke-width="0.75"/>
<text x="367.50" y="239.04" font-size="5.2" text-anchor="end" >2011</text>
<line x1="369.10" x2="370.80" y1="237.19" y2="237.19" stroke="#333" stroke-width="0.75"/>
<text x="367.50" y="244.29" font-size="5.2" text-anchor="end" >2010</text>
<line x1="369.10" x2="370.80" y1="242.44" y2="242.44" stroke="#333" stroke-width="0.75"/>
<text x="367.50" y="249.54" font-size="5.2" text-anchor="end" >2009</text>
<line x1="369.10" x2="370.80" y1="247.69" y2="247.69" stroke="#333" stroke-width="0.75"/>
<text x="367.50" y="254.80" font-size="5.2" text-anchor="end" >2008</text>
<line x1="369.10" x2="370.80" y1="252.95" y2="252.95" stroke="#333" stroke-width="0.75"/>
<text x="367.50" y="260.05" font-size="5.2" text-anchor="end" >2007</text>
<line x1="369.10" x2="370.80" y1="258.20" y2="258.20" stroke="#333" stroke-width="0.75"/>
<text transform="translate(353.70,211.30) rotate(-90)" font-size="5.9" text-anchor="middle" >Profile creation date</text>
<line x1="370.60" x2="370.60" y1="258.40" y2="260.00" stroke="#333" stroke-width="0.75"/>
<text transform="translate(372.50,261.80) rotate(-90)" font-size="5.3" text-anchor="end" >0</text>
<line x1="384.87" x2="384.87" y1="258.40" y2="260.00" stroke="#333" stroke-width="0.75"/>
<text transform="translate(386.77,261.80) rotate(-90)" font-size="5.3" text-anchor="end" >9200</text>
<line x1="399.14" x2="399.14" y1="258.40" y2="260.00" stroke="#333" stroke-width="0.75"/>
<text transform="translate(401.04,261.80) rotate(-90)" font-size="5.3" text-anchor="end" >18400</text>
<line x1="413.41" x2="413.41" y1="258.40" y2="260.00" stroke="#333" stroke-width="0.75"/>
<text transform="translate(415.31,261.80) rotate(-90)" font-size="5.3" text-anchor="end" >27600</text>
<line x1="427.68" x2="427.68" y1="258.40" y2="260.00" stroke="#333" stroke-width="0.75"/>
<text transform="translate(429.58,261.80) rotate(-90)" font-size="5.3" text-anchor="end" >36800</text>
<line x1="441.95" x2="441.95" y1="258.40" y2="260.00" stroke="#333" stroke-width="0.75"/>
<text transform="translate(443.85,261.80) rotate(-90)" font-size="5.3" text-anchor="end" >46000</text>
<line x1="456.22" x2="456.22" y1="258.40" y2="260.00" stroke="#333" stroke-width="0.75"/>
<text transform="translate(458.12,261.80) rotate(-90)" font-size="5.3" text-anchor="end" >55200</text>
<line x1="470.49" x2="470.49" y1="258.40" y2="260.00" stroke="#333" stroke-width="0.75"/>
<text transform="translate(472.39,261.80) rotate(-90)" font-size="5.3" text-anchor="end" >64400</text>
<line x1="484.76" x2="484.76" y1="258.40" y2="260.00" stroke="#333" stroke-width="0.75"/>
<text transform="translate(486.66,261.80) rotate(-90)" font-size="5.3" text-anchor="end" >73600</text>
<line x1="499.03" x2="499.03" y1="258.40" y2="260.00" stroke="#333" stroke-width="0.75"/>
<text transform="translate(500.93,261.80) rotate(-90)" font-size="5.3" text-anchor="end" >82800</text>
<line x1="513.30" x2="513.30" y1="258.40" y2="260.00" stroke="#333" stroke-width="0.75"/>
<text transform="translate(515.20,261.80) rotate(-90)" font-size="5.3" text-anchor="end" >92000</text>
<line x1="527.57" x2="527.57" y1="258.40" y2="260.00" stroke="#333" stroke-width="0.75"/>
<text transform="translate(529.47,261.80) rotate(-90)" font-size="5.3" text-anchor="end" >101200</text>
<line x1="541.84" x2="541.84" y1="258.40" y2="260.00" stroke="#333" stroke-width="0.75"/>
<text transform="translate(543.74,261.80) rotate(-90)" font-size="5.3" text-anchor="end" >110400</text>
<line x1="556.11" x2="556.11" y1="258.40" y2="260.00" stroke="#333" stroke-width="0.75"/>
<text transform="translate(558.01,261.80) rotate(-90)" font-size="5.3" text-anchor="end" >119600</text>
<line x1="570.38" x2="570.38" y1="258.40" y2="260.00" stroke="#333" stroke-width="0.75"/>
<text transform="translate(572.28,261.80) rotate(-90)" font-size="5.3" text-anchor="end" >128800</text>
<line x1="584.65" x2="584.65" y1="258.40" y2="260.00" stroke="#333" stroke-width="0.75"/>
<text transform="translate(586.55,261.80) rotate(-90)" font-size="5.3" text-anchor="end" >138000</text>
<line x1="598.92" x2="598.92" y1="258.40" y2="260.00" stroke="#333" stroke-width="0.75"/>
<text transform="translate(600.82,261.80) rotate(-90)" font-size="5.3" text-anchor="end" >147200</text>
<line x1="613.19" x2="613.19" y1="258.40" y2="260.00" stroke="#333" stroke-width="0.75"/>
<text transform="translate(615.09,261.80) rotate(-90)" font-size="5.3" text-anchor="end" >156400</text>
<line x1="627.46" x2="627.46" y1="258.40" y2="260.00" stroke="#333" stroke-width="0.75"/>
<text transform="translate(629.36,261.80) rotate(-90)" font-size="5.3" text-anchor="end" >165600</text>
<line x1="641.73" x2="641.73" y1="258.40" y2="260.00" stroke="#333" stroke-width="0.75"/>
<text transform="translate(643.63,261.80) rotate(-90)" font-size="5.3" text-anchor="end" >174800</text>
<line x1="656.00" x2="656.00" y1="258.40" y2="260.00" stroke="#333" stroke-width="0.75"/>
<text transform="translate(657.90,261.80) rotate(-90)" font-size="5.3" text-anchor="end" >184000</text>
<text x="513.10" y="285.80" font-size="6.1" text-anchor="middle" >Old followers &lt;-- Follower rank --&gt; New followers</text>
<defs><linearGradient id="gd" x1="0" y1="1" x2="0" y2="0"><stop offset="0.00" stop-color="#440154"/><stop offset="0.05" stop-color="#471365"/><stop offset="0.10" stop-color="#482475"/><stop offset="0.15" stop-color="#463480"/><stop offset="0.20" stop-color="#414487"/><stop offset="0.25" stop-color="#3b528b"/><stop offset="0.30" stop-color="#355f8d"/><stop offset="0.35" stop-color="#2f6c8e"/><stop offset="0.40" stop-color="#2a788e"/><stop offset="0.45" stop-color="#25848e"/><stop offset="0.50" stop-color="#21918c"/><stop offset="0.55" stop-color="#1e9c89"/><stop offset="0.60" stop-color="#22a884"/><stop offset="0.65" stop-color="#2fb47c"/><stop offset="0.70" stop-color="#44bf70"/><stop offset="0.75" stop-color="#5ec962"/><stop offset="0.80" stop-color="#7ad151"/><stop offset="0.85" stop-color="#9bd93c"/><stop offset="0.90" stop-color="#bddf26"/><stop offset="0.95" stop-color="#dfe318"/><stop offset="1.00" stop-color="#fde725"/></linearGradient></defs>
<rect x="663.50" y="168.70" width="4.40" height="90.10" fill="url(#gd)"/>
<line x1="667.90" x2="669.50" y1="250.00" y2="250.00" stroke="#444" stroke-width="0.6"/>
<text x="671.20" y="252.40" font-size="5" style="stroke:none">10<tspan font-size="3.4" dy="-2.2">0</tspan></text>
<line x1="667.90" x2="668.90" y1="246.05" y2="246.05" stroke="#555" stroke-width="0.45"/>
<line x1="667.90" x2="668.90" y1="243.74" y2="243.74" stroke="#555" stroke-width="0.45"/>
<line x1="667.90" x2="668.90" y1="242.09" y2="242.09" stroke="#555" stroke-width="0.45"/>
<line x1="667.90" x2="668.90" y1="240.82" y2="240.82" stroke="#555" stroke-width="0.45"/>
<line x1="667.90" x2="668.90" y1="239.78" y2="239.78" stroke="#555" stroke-width="0.45"/>
<line x1="667.90" x2="668.90" y1="238.90" y2="238.90" stroke="#555" stroke-width="0.45"/>
<line x1="667.90" x2="668.90" y1="238.14" y2="238.14" stroke="#555" stroke-width="0.45"/>
<line x1="667.90" x2="668.90" y1="237.47" y2="237.47" stroke="#555" stroke-width="0.45"/>
<line x1="667.90" x2="669.50" y1="236.87" y2="236.87" stroke="#444" stroke-width="0.6"/>
<text x="671.20" y="239.27" font-size="5" style="stroke:none">10<tspan font-size="3.4" dy="-2.2">1</tspan></text>
<line x1="667.90" x2="668.90" y1="232.92" y2="232.92" stroke="#555" stroke-width="0.45"/>
<line x1="667.90" x2="668.90" y1="230.61" y2="230.61" stroke="#555" stroke-width="0.45"/>
<line x1="667.90" x2="668.90" y1="228.96" y2="228.96" stroke="#555" stroke-width="0.45"/>
<line x1="667.90" x2="668.90" y1="227.69" y2="227.69" stroke="#555" stroke-width="0.45"/>
<line x1="667.90" x2="668.90" y1="226.65" y2="226.65" stroke="#555" stroke-width="0.45"/>
<line x1="667.90" x2="668.90" y1="225.77" y2="225.77" stroke="#555" stroke-width="0.45"/>
<line x1="667.90" x2="668.90" y1="225.01" y2="225.01" stroke="#555" stroke-width="0.45"/>
<line x1="667.90" x2="668.90" y1="224.34" y2="224.34" stroke="#555" stroke-width="0.45"/>
<line x1="667.90" x2="669.50" y1="223.74" y2="223.74" stroke="#444" stroke-width="0.6"/>
<text x="671.20" y="226.14" font-size="5" style="stroke:none">10<tspan font-size="3.4" dy="-2.2">2</tspan></text>
<line x1="667.90" x2="668.90" y1="219.79" y2="219.79" stroke="#555" stroke-width="0.45"/>
<line x1="667.90" x2="668.90" y1="217.48" y2="217.48" stroke="#555" stroke-width="0.45"/>
<line x1="667.90" x2="668.90" y1="215.83" y2="215.83" stroke="#555" stroke-width="0.45"/>
<line x1="667.90" x2="668.90" y1="214.56" y2="214.56" stroke="#555" stroke-width="0.45"/>
<line x1="667.90" x2="668.90" y1="213.52" y2="213.52" stroke="#555" stroke-width="0.45"/>
<line x1="667.90" x2="668.90" y1="212.64" y2="212.64" stroke="#555" stroke-width="0.45"/>
<line x1="667.90" x2="668.90" y1="211.88" y2="211.88" stroke="#555" stroke-width="0.45"/>
<line x1="667.90" x2="668.90" y1="211.21" y2="211.21" stroke="#555" stroke-width="0.45"/>
<line x1="667.90" x2="669.50" y1="210.61" y2="210.61" stroke="#444" stroke-width="0.6"/>
<text x="671.20" y="213.01" font-size="5" style="stroke:none">10<tspan font-size="3.4" dy="-2.2">3</tspan></text>
<line x1="667.90" x2="668.90" y1="206.66" y2="206.66" stroke="#555" stroke-width="0.45"/>
<line x1="667.90" x2="668.90" y1="204.35" y2="204.35" stroke="#555" stroke-width="0.45"/>
<line x1="667.90" x2="668.90" y1="202.70" y2="202.70" stroke="#555" stroke-width="0.45"/>
<line x1="667.90" x2="668.90" y1="201.43" y2="201.43" stroke="#555" stroke-width="0.45"/>
<line x1="667.90" x2="668.90" y1="200.39" y2="200.39" stroke="#555" stroke-width="0.45"/>
<line x1="667.90" x2="668.90" y1="199.51" y2="199.51" stroke="#555" stroke-width="0.45"/>
<line x1="667.90" x2="668.90" y1="198.75" y2="198.75" stroke="#555" stroke-width="0.45"/>
<line x1="667.90" x2="668.90" y1="198.08" y2="198.08" stroke="#555" stroke-width="0.45"/>
<line x1="667.90" x2="669.50" y1="197.48" y2="197.48" stroke="#444" stroke-width="0.6"/>
<text x="671.20" y="199.88" font-size="5" style="stroke:none">10<tspan font-size="3.4" dy="-2.2">4</tspan></text>
<line x1="667.90" x2="668.90" y1="193.53" y2="193.53" stroke="#555" stroke-width="0.45"/>
<line x1="667.90" x2="668.90" y1="191.22" y2="191.22" stroke="#555" stroke-width="0.45"/>
<line x1="667.90" x2="668.90" y1="189.57" y2="189.57" stroke="#555" stroke-width="0.45"/>
<line x1="667.90" x2="668.90" y1="188.30" y2="188.30" stroke="#555" stroke-width="0.45"/>
<line x1="667.90" x2="668.90" y1="187.26" y2="187.26" stroke="#555" stroke-width="0.45"/>
<line x1="667.90" x2="668.90" y1="186.38" y2="186.38" stroke="#555" stroke-width="0.45"/>
<line x1="667.90" x2="668.90" y1="185.62" y2="185.62" stroke="#555" stroke-width="0.45"/>
<line x1="667.90" x2="668.90" y1="184.95" y2="184.95" stroke="#555" stroke-width="0.45"/>
<line x1="667.90" x2="669.50" y1="184.35" y2="184.35" stroke="#444" stroke-width="0.6"/>
<text x="671.20" y="186.75" font-size="5" style="stroke:none">10<tspan font-size="3.4" dy="-2.2">5</tspan></text>
<line x1="667.90" x2="668.90" y1="180.40" y2="180.40" stroke="#555" stroke-width="0.45"/>
<line x1="667.90" x2="668.90" y1="178.09" y2="178.09" stroke="#555" stroke-width="0.45"/>
<line x1="667.90" x2="668.90" y1="176.44" y2="176.44" stroke="#555" stroke-width="0.45"/>
<line x1="667.90" x2="668.90" y1="175.17" y2="175.17" stroke="#555" stroke-width="0.45"/>
<line x1="667.90" x2="668.90" y1="174.13" y2="174.13" stroke="#555" stroke-width="0.45"/>
<line x1="667.90" x2="668.90" y1="173.25" y2="173.25" stroke="#555" stroke-width="0.45"/>
<line x1="667.90" x2="668.90" y1="172.49" y2="172.49" stroke="#555" stroke-width="0.45"/>
<line x1="667.90" x2="668.90" y1="171.82" y2="171.82" stroke="#555" stroke-width="0.45"/>
<line x1="667.90" x2="669.50" y1="171.22" y2="171.22" stroke="#444" stroke-width="0.6"/>
<text x="671.20" y="173.62" font-size="5" style="stroke:none">10<tspan font-size="3.4" dy="-2.2">6</tspan></text>
<text transform="translate(685.30,214.35) rotate(-90)" font-size="6.35" text-anchor="middle" >Followers count</text>
</g></svg></body></html>
